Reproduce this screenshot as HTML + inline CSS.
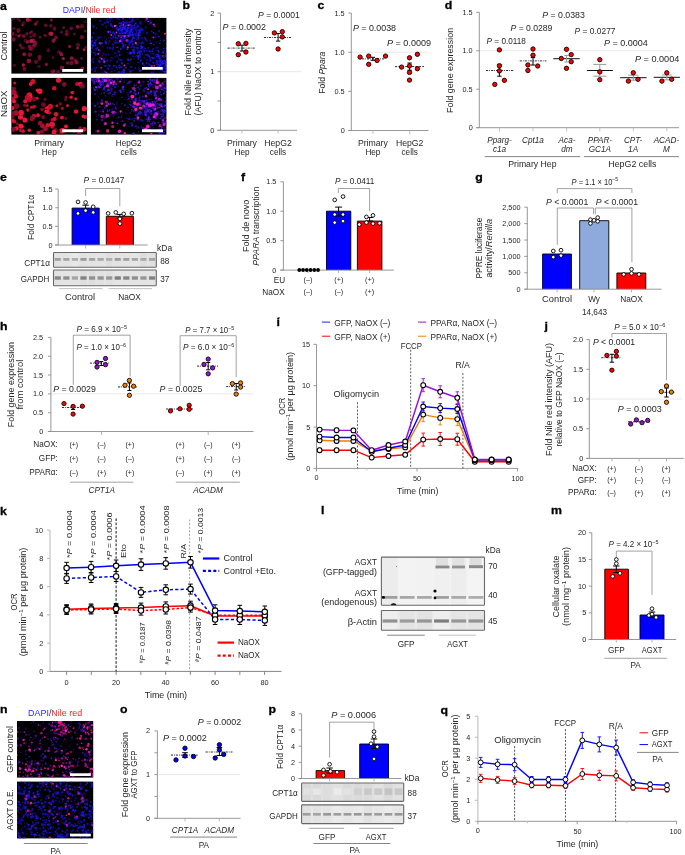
<!DOCTYPE html><html><head><meta charset="utf-8"><title>Figure</title><style>html,body{margin:0;padding:0;background:#fff;width:685px;height:855px;overflow:hidden}svg{display:block;font-family:"Liberation Sans",sans-serif;will-change:transform}</style></head><body><svg width="685" height="855" viewBox="0 0 685 855" font-family="Liberation Sans, sans-serif" fill="#262626"><defs><filter id="blur1" x="-5%" y="-5%" width="110%" height="110%"><feGaussianBlur stdDeviation="0.7"/></filter><filter id="blur2" x="-5%" y="-50%" width="110%" height="200%"><feGaussianBlur stdDeviation="0.6"/></filter><filter id="blur3" x="-50%" y="-50%" width="200%" height="200%"><feGaussianBlur stdDeviation="0.35"/></filter></defs><rect width="685" height="855" fill="#fff"/><text transform="translate(0.00 9.60) scale(1.07 1)" font-size="11.5" font-weight="bold" fill="#000" stroke="#000" stroke-width="0.3">a</text>
<text x="62.80" y="12.80" font-size="8.4" textLength="52.60" lengthAdjust="spacingAndGlyphs"><tspan fill="#2a2aff">DAPI</tspan>/<tspan fill="#ff2020">Nile red</tspan></text>
<clipPath id="clip1"><rect x="11.4" y="17.9" width="75.70" height="55.70"/></clipPath>
<rect x="11.4" y="17.9" width="75.70" height="55.70" fill="#000"/>
<g clip-path="url(#clip1)"><g filter="url(#blur1)">
<circle cx="96.3" cy="6.7" r="1.75" fill="#c81840" opacity="0.75"/>
<circle cx="53.8" cy="4.7" r="2.13" fill="#901030" opacity="0.79"/>
<circle cx="53.8" cy="4.7" r="0.85" fill="#3a20b0" opacity="0.60"/>
<circle cx="63.3" cy="58.5" r="1.60" fill="#c81840" opacity="0.86"/>
<circle cx="14.0" cy="28.4" r="1.77" fill="#601028" opacity="0.75"/>
<circle cx="14.0" cy="28.4" r="0.71" fill="#3a20b0" opacity="0.60"/>
<circle cx="50.9" cy="25.8" r="1.84" fill="#901030" opacity="0.62"/>
<circle cx="50.9" cy="25.8" r="0.73" fill="#3a20b0" opacity="0.60"/>
<circle cx="-7.5" cy="61.8" r="1.46" fill="#901030" opacity="0.93"/>
<circle cx="31.8" cy="48.4" r="2.25" fill="#601028" opacity="0.86"/>
<circle cx="67.5" cy="63.0" r="1.77" fill="#901030" opacity="0.72"/>
<circle cx="67.5" cy="63.0" r="0.71" fill="#3a20b0" opacity="0.60"/>
<circle cx="54.5" cy="29.0" r="1.76" fill="#901030" opacity="0.69"/>
<circle cx="54.5" cy="29.0" r="0.70" fill="#3a20b0" opacity="0.60"/>
<circle cx="58.6" cy="52.0" r="1.70" fill="#601028" opacity="0.64"/>
<circle cx="58.6" cy="52.0" r="0.68" fill="#3a20b0" opacity="0.60"/>
<circle cx="76.6" cy="62.4" r="2.08" fill="#c81840" opacity="0.65"/>
<circle cx="17.7" cy="18.8" r="1.22" fill="#901030" opacity="0.65"/>
<circle cx="17.7" cy="18.8" r="0.49" fill="#3a20b0" opacity="0.60"/>
<circle cx="37.5" cy="21.8" r="1.38" fill="#901030" opacity="0.62"/>
<circle cx="37.5" cy="21.8" r="0.55" fill="#3a20b0" opacity="0.60"/>
<circle cx="45.8" cy="35.8" r="1.72" fill="#601028" opacity="0.70"/>
<circle cx="45.8" cy="35.8" r="0.69" fill="#3a20b0" opacity="0.60"/>
<circle cx="28.9" cy="61.0" r="2.27" fill="#c81840" opacity="0.72"/>
<circle cx="88.0" cy="24.7" r="1.38" fill="#901030" opacity="0.82"/>
<circle cx="30.2" cy="20.2" r="1.45" fill="#901030" opacity="0.71"/>
<circle cx="16.1" cy="34.8" r="1.34" fill="#601028" opacity="0.57"/>
<circle cx="16.1" cy="34.8" r="0.54" fill="#3a20b0" opacity="0.60"/>
<circle cx="70.3" cy="5.1" r="1.48" fill="#601028" opacity="0.90"/>
<circle cx="70.3" cy="5.1" r="0.59" fill="#3a20b0" opacity="0.60"/>
<circle cx="84.2" cy="49.7" r="1.39" fill="#c81840" opacity="0.94"/>
<circle cx="40.0" cy="37.2" r="1.43" fill="#901030" opacity="0.72"/>
<circle cx="40.0" cy="37.2" r="0.57" fill="#3a20b0" opacity="0.60"/>
<circle cx="20.4" cy="35.0" r="1.22" fill="#901030" opacity="0.71"/>
<circle cx="20.4" cy="35.0" r="0.49" fill="#3a20b0" opacity="0.60"/>
<circle cx="5.8" cy="109.7" r="2.06" fill="#601028" opacity="0.64"/>
<circle cx="82.0" cy="37.1" r="2.17" fill="#901030" opacity="0.74"/>
<circle cx="49.1" cy="33.6" r="1.38" fill="#901030" opacity="0.66"/>
<circle cx="49.1" cy="33.6" r="0.55" fill="#3a20b0" opacity="0.60"/>
<circle cx="30.7" cy="36.8" r="1.33" fill="#601028" opacity="0.93"/>
<circle cx="48.4" cy="50.2" r="2.05" fill="#601028" opacity="0.71"/>
<circle cx="48.4" cy="50.2" r="0.82" fill="#3a20b0" opacity="0.60"/>
<circle cx="22.6" cy="24.9" r="1.33" fill="#901030" opacity="0.92"/>
<circle cx="22.6" cy="24.9" r="0.53" fill="#3a20b0" opacity="0.60"/>
<circle cx="54.2" cy="70.9" r="1.60" fill="#601028" opacity="0.76"/>
<circle cx="54.2" cy="70.9" r="0.64" fill="#3a20b0" opacity="0.60"/>
<circle cx="19.6" cy="20.4" r="1.53" fill="#901030" opacity="0.56"/>
<circle cx="19.6" cy="20.4" r="0.61" fill="#3a20b0" opacity="0.60"/>
<circle cx="71.2" cy="28.4" r="2.06" fill="#901030" opacity="0.61"/>
<circle cx="71.2" cy="28.4" r="0.83" fill="#3a20b0" opacity="0.60"/>
<circle cx="23.4" cy="65.0" r="1.68" fill="#c81840" opacity="0.87"/>
<circle cx="53.1" cy="57.5" r="1.55" fill="#601028" opacity="0.68"/>
<circle cx="53.1" cy="57.5" r="0.62" fill="#3a20b0" opacity="0.60"/>
<circle cx="81.5" cy="58.4" r="1.55" fill="#601028" opacity="0.71"/>
<circle cx="81.5" cy="58.4" r="0.62" fill="#3a20b0" opacity="0.60"/>
<circle cx="31.3" cy="41.0" r="1.44" fill="#901030" opacity="0.94"/>
<circle cx="61.5" cy="32.3" r="1.80" fill="#601028" opacity="0.65"/>
<circle cx="61.5" cy="32.3" r="0.72" fill="#3a20b0" opacity="0.60"/>
<circle cx="61.5" cy="54.4" r="1.91" fill="#c81840" opacity="0.71"/>
<circle cx="61.5" cy="54.4" r="0.76" fill="#3a20b0" opacity="0.60"/>
<circle cx="72.1" cy="11.8" r="2.21" fill="#601028" opacity="0.59"/>
<circle cx="18.4" cy="30.2" r="2.09" fill="#901030" opacity="0.66"/>
<circle cx="13.0" cy="18.5" r="2.03" fill="#601028" opacity="0.74"/>
<circle cx="78.1" cy="44.9" r="2.24" fill="#601028" opacity="0.86"/>
<circle cx="35.6" cy="23.9" r="1.77" fill="#c81840" opacity="0.67"/>
<circle cx="51.2" cy="33.8" r="2.19" fill="#c81840" opacity="0.91"/>
<circle cx="63.6" cy="27.8" r="1.68" fill="#601028" opacity="0.84"/>
<circle cx="24.9" cy="36.0" r="1.67" fill="#601028" opacity="0.73"/>
<circle cx="18.3" cy="84.6" r="1.23" fill="#901030" opacity="0.72"/>
<circle cx="51.4" cy="20.2" r="1.35" fill="#c81840" opacity="0.66"/>
<circle cx="29.4" cy="46.6" r="1.78" fill="#901030" opacity="0.81"/>
<circle cx="29.4" cy="46.6" r="0.71" fill="#3a20b0" opacity="0.60"/>
<circle cx="66.8" cy="31.2" r="1.74" fill="#901030" opacity="0.64"/>
<circle cx="66.8" cy="31.2" r="0.70" fill="#3a20b0" opacity="0.60"/>
<circle cx="80.1" cy="69.0" r="1.50" fill="#901030" opacity="0.57"/>
<circle cx="80.1" cy="69.0" r="0.60" fill="#3a20b0" opacity="0.60"/>
<circle cx="77.8" cy="26.8" r="2.04" fill="#c81840" opacity="0.67"/>
<circle cx="39.5" cy="57.0" r="2.01" fill="#901030" opacity="0.89"/>
<circle cx="54.6" cy="27.7" r="1.48" fill="#601028" opacity="0.78"/>
<circle cx="18.8" cy="36.0" r="1.62" fill="#c81840" opacity="0.77"/>
<circle cx="18.2" cy="32.1" r="1.31" fill="#901030" opacity="0.58"/>
<circle cx="58.1" cy="71.8" r="1.96" fill="#601028" opacity="0.89"/>
<circle cx="58.1" cy="71.8" r="0.78" fill="#3a20b0" opacity="0.60"/>
<circle cx="82.6" cy="68.2" r="1.64" fill="#c81840" opacity="0.73"/>
<circle cx="27.4" cy="41.9" r="1.79" fill="#c81840" opacity="0.81"/>
<circle cx="27.4" cy="41.9" r="0.71" fill="#3a20b0" opacity="0.60"/>
<circle cx="30.1" cy="41.0" r="1.68" fill="#601028" opacity="0.80"/>
<circle cx="27.0" cy="33.8" r="1.80" fill="#601028" opacity="0.78"/>
<circle cx="27.0" cy="33.8" r="0.72" fill="#3a20b0" opacity="0.60"/>
<circle cx="71.3" cy="62.9" r="2.27" fill="#901030" opacity="0.75"/>
<circle cx="54.6" cy="39.2" r="1.51" fill="#601028" opacity="0.87"/>
<circle cx="54.6" cy="39.2" r="0.60" fill="#3a20b0" opacity="0.60"/>
<circle cx="52.7" cy="71.6" r="2.04" fill="#c81840" opacity="0.60"/>
<circle cx="35.0" cy="45.9" r="1.59" fill="#901030" opacity="0.55"/>
<circle cx="35.0" cy="45.9" r="0.64" fill="#3a20b0" opacity="0.60"/>
<circle cx="62.2" cy="12.9" r="2.00" fill="#901030" opacity="0.60"/>
<circle cx="31.1" cy="41.1" r="1.86" fill="#c81840" opacity="0.88"/>
<circle cx="46.3" cy="64.4" r="1.65" fill="#901030" opacity="0.95"/>
<circle cx="46.3" cy="64.4" r="0.66" fill="#3a20b0" opacity="0.60"/>
<circle cx="23.3" cy="36.1" r="1.78" fill="#901030" opacity="0.78"/>
<circle cx="12.5" cy="33.7" r="2.19" fill="#901030" opacity="0.75"/>
<circle cx="60.5" cy="53.0" r="1.65" fill="#901030" opacity="0.80"/>
<circle cx="75.5" cy="60.6" r="2.10" fill="#901030" opacity="0.69"/>
<circle cx="75.5" cy="60.6" r="0.84" fill="#3a20b0" opacity="0.60"/>
<circle cx="77.6" cy="48.2" r="1.37" fill="#c81840" opacity="0.74"/>
<circle cx="77.6" cy="48.2" r="0.55" fill="#3a20b0" opacity="0.60"/>
<circle cx="32.9" cy="45.8" r="1.28" fill="#601028" opacity="0.73"/>
<circle cx="32.9" cy="45.8" r="0.51" fill="#3a20b0" opacity="0.60"/>
<circle cx="23.6" cy="23.1" r="1.90" fill="#601028" opacity="0.67"/>
<circle cx="66.7" cy="34.3" r="2.11" fill="#901030" opacity="0.70"/>
<circle cx="24.2" cy="54.3" r="1.98" fill="#c81840" opacity="0.66"/>
<circle cx="20.3" cy="45.2" r="1.49" fill="#901030" opacity="0.84"/>
<circle cx="20.3" cy="45.2" r="0.59" fill="#3a20b0" opacity="0.60"/>
<circle cx="29.9" cy="54.7" r="2.14" fill="#c81840" opacity="0.71"/>
<circle cx="30.2" cy="32.9" r="1.28" fill="#901030" opacity="0.90"/>
<circle cx="82.0" cy="26.2" r="2.24" fill="#901030" opacity="0.62"/>
<circle cx="44.8" cy="35.2" r="1.64" fill="#601028" opacity="0.63"/>
<circle cx="1.9" cy="73.1" r="1.31" fill="#601028" opacity="0.57"/>
<circle cx="27.8" cy="19.8" r="1.97" fill="#c81840" opacity="0.94"/>
<circle cx="20.9" cy="93.7" r="1.39" fill="#601028" opacity="0.64"/>
<circle cx="20.9" cy="93.7" r="0.56" fill="#3a20b0" opacity="0.60"/>
<circle cx="85.1" cy="31.0" r="1.51" fill="#901030" opacity="0.71"/>
<circle cx="85.1" cy="31.0" r="0.60" fill="#3a20b0" opacity="0.60"/>
<circle cx="36.1" cy="61.8" r="2.29" fill="#601028" opacity="0.87"/>
<circle cx="85.0" cy="12.6" r="1.42" fill="#601028" opacity="0.88"/>
<circle cx="13.7" cy="39.5" r="2.16" fill="#901030" opacity="0.78"/>
<circle cx="13.7" cy="39.5" r="0.87" fill="#3a20b0" opacity="0.60"/>
<circle cx="36.5" cy="14.9" r="1.24" fill="#601028" opacity="0.89"/>
<circle cx="36.5" cy="14.9" r="0.50" fill="#3a20b0" opacity="0.60"/>
<circle cx="23.6" cy="48.0" r="1.75" fill="#601028" opacity="0.66"/>
<circle cx="42.8" cy="81.0" r="2.27" fill="#901030" opacity="0.65"/>
<circle cx="42.8" cy="81.0" r="0.91" fill="#3a20b0" opacity="0.60"/>
<circle cx="56.1" cy="37.4" r="1.87" fill="#901030" opacity="0.76"/>
<circle cx="56.1" cy="37.4" r="0.75" fill="#3a20b0" opacity="0.60"/>
<circle cx="72.5" cy="14.5" r="1.79" fill="#c81840" opacity="0.58"/>
<circle cx="72.5" cy="14.5" r="0.72" fill="#3a20b0" opacity="0.60"/>
<circle cx="85.0" cy="21.9" r="1.40" fill="#601028" opacity="0.57"/>
<circle cx="85.0" cy="21.9" r="0.56" fill="#3a20b0" opacity="0.60"/>
<circle cx="24.4" cy="68.9" r="2.09" fill="#901030" opacity="0.70"/>
<circle cx="35.1" cy="42.9" r="2.18" fill="#901030" opacity="0.91"/>
<circle cx="35.1" cy="42.9" r="0.87" fill="#3a20b0" opacity="0.60"/>
<circle cx="31.8" cy="31.8" r="1.56" fill="#601028" opacity="0.89"/>
<circle cx="31.8" cy="31.8" r="0.62" fill="#3a20b0" opacity="0.60"/>
<circle cx="53.5" cy="40.8" r="2.09" fill="#c81840" opacity="0.67"/>
<circle cx="53.5" cy="40.8" r="0.84" fill="#3a20b0" opacity="0.60"/>
<circle cx="30.0" cy="54.5" r="1.76" fill="#601028" opacity="0.91"/>
<circle cx="30.0" cy="54.5" r="0.70" fill="#3a20b0" opacity="0.60"/>
<circle cx="-12.7" cy="88.3" r="1.99" fill="#c81840" opacity="0.83"/>
<circle cx="74.4" cy="34.1" r="1.37" fill="#601028" opacity="0.76"/>
<circle cx="74.4" cy="34.1" r="0.55" fill="#3a20b0" opacity="0.60"/>
<circle cx="34.2" cy="45.3" r="2.08" fill="#901030" opacity="0.72"/>
<circle cx="34.2" cy="45.3" r="0.83" fill="#3a20b0" opacity="0.60"/>
<circle cx="45.9" cy="25.5" r="1.78" fill="#601028" opacity="0.92"/>
<circle cx="45.9" cy="25.5" r="0.71" fill="#3a20b0" opacity="0.60"/>
<circle cx="21.8" cy="47.8" r="1.70" fill="#601028" opacity="0.85"/>
<circle cx="21.8" cy="47.8" r="0.68" fill="#3a20b0" opacity="0.60"/>
<circle cx="17.3" cy="50.1" r="1.26" fill="#601028" opacity="0.75"/>
<circle cx="6.1" cy="51.5" r="1.60" fill="#c81840" opacity="0.81"/>
<circle cx="6.1" cy="51.5" r="0.64" fill="#3a20b0" opacity="0.60"/>
<circle cx="85.6" cy="47.5" r="1.38" fill="#601028" opacity="0.82"/>
<circle cx="25.4" cy="40.8" r="2.00" fill="#601028" opacity="0.59"/>
<circle cx="30.2" cy="48.9" r="1.83" fill="#901030" opacity="0.89"/>
<circle cx="35.5" cy="98.9" r="1.22" fill="#601028" opacity="0.89"/>
<circle cx="-4.8" cy="55.5" r="2.18" fill="#901030" opacity="0.82"/>
<circle cx="71.8" cy="58.3" r="2.10" fill="#c81840" opacity="0.65"/>
<circle cx="71.8" cy="58.3" r="0.84" fill="#3a20b0" opacity="0.60"/>
<circle cx="69.7" cy="46.5" r="1.74" fill="#901030" opacity="0.90"/>
<circle cx="14.4" cy="65.3" r="1.70" fill="#601028" opacity="0.67"/>
<circle cx="34.3" cy="35.1" r="2.29" fill="#601028" opacity="0.86"/>
<circle cx="32.8" cy="40.8" r="2.23" fill="#c81840" opacity="0.76"/>
<circle cx="45.7" cy="25.2" r="1.69" fill="#601028" opacity="0.86"/>
<circle cx="39.1" cy="66.5" r="1.82" fill="#601028" opacity="0.71"/>
<circle cx="62.1" cy="68.0" r="2.22" fill="#c81840" opacity="0.70"/>
<circle cx="62.1" cy="68.0" r="0.89" fill="#3a20b0" opacity="0.60"/>
<circle cx="39.6" cy="59.6" r="1.73" fill="#601028" opacity="0.73"/>
<circle cx="39.6" cy="59.6" r="0.69" fill="#3a20b0" opacity="0.60"/>
</g></g>
<clipPath id="clip2"><rect x="90.9" y="17.9" width="75.50" height="55.70"/></clipPath>
<rect x="90.9" y="17.9" width="75.50" height="55.70" fill="#000"/>
<g clip-path="url(#clip2)"><g filter="url(#blur1)">
<circle cx="151.4" cy="31.3" r="1.03" fill="#2a20ff" opacity="0.52"/>
<circle cx="133.5" cy="33.8" r="1.03" fill="#1410c8" opacity="0.63"/>
<circle cx="102.1" cy="79.1" r="0.92" fill="#2a20ff" opacity="0.51"/>
<circle cx="175.6" cy="58.1" r="1.10" fill="#1410c8" opacity="0.64"/>
<circle cx="138.1" cy="35.0" r="0.80" fill="#2a20ff" opacity="0.50"/>
<circle cx="110.1" cy="79.7" r="1.11" fill="#1a14ff" opacity="0.57"/>
<circle cx="168.8" cy="71.4" r="0.64" fill="#1a14ff" opacity="0.73"/>
<circle cx="110.3" cy="30.9" r="1.09" fill="#1a14ff" opacity="0.47"/>
<circle cx="123.2" cy="46.1" r="0.87" fill="#1a14ff" opacity="0.76"/>
<circle cx="170.7" cy="75.2" r="1.04" fill="#2018e8" opacity="0.44"/>
<circle cx="110.9" cy="69.0" r="0.84" fill="#1a14ff" opacity="0.46"/>
<circle cx="120.8" cy="81.6" r="0.85" fill="#1a14ff" opacity="0.42"/>
<circle cx="138.3" cy="52.1" r="1.21" fill="#1410c8" opacity="0.71"/>
<circle cx="173.6" cy="60.3" r="0.80" fill="#1a14ff" opacity="0.68"/>
<circle cx="132.9" cy="18.1" r="1.16" fill="#2a20ff" opacity="0.75"/>
<circle cx="93.2" cy="42.8" r="1.14" fill="#1410c8" opacity="0.41"/>
<circle cx="164.4" cy="60.3" r="0.92" fill="#2a20ff" opacity="0.56"/>
<circle cx="169.6" cy="59.9" r="1.02" fill="#2a20ff" opacity="0.75"/>
<circle cx="139.1" cy="27.7" r="0.70" fill="#2018e8" opacity="0.45"/>
<circle cx="116.6" cy="42.3" r="1.25" fill="#1a14ff" opacity="0.52"/>
<circle cx="92.8" cy="44.9" r="1.01" fill="#2018e8" opacity="0.80"/>
<circle cx="163.2" cy="63.9" r="0.94" fill="#1410c8" opacity="0.40"/>
<circle cx="163.4" cy="75.5" r="0.76" fill="#1a14ff" opacity="0.45"/>
<circle cx="142.5" cy="29.6" r="0.94" fill="#1a14ff" opacity="0.63"/>
<circle cx="113.4" cy="37.0" r="1.07" fill="#2018e8" opacity="0.62"/>
<circle cx="130.4" cy="71.5" r="1.20" fill="#2a20ff" opacity="0.69"/>
<circle cx="134.2" cy="87.1" r="0.61" fill="#1410c8" opacity="0.88"/>
<circle cx="88.4" cy="61.1" r="0.80" fill="#1410c8" opacity="0.84"/>
<circle cx="127.8" cy="34.2" r="1.13" fill="#1a14ff" opacity="0.43"/>
<circle cx="108.6" cy="23.9" r="0.60" fill="#1a14ff" opacity="0.41"/>
<circle cx="126.7" cy="37.6" r="0.73" fill="#2a20ff" opacity="0.69"/>
<circle cx="123.5" cy="28.6" r="0.86" fill="#1410c8" opacity="0.46"/>
<circle cx="104.8" cy="76.2" r="1.02" fill="#1410c8" opacity="0.88"/>
<circle cx="176.2" cy="61.9" r="1.11" fill="#2a20ff" opacity="0.76"/>
<circle cx="85.5" cy="61.4" r="1.12" fill="#2018e8" opacity="0.53"/>
<circle cx="128.1" cy="59.6" r="1.21" fill="#2a20ff" opacity="0.82"/>
<circle cx="118.4" cy="42.8" r="0.96" fill="#1410c8" opacity="0.75"/>
<circle cx="176.6" cy="52.4" r="0.65" fill="#1a14ff" opacity="0.49"/>
<circle cx="124.3" cy="77.1" r="1.12" fill="#1a14ff" opacity="0.86"/>
<circle cx="126.8" cy="22.5" r="1.23" fill="#2018e8" opacity="0.60"/>
<circle cx="164.7" cy="48.1" r="0.71" fill="#2a20ff" opacity="0.54"/>
<circle cx="120.7" cy="28.2" r="0.66" fill="#2a20ff" opacity="0.66"/>
<circle cx="165.4" cy="56.2" r="0.90" fill="#2018e8" opacity="0.75"/>
<circle cx="127.7" cy="27.9" r="0.90" fill="#2018e8" opacity="0.76"/>
<circle cx="143.5" cy="52.3" r="0.86" fill="#2018e8" opacity="0.43"/>
<circle cx="110.0" cy="48.1" r="1.06" fill="#2a20ff" opacity="0.64"/>
<circle cx="111.9" cy="82.5" r="1.10" fill="#1a14ff" opacity="0.83"/>
<circle cx="133.5" cy="49.9" r="1.24" fill="#2a20ff" opacity="0.72"/>
<circle cx="163.2" cy="79.5" r="1.02" fill="#2a20ff" opacity="0.81"/>
<circle cx="162.7" cy="75.6" r="1.19" fill="#2a20ff" opacity="0.84"/>
<circle cx="84.9" cy="74.7" r="0.78" fill="#2018e8" opacity="0.86"/>
<circle cx="137.0" cy="38.3" r="0.61" fill="#2018e8" opacity="0.74"/>
<circle cx="89.9" cy="53.0" r="1.06" fill="#2a20ff" opacity="0.89"/>
<circle cx="161.4" cy="64.4" r="0.95" fill="#2a20ff" opacity="0.73"/>
<circle cx="95.2" cy="54.8" r="0.90" fill="#1410c8" opacity="0.84"/>
<circle cx="93.1" cy="44.1" r="0.71" fill="#1410c8" opacity="0.78"/>
<circle cx="168.5" cy="63.9" r="0.64" fill="#2018e8" opacity="0.65"/>
<circle cx="88.2" cy="39.8" r="0.96" fill="#1410c8" opacity="0.88"/>
<circle cx="185.7" cy="77.1" r="0.73" fill="#2a20ff" opacity="0.74"/>
<circle cx="85.2" cy="36.9" r="0.65" fill="#1410c8" opacity="0.81"/>
<circle cx="110.8" cy="60.3" r="1.02" fill="#1410c8" opacity="0.60"/>
<circle cx="172.7" cy="56.0" r="0.85" fill="#2018e8" opacity="0.67"/>
<circle cx="169.1" cy="72.0" r="0.80" fill="#1a14ff" opacity="0.52"/>
<circle cx="81.9" cy="40.3" r="1.22" fill="#1a14ff" opacity="0.46"/>
<circle cx="166.6" cy="41.9" r="0.81" fill="#2018e8" opacity="0.44"/>
<circle cx="84.6" cy="50.1" r="0.90" fill="#1410c8" opacity="0.47"/>
<circle cx="160.8" cy="59.7" r="0.81" fill="#1410c8" opacity="0.45"/>
<circle cx="127.2" cy="52.8" r="0.72" fill="#1410c8" opacity="0.47"/>
<circle cx="144.3" cy="50.6" r="0.86" fill="#2a20ff" opacity="0.81"/>
<circle cx="166.3" cy="87.3" r="1.08" fill="#1410c8" opacity="0.78"/>
<circle cx="157.6" cy="47.8" r="0.95" fill="#1410c8" opacity="0.72"/>
<circle cx="88.0" cy="73.9" r="0.77" fill="#2018e8" opacity="0.85"/>
<circle cx="74.9" cy="45.8" r="0.80" fill="#2018e8" opacity="0.59"/>
<circle cx="168.4" cy="75.4" r="1.20" fill="#1a14ff" opacity="0.84"/>
<circle cx="160.0" cy="63.0" r="0.75" fill="#1410c8" opacity="0.82"/>
<circle cx="118.3" cy="29.9" r="0.83" fill="#2018e8" opacity="0.50"/>
<circle cx="93.5" cy="45.8" r="0.82" fill="#2018e8" opacity="0.47"/>
<circle cx="169.0" cy="81.5" r="1.06" fill="#2018e8" opacity="0.76"/>
<circle cx="163.1" cy="77.9" r="1.16" fill="#1a14ff" opacity="0.49"/>
<circle cx="78.9" cy="73.9" r="0.81" fill="#2018e8" opacity="0.69"/>
<circle cx="85.7" cy="81.2" r="0.75" fill="#2a20ff" opacity="0.43"/>
<circle cx="146.9" cy="66.4" r="0.95" fill="#1410c8" opacity="0.71"/>
<circle cx="84.1" cy="59.9" r="1.24" fill="#2a20ff" opacity="0.82"/>
<circle cx="93.6" cy="49.9" r="0.63" fill="#2a20ff" opacity="0.45"/>
<circle cx="142.2" cy="38.4" r="0.65" fill="#2018e8" opacity="0.55"/>
<circle cx="158.7" cy="56.6" r="0.74" fill="#1410c8" opacity="0.41"/>
<circle cx="123.0" cy="29.4" r="0.63" fill="#2a20ff" opacity="0.85"/>
<circle cx="140.5" cy="52.1" r="0.69" fill="#1a14ff" opacity="0.65"/>
<circle cx="172.4" cy="75.4" r="1.13" fill="#1a14ff" opacity="0.66"/>
<circle cx="108.2" cy="22.2" r="0.92" fill="#1410c8" opacity="0.47"/>
<circle cx="95.1" cy="77.8" r="1.00" fill="#1a14ff" opacity="0.71"/>
<circle cx="156.5" cy="61.3" r="0.93" fill="#2018e8" opacity="0.82"/>
<circle cx="138.1" cy="29.4" r="0.73" fill="#2a20ff" opacity="0.57"/>
<circle cx="134.1" cy="38.0" r="1.13" fill="#1410c8" opacity="0.68"/>
<circle cx="88.9" cy="52.4" r="1.24" fill="#2a20ff" opacity="0.51"/>
<circle cx="174.5" cy="62.6" r="0.62" fill="#1a14ff" opacity="0.68"/>
<circle cx="138.8" cy="56.7" r="1.02" fill="#1a14ff" opacity="0.71"/>
<circle cx="168.5" cy="66.6" r="1.08" fill="#1a14ff" opacity="0.83"/>
<circle cx="141.6" cy="43.6" r="1.05" fill="#1a14ff" opacity="0.90"/>
<circle cx="134.9" cy="25.2" r="1.10" fill="#2018e8" opacity="0.45"/>
<circle cx="122.1" cy="17.7" r="1.23" fill="#1410c8" opacity="0.48"/>
<circle cx="166.8" cy="66.7" r="0.87" fill="#1a14ff" opacity="0.61"/>
<circle cx="174.5" cy="57.6" r="1.01" fill="#1a14ff" opacity="0.77"/>
<circle cx="128.8" cy="76.6" r="0.95" fill="#1410c8" opacity="0.60"/>
<circle cx="118.6" cy="51.6" r="1.10" fill="#2a20ff" opacity="0.75"/>
<circle cx="175.1" cy="49.6" r="0.85" fill="#1410c8" opacity="0.71"/>
<circle cx="135.8" cy="35.0" r="1.09" fill="#2018e8" opacity="0.83"/>
<circle cx="167.0" cy="78.5" r="0.74" fill="#2a20ff" opacity="0.71"/>
<circle cx="110.4" cy="21.2" r="1.16" fill="#1410c8" opacity="0.67"/>
<circle cx="161.3" cy="63.6" r="0.73" fill="#1a14ff" opacity="0.56"/>
<circle cx="153.7" cy="70.2" r="1.13" fill="#1410c8" opacity="0.44"/>
<circle cx="90.8" cy="42.4" r="0.74" fill="#2018e8" opacity="0.48"/>
<circle cx="158.1" cy="66.7" r="1.19" fill="#2a20ff" opacity="0.72"/>
<circle cx="77.4" cy="45.3" r="0.70" fill="#2018e8" opacity="0.55"/>
<circle cx="168.1" cy="58.8" r="0.98" fill="#1410c8" opacity="0.75"/>
<circle cx="108.5" cy="76.8" r="0.77" fill="#1a14ff" opacity="0.52"/>
<circle cx="132.5" cy="19.7" r="1.23" fill="#1a14ff" opacity="0.60"/>
<circle cx="95.9" cy="42.1" r="0.75" fill="#2018e8" opacity="0.67"/>
<circle cx="172.5" cy="52.6" r="0.63" fill="#1a14ff" opacity="0.75"/>
<circle cx="124.7" cy="35.7" r="0.93" fill="#1410c8" opacity="0.66"/>
<circle cx="156.9" cy="64.2" r="1.08" fill="#2a20ff" opacity="0.51"/>
<circle cx="167.4" cy="73.7" r="0.73" fill="#2018e8" opacity="0.52"/>
<circle cx="159.9" cy="68.1" r="1.02" fill="#1a14ff" opacity="0.67"/>
<circle cx="110.0" cy="15.3" r="0.62" fill="#2018e8" opacity="0.66"/>
<circle cx="99.3" cy="43.2" r="1.10" fill="#1410c8" opacity="0.74"/>
<circle cx="91.0" cy="63.5" r="0.84" fill="#1410c8" opacity="0.87"/>
<circle cx="112.8" cy="33.0" r="0.93" fill="#1410c8" opacity="0.88"/>
<circle cx="171.4" cy="75.0" r="0.83" fill="#1a14ff" opacity="0.89"/>
<circle cx="115.1" cy="53.1" r="1.05" fill="#1a14ff" opacity="0.65"/>
<circle cx="151.1" cy="68.2" r="0.71" fill="#2018e8" opacity="0.42"/>
<circle cx="134.1" cy="21.1" r="1.04" fill="#1410c8" opacity="0.55"/>
<circle cx="137.6" cy="53.1" r="0.86" fill="#2018e8" opacity="0.85"/>
<circle cx="115.0" cy="56.9" r="0.75" fill="#2018e8" opacity="0.49"/>
<circle cx="165.0" cy="71.3" r="0.98" fill="#1410c8" opacity="0.51"/>
<circle cx="108.3" cy="68.8" r="0.88" fill="#2a20ff" opacity="0.79"/>
<circle cx="133.3" cy="38.4" r="0.63" fill="#1410c8" opacity="0.88"/>
<circle cx="132.6" cy="32.9" r="0.99" fill="#2a20ff" opacity="0.81"/>
<circle cx="158.0" cy="57.0" r="1.15" fill="#2018e8" opacity="0.47"/>
<circle cx="115.3" cy="12.7" r="0.97" fill="#2a20ff" opacity="0.53"/>
<circle cx="85.5" cy="44.5" r="0.78" fill="#2a20ff" opacity="0.51"/>
<circle cx="159.0" cy="62.2" r="1.00" fill="#2a20ff" opacity="0.41"/>
<circle cx="125.0" cy="38.3" r="0.97" fill="#2a20ff" opacity="0.74"/>
<circle cx="130.7" cy="52.2" r="1.19" fill="#2a20ff" opacity="0.52"/>
<circle cx="150.4" cy="59.5" r="0.87" fill="#1410c8" opacity="0.65"/>
<circle cx="117.6" cy="106.3" r="0.68" fill="#2a20ff" opacity="0.70"/>
<circle cx="131.3" cy="29.2" r="0.89" fill="#2a20ff" opacity="0.87"/>
<circle cx="167.3" cy="50.8" r="0.71" fill="#1410c8" opacity="0.52"/>
<circle cx="109.7" cy="65.8" r="1.06" fill="#2a20ff" opacity="0.76"/>
<circle cx="125.5" cy="45.1" r="0.79" fill="#2a20ff" opacity="0.76"/>
<circle cx="115.8" cy="85.5" r="0.86" fill="#1a14ff" opacity="0.42"/>
<circle cx="91.0" cy="44.2" r="0.81" fill="#1410c8" opacity="0.56"/>
<circle cx="128.5" cy="40.6" r="1.11" fill="#1410c8" opacity="0.66"/>
<circle cx="76.8" cy="53.0" r="1.18" fill="#2a20ff" opacity="0.70"/>
<circle cx="179.1" cy="75.4" r="0.61" fill="#1a14ff" opacity="0.60"/>
<circle cx="132.6" cy="9.7" r="1.02" fill="#2a20ff" opacity="0.69"/>
<circle cx="137.0" cy="45.3" r="0.80" fill="#1410c8" opacity="0.82"/>
<circle cx="128.6" cy="26.0" r="0.66" fill="#1410c8" opacity="0.51"/>
<circle cx="169.9" cy="90.5" r="1.18" fill="#2018e8" opacity="0.67"/>
<circle cx="113.3" cy="17.3" r="0.75" fill="#2a20ff" opacity="0.83"/>
<circle cx="136.6" cy="39.5" r="0.86" fill="#1a14ff" opacity="0.64"/>
<circle cx="161.2" cy="62.8" r="1.15" fill="#2018e8" opacity="0.71"/>
<circle cx="158.5" cy="41.6" r="0.60" fill="#2018e8" opacity="0.44"/>
<circle cx="150.0" cy="51.4" r="0.86" fill="#1410c8" opacity="0.82"/>
<circle cx="164.1" cy="75.5" r="0.97" fill="#1a14ff" opacity="0.64"/>
<circle cx="104.8" cy="71.6" r="1.12" fill="#2018e8" opacity="0.84"/>
<circle cx="98.9" cy="38.0" r="0.70" fill="#1410c8" opacity="0.64"/>
<circle cx="113.1" cy="55.1" r="0.79" fill="#1410c8" opacity="0.41"/>
<circle cx="112.4" cy="73.7" r="0.72" fill="#2018e8" opacity="0.55"/>
<circle cx="117.8" cy="78.5" r="0.90" fill="#1410c8" opacity="0.43"/>
<circle cx="140.8" cy="46.2" r="1.12" fill="#1410c8" opacity="0.72"/>
<circle cx="168.8" cy="79.8" r="0.62" fill="#2018e8" opacity="0.46"/>
<circle cx="92.1" cy="69.2" r="0.83" fill="#2018e8" opacity="0.88"/>
<circle cx="169.1" cy="51.1" r="1.09" fill="#1a14ff" opacity="0.57"/>
<circle cx="139.0" cy="15.9" r="0.69" fill="#1a14ff" opacity="0.77"/>
<circle cx="121.4" cy="26.0" r="0.79" fill="#1410c8" opacity="0.85"/>
<circle cx="146.9" cy="32.8" r="1.18" fill="#1a14ff" opacity="0.58"/>
<circle cx="155.8" cy="37.2" r="0.66" fill="#2018e8" opacity="0.86"/>
<circle cx="132.3" cy="20.9" r="1.24" fill="#1410c8" opacity="0.84"/>
<circle cx="106.3" cy="26.7" r="1.14" fill="#1a14ff" opacity="0.57"/>
<circle cx="101.8" cy="75.7" r="0.94" fill="#2018e8" opacity="0.46"/>
<circle cx="177.1" cy="66.2" r="0.69" fill="#2a20ff" opacity="0.78"/>
<circle cx="170.1" cy="61.5" r="0.66" fill="#1a14ff" opacity="0.82"/>
<circle cx="166.2" cy="53.6" r="0.95" fill="#1a14ff" opacity="0.56"/>
<circle cx="119.9" cy="82.9" r="0.90" fill="#2a20ff" opacity="0.56"/>
<circle cx="162.8" cy="77.9" r="1.09" fill="#1a14ff" opacity="0.53"/>
<circle cx="119.4" cy="79.0" r="0.69" fill="#1a14ff" opacity="0.88"/>
<circle cx="113.0" cy="48.1" r="0.70" fill="#2a20ff" opacity="0.45"/>
<circle cx="124.0" cy="28.0" r="0.87" fill="#1a14ff" opacity="0.74"/>
<circle cx="172.7" cy="64.3" r="1.12" fill="#2018e8" opacity="0.59"/>
<circle cx="172.1" cy="69.0" r="1.13" fill="#1410c8" opacity="0.68"/>
<circle cx="125.9" cy="67.5" r="0.92" fill="#2a20ff" opacity="0.83"/>
<circle cx="125.8" cy="16.0" r="1.02" fill="#2018e8" opacity="0.61"/>
<circle cx="149.8" cy="58.3" r="0.95" fill="#1410c8" opacity="0.68"/>
<circle cx="141.8" cy="30.0" r="1.07" fill="#2a20ff" opacity="0.85"/>
<circle cx="150.0" cy="61.8" r="0.70" fill="#1410c8" opacity="0.51"/>
<circle cx="167.6" cy="66.6" r="0.88" fill="#2018e8" opacity="0.89"/>
<circle cx="120.9" cy="86.2" r="1.16" fill="#2018e8" opacity="0.55"/>
<circle cx="95.7" cy="50.4" r="1.04" fill="#1410c8" opacity="0.51"/>
<circle cx="150.5" cy="60.5" r="1.18" fill="#1a14ff" opacity="0.67"/>
<circle cx="123.6" cy="45.1" r="1.11" fill="#2a20ff" opacity="0.85"/>
<circle cx="126.9" cy="107.1" r="0.93" fill="#2018e8" opacity="0.53"/>
<circle cx="118.4" cy="35.6" r="0.93" fill="#2a20ff" opacity="0.76"/>
<circle cx="166.6" cy="69.8" r="1.21" fill="#1410c8" opacity="0.77"/>
<circle cx="108.8" cy="65.1" r="0.89" fill="#2018e8" opacity="0.50"/>
<circle cx="133.7" cy="37.4" r="0.63" fill="#1410c8" opacity="0.56"/>
<circle cx="122.2" cy="28.7" r="0.69" fill="#2a20ff" opacity="0.75"/>
<circle cx="147.1" cy="51.3" r="0.87" fill="#1a14ff" opacity="0.82"/>
<circle cx="117.3" cy="69.0" r="0.74" fill="#1410c8" opacity="0.74"/>
<circle cx="133.9" cy="23.5" r="0.67" fill="#1410c8" opacity="0.40"/>
<circle cx="144.9" cy="51.9" r="0.70" fill="#1a14ff" opacity="0.55"/>
<circle cx="108.1" cy="68.0" r="1.18" fill="#1410c8" opacity="0.45"/>
<circle cx="124.4" cy="16.4" r="0.87" fill="#2018e8" opacity="0.52"/>
<circle cx="125.1" cy="89.2" r="0.95" fill="#2a20ff" opacity="0.42"/>
<circle cx="133.6" cy="47.1" r="0.74" fill="#1a14ff" opacity="0.73"/>
<circle cx="119.8" cy="12.6" r="0.71" fill="#1a14ff" opacity="0.46"/>
<circle cx="134.3" cy="46.8" r="1.17" fill="#1a14ff" opacity="0.50"/>
<circle cx="121.4" cy="24.0" r="0.83" fill="#1a14ff" opacity="0.75"/>
<circle cx="138.5" cy="55.7" r="0.75" fill="#1a14ff" opacity="0.90"/>
<circle cx="118.2" cy="32.3" r="1.25" fill="#1410c8" opacity="0.42"/>
<circle cx="155.6" cy="34.1" r="1.00" fill="#2018e8" opacity="0.58"/>
<circle cx="88.7" cy="47.9" r="1.18" fill="#2a20ff" opacity="0.81"/>
<circle cx="123.5" cy="80.8" r="0.64" fill="#2018e8" opacity="0.44"/>
<circle cx="137.2" cy="34.6" r="0.91" fill="#2018e8" opacity="0.66"/>
<circle cx="136.8" cy="36.4" r="0.82" fill="#1410c8" opacity="0.62"/>
<circle cx="131.4" cy="47.1" r="1.20" fill="#1410c8" opacity="0.77"/>
<circle cx="166.8" cy="63.4" r="0.64" fill="#1410c8" opacity="0.62"/>
<circle cx="119.2" cy="64.0" r="0.62" fill="#1a14ff" opacity="0.46"/>
<circle cx="74.3" cy="78.5" r="1.01" fill="#2a20ff" opacity="0.87"/>
<circle cx="162.4" cy="62.4" r="1.19" fill="#1a14ff" opacity="0.86"/>
<circle cx="165.1" cy="84.1" r="0.94" fill="#1410c8" opacity="0.67"/>
<circle cx="144.4" cy="57.6" r="1.10" fill="#2018e8" opacity="0.55"/>
<circle cx="166.2" cy="54.0" r="1.19" fill="#1a14ff" opacity="0.73"/>
<circle cx="97.6" cy="48.1" r="0.61" fill="#2a20ff" opacity="0.85"/>
<circle cx="173.7" cy="61.2" r="1.04" fill="#1410c8" opacity="0.52"/>
<circle cx="167.4" cy="67.0" r="0.71" fill="#1a14ff" opacity="0.50"/>
<circle cx="128.5" cy="31.2" r="1.25" fill="#2a20ff" opacity="0.54"/>
<circle cx="136.4" cy="33.2" r="0.98" fill="#2018e8" opacity="0.51"/>
<circle cx="156.7" cy="62.3" r="1.03" fill="#2a20ff" opacity="0.56"/>
<circle cx="164.6" cy="63.1" r="1.07" fill="#2a20ff" opacity="0.73"/>
<circle cx="167.6" cy="52.1" r="0.96" fill="#2a20ff" opacity="0.78"/>
<circle cx="132.8" cy="81.3" r="0.77" fill="#2a20ff" opacity="0.63"/>
<circle cx="123.0" cy="18.4" r="1.09" fill="#2018e8" opacity="0.84"/>
<circle cx="163.9" cy="40.5" r="1.16" fill="#2018e8" opacity="0.78"/>
<circle cx="117.9" cy="38.0" r="0.98" fill="#2a20ff" opacity="0.42"/>
<circle cx="122.5" cy="32.6" r="1.20" fill="#1a14ff" opacity="0.42"/>
<circle cx="124.3" cy="70.8" r="0.70" fill="#2018e8" opacity="0.90"/>
<circle cx="122.3" cy="27.9" r="0.67" fill="#2018e8" opacity="0.54"/>
<circle cx="159.4" cy="66.5" r="1.13" fill="#1a14ff" opacity="0.87"/>
<circle cx="132.3" cy="39.1" r="0.89" fill="#2a20ff" opacity="0.78"/>
<circle cx="171.3" cy="74.7" r="1.13" fill="#2018e8" opacity="0.45"/>
<circle cx="79.6" cy="41.8" r="0.79" fill="#2018e8" opacity="0.87"/>
<circle cx="166.2" cy="55.6" r="0.62" fill="#2018e8" opacity="0.76"/>
<circle cx="160.1" cy="68.6" r="0.81" fill="#2a20ff" opacity="0.70"/>
<circle cx="132.2" cy="28.0" r="0.69" fill="#2018e8" opacity="0.86"/>
<circle cx="168.1" cy="70.7" r="1.17" fill="#2018e8" opacity="0.42"/>
<circle cx="183.0" cy="79.2" r="0.86" fill="#2a20ff" opacity="0.47"/>
<circle cx="161.1" cy="70.2" r="0.71" fill="#1410c8" opacity="0.66"/>
<circle cx="93.4" cy="84.8" r="0.92" fill="#1410c8" opacity="0.86"/>
<circle cx="105.8" cy="43.0" r="0.96" fill="#1410c8" opacity="0.71"/>
<circle cx="165.8" cy="64.4" r="0.87" fill="#1a14ff" opacity="0.61"/>
<circle cx="127.0" cy="31.2" r="1.09" fill="#2a20ff" opacity="0.88"/>
<circle cx="154.0" cy="44.7" r="0.74" fill="#1410c8" opacity="0.87"/>
<circle cx="104.5" cy="58.1" r="1.20" fill="#1410c8" opacity="0.57"/>
<circle cx="85.9" cy="80.0" r="1.21" fill="#2018e8" opacity="0.81"/>
<circle cx="122.0" cy="51.1" r="0.79" fill="#1410c8" opacity="0.56"/>
<circle cx="149.8" cy="57.3" r="1.13" fill="#2a20ff" opacity="0.44"/>
<circle cx="107.1" cy="66.0" r="0.81" fill="#1a14ff" opacity="0.64"/>
<circle cx="160.0" cy="58.1" r="0.86" fill="#2a20ff" opacity="0.71"/>
<circle cx="149.1" cy="24.5" r="0.61" fill="#2a20ff" opacity="0.65"/>
<circle cx="113.1" cy="76.9" r="0.99" fill="#2018e8" opacity="0.44"/>
<circle cx="146.1" cy="27.7" r="0.79" fill="#1a14ff" opacity="0.88"/>
<circle cx="160.6" cy="65.4" r="1.06" fill="#2a20ff" opacity="0.81"/>
<circle cx="125.7" cy="27.5" r="0.86" fill="#2a20ff" opacity="0.40"/>
<circle cx="143.2" cy="33.1" r="0.73" fill="#1a14ff" opacity="0.56"/>
<circle cx="107.8" cy="32.0" r="1.18" fill="#1410c8" opacity="0.69"/>
<circle cx="169.8" cy="74.6" r="0.85" fill="#1a14ff" opacity="0.47"/>
<circle cx="153.2" cy="49.1" r="1.14" fill="#2a20ff" opacity="0.57"/>
<circle cx="134.1" cy="51.8" r="0.86" fill="#2a20ff" opacity="0.75"/>
<circle cx="156.3" cy="56.8" r="0.75" fill="#2a20ff" opacity="0.84"/>
<circle cx="86.9" cy="39.8" r="1.16" fill="#2a20ff" opacity="0.89"/>
<circle cx="130.6" cy="32.6" r="0.80" fill="#1410c8" opacity="0.69"/>
<circle cx="111.3" cy="25.1" r="1.20" fill="#2018e8" opacity="0.49"/>
<circle cx="125.5" cy="32.5" r="1.09" fill="#2018e8" opacity="0.71"/>
<circle cx="82.4" cy="66.4" r="0.93" fill="#1410c8" opacity="0.47"/>
<circle cx="138.0" cy="56.0" r="1.09" fill="#2a20ff" opacity="0.63"/>
<circle cx="170.2" cy="50.8" r="0.90" fill="#2018e8" opacity="0.41"/>
<circle cx="125.3" cy="26.2" r="0.99" fill="#2018e8" opacity="0.66"/>
<circle cx="102.9" cy="46.5" r="1.02" fill="#1410c8" opacity="0.74"/>
<circle cx="111.8" cy="19.0" r="1.05" fill="#1410c8" opacity="0.74"/>
<circle cx="127.9" cy="63.4" r="0.98" fill="#2018e8" opacity="0.62"/>
<circle cx="120.2" cy="76.7" r="1.10" fill="#2018e8" opacity="0.55"/>
<circle cx="141.0" cy="28.4" r="0.61" fill="#1a14ff" opacity="0.67"/>
<circle cx="173.9" cy="46.7" r="1.17" fill="#1a14ff" opacity="0.50"/>
<circle cx="173.0" cy="76.7" r="0.86" fill="#2018e8" opacity="0.70"/>
<circle cx="157.5" cy="74.0" r="0.98" fill="#2018e8" opacity="0.71"/>
<circle cx="99.9" cy="21.2" r="0.85" fill="#1a14ff" opacity="0.77"/>
<circle cx="123.9" cy="91.2" r="0.74" fill="#2a20ff" opacity="0.51"/>
<circle cx="130.5" cy="41.7" r="1.23" fill="#1a14ff" opacity="0.45"/>
<circle cx="164.4" cy="61.0" r="1.13" fill="#2018e8" opacity="0.72"/>
<circle cx="148.0" cy="56.0" r="0.84" fill="#1a14ff" opacity="0.76"/>
<circle cx="133.0" cy="56.3" r="1.19" fill="#1410c8" opacity="0.62"/>
<circle cx="103.7" cy="23.1" r="0.62" fill="#1a14ff" opacity="0.67"/>
<circle cx="162.9" cy="71.2" r="0.76" fill="#2018e8" opacity="0.60"/>
<circle cx="122.2" cy="39.4" r="0.88" fill="#1a14ff" opacity="0.73"/>
<circle cx="108.5" cy="43.5" r="0.94" fill="#1410c8" opacity="0.69"/>
<circle cx="125.2" cy="86.9" r="0.99" fill="#2a20ff" opacity="0.42"/>
<circle cx="136.5" cy="29.3" r="0.66" fill="#1a14ff" opacity="0.63"/>
<circle cx="178.7" cy="59.4" r="1.24" fill="#2018e8" opacity="0.77"/>
<circle cx="120.6" cy="38.7" r="0.99" fill="#1410c8" opacity="0.70"/>
<circle cx="158.7" cy="51.4" r="0.87" fill="#2a20ff" opacity="0.77"/>
<circle cx="121.4" cy="59.9" r="1.19" fill="#2018e8" opacity="0.51"/>
<circle cx="138.9" cy="51.9" r="0.86" fill="#1a14ff" opacity="0.81"/>
<circle cx="140.6" cy="38.4" r="0.62" fill="#1a14ff" opacity="0.61"/>
<circle cx="147.1" cy="44.8" r="0.67" fill="#2018e8" opacity="0.49"/>
<circle cx="136.5" cy="47.8" r="1.11" fill="#1a14ff" opacity="0.57"/>
<circle cx="117.1" cy="55.4" r="0.82" fill="#2018e8" opacity="0.42"/>
<circle cx="168.6" cy="59.8" r="1.24" fill="#2018e8" opacity="0.52"/>
<circle cx="171.3" cy="56.4" r="0.80" fill="#2a20ff" opacity="0.64"/>
<circle cx="168.8" cy="79.9" r="0.83" fill="#1a14ff" opacity="0.64"/>
<circle cx="139.1" cy="30.1" r="0.85" fill="#2018e8" opacity="0.71"/>
<circle cx="96.6" cy="48.5" r="1.23" fill="#1a14ff" opacity="0.72"/>
<circle cx="119.2" cy="71.9" r="1.11" fill="#2a20ff" opacity="0.56"/>
<circle cx="77.8" cy="45.3" r="1.00" fill="#2018e8" opacity="0.55"/>
<circle cx="129.1" cy="69.9" r="0.66" fill="#1a14ff" opacity="0.83"/>
<circle cx="111.5" cy="78.2" r="0.80" fill="#1a14ff" opacity="0.41"/>
<circle cx="137.9" cy="27.1" r="1.23" fill="#1410c8" opacity="0.80"/>
<circle cx="94.3" cy="71.6" r="0.70" fill="#1a14ff" opacity="0.80"/>
<circle cx="150.0" cy="51.3" r="0.98" fill="#1410c8" opacity="0.76"/>
<circle cx="122.8" cy="33.3" r="1.02" fill="#2a20ff" opacity="0.80"/>
<circle cx="170.7" cy="55.1" r="0.86" fill="#2018e8" opacity="0.53"/>
<circle cx="161.7" cy="57.7" r="0.82" fill="#2a20ff" opacity="0.54"/>
<circle cx="140.8" cy="29.3" r="0.65" fill="#1a14ff" opacity="0.66"/>
<circle cx="123.4" cy="70.3" r="0.84" fill="#1410c8" opacity="0.78"/>
<circle cx="131.8" cy="70.6" r="1.06" fill="#1410c8" opacity="0.70"/>
<circle cx="122.9" cy="47.0" r="1.14" fill="#1a14ff" opacity="0.46"/>
<circle cx="126.1" cy="29.5" r="0.87" fill="#1410c8" opacity="0.88"/>
<circle cx="121.9" cy="41.7" r="0.78" fill="#2a20ff" opacity="0.44"/>
<circle cx="176.2" cy="53.5" r="0.69" fill="#2a20ff" opacity="0.81"/>
<circle cx="106.6" cy="61.3" r="1.21" fill="#1410c8" opacity="0.82"/>
<circle cx="127.3" cy="24.6" r="1.18" fill="#1a14ff" opacity="0.50"/>
<circle cx="132.3" cy="37.2" r="0.76" fill="#1a14ff" opacity="0.76"/>
<circle cx="167.4" cy="40.1" r="1.01" fill="#2018e8" opacity="0.66"/>
<circle cx="175.3" cy="70.1" r="0.73" fill="#2018e8" opacity="0.83"/>
<circle cx="93.2" cy="58.6" r="1.22" fill="#2a20ff" opacity="0.44"/>
<circle cx="95.4" cy="45.3" r="1.18" fill="#1a14ff" opacity="0.68"/>
<circle cx="118.2" cy="79.2" r="0.83" fill="#1a14ff" opacity="0.74"/>
<circle cx="169.3" cy="74.9" r="0.86" fill="#1410c8" opacity="0.70"/>
<circle cx="119.2" cy="74.3" r="0.61" fill="#2a20ff" opacity="0.84"/>
<circle cx="170.7" cy="59.0" r="0.81" fill="#2a20ff" opacity="0.71"/>
<circle cx="170.8" cy="51.1" r="1.07" fill="#2018e8" opacity="0.82"/>
<circle cx="122.7" cy="35.5" r="0.93" fill="#1410c8" opacity="0.76"/>
<circle cx="131.9" cy="25.7" r="0.65" fill="#2018e8" opacity="0.86"/>
<circle cx="139.3" cy="42.8" r="0.64" fill="#2a20ff" opacity="0.71"/>
<circle cx="118.5" cy="28.9" r="1.04" fill="#1a14ff" opacity="0.80"/>
<circle cx="154.0" cy="44.3" r="0.79" fill="#1410c8" opacity="0.84"/>
<circle cx="122.8" cy="27.1" r="1.19" fill="#1a14ff" opacity="0.70"/>
<circle cx="178.2" cy="55.7" r="1.09" fill="#1a14ff" opacity="0.89"/>
<circle cx="120.9" cy="28.1" r="1.14" fill="#2a20ff" opacity="0.54"/>
<circle cx="135.4" cy="67.9" r="0.82" fill="#2a20ff" opacity="0.68"/>
<circle cx="110.9" cy="18.0" r="1.02" fill="#2018e8" opacity="0.68"/>
<circle cx="125.7" cy="19.9" r="0.67" fill="#2018e8" opacity="0.60"/>
<circle cx="125.6" cy="79.2" r="0.98" fill="#2018e8" opacity="0.74"/>
<circle cx="131.9" cy="26.6" r="0.87" fill="#2a20ff" opacity="0.55"/>
<circle cx="133.0" cy="47.1" r="0.79" fill="#1410c8" opacity="0.41"/>
<circle cx="166.9" cy="72.7" r="1.05" fill="#1410c8" opacity="0.84"/>
<circle cx="142.8" cy="79.0" r="0.74" fill="#2a20ff" opacity="0.78"/>
<circle cx="139.9" cy="30.9" r="1.16" fill="#2a20ff" opacity="0.78"/>
<circle cx="148.9" cy="51.0" r="1.20" fill="#1a14ff" opacity="0.45"/>
<circle cx="85.0" cy="70.8" r="0.95" fill="#1410c8" opacity="0.71"/>
<circle cx="160.8" cy="60.1" r="0.61" fill="#2018e8" opacity="0.75"/>
<circle cx="89.4" cy="70.0" r="1.11" fill="#1a14ff" opacity="0.81"/>
<circle cx="160.3" cy="78.5" r="0.78" fill="#2a20ff" opacity="0.90"/>
<circle cx="143.0" cy="46.6" r="0.69" fill="#1a14ff" opacity="0.66"/>
<circle cx="85.7" cy="38.3" r="1.12" fill="#2018e8" opacity="0.60"/>
<circle cx="160.9" cy="76.2" r="0.93" fill="#2a20ff" opacity="0.68"/>
<circle cx="131.3" cy="34.9" r="1.06" fill="#2018e8" opacity="0.88"/>
<circle cx="139.7" cy="32.9" r="1.24" fill="#1a14ff" opacity="0.89"/>
<circle cx="104.1" cy="76.1" r="0.77" fill="#2a20ff" opacity="0.79"/>
<circle cx="181.8" cy="79.4" r="0.92" fill="#1a14ff" opacity="0.55"/>
<circle cx="116.5" cy="38.2" r="1.21" fill="#1410c8" opacity="0.49"/>
<circle cx="165.7" cy="71.6" r="1.11" fill="#1410c8" opacity="0.75"/>
<circle cx="129.9" cy="17.8" r="1.16" fill="#1a14ff" opacity="0.41"/>
<circle cx="97.8" cy="54.1" r="1.14" fill="#2a20ff" opacity="0.73"/>
<circle cx="158.2" cy="56.5" r="0.71" fill="#2a20ff" opacity="0.62"/>
<circle cx="183.1" cy="86.5" r="0.69" fill="#2a20ff" opacity="0.59"/>
<circle cx="121.5" cy="16.2" r="1.13" fill="#2018e8" opacity="0.54"/>
<circle cx="166.0" cy="73.2" r="0.99" fill="#1a14ff" opacity="0.45"/>
<circle cx="166.8" cy="76.8" r="0.83" fill="#1a14ff" opacity="0.58"/>
<circle cx="79.2" cy="69.1" r="1.15" fill="#2018e8" opacity="0.86"/>
<circle cx="114.1" cy="91.4" r="0.70" fill="#1a14ff" opacity="0.57"/>
<circle cx="93.7" cy="52.4" r="0.72" fill="#2018e8" opacity="0.80"/>
<circle cx="124.4" cy="17.2" r="0.86" fill="#2018e8" opacity="0.76"/>
<circle cx="140.4" cy="61.5" r="0.95" fill="#1a14ff" opacity="0.64"/>
<circle cx="149.3" cy="82.6" r="0.72" fill="#2a20ff" opacity="0.52"/>
<circle cx="114.0" cy="78.5" r="0.95" fill="#1a14ff" opacity="0.55"/>
<circle cx="139.0" cy="55.6" r="1.18" fill="#2018e8" opacity="0.53"/>
<circle cx="122.8" cy="27.7" r="1.04" fill="#2a20ff" opacity="0.72"/>
<circle cx="170.2" cy="57.9" r="0.89" fill="#2a20ff" opacity="0.79"/>
<circle cx="185.6" cy="70.7" r="0.99" fill="#1a14ff" opacity="0.55"/>
<circle cx="159.0" cy="76.5" r="1.14" fill="#1a14ff" opacity="0.67"/>
<circle cx="182.8" cy="54.6" r="0.70" fill="#1410c8" opacity="0.57"/>
<circle cx="136.3" cy="30.9" r="0.89" fill="#1410c8" opacity="0.69"/>
<circle cx="134.3" cy="53.2" r="1.02" fill="#2a20ff" opacity="0.66"/>
<circle cx="112.9" cy="26.4" r="1.01" fill="#2a20ff" opacity="0.53"/>
<circle cx="161.8" cy="75.3" r="1.04" fill="#1410c8" opacity="0.73"/>
<circle cx="168.8" cy="67.5" r="0.63" fill="#2a20ff" opacity="0.88"/>
<circle cx="107.1" cy="7.6" r="1.06" fill="#2018e8" opacity="0.87"/>
<circle cx="125.1" cy="28.9" r="0.94" fill="#1410c8" opacity="0.46"/>
<circle cx="123.1" cy="43.6" r="0.88" fill="#1a14ff" opacity="0.48"/>
<circle cx="166.1" cy="61.8" r="0.97" fill="#2a20ff" opacity="0.85"/>
<circle cx="82.6" cy="47.0" r="1.20" fill="#1410c8" opacity="0.43"/>
<circle cx="76.0" cy="71.5" r="1.06" fill="#2018e8" opacity="0.57"/>
<circle cx="129.5" cy="22.3" r="1.02" fill="#2a20ff" opacity="0.79"/>
<circle cx="142.2" cy="47.8" r="1.09" fill="#2a20ff" opacity="0.89"/>
<circle cx="168.9" cy="67.5" r="0.63" fill="#2018e8" opacity="0.75"/>
<circle cx="113.7" cy="37.1" r="0.79" fill="#2a20ff" opacity="0.58"/>
<circle cx="127.8" cy="20.8" r="0.70" fill="#2018e8" opacity="0.66"/>
<circle cx="117.1" cy="61.6" r="0.89" fill="#2018e8" opacity="0.74"/>
<circle cx="173.2" cy="49.7" r="1.11" fill="#2018e8" opacity="0.82"/>
<circle cx="141.2" cy="22.2" r="1.24" fill="#1410c8" opacity="0.60"/>
<circle cx="126.6" cy="29.8" r="0.80" fill="#2018e8" opacity="0.61"/>
<circle cx="176.3" cy="91.4" r="1.19" fill="#1410c8" opacity="0.70"/>
<circle cx="173.8" cy="48.6" r="1.04" fill="#2a20ff" opacity="0.78"/>
<circle cx="105.7" cy="15.6" r="1.19" fill="#1410c8" opacity="0.67"/>
<circle cx="162.3" cy="61.3" r="0.81" fill="#2a20ff" opacity="0.79"/>
<circle cx="159.0" cy="82.7" r="0.94" fill="#1a14ff" opacity="0.42"/>
<circle cx="157.7" cy="54.8" r="1.19" fill="#2a20ff" opacity="0.78"/>
<circle cx="165.3" cy="54.8" r="0.67" fill="#1410c8" opacity="0.89"/>
<circle cx="141.2" cy="48.5" r="1.11" fill="#2018e8" opacity="0.76"/>
<circle cx="130.6" cy="82.8" r="0.70" fill="#1a14ff" opacity="0.78"/>
<circle cx="177.6" cy="56.2" r="0.83" fill="#2018e8" opacity="0.81"/>
<circle cx="132.0" cy="28.6" r="1.00" fill="#1410c8" opacity="0.80"/>
<circle cx="136.8" cy="24.3" r="0.72" fill="#2018e8" opacity="0.60"/>
<circle cx="163.2" cy="79.1" r="1.04" fill="#2018e8" opacity="0.72"/>
<circle cx="132.7" cy="51.9" r="0.75" fill="#1410c8" opacity="0.59"/>
<circle cx="125.1" cy="29.5" r="0.71" fill="#1a14ff" opacity="0.58"/>
<circle cx="121.4" cy="33.2" r="0.90" fill="#1a14ff" opacity="0.65"/>
<circle cx="133.1" cy="36.7" r="1.22" fill="#2018e8" opacity="0.55"/>
<circle cx="166.2" cy="46.1" r="0.97" fill="#2018e8" opacity="0.54"/>
<circle cx="173.2" cy="59.8" r="0.81" fill="#1410c8" opacity="0.62"/>
<circle cx="123.8" cy="73.0" r="1.24" fill="#1a14ff" opacity="0.41"/>
<circle cx="113.4" cy="45.9" r="0.69" fill="#2a20ff" opacity="0.80"/>
<circle cx="131.4" cy="52.8" r="0.76" fill="#2018e8" opacity="0.49"/>
<circle cx="140.9" cy="60.2" r="0.91" fill="#2a20ff" opacity="0.75"/>
<circle cx="84.5" cy="32.1" r="1.15" fill="#1a14ff" opacity="0.51"/>
<circle cx="132.5" cy="41.7" r="0.84" fill="#2a20ff" opacity="0.56"/>
<circle cx="167.4" cy="58.1" r="1.25" fill="#1410c8" opacity="0.49"/>
<circle cx="173.9" cy="43.7" r="0.74" fill="#2a20ff" opacity="0.87"/>
<circle cx="128.6" cy="36.0" r="1.24" fill="#1a14ff" opacity="0.71"/>
<circle cx="176.4" cy="83.1" r="0.82" fill="#2a20ff" opacity="0.48"/>
<circle cx="125.4" cy="81.4" r="0.79" fill="#2018e8" opacity="0.77"/>
<circle cx="113.4" cy="37.3" r="0.90" fill="#1410c8" opacity="0.51"/>
<circle cx="75.8" cy="63.2" r="1.15" fill="#1410c8" opacity="0.46"/>
<circle cx="99.4" cy="87.7" r="1.08" fill="#1410c8" opacity="0.72"/>
<circle cx="119.4" cy="51.9" r="0.72" fill="#1a14ff" opacity="0.41"/>
<circle cx="103.7" cy="60.2" r="1.08" fill="#2a20ff" opacity="0.74"/>
<circle cx="176.0" cy="64.0" r="0.64" fill="#1410c8" opacity="0.54"/>
<circle cx="137.9" cy="25.6" r="0.90" fill="#2018e8" opacity="0.68"/>
<circle cx="128.6" cy="34.6" r="1.04" fill="#1a14ff" opacity="0.64"/>
<circle cx="156.1" cy="54.9" r="1.17" fill="#1410c8" opacity="0.67"/>
<circle cx="167.5" cy="54.4" r="0.83" fill="#2a20ff" opacity="0.89"/>
<circle cx="138.2" cy="40.1" r="0.82" fill="#1410c8" opacity="0.61"/>
<circle cx="141.4" cy="70.2" r="0.61" fill="#2a20ff" opacity="0.83"/>
<circle cx="108.3" cy="59.9" r="0.79" fill="#1a14ff" opacity="0.64"/>
<circle cx="88.0" cy="40.7" r="1.15" fill="#1410c8" opacity="0.57"/>
<circle cx="159.8" cy="56.0" r="1.13" fill="#1a14ff" opacity="0.72"/>
<circle cx="129.9" cy="34.1" r="0.65" fill="#1410c8" opacity="0.54"/>
<circle cx="167.9" cy="59.2" r="0.63" fill="#2018e8" opacity="0.73"/>
<circle cx="96.0" cy="66.4" r="0.63" fill="#1410c8" opacity="0.44"/>
<circle cx="107.6" cy="47.9" r="0.74" fill="#1410c8" opacity="0.87"/>
<circle cx="163.4" cy="68.2" r="1.15" fill="#2a20ff" opacity="0.63"/>
<circle cx="132.0" cy="35.4" r="0.75" fill="#1a14ff" opacity="0.57"/>
<circle cx="168.0" cy="51.5" r="1.06" fill="#2a20ff" opacity="0.42"/>
<circle cx="99.1" cy="61.8" r="1.13" fill="#2a20ff" opacity="0.62"/>
<circle cx="135.2" cy="77.1" r="1.01" fill="#1a14ff" opacity="0.65"/>
<circle cx="159.3" cy="62.4" r="1.00" fill="#1410c8" opacity="0.54"/>
<circle cx="133.1" cy="52.7" r="1.08" fill="#2018e8" opacity="0.89"/>
<circle cx="126.2" cy="24.0" r="0.73" fill="#1a14ff" opacity="0.42"/>
<circle cx="148.0" cy="54.5" r="1.15" fill="#1410c8" opacity="0.46"/>
<circle cx="120.6" cy="25.8" r="1.19" fill="#1a14ff" opacity="0.41"/>
<circle cx="113.4" cy="32.1" r="1.03" fill="#2a20ff" opacity="0.53"/>
<circle cx="132.8" cy="34.5" r="1.04" fill="#1a14ff" opacity="0.61"/>
<circle cx="95.8" cy="87.0" r="1.24" fill="#1410c8" opacity="0.55"/>
<circle cx="145.0" cy="37.9" r="0.99" fill="#2a20ff" opacity="0.65"/>
<circle cx="133.5" cy="28.8" r="1.24" fill="#2018e8" opacity="0.61"/>
<circle cx="140.4" cy="55.2" r="1.12" fill="#1410c8" opacity="0.55"/>
<circle cx="175.6" cy="34.9" r="1.05" fill="#1a14ff" opacity="0.47"/>
<circle cx="104.9" cy="65.9" r="1.21" fill="#2a20ff" opacity="0.55"/>
<circle cx="166.6" cy="76.4" r="1.10" fill="#2a20ff" opacity="0.58"/>
<circle cx="138.6" cy="58.7" r="1.00" fill="#2a20ff" opacity="0.80"/>
<circle cx="130.1" cy="35.3" r="1.17" fill="#2a20ff" opacity="0.74"/>
<circle cx="116.4" cy="83.0" r="1.13" fill="#2a20ff" opacity="0.69"/>
<circle cx="137.6" cy="44.6" r="0.98" fill="#1410c8" opacity="0.85"/>
<circle cx="177.6" cy="90.8" r="0.82" fill="#1a14ff" opacity="0.50"/>
<circle cx="179.6" cy="56.5" r="1.00" fill="#2a20ff" opacity="0.85"/>
<circle cx="169.1" cy="44.9" r="0.97" fill="#1410c8" opacity="0.61"/>
<circle cx="121.1" cy="30.1" r="0.80" fill="#1410c8" opacity="0.64"/>
<circle cx="122.1" cy="32.0" r="0.65" fill="#1410c8" opacity="0.65"/>
<circle cx="106.8" cy="54.2" r="0.68" fill="#2018e8" opacity="0.50"/>
<circle cx="164.8" cy="66.3" r="0.92" fill="#2018e8" opacity="0.81"/>
<circle cx="165.8" cy="65.2" r="1.11" fill="#2a20ff" opacity="0.62"/>
<circle cx="85.1" cy="74.4" r="0.97" fill="#2a20ff" opacity="0.74"/>
<circle cx="98.4" cy="47.4" r="0.89" fill="#2018e8" opacity="0.44"/>
<circle cx="120.4" cy="81.3" r="0.96" fill="#1410c8" opacity="0.74"/>
<circle cx="174.4" cy="54.9" r="0.69" fill="#1a14ff" opacity="0.49"/>
<circle cx="158.5" cy="65.1" r="1.02" fill="#2a20ff" opacity="0.79"/>
<circle cx="163.8" cy="66.9" r="0.68" fill="#2018e8" opacity="0.46"/>
<circle cx="163.4" cy="74.4" r="0.78" fill="#1a14ff" opacity="0.86"/>
<circle cx="120.8" cy="74.6" r="0.61" fill="#1410c8" opacity="0.51"/>
<circle cx="168.8" cy="57.9" r="0.67" fill="#2a20ff" opacity="0.44"/>
<circle cx="171.5" cy="73.0" r="0.76" fill="#1410c8" opacity="0.46"/>
<circle cx="107.5" cy="21.9" r="1.16" fill="#2a20ff" opacity="0.62"/>
<circle cx="139.7" cy="52.1" r="1.23" fill="#2018e8" opacity="0.58"/>
<circle cx="172.4" cy="72.4" r="1.12" fill="#2a20ff" opacity="0.64"/>
<circle cx="145.6" cy="55.3" r="0.81" fill="#2018e8" opacity="0.58"/>
<circle cx="134.7" cy="41.2" r="1.09" fill="#1410c8" opacity="0.69"/>
<circle cx="110.2" cy="32.1" r="1.06" fill="#1a14ff" opacity="0.89"/>
<circle cx="101.4" cy="23.0" r="0.73" fill="#1410c8" opacity="0.71"/>
<circle cx="166.9" cy="68.9" r="1.07" fill="#2a20ff" opacity="0.84"/>
<circle cx="136.2" cy="26.8" r="0.63" fill="#1410c8" opacity="0.59"/>
<circle cx="143.2" cy="29.7" r="1.04" fill="#1410c8" opacity="0.76"/>
<circle cx="177.7" cy="65.7" r="0.90" fill="#2018e8" opacity="0.41"/>
<circle cx="96.5" cy="28.2" r="0.70" fill="#2a20ff" opacity="0.67"/>
<circle cx="162.3" cy="76.5" r="0.91" fill="#2018e8" opacity="0.59"/>
<circle cx="115.5" cy="37.6" r="1.05" fill="#2018e8" opacity="0.83"/>
<circle cx="174.8" cy="46.4" r="1.01" fill="#1410c8" opacity="0.59"/>
<circle cx="178.3" cy="43.0" r="1.22" fill="#1410c8" opacity="0.54"/>
<circle cx="137.8" cy="35.5" r="0.61" fill="#2018e8" opacity="0.49"/>
<circle cx="104.0" cy="53.8" r="1.12" fill="#1a14ff" opacity="0.45"/>
<circle cx="142.8" cy="41.9" r="1.00" fill="#1a14ff" opacity="0.66"/>
<circle cx="157.7" cy="50.5" r="0.82" fill="#2a20ff" opacity="0.67"/>
<circle cx="122.8" cy="82.1" r="0.85" fill="#2a20ff" opacity="0.63"/>
<circle cx="125.7" cy="25.7" r="1.06" fill="#2a20ff" opacity="0.82"/>
<circle cx="124.4" cy="69.6" r="1.02" fill="#2018e8" opacity="0.71"/>
<circle cx="117.7" cy="37.1" r="0.63" fill="#1410c8" opacity="0.73"/>
<circle cx="176.4" cy="71.0" r="0.80" fill="#2a20ff" opacity="0.87"/>
<circle cx="125.9" cy="35.8" r="1.20" fill="#2018e8" opacity="0.62"/>
<circle cx="93.6" cy="33.1" r="1.07" fill="#2018e8" opacity="0.69"/>
<circle cx="171.1" cy="65.1" r="0.80" fill="#1410c8" opacity="0.54"/>
<circle cx="113.8" cy="65.9" r="1.07" fill="#2018e8" opacity="0.78"/>
<circle cx="141.7" cy="28.1" r="1.03" fill="#1410c8" opacity="0.57"/>
<circle cx="151.5" cy="72.4" r="0.90" fill="#1a14ff" opacity="0.60"/>
<circle cx="124.6" cy="35.7" r="0.76" fill="#2018e8" opacity="0.44"/>
<circle cx="145.3" cy="39.7" r="0.82" fill="#1a14ff" opacity="0.51"/>
<circle cx="84.4" cy="39.0" r="0.85" fill="#1a14ff" opacity="0.67"/>
<circle cx="163.1" cy="64.2" r="0.60" fill="#2a20ff" opacity="0.42"/>
<circle cx="104.6" cy="37.1" r="0.68" fill="#1a14ff" opacity="0.72"/>
<circle cx="171.0" cy="81.3" r="0.87" fill="#1410c8" opacity="0.49"/>
<circle cx="139.1" cy="53.9" r="0.89" fill="#1410c8" opacity="0.59"/>
<circle cx="119.8" cy="61.9" r="0.69" fill="#1410c8" opacity="0.58"/>
<circle cx="158.1" cy="69.5" r="0.65" fill="#2018e8" opacity="0.52"/>
<circle cx="116.6" cy="33.0" r="0.64" fill="#2a20ff" opacity="0.70"/>
<circle cx="157.8" cy="75.2" r="0.78" fill="#2a20ff" opacity="0.62"/>
<circle cx="119.4" cy="23.2" r="1.02" fill="#2018e8" opacity="0.80"/>
<circle cx="88.6" cy="60.1" r="0.89" fill="#2018e8" opacity="0.53"/>
<circle cx="101.7" cy="43.0" r="1.23" fill="#2a20ff" opacity="0.76"/>
<circle cx="138.4" cy="37.4" r="1.17" fill="#2a20ff" opacity="0.81"/>
<circle cx="170.0" cy="50.2" r="0.66" fill="#2a20ff" opacity="0.85"/>
<circle cx="131.7" cy="31.4" r="1.18" fill="#1a14ff" opacity="0.53"/>
<circle cx="129.0" cy="42.6" r="0.62" fill="#1a14ff" opacity="0.42"/>
<circle cx="138.7" cy="68.2" r="1.21" fill="#2a20ff" opacity="0.44"/>
<circle cx="121.4" cy="36.0" r="0.89" fill="#1410c8" opacity="0.89"/>
<circle cx="139.5" cy="52.6" r="1.06" fill="#2a20ff" opacity="0.51"/>
<circle cx="154.9" cy="57.9" r="0.90" fill="#1410c8" opacity="0.77"/>
<circle cx="112.7" cy="48.6" r="1.24" fill="#1a14ff" opacity="0.59"/>
<circle cx="127.7" cy="40.9" r="0.61" fill="#1410c8" opacity="0.51"/>
<circle cx="157.9" cy="61.1" r="1.19" fill="#1410c8" opacity="0.46"/>
<circle cx="169.7" cy="58.0" r="0.61" fill="#2a20ff" opacity="0.49"/>
<circle cx="125.3" cy="29.1" r="1.00" fill="#1410c8" opacity="0.67"/>
<circle cx="129.4" cy="53.1" r="1.09" fill="#2018e8" opacity="0.61"/>
<circle cx="167.4" cy="69.9" r="1.03" fill="#2018e8" opacity="0.64"/>
<circle cx="172.2" cy="52.4" r="0.61" fill="#2a20ff" opacity="0.62"/>
<circle cx="127.5" cy="25.4" r="0.99" fill="#1410c8" opacity="0.85"/>
<circle cx="108.8" cy="22.9" r="0.62" fill="#1a14ff" opacity="0.83"/>
<circle cx="119.6" cy="85.1" r="0.71" fill="#1410c8" opacity="0.55"/>
<circle cx="147.9" cy="55.0" r="0.98" fill="#1a14ff" opacity="0.63"/>
<circle cx="87.0" cy="33.5" r="0.84" fill="#2a20ff" opacity="0.53"/>
<circle cx="91.4" cy="65.0" r="0.75" fill="#1410c8" opacity="0.46"/>
<circle cx="133.0" cy="49.9" r="0.79" fill="#2a20ff" opacity="0.79"/>
<circle cx="134.2" cy="69.9" r="0.81" fill="#1410c8" opacity="0.49"/>
<circle cx="151.1" cy="22.0" r="1.22" fill="#1410c8" opacity="0.44"/>
<circle cx="170.6" cy="83.5" r="0.79" fill="#1410c8" opacity="0.75"/>
<circle cx="157.2" cy="80.4" r="0.62" fill="#1a14ff" opacity="0.77"/>
<circle cx="133.8" cy="49.3" r="1.12" fill="#2018e8" opacity="0.62"/>
<circle cx="121.6" cy="72.3" r="1.15" fill="#1a14ff" opacity="0.69"/>
<circle cx="83.9" cy="42.6" r="1.05" fill="#1a14ff" opacity="0.70"/>
<circle cx="121.4" cy="60.4" r="0.70" fill="#2a20ff" opacity="0.54"/>
<circle cx="167.2" cy="58.6" r="0.72" fill="#1a14ff" opacity="0.90"/>
<circle cx="77.9" cy="59.1" r="0.95" fill="#2a20ff" opacity="0.89"/>
<circle cx="99.5" cy="63.4" r="0.63" fill="#1410c8" opacity="0.48"/>
<circle cx="153.4" cy="81.8" r="1.03" fill="#2018e8" opacity="0.61"/>
<circle cx="123.7" cy="23.3" r="1.20" fill="#2018e8" opacity="0.84"/>
<circle cx="129.9" cy="34.9" r="0.61" fill="#2018e8" opacity="0.58"/>
<circle cx="151.7" cy="66.2" r="1.04" fill="#2a20ff" opacity="0.73"/>
<circle cx="158.3" cy="55.7" r="1.06" fill="#1410c8" opacity="0.52"/>
<circle cx="163.8" cy="55.8" r="0.92" fill="#2a20ff" opacity="0.82"/>
<circle cx="121.6" cy="62.9" r="1.06" fill="#2a20ff" opacity="0.60"/>
<circle cx="124.3" cy="40.4" r="0.62" fill="#1a14ff" opacity="0.44"/>
<circle cx="161.4" cy="81.9" r="0.62" fill="#2a20ff" opacity="0.44"/>
<circle cx="99.9" cy="50.8" r="1.16" fill="#2a20ff" opacity="0.41"/>
<circle cx="170.6" cy="75.6" r="1.03" fill="#2018e8" opacity="0.58"/>
<circle cx="145.1" cy="26.2" r="0.64" fill="#1410c8" opacity="0.86"/>
<circle cx="117.2" cy="27.1" r="1.05" fill="#1410c8" opacity="0.68"/>
<circle cx="162.8" cy="63.6" r="1.13" fill="#2a20ff" opacity="0.77"/>
<circle cx="165.8" cy="66.1" r="1.03" fill="#2018e8" opacity="0.47"/>
<circle cx="159.9" cy="60.6" r="1.03" fill="#2a20ff" opacity="0.50"/>
<circle cx="104.6" cy="22.7" r="1.10" fill="#1410c8" opacity="0.74"/>
<circle cx="99.6" cy="37.4" r="1.03" fill="#1410c8" opacity="0.47"/>
<circle cx="172.4" cy="57.6" r="1.18" fill="#2a20ff" opacity="0.58"/>
<circle cx="141.7" cy="47.2" r="1.14" fill="#2a20ff" opacity="0.90"/>
<circle cx="122.0" cy="29.0" r="0.79" fill="#1a14ff" opacity="0.86"/>
<circle cx="106.5" cy="28.3" r="0.71" fill="#1a14ff" opacity="0.44"/>
<circle cx="162.4" cy="73.8" r="0.73" fill="#1410c8" opacity="0.55"/>
<circle cx="119.6" cy="55.0" r="0.89" fill="#1a14ff" opacity="0.88"/>
<circle cx="111.4" cy="87.8" r="0.79" fill="#1a14ff" opacity="0.50"/>
<circle cx="170.0" cy="69.6" r="0.91" fill="#1410c8" opacity="0.43"/>
<circle cx="168.1" cy="72.1" r="1.14" fill="#1a14ff" opacity="0.77"/>
<circle cx="175.2" cy="83.6" r="0.83" fill="#1410c8" opacity="0.49"/>
<circle cx="166.1" cy="75.0" r="1.15" fill="#1a14ff" opacity="0.61"/>
<circle cx="161.3" cy="65.5" r="0.89" fill="#2018e8" opacity="0.46"/>
<circle cx="175.7" cy="69.6" r="1.06" fill="#1410c8" opacity="0.75"/>
<circle cx="158.8" cy="78.3" r="0.68" fill="#2a20ff" opacity="0.56"/>
<circle cx="125.0" cy="22.9" r="0.85" fill="#2018e8" opacity="0.82"/>
<circle cx="119.6" cy="65.6" r="1.05" fill="#2a20ff" opacity="0.49"/>
<circle cx="122.2" cy="29.8" r="0.98" fill="#2a20ff" opacity="0.85"/>
<circle cx="83.8" cy="48.1" r="1.08" fill="#2a20ff" opacity="0.72"/>
<circle cx="100.6" cy="44.6" r="0.70" fill="#2018e8" opacity="0.73"/>
<circle cx="115.8" cy="40.4" r="0.80" fill="#1a14ff" opacity="0.86"/>
<circle cx="105.6" cy="41.2" r="1.07" fill="#2a20ff" opacity="0.54"/>
<circle cx="170.7" cy="50.2" r="0.78" fill="#2018e8" opacity="0.71"/>
<circle cx="121.5" cy="41.2" r="1.08" fill="#1a14ff" opacity="0.79"/>
<circle cx="161.6" cy="49.3" r="0.83" fill="#1a14ff" opacity="0.46"/>
<circle cx="158.6" cy="56.4" r="1.16" fill="#1a14ff" opacity="0.76"/>
<circle cx="123.3" cy="35.4" r="1.19" fill="#2a20ff" opacity="0.57"/>
<circle cx="158.8" cy="73.8" r="1.00" fill="#1a14ff" opacity="0.44"/>
<circle cx="90.6" cy="51.3" r="1.23" fill="#2a20ff" opacity="0.78"/>
<circle cx="128.3" cy="28.8" r="1.00" fill="#1410c8" opacity="0.65"/>
<circle cx="129.4" cy="22.3" r="0.64" fill="#1410c8" opacity="0.68"/>
<circle cx="93.6" cy="26.5" r="1.24" fill="#1410c8" opacity="0.76"/>
<circle cx="161.6" cy="66.8" r="0.90" fill="#2018e8" opacity="0.52"/>
<circle cx="113.3" cy="77.6" r="1.24" fill="#1410c8" opacity="0.57"/>
<circle cx="159.3" cy="82.0" r="0.94" fill="#2a20ff" opacity="0.49"/>
<circle cx="170.0" cy="56.2" r="0.74" fill="#1410c8" opacity="0.88"/>
<circle cx="121.9" cy="79.6" r="1.21" fill="#1a14ff" opacity="0.52"/>
<circle cx="153.6" cy="77.9" r="1.06" fill="#2018e8" opacity="0.65"/>
<circle cx="117.0" cy="47.3" r="0.98" fill="#2a20ff" opacity="0.78"/>
<circle cx="175.8" cy="77.2" r="0.75" fill="#2018e8" opacity="0.88"/>
<circle cx="118.2" cy="86.5" r="1.00" fill="#1a14ff" opacity="0.66"/>
<circle cx="170.7" cy="80.6" r="1.21" fill="#1410c8" opacity="0.46"/>
<circle cx="171.7" cy="66.6" r="1.24" fill="#2018e8" opacity="0.53"/>
<circle cx="140.0" cy="42.8" r="0.69" fill="#1a14ff" opacity="0.57"/>
<circle cx="92.0" cy="41.4" r="1.11" fill="#1410c8" opacity="0.86"/>
<circle cx="131.9" cy="41.1" r="1.24" fill="#2018e8" opacity="0.75"/>
<circle cx="124.6" cy="33.4" r="0.69" fill="#1410c8" opacity="0.62"/>
<circle cx="130.8" cy="42.6" r="0.78" fill="#1a14ff" opacity="0.76"/>
<circle cx="164.9" cy="71.9" r="0.92" fill="#2a20ff" opacity="0.72"/>
<circle cx="119.9" cy="55.2" r="0.85" fill="#2a20ff" opacity="0.63"/>
<circle cx="135.1" cy="34.1" r="1.23" fill="#1a14ff" opacity="0.47"/>
<circle cx="73.6" cy="51.2" r="0.93" fill="#1410c8" opacity="0.51"/>
<circle cx="168.0" cy="58.7" r="0.75" fill="#1a14ff" opacity="0.48"/>
<circle cx="171.1" cy="84.4" r="1.13" fill="#1410c8" opacity="0.86"/>
<circle cx="117.5" cy="18.6" r="0.91" fill="#1a14ff" opacity="0.60"/>
<circle cx="99.3" cy="52.9" r="0.66" fill="#1a14ff" opacity="0.72"/>
<circle cx="102.4" cy="72.8" r="0.63" fill="#2a20ff" opacity="0.89"/>
<circle cx="163.9" cy="57.6" r="0.76" fill="#2018e8" opacity="0.89"/>
<circle cx="99.1" cy="60.1" r="0.82" fill="#2a20ff" opacity="0.72"/>
<circle cx="95.9" cy="88.6" r="0.93" fill="#2018e8" opacity="0.87"/>
<circle cx="119.1" cy="92.3" r="0.63" fill="#1a14ff" opacity="0.73"/>
<circle cx="121.9" cy="40.0" r="0.86" fill="#1410c8" opacity="0.85"/>
<circle cx="128.6" cy="45.2" r="0.84" fill="#2018e8" opacity="0.50"/>
<circle cx="151.8" cy="86.2" r="0.99" fill="#1a14ff" opacity="0.52"/>
<circle cx="171.0" cy="67.4" r="0.81" fill="#2018e8" opacity="0.42"/>
<circle cx="129.6" cy="44.0" r="0.91" fill="#2a20ff" opacity="0.55"/>
<circle cx="160.4" cy="75.6" r="1.12" fill="#1410c8" opacity="0.69"/>
<circle cx="86.9" cy="71.0" r="1.17" fill="#2018e8" opacity="0.77"/>
<circle cx="140.0" cy="35.7" r="0.65" fill="#2a20ff" opacity="0.45"/>
<circle cx="106.0" cy="54.9" r="0.95" fill="#2a20ff" opacity="0.40"/>
<circle cx="121.3" cy="33.3" r="1.20" fill="#1410c8" opacity="0.54"/>
<circle cx="122.9" cy="39.0" r="0.86" fill="#1410c8" opacity="0.86"/>
<circle cx="129.8" cy="32.6" r="0.97" fill="#1a14ff" opacity="0.80"/>
<circle cx="170.3" cy="60.0" r="0.73" fill="#1410c8" opacity="0.46"/>
<circle cx="129.0" cy="28.4" r="0.61" fill="#2018e8" opacity="0.74"/>
<circle cx="174.3" cy="73.0" r="0.83" fill="#2a20ff" opacity="0.46"/>
<circle cx="140.3" cy="28.9" r="0.65" fill="#2018e8" opacity="0.80"/>
<circle cx="100.3" cy="82.4" r="0.92" fill="#1a14ff" opacity="0.68"/>
<circle cx="94.8" cy="42.9" r="1.08" fill="#2a20ff" opacity="0.87"/>
<circle cx="112.8" cy="21.6" r="0.62" fill="#2a20ff" opacity="0.57"/>
<circle cx="147.7" cy="93.2" r="0.90" fill="#2018e8" opacity="0.43"/>
<circle cx="163.1" cy="61.2" r="0.93" fill="#1a14ff" opacity="0.76"/>
<circle cx="93.7" cy="80.3" r="0.69" fill="#2a20ff" opacity="0.44"/>
<circle cx="131.9" cy="42.0" r="0.67" fill="#2018e8" opacity="0.75"/>
<circle cx="119.7" cy="33.4" r="1.00" fill="#1a14ff" opacity="0.72"/>
<circle cx="161.0" cy="64.3" r="0.69" fill="#1a14ff" opacity="0.76"/>
<circle cx="132.6" cy="76.0" r="1.12" fill="#1410c8" opacity="0.83"/>
<circle cx="133.5" cy="50.3" r="0.75" fill="#2a20ff" opacity="0.44"/>
<circle cx="82.8" cy="52.0" r="0.87" fill="#2a20ff" opacity="0.42"/>
<circle cx="166.6" cy="75.3" r="1.02" fill="#2018e8" opacity="0.90"/>
<circle cx="171.9" cy="72.3" r="0.78" fill="#2a20ff" opacity="0.68"/>
<circle cx="147.0" cy="41.0" r="0.64" fill="#2018e8" opacity="0.68"/>
<circle cx="159.9" cy="69.8" r="0.91" fill="#2a20ff" opacity="0.51"/>
<circle cx="124.6" cy="37.7" r="0.64" fill="#2a20ff" opacity="0.53"/>
<circle cx="153.9" cy="26.6" r="0.67" fill="#1410c8" opacity="0.49"/>
<circle cx="123.7" cy="72.5" r="1.17" fill="#2a20ff" opacity="0.58"/>
<circle cx="170.1" cy="65.0" r="0.74" fill="#1a14ff" opacity="0.55"/>
<circle cx="93.4" cy="62.3" r="0.99" fill="#1410c8" opacity="0.85"/>
<circle cx="121.0" cy="67.4" r="0.91" fill="#1a14ff" opacity="0.68"/>
<circle cx="143.6" cy="65.0" r="0.90" fill="#1410c8" opacity="0.60"/>
<circle cx="165.1" cy="68.8" r="0.97" fill="#2a20ff" opacity="0.49"/>
<circle cx="159.4" cy="59.1" r="0.77" fill="#2a20ff" opacity="0.63"/>
<circle cx="129.0" cy="74.7" r="0.61" fill="#2a20ff" opacity="0.63"/>
<circle cx="170.4" cy="74.0" r="1.08" fill="#1a14ff" opacity="0.70"/>
<circle cx="150.0" cy="23.0" r="0.76" fill="#2018e8" opacity="0.56"/>
<circle cx="132.8" cy="35.2" r="1.13" fill="#1a14ff" opacity="0.66"/>
<circle cx="121.3" cy="67.1" r="1.19" fill="#2018e8" opacity="0.66"/>
<circle cx="134.4" cy="27.2" r="0.89" fill="#2a20ff" opacity="0.66"/>
<circle cx="164.8" cy="59.6" r="0.69" fill="#1410c8" opacity="0.58"/>
<circle cx="111.7" cy="71.4" r="0.73" fill="#2a20ff" opacity="0.69"/>
<circle cx="128.0" cy="27.5" r="0.66" fill="#2a20ff" opacity="0.81"/>
<circle cx="170.4" cy="67.7" r="0.95" fill="#1410c8" opacity="0.59"/>
<circle cx="169.6" cy="75.3" r="0.77" fill="#1410c8" opacity="0.52"/>
<circle cx="124.0" cy="22.4" r="1.01" fill="#1a14ff" opacity="0.49"/>
<circle cx="91.3" cy="43.9" r="1.08" fill="#1410c8" opacity="0.50"/>
<circle cx="160.3" cy="88.8" r="1.20" fill="#2018e8" opacity="0.41"/>
<circle cx="118.2" cy="88.7" r="0.79" fill="#1a14ff" opacity="0.42"/>
<circle cx="161.4" cy="76.6" r="1.18" fill="#2018e8" opacity="0.89"/>
<circle cx="166.4" cy="75.6" r="0.81" fill="#1a14ff" opacity="0.86"/>
<circle cx="134.1" cy="59.0" r="0.85" fill="#2a20ff" opacity="0.44"/>
<circle cx="123.3" cy="25.6" r="0.85" fill="#2018e8" opacity="0.82"/>
<circle cx="160.3" cy="40.2" r="0.71" fill="#2a20ff" opacity="0.82"/>
<circle cx="96.8" cy="75.7" r="1.02" fill="#1a14ff" opacity="0.82"/>
<circle cx="123.4" cy="27.9" r="1.02" fill="#1a14ff" opacity="0.73"/>
<circle cx="144.9" cy="48.2" r="0.86" fill="#2018e8" opacity="0.77"/>
<circle cx="146.4" cy="49.8" r="1.19" fill="#1a14ff" opacity="0.42"/>
<circle cx="129.9" cy="60.7" r="0.80" fill="#1a14ff" opacity="0.77"/>
<circle cx="125.1" cy="78.7" r="1.07" fill="#2018e8" opacity="0.58"/>
<circle cx="167.2" cy="60.4" r="1.03" fill="#2018e8" opacity="0.79"/>
<circle cx="180.7" cy="81.7" r="1.08" fill="#2a20ff" opacity="0.76"/>
<circle cx="122.2" cy="43.2" r="1.04" fill="#2018e8" opacity="0.76"/>
<circle cx="84.1" cy="48.7" r="0.77" fill="#2018e8" opacity="0.56"/>
<circle cx="112.4" cy="38.6" r="0.98" fill="#1410c8" opacity="0.56"/>
<circle cx="146.5" cy="19.8" r="1.21" fill="#2018e8" opacity="0.78"/>
<circle cx="107.3" cy="75.0" r="0.63" fill="#1a14ff" opacity="0.73"/>
<circle cx="140.2" cy="70.7" r="1.22" fill="#2a20ff" opacity="0.76"/>
<circle cx="159.6" cy="60.2" r="0.67" fill="#1410c8" opacity="0.81"/>
<circle cx="123.0" cy="47.0" r="0.65" fill="#2018e8" opacity="0.78"/>
<circle cx="121.8" cy="48.4" r="1.02" fill="#1410c8" opacity="0.81"/>
<circle cx="81.6" cy="48.8" r="1.16" fill="#2a20ff" opacity="0.74"/>
<circle cx="157.7" cy="69.0" r="0.91" fill="#2018e8" opacity="0.82"/>
<circle cx="125.1" cy="30.2" r="0.88" fill="#2a20ff" opacity="0.61"/>
<circle cx="132.7" cy="30.5" r="1.14" fill="#1410c8" opacity="0.59"/>
<circle cx="174.6" cy="69.9" r="1.00" fill="#2a20ff" opacity="0.88"/>
<circle cx="113.9" cy="41.6" r="0.67" fill="#1410c8" opacity="0.54"/>
<circle cx="165.5" cy="79.3" r="0.95" fill="#2018e8" opacity="0.69"/>
<circle cx="114.7" cy="80.2" r="0.78" fill="#1a14ff" opacity="0.84"/>
<circle cx="174.0" cy="54.9" r="1.07" fill="#2a20ff" opacity="0.46"/>
<circle cx="118.6" cy="31.1" r="1.06" fill="#1a14ff" opacity="0.63"/>
<circle cx="101.2" cy="36.8" r="0.79" fill="#2a20ff" opacity="0.51"/>
<circle cx="144.4" cy="65.9" r="1.04" fill="#2018e8" opacity="0.56"/>
<circle cx="190.4" cy="78.6" r="0.79" fill="#2018e8" opacity="0.66"/>
<circle cx="122.2" cy="31.4" r="0.93" fill="#1410c8" opacity="0.84"/>
<circle cx="181.5" cy="79.7" r="0.61" fill="#2a20ff" opacity="0.45"/>
<circle cx="140.2" cy="35.1" r="0.93" fill="#2018e8" opacity="0.56"/>
<circle cx="170.3" cy="80.4" r="0.78" fill="#1a14ff" opacity="0.46"/>
<circle cx="158.2" cy="79.7" r="0.60" fill="#2018e8" opacity="0.86"/>
<circle cx="147.4" cy="15.6" r="0.64" fill="#1410c8" opacity="0.71"/>
<circle cx="152.0" cy="53.4" r="0.70" fill="#2a20ff" opacity="0.86"/>
<circle cx="102.5" cy="55.6" r="0.93" fill="#1410c8" opacity="0.84"/>
<circle cx="136.7" cy="19.3" r="0.62" fill="#1410c8" opacity="0.75"/>
<circle cx="154.4" cy="37.2" r="1.02" fill="#1410c8" opacity="0.47"/>
<circle cx="158.9" cy="31.3" r="1.24" fill="#1410c8" opacity="0.67"/>
<circle cx="97.3" cy="39.4" r="0.85" fill="#2018e8" opacity="0.47"/>
<circle cx="173.1" cy="67.3" r="0.78" fill="#2018e8" opacity="0.72"/>
<circle cx="117.5" cy="29.6" r="1.18" fill="#2a20ff" opacity="0.80"/>
<circle cx="125.3" cy="23.2" r="1.23" fill="#1410c8" opacity="0.47"/>
<circle cx="159.3" cy="67.1" r="1.10" fill="#1a14ff" opacity="0.86"/>
<circle cx="163.9" cy="61.8" r="0.64" fill="#1410c8" opacity="0.44"/>
<circle cx="120.8" cy="76.0" r="1.05" fill="#1a14ff" opacity="0.46"/>
<circle cx="159.5" cy="65.6" r="1.05" fill="#2018e8" opacity="0.54"/>
<circle cx="142.7" cy="63.4" r="1.24" fill="#2a20ff" opacity="0.72"/>
<circle cx="116.3" cy="16.2" r="0.84" fill="#2a20ff" opacity="0.74"/>
<circle cx="108.8" cy="54.7" r="0.81" fill="#1a14ff" opacity="0.50"/>
<circle cx="175.4" cy="66.3" r="0.83" fill="#1a14ff" opacity="0.64"/>
<circle cx="147.4" cy="18.9" r="1.14" fill="#1a14ff" opacity="0.78"/>
<circle cx="94.5" cy="74.6" r="1.03" fill="#2a20ff" opacity="0.88"/>
<circle cx="88.4" cy="65.1" r="0.77" fill="#1a14ff" opacity="0.76"/>
<circle cx="88.9" cy="64.3" r="0.69" fill="#2018e8" opacity="0.78"/>
<circle cx="125.8" cy="74.6" r="0.90" fill="#2018e8" opacity="0.82"/>
<circle cx="115.3" cy="34.6" r="1.17" fill="#1410c8" opacity="0.70"/>
<circle cx="131.0" cy="24.6" r="0.84" fill="#2a20ff" opacity="0.52"/>
<circle cx="120.5" cy="30.3" r="0.85" fill="#2018e8" opacity="0.56"/>
<circle cx="163.6" cy="51.1" r="0.96" fill="#2a20ff" opacity="0.86"/>
<circle cx="172.5" cy="73.2" r="0.92" fill="#1410c8" opacity="0.85"/>
<circle cx="158.0" cy="62.9" r="0.73" fill="#1410c8" opacity="0.76"/>
<circle cx="169.5" cy="57.6" r="0.90" fill="#1410c8" opacity="0.60"/>
<circle cx="140.9" cy="51.3" r="1.17" fill="#2018e8" opacity="0.79"/>
<circle cx="106.1" cy="71.6" r="0.83" fill="#2a20ff" opacity="0.47"/>
<circle cx="176.9" cy="74.0" r="1.10" fill="#2018e8" opacity="0.42"/>
<circle cx="110.9" cy="25.6" r="0.95" fill="#2a20ff" opacity="0.80"/>
<circle cx="112.4" cy="26.6" r="0.88" fill="#1a14ff" opacity="0.85"/>
<circle cx="121.2" cy="23.2" r="1.12" fill="#2018e8" opacity="0.90"/>
<circle cx="140.9" cy="24.1" r="1.13" fill="#1410c8" opacity="0.59"/>
<circle cx="96.5" cy="67.7" r="0.85" fill="#2a20ff" opacity="0.63"/>
<circle cx="112.4" cy="74.7" r="0.91" fill="#2018e8" opacity="0.54"/>
<circle cx="161.3" cy="60.5" r="1.03" fill="#2a20ff" opacity="0.42"/>
<circle cx="158.7" cy="61.4" r="0.63" fill="#1410c8" opacity="0.62"/>
<circle cx="176.1" cy="71.2" r="1.25" fill="#1a14ff" opacity="0.45"/>
<circle cx="108.3" cy="65.7" r="0.75" fill="#1410c8" opacity="0.61"/>
<circle cx="145.4" cy="39.5" r="0.61" fill="#2018e8" opacity="0.71"/>
<circle cx="169.8" cy="74.2" r="0.70" fill="#2018e8" opacity="0.58"/>
<circle cx="115.8" cy="67.9" r="0.66" fill="#2a20ff" opacity="0.43"/>
<circle cx="87.6" cy="46.8" r="0.82" fill="#1410c8" opacity="0.54"/>
<circle cx="131.3" cy="26.8" r="1.10" fill="#1410c8" opacity="0.48"/>
<circle cx="124.7" cy="27.2" r="0.74" fill="#1a14ff" opacity="0.61"/>
<circle cx="137.1" cy="30.6" r="0.63" fill="#1410c8" opacity="0.86"/>
<circle cx="137.2" cy="44.5" r="0.71" fill="#1410c8" opacity="0.50"/>
<circle cx="122.5" cy="35.6" r="0.93" fill="#1a14ff" opacity="0.45"/>
<circle cx="165.7" cy="65.5" r="0.83" fill="#1a14ff" opacity="0.56"/>
<circle cx="162.6" cy="87.6" r="0.77" fill="#1a14ff" opacity="0.58"/>
<circle cx="191.8" cy="72.8" r="0.64" fill="#1410c8" opacity="0.88"/>
<circle cx="131.1" cy="26.2" r="1.01" fill="#1410c8" opacity="0.70"/>
<circle cx="122.3" cy="63.5" r="1.14" fill="#2018e8" opacity="0.68"/>
<circle cx="108.4" cy="75.1" r="0.95" fill="#1410c8" opacity="0.75"/>
<circle cx="112.3" cy="68.9" r="0.62" fill="#2018e8" opacity="0.72"/>
<circle cx="167.2" cy="57.3" r="0.99" fill="#1a14ff" opacity="0.57"/>
<circle cx="116.4" cy="67.2" r="1.01" fill="#2a20ff" opacity="0.65"/>
<circle cx="91.9" cy="52.6" r="1.03" fill="#1a14ff" opacity="0.54"/>
<circle cx="137.1" cy="27.2" r="0.92" fill="#2018e8" opacity="0.47"/>
<circle cx="138.1" cy="56.8" r="1.19" fill="#2018e8" opacity="0.73"/>
<circle cx="100.3" cy="81.2" r="0.80" fill="#2a20ff" opacity="0.47"/>
<circle cx="175.4" cy="67.4" r="1.14" fill="#1a14ff" opacity="0.41"/>
<circle cx="111.0" cy="75.8" r="0.66" fill="#1a14ff" opacity="0.42"/>
<circle cx="120.3" cy="59.9" r="1.21" fill="#1410c8" opacity="0.57"/>
<circle cx="127.8" cy="28.6" r="1.23" fill="#2018e8" opacity="0.73"/>
<circle cx="175.8" cy="53.1" r="1.00" fill="#1a14ff" opacity="0.89"/>
<circle cx="160.8" cy="85.2" r="0.86" fill="#1a14ff" opacity="0.42"/>
<circle cx="115.1" cy="32.1" r="0.72" fill="#1a14ff" opacity="0.51"/>
<circle cx="127.2" cy="49.3" r="1.16" fill="#2a20ff" opacity="0.64"/>
<circle cx="143.4" cy="43.3" r="0.72" fill="#1a14ff" opacity="0.79"/>
<circle cx="134.2" cy="25.5" r="1.09" fill="#2018e8" opacity="0.53"/>
<circle cx="177.6" cy="78.9" r="0.90" fill="#2a20ff" opacity="0.62"/>
<circle cx="131.3" cy="30.9" r="0.89" fill="#1a14ff" opacity="0.79"/>
<circle cx="122.1" cy="36.4" r="1.20" fill="#1410c8" opacity="0.59"/>
<circle cx="143.1" cy="49.4" r="0.90" fill="#1410c8" opacity="0.54"/>
<circle cx="133.6" cy="31.5" r="0.87" fill="#1410c8" opacity="0.58"/>
<circle cx="153.5" cy="72.5" r="1.16" fill="#1a14ff" opacity="0.47"/>
<circle cx="157.5" cy="60.6" r="1.04" fill="#2018e8" opacity="0.59"/>
<circle cx="92.9" cy="46.0" r="1.17" fill="#2018e8" opacity="0.86"/>
<circle cx="165.8" cy="62.7" r="1.20" fill="#1410c8" opacity="0.73"/>
<circle cx="111.2" cy="24.0" r="1.00" fill="#1410c8" opacity="0.82"/>
<circle cx="163.6" cy="55.6" r="0.77" fill="#2018e8" opacity="0.63"/>
<circle cx="100.1" cy="78.3" r="1.07" fill="#2018e8" opacity="0.45"/>
<circle cx="92.8" cy="25.1" r="0.74" fill="#2018e8" opacity="0.53"/>
<circle cx="146.4" cy="39.9" r="1.04" fill="#2018e8" opacity="0.60"/>
<circle cx="123.6" cy="70.3" r="1.19" fill="#2a20ff" opacity="0.58"/>
<circle cx="171.2" cy="65.7" r="0.88" fill="#1a14ff" opacity="0.81"/>
<circle cx="138.6" cy="39.4" r="0.80" fill="#2a20ff" opacity="0.55"/>
<circle cx="98.0" cy="37.6" r="1.11" fill="#1a14ff" opacity="0.59"/>
<circle cx="115.2" cy="82.7" r="1.06" fill="#2018e8" opacity="0.89"/>
<circle cx="112.9" cy="50.8" r="0.83" fill="#2018e8" opacity="0.48"/>
<circle cx="132.2" cy="26.1" r="0.93" fill="#1a14ff" opacity="0.78"/>
<circle cx="128.7" cy="59.7" r="0.85" fill="#1a14ff" opacity="0.82"/>
<circle cx="121.0" cy="35.5" r="0.86" fill="#2a20ff" opacity="0.84"/>
<circle cx="125.4" cy="32.8" r="1.23" fill="#2a20ff" opacity="0.78"/>
<circle cx="116.2" cy="28.5" r="1.10" fill="#1410c8" opacity="0.78"/>
<circle cx="84.1" cy="36.6" r="1.00" fill="#1410c8" opacity="0.51"/>
<circle cx="137.1" cy="48.9" r="0.67" fill="#1a14ff" opacity="0.55"/>
<circle cx="127.3" cy="41.4" r="1.21" fill="#2a20ff" opacity="0.67"/>
<circle cx="137.7" cy="50.6" r="0.80" fill="#1a14ff" opacity="0.61"/>
<circle cx="105.9" cy="42.5" r="1.07" fill="#2a20ff" opacity="0.84"/>
<circle cx="134.4" cy="53.4" r="0.62" fill="#2018e8" opacity="0.46"/>
<circle cx="180.3" cy="86.2" r="0.91" fill="#2a20ff" opacity="0.68"/>
<circle cx="168.6" cy="73.4" r="1.09" fill="#2a20ff" opacity="0.89"/>
<circle cx="127.3" cy="31.1" r="0.63" fill="#2a20ff" opacity="0.69"/>
<circle cx="90.6" cy="44.6" r="1.18" fill="#2a20ff" opacity="0.63"/>
<circle cx="166.2" cy="61.4" r="0.84" fill="#2018e8" opacity="0.52"/>
<circle cx="145.3" cy="8.7" r="0.79" fill="#2018e8" opacity="0.69"/>
<circle cx="130.0" cy="24.8" r="1.12" fill="#2a20ff" opacity="0.82"/>
<circle cx="129.3" cy="41.5" r="0.87" fill="#1a14ff" opacity="0.72"/>
<circle cx="89.5" cy="87.1" r="1.13" fill="#2a20ff" opacity="0.48"/>
<circle cx="156.2" cy="47.7" r="1.12" fill="#1410c8" opacity="0.50"/>
<circle cx="92.2" cy="37.9" r="0.93" fill="#1a14ff" opacity="0.41"/>
<circle cx="129.4" cy="42.1" r="1.12" fill="#1410c8" opacity="0.67"/>
<circle cx="91.3" cy="70.0" r="1.08" fill="#1410c8" opacity="0.70"/>
<circle cx="113.2" cy="88.5" r="1.09" fill="#1410c8" opacity="0.64"/>
<circle cx="173.9" cy="48.4" r="0.89" fill="#1410c8" opacity="0.40"/>
<circle cx="167.8" cy="57.4" r="1.20" fill="#1410c8" opacity="0.60"/>
<circle cx="118.9" cy="19.2" r="0.97" fill="#1a14ff" opacity="0.70"/>
<circle cx="139.0" cy="35.1" r="1.23" fill="#2a20ff" opacity="0.77"/>
<circle cx="127.2" cy="32.9" r="1.03" fill="#1410c8" opacity="0.48"/>
<circle cx="159.1" cy="79.2" r="0.98" fill="#1a14ff" opacity="0.55"/>
<circle cx="104.2" cy="62.7" r="1.02" fill="#2018e8" opacity="0.63"/>
<circle cx="92.3" cy="40.9" r="1.19" fill="#1a14ff" opacity="0.47"/>
<circle cx="131.1" cy="27.7" r="0.77" fill="#1a14ff" opacity="0.50"/>
<circle cx="160.5" cy="61.0" r="1.13" fill="#1a14ff" opacity="0.83"/>
<circle cx="117.4" cy="18.3" r="0.80" fill="#1410c8" opacity="0.47"/>
<circle cx="163.8" cy="48.5" r="0.71" fill="#2a20ff" opacity="0.82"/>
<circle cx="170.1" cy="56.8" r="0.86" fill="#1a14ff" opacity="0.50"/>
<circle cx="92.2" cy="37.0" r="0.91" fill="#1a14ff" opacity="0.72"/>
<circle cx="91.8" cy="48.1" r="1.08" fill="#1a14ff" opacity="0.86"/>
<circle cx="127.8" cy="48.7" r="0.76" fill="#2018e8" opacity="0.75"/>
<circle cx="85.0" cy="53.3" r="0.66" fill="#2a20ff" opacity="0.76"/>
<circle cx="108.6" cy="37.7" r="0.70" fill="#1410c8" opacity="0.75"/>
<circle cx="142.0" cy="37.7" r="0.84" fill="#1a14ff" opacity="0.53"/>
<circle cx="171.0" cy="45.0" r="1.13" fill="#1a14ff" opacity="0.84"/>
<circle cx="169.2" cy="85.9" r="0.88" fill="#1a14ff" opacity="0.41"/>
<circle cx="115.4" cy="42.9" r="1.14" fill="#2018e8" opacity="0.71"/>
<circle cx="106.3" cy="65.0" r="0.78" fill="#1410c8" opacity="0.55"/>
<circle cx="169.3" cy="65.2" r="0.88" fill="#2018e8" opacity="0.77"/>
<circle cx="140.0" cy="53.8" r="0.93" fill="#1a14ff" opacity="0.75"/>
<circle cx="150.3" cy="76.1" r="1.18" fill="#2018e8" opacity="0.86"/>
<circle cx="166.3" cy="84.2" r="1.20" fill="#1a14ff" opacity="0.60"/>
<circle cx="138.7" cy="31.2" r="0.90" fill="#1410c8" opacity="0.55"/>
<circle cx="95.0" cy="68.6" r="1.21" fill="#1a14ff" opacity="0.52"/>
<circle cx="107.9" cy="78.6" r="0.92" fill="#1410c8" opacity="0.57"/>
<circle cx="150.2" cy="40.5" r="0.96" fill="#2018e8" opacity="0.48"/>
<circle cx="172.8" cy="74.2" r="1.05" fill="#1a14ff" opacity="0.90"/>
<circle cx="161.8" cy="76.6" r="1.14" fill="#1a14ff" opacity="0.74"/>
<circle cx="114.6" cy="100.3" r="0.77" fill="#2018e8" opacity="0.85"/>
<circle cx="93.5" cy="27.5" r="0.82" fill="#2018e8" opacity="0.41"/>
<circle cx="138.4" cy="32.5" r="0.94" fill="#2a20ff" opacity="0.57"/>
<circle cx="129.0" cy="36.3" r="1.13" fill="#2018e8" opacity="0.73"/>
<circle cx="131.1" cy="66.8" r="1.12" fill="#1a14ff" opacity="0.80"/>
<circle cx="124.6" cy="72.6" r="0.64" fill="#2a20ff" opacity="0.55"/>
<circle cx="174.6" cy="81.8" r="1.15" fill="#2018e8" opacity="0.77"/>
<circle cx="135.5" cy="23.4" r="1.03" fill="#1410c8" opacity="0.83"/>
<circle cx="89.8" cy="58.7" r="1.22" fill="#2018e8" opacity="0.54"/>
<circle cx="81.6" cy="64.2" r="1.20" fill="#1410c8" opacity="0.77"/>
<circle cx="178.6" cy="54.8" r="1.00" fill="#1a14ff" opacity="0.49"/>
<circle cx="110.0" cy="89.6" r="0.63" fill="#1410c8" opacity="0.57"/>
<circle cx="121.2" cy="30.7" r="0.96" fill="#2a20ff" opacity="0.61"/>
<circle cx="142.4" cy="54.4" r="0.79" fill="#2a20ff" opacity="0.46"/>
<circle cx="134.3" cy="38.0" r="1.05" fill="#1a14ff" opacity="0.74"/>
<circle cx="167.6" cy="68.6" r="1.22" fill="#2018e8" opacity="0.54"/>
<circle cx="92.5" cy="45.1" r="0.73" fill="#1a14ff" opacity="0.44"/>
<circle cx="177.4" cy="59.5" r="1.01" fill="#1410c8" opacity="0.80"/>
<circle cx="106.9" cy="87.5" r="0.68" fill="#1410c8" opacity="0.80"/>
<circle cx="135.6" cy="51.6" r="0.82" fill="#1a14ff" opacity="0.52"/>
<circle cx="124.0" cy="37.8" r="0.97" fill="#2018e8" opacity="0.51"/>
<circle cx="138.0" cy="48.1" r="1.03" fill="#1410c8" opacity="0.86"/>
<circle cx="111.9" cy="57.7" r="1.03" fill="#1410c8" opacity="0.81"/>
<circle cx="87.3" cy="65.0" r="0.96" fill="#2018e8" opacity="0.44"/>
<circle cx="170.5" cy="59.0" r="1.08" fill="#2a20ff" opacity="0.63"/>
<circle cx="100.9" cy="20.3" r="0.68" fill="#1a14ff" opacity="0.81"/>
<circle cx="151.0" cy="22.9" r="0.97" fill="#2a20ff" opacity="0.83"/>
<circle cx="153.8" cy="32.7" r="1.00" fill="#2018e8" opacity="0.86"/>
<circle cx="116.5" cy="28.3" r="0.86" fill="#1410c8" opacity="0.75"/>
<circle cx="174.2" cy="44.7" r="0.66" fill="#1a14ff" opacity="0.52"/>
<circle cx="78.9" cy="49.4" r="0.80" fill="#1a14ff" opacity="0.75"/>
<circle cx="163.3" cy="52.8" r="1.16" fill="#2a20ff" opacity="0.81"/>
<circle cx="164.0" cy="77.5" r="0.63" fill="#2a20ff" opacity="0.72"/>
<circle cx="158.6" cy="58.4" r="0.93" fill="#2018e8" opacity="0.47"/>
<circle cx="107.5" cy="6.6" r="0.88" fill="#2a20ff" opacity="0.45"/>
<circle cx="113.1" cy="36.0" r="1.15" fill="#1410c8" opacity="0.43"/>
<circle cx="166.3" cy="68.2" r="0.83" fill="#2a20ff" opacity="0.83"/>
<circle cx="150.4" cy="43.5" r="1.11" fill="#2a20ff" opacity="0.65"/>
<circle cx="165.0" cy="79.3" r="1.07" fill="#2018e8" opacity="0.45"/>
<circle cx="164.3" cy="71.5" r="0.87" fill="#2a20ff" opacity="0.84"/>
<circle cx="167.7" cy="53.4" r="1.15" fill="#2a20ff" opacity="0.54"/>
<circle cx="94.8" cy="79.0" r="1.14" fill="#2a20ff" opacity="0.82"/>
<circle cx="137.4" cy="32.9" r="1.17" fill="#1a14ff" opacity="0.44"/>
<circle cx="120.7" cy="40.2" r="1.18" fill="#2a20ff" opacity="0.60"/>
<circle cx="83.4" cy="72.3" r="0.63" fill="#1a14ff" opacity="0.61"/>
<circle cx="149.5" cy="64.5" r="1.23" fill="#1a14ff" opacity="0.79"/>
<circle cx="152.3" cy="51.2" r="1.17" fill="#1410c8" opacity="0.82"/>
<circle cx="135.2" cy="34.7" r="1.05" fill="#1410c8" opacity="0.76"/>
<circle cx="84.6" cy="45.0" r="1.03" fill="#2018e8" opacity="0.88"/>
<circle cx="175.2" cy="70.7" r="0.66" fill="#2018e8" opacity="0.48"/>
<circle cx="169.2" cy="78.4" r="1.25" fill="#1410c8" opacity="0.85"/>
<circle cx="125.0" cy="28.4" r="1.16" fill="#2018e8" opacity="0.62"/>
<circle cx="80.0" cy="48.9" r="0.63" fill="#2a20ff" opacity="0.49"/>
<circle cx="130.9" cy="31.2" r="0.94" fill="#2a20ff" opacity="0.64"/>
<circle cx="124.8" cy="89.0" r="0.97" fill="#1410c8" opacity="0.51"/>
<circle cx="100.0" cy="61.5" r="1.09" fill="#2a20ff" opacity="0.65"/>
<circle cx="131.9" cy="21.6" r="0.62" fill="#1410c8" opacity="0.48"/>
<circle cx="153.9" cy="58.6" r="1.05" fill="#1a14ff" opacity="0.57"/>
<circle cx="118.8" cy="65.8" r="0.87" fill="#1a14ff" opacity="0.57"/>
<circle cx="178.4" cy="79.7" r="0.79" fill="#1410c8" opacity="0.77"/>
<circle cx="147.2" cy="59.9" r="1.06" fill="#2018e8" opacity="0.52"/>
<circle cx="138.5" cy="62.4" r="0.83" fill="#2a20ff" opacity="0.70"/>
<circle cx="119.4" cy="67.6" r="0.85" fill="#1a14ff" opacity="0.84"/>
<circle cx="132.0" cy="46.0" r="0.70" fill="#1a14ff" opacity="0.67"/>
<circle cx="80.3" cy="33.1" r="0.70" fill="#2018e8" opacity="0.89"/>
<circle cx="136.1" cy="55.7" r="0.91" fill="#1410c8" opacity="0.64"/>
<circle cx="153.4" cy="62.6" r="1.03" fill="#1a14ff" opacity="0.85"/>
<circle cx="119.7" cy="33.7" r="0.92" fill="#2a20ff" opacity="0.68"/>
<circle cx="127.8" cy="40.1" r="1.03" fill="#2a20ff" opacity="0.71"/>
<circle cx="162.5" cy="69.8" r="0.92" fill="#2a20ff" opacity="0.88"/>
<circle cx="153.7" cy="54.0" r="0.99" fill="#1a14ff" opacity="0.53"/>
<circle cx="166.5" cy="64.5" r="0.94" fill="#2a20ff" opacity="0.44"/>
<circle cx="176.7" cy="72.0" r="1.02" fill="#1a14ff" opacity="0.83"/>
<circle cx="169.4" cy="75.6" r="1.06" fill="#2018e8" opacity="0.80"/>
<circle cx="117.6" cy="72.2" r="0.75" fill="#2018e8" opacity="0.51"/>
<circle cx="132.7" cy="44.3" r="1.07" fill="#2a20ff" opacity="0.84"/>
<circle cx="123.5" cy="69.0" r="0.62" fill="#1410c8" opacity="0.61"/>
<circle cx="185.9" cy="72.4" r="0.66" fill="#2a20ff" opacity="0.81"/>
<circle cx="135.3" cy="56.3" r="0.63" fill="#1a14ff" opacity="0.52"/>
<circle cx="146.5" cy="55.0" r="1.09" fill="#1410c8" opacity="0.77"/>
<circle cx="109.6" cy="18.5" r="0.84" fill="#2018e8" opacity="0.83"/>
<circle cx="159.9" cy="43.3" r="0.85" fill="#2a20ff" opacity="0.84"/>
<circle cx="132.7" cy="37.4" r="0.85" fill="#2018e8" opacity="0.45"/>
<circle cx="78.4" cy="42.8" r="0.81" fill="#2018e8" opacity="0.67"/>
<circle cx="160.1" cy="64.5" r="1.01" fill="#1a14ff" opacity="0.57"/>
<circle cx="168.9" cy="47.1" r="0.80" fill="#2a20ff" opacity="0.64"/>
<circle cx="85.3" cy="84.5" r="0.84" fill="#2a20ff" opacity="0.46"/>
<circle cx="152.4" cy="57.9" r="1.16" fill="#2a20ff" opacity="0.86"/>
<circle cx="148.5" cy="47.9" r="0.92" fill="#2018e8" opacity="0.71"/>
<circle cx="135.7" cy="43.1" r="0.72" fill="#1a14ff" opacity="0.47"/>
<circle cx="172.7" cy="58.2" r="0.73" fill="#2018e8" opacity="0.79"/>
<circle cx="123.8" cy="91.1" r="0.71" fill="#1410c8" opacity="0.89"/>
<circle cx="72.8" cy="39.2" r="1.04" fill="#2018e8" opacity="0.86"/>
<circle cx="140.8" cy="51.0" r="0.68" fill="#1a14ff" opacity="0.55"/>
<circle cx="140.4" cy="50.3" r="0.78" fill="#1410c8" opacity="0.85"/>
<circle cx="139.1" cy="33.5" r="0.66" fill="#1410c8" opacity="0.53"/>
<circle cx="146.8" cy="77.7" r="0.89" fill="#1a14ff" opacity="0.46"/>
<circle cx="158.8" cy="36.6" r="1.17" fill="#1a14ff" opacity="0.69"/>
<circle cx="131.0" cy="79.8" r="0.74" fill="#1410c8" opacity="0.90"/>
<circle cx="139.9" cy="22.7" r="1.10" fill="#1410c8" opacity="0.58"/>
<circle cx="118.7" cy="59.0" r="1.13" fill="#1410c8" opacity="0.47"/>
<circle cx="140.1" cy="57.3" r="1.01" fill="#2018e8" opacity="0.59"/>
<circle cx="118.1" cy="77.2" r="0.97" fill="#1410c8" opacity="0.67"/>
<circle cx="129.4" cy="27.5" r="1.14" fill="#1410c8" opacity="0.48"/>
<circle cx="114.7" cy="70.7" r="1.10" fill="#1410c8" opacity="0.47"/>
<circle cx="123.0" cy="21.3" r="0.81" fill="#1a14ff" opacity="0.55"/>
<circle cx="114.9" cy="65.6" r="0.82" fill="#1410c8" opacity="0.78"/>
<circle cx="135.8" cy="27.6" r="1.24" fill="#1410c8" opacity="0.44"/>
<circle cx="169.2" cy="52.3" r="0.85" fill="#2a20ff" opacity="0.40"/>
<circle cx="129.7" cy="32.9" r="1.19" fill="#2018e8" opacity="0.78"/>
<circle cx="184.4" cy="59.2" r="0.66" fill="#1a14ff" opacity="0.70"/>
<circle cx="157.3" cy="82.0" r="0.69" fill="#1a14ff" opacity="0.68"/>
<circle cx="146.6" cy="11.8" r="0.63" fill="#1a14ff" opacity="0.58"/>
<circle cx="131.4" cy="14.8" r="1.21" fill="#1a14ff" opacity="0.79"/>
<circle cx="172.3" cy="51.8" r="0.72" fill="#2a20ff" opacity="0.78"/>
<circle cx="88.1" cy="55.3" r="1.19" fill="#1410c8" opacity="0.68"/>
<circle cx="168.5" cy="51.7" r="0.62" fill="#2a20ff" opacity="0.88"/>
<circle cx="105.6" cy="93.2" r="0.91" fill="#1a14ff" opacity="0.47"/>
<circle cx="155.4" cy="63.4" r="0.63" fill="#1410c8" opacity="0.56"/>
<circle cx="141.0" cy="46.7" r="1.12" fill="#1410c8" opacity="0.80"/>
<circle cx="119.9" cy="26.5" r="1.03" fill="#2a20ff" opacity="0.81"/>
<circle cx="135.8" cy="23.4" r="0.75" fill="#2a20ff" opacity="0.65"/>
<circle cx="123.9" cy="72.2" r="1.15" fill="#2018e8" opacity="0.71"/>
<circle cx="92.2" cy="60.9" r="0.76" fill="#1410c8" opacity="0.75"/>
<circle cx="158.6" cy="52.0" r="1.00" fill="#2a20ff" opacity="0.48"/>
<circle cx="156.0" cy="42.3" r="0.90" fill="#1410c8" opacity="0.72"/>
<circle cx="159.5" cy="76.2" r="1.14" fill="#1a14ff" opacity="0.67"/>
<circle cx="172.9" cy="43.5" r="0.99" fill="#2a20ff" opacity="0.54"/>
<circle cx="130.9" cy="53.7" r="0.90" fill="#2018e8" opacity="0.74"/>
<circle cx="179.6" cy="60.8" r="0.89" fill="#2a20ff" opacity="0.62"/>
<circle cx="166.8" cy="80.8" r="0.73" fill="#2018e8" opacity="0.84"/>
<circle cx="124.6" cy="27.0" r="0.78" fill="#2a20ff" opacity="0.70"/>
<circle cx="193.9" cy="55.7" r="0.65" fill="#2a20ff" opacity="0.58"/>
<circle cx="173.7" cy="38.3" r="1.16" fill="#1a14ff" opacity="0.71"/>
<circle cx="166.3" cy="68.1" r="1.06" fill="#1a14ff" opacity="0.78"/>
<circle cx="81.2" cy="65.7" r="0.84" fill="#2018e8" opacity="0.86"/>
<circle cx="92.2" cy="38.2" r="1.17" fill="#1a14ff" opacity="0.46"/>
<circle cx="140.6" cy="30.4" r="0.65" fill="#2018e8" opacity="0.61"/>
<circle cx="114.7" cy="33.5" r="0.85" fill="#2a20ff" opacity="0.81"/>
<circle cx="136.7" cy="31.5" r="0.87" fill="#1410c8" opacity="0.60"/>
<circle cx="89.1" cy="66.7" r="1.21" fill="#1a14ff" opacity="0.84"/>
<circle cx="91.8" cy="60.2" r="0.92" fill="#1a14ff" opacity="0.51"/>
<circle cx="135.6" cy="28.7" r="1.04" fill="#2a20ff" opacity="0.46"/>
<circle cx="146.7" cy="62.9" r="0.99" fill="#2018e8" opacity="0.85"/>
<circle cx="124.0" cy="24.8" r="0.63" fill="#1a14ff" opacity="0.42"/>
<circle cx="103.3" cy="15.9" r="0.93" fill="#1410c8" opacity="0.46"/>
<circle cx="95.4" cy="53.6" r="1.11" fill="#2018e8" opacity="0.66"/>
<circle cx="108.4" cy="74.6" r="0.95" fill="#1a14ff" opacity="0.42"/>
<circle cx="122.1" cy="72.3" r="1.23" fill="#1410c8" opacity="0.65"/>
<circle cx="95.7" cy="40.5" r="1.00" fill="#2a20ff" opacity="0.70"/>
<circle cx="130.4" cy="53.3" r="1.21" fill="#2a20ff" opacity="0.84"/>
<circle cx="131.1" cy="29.6" r="1.05" fill="#2a20ff" opacity="0.73"/>
<circle cx="124.4" cy="47.1" r="0.92" fill="#1410c8" opacity="0.75"/>
<circle cx="113.1" cy="44.2" r="1.21" fill="#2018e8" opacity="0.54"/>
<circle cx="119.3" cy="29.3" r="1.10" fill="#2a20ff" opacity="0.80"/>
<circle cx="131.5" cy="22.0" r="1.02" fill="#1a14ff" opacity="0.53"/>
<circle cx="105.8" cy="20.8" r="0.75" fill="#1410c8" opacity="0.72"/>
<circle cx="130.3" cy="30.7" r="0.77" fill="#1a14ff" opacity="0.61"/>
<circle cx="167.9" cy="73.2" r="0.71" fill="#1410c8" opacity="0.82"/>
<circle cx="110.8" cy="38.0" r="0.85" fill="#1a14ff" opacity="0.79"/>
<circle cx="171.8" cy="57.4" r="0.77" fill="#2018e8" opacity="0.48"/>
<circle cx="102.5" cy="24.8" r="0.97" fill="#2018e8" opacity="0.75"/>
<circle cx="97.6" cy="59.5" r="0.88" fill="#1410c8" opacity="0.49"/>
<circle cx="130.0" cy="30.0" r="0.79" fill="#1a14ff" opacity="0.67"/>
<circle cx="172.1" cy="63.7" r="0.79" fill="#1410c8" opacity="0.46"/>
<circle cx="129.4" cy="18.6" r="0.85" fill="#2018e8" opacity="0.49"/>
<circle cx="120.7" cy="25.3" r="1.21" fill="#2018e8" opacity="0.56"/>
<circle cx="134.5" cy="25.4" r="0.92" fill="#2018e8" opacity="0.52"/>
<circle cx="162.2" cy="69.6" r="0.90" fill="#1410c8" opacity="0.53"/>
<circle cx="126.6" cy="30.6" r="0.73" fill="#1a14ff" opacity="0.76"/>
<circle cx="84.2" cy="71.3" r="0.90" fill="#2018e8" opacity="0.42"/>
<circle cx="174.3" cy="70.6" r="0.78" fill="#1a14ff" opacity="0.62"/>
<circle cx="166.9" cy="63.5" r="0.78" fill="#2018e8" opacity="0.89"/>
<circle cx="118.2" cy="81.5" r="0.97" fill="#2a20ff" opacity="0.48"/>
<circle cx="102.6" cy="70.8" r="0.77" fill="#2018e8" opacity="0.63"/>
<circle cx="126.8" cy="30.2" r="0.84" fill="#1a14ff" opacity="0.69"/>
<circle cx="124.7" cy="15.1" r="0.89" fill="#2a20ff" opacity="0.59"/>
<circle cx="110.9" cy="61.3" r="0.76" fill="#1410c8" opacity="0.65"/>
<circle cx="166.5" cy="73.1" r="0.61" fill="#1410c8" opacity="0.55"/>
<circle cx="149.5" cy="56.0" r="0.97" fill="#2a20ff" opacity="0.45"/>
<circle cx="174.2" cy="65.9" r="0.64" fill="#2018e8" opacity="0.51"/>
<circle cx="92.9" cy="58.7" r="0.62" fill="#1a14ff" opacity="0.58"/>
<circle cx="132.4" cy="76.3" r="0.61" fill="#1410c8" opacity="0.57"/>
<circle cx="93.2" cy="18.0" r="0.77" fill="#1a14d0" opacity="0.57"/>
<circle cx="164.8" cy="72.6" r="0.57" fill="#1a14d0" opacity="0.69"/>
<circle cx="166.0" cy="63.6" r="0.99" fill="#1a14d0" opacity="0.58"/>
<circle cx="159.8" cy="37.3" r="0.83" fill="#1a14d0" opacity="0.32"/>
<circle cx="91.2" cy="60.4" r="0.72" fill="#1a14d0" opacity="0.35"/>
<circle cx="137.8" cy="19.1" r="0.96" fill="#1a14d0" opacity="0.70"/>
<circle cx="151.6" cy="38.8" r="0.57" fill="#1a14d0" opacity="0.36"/>
<circle cx="137.8" cy="62.7" r="0.56" fill="#1a14d0" opacity="0.69"/>
<circle cx="113.2" cy="58.0" r="0.55" fill="#1a14d0" opacity="0.64"/>
<circle cx="107.9" cy="69.5" r="0.99" fill="#1a14d0" opacity="0.35"/>
<circle cx="106.9" cy="44.2" r="0.91" fill="#1a14d0" opacity="0.47"/>
<circle cx="107.2" cy="19.3" r="0.94" fill="#1a14d0" opacity="0.66"/>
<circle cx="150.9" cy="42.3" r="0.72" fill="#1a14d0" opacity="0.43"/>
<circle cx="107.9" cy="47.6" r="0.80" fill="#1a14d0" opacity="0.48"/>
<circle cx="146.0" cy="40.5" r="0.57" fill="#1a14d0" opacity="0.53"/>
<circle cx="137.3" cy="49.0" r="0.72" fill="#1a14d0" opacity="0.51"/>
<circle cx="138.5" cy="51.3" r="0.57" fill="#1a14d0" opacity="0.68"/>
<circle cx="149.6" cy="23.3" r="0.67" fill="#1a14d0" opacity="0.60"/>
<circle cx="100.8" cy="69.1" r="0.82" fill="#1a14d0" opacity="0.63"/>
<circle cx="105.8" cy="23.4" r="0.80" fill="#1a14d0" opacity="0.61"/>
<circle cx="94.2" cy="66.6" r="0.91" fill="#1a14d0" opacity="0.39"/>
<circle cx="108.1" cy="68.1" r="0.64" fill="#1a14d0" opacity="0.42"/>
<circle cx="163.6" cy="18.2" r="0.90" fill="#1a14d0" opacity="0.40"/>
<circle cx="106.3" cy="39.1" r="0.98" fill="#1a14d0" opacity="0.63"/>
<circle cx="152.1" cy="53.3" r="0.84" fill="#1a14d0" opacity="0.31"/>
<circle cx="102.7" cy="58.4" r="0.67" fill="#1a14d0" opacity="0.59"/>
<circle cx="103.6" cy="52.6" r="0.56" fill="#1a14d0" opacity="0.49"/>
<circle cx="130.2" cy="63.2" r="0.75" fill="#1a14d0" opacity="0.60"/>
<circle cx="117.5" cy="62.7" r="0.68" fill="#1a14d0" opacity="0.45"/>
<circle cx="121.4" cy="73.2" r="0.51" fill="#1a14d0" opacity="0.54"/>
<circle cx="165.4" cy="64.5" r="0.52" fill="#1a14d0" opacity="0.46"/>
<circle cx="106.9" cy="47.3" r="0.64" fill="#1a14d0" opacity="0.62"/>
<circle cx="121.5" cy="66.4" r="0.59" fill="#1a14d0" opacity="0.45"/>
<circle cx="148.2" cy="62.7" r="0.89" fill="#1a14d0" opacity="0.44"/>
<circle cx="108.9" cy="42.0" r="0.59" fill="#1a14d0" opacity="0.68"/>
<circle cx="102.6" cy="49.0" r="0.65" fill="#1a14d0" opacity="0.30"/>
<circle cx="117.3" cy="56.4" r="0.84" fill="#1a14d0" opacity="0.65"/>
<circle cx="139.3" cy="20.9" r="0.69" fill="#1a14d0" opacity="0.51"/>
<circle cx="132.8" cy="49.5" r="0.65" fill="#1a14d0" opacity="0.42"/>
<circle cx="114.1" cy="29.1" r="0.60" fill="#1a14d0" opacity="0.32"/>
<circle cx="164.9" cy="63.7" r="0.50" fill="#1a14d0" opacity="0.40"/>
<circle cx="110.0" cy="55.1" r="0.65" fill="#1a14d0" opacity="0.48"/>
<circle cx="158.0" cy="47.1" r="0.56" fill="#1a14d0" opacity="0.59"/>
<circle cx="137.5" cy="48.2" r="1.00" fill="#1a14d0" opacity="0.36"/>
<circle cx="102.7" cy="39.0" r="0.73" fill="#1a14d0" opacity="0.43"/>
<circle cx="136.4" cy="47.3" r="0.87" fill="#1a14d0" opacity="0.36"/>
<circle cx="130.0" cy="70.7" r="0.66" fill="#1a14d0" opacity="0.31"/>
<circle cx="100.3" cy="37.4" r="0.96" fill="#1a14d0" opacity="0.58"/>
<circle cx="150.4" cy="21.2" r="0.86" fill="#1a14d0" opacity="0.52"/>
<circle cx="160.4" cy="27.2" r="0.56" fill="#1a14d0" opacity="0.32"/>
<circle cx="113.4" cy="47.5" r="0.68" fill="#1a14d0" opacity="0.69"/>
<circle cx="103.1" cy="25.5" r="0.50" fill="#1a14d0" opacity="0.60"/>
<circle cx="125.6" cy="37.3" r="0.76" fill="#1a14d0" opacity="0.33"/>
<circle cx="139.4" cy="55.6" r="0.99" fill="#1a14d0" opacity="0.67"/>
<circle cx="99.1" cy="67.8" r="0.68" fill="#1a14d0" opacity="0.45"/>
<circle cx="97.4" cy="49.5" r="0.96" fill="#1a14d0" opacity="0.35"/>
<circle cx="134.4" cy="54.9" r="0.84" fill="#1a14d0" opacity="0.32"/>
<circle cx="110.0" cy="53.8" r="0.71" fill="#1a14d0" opacity="0.44"/>
<circle cx="123.0" cy="39.6" r="0.87" fill="#1a14d0" opacity="0.45"/>
<circle cx="135.8" cy="30.1" r="0.76" fill="#1a14d0" opacity="0.39"/>
<circle cx="175.1" cy="70.2" r="0.61" fill="#ff28a0" opacity="0.73"/>
<circle cx="106.4" cy="72.8" r="0.86" fill="#ff14d0" opacity="0.89"/>
<circle cx="170.7" cy="81.1" r="0.96" fill="#ff28a0" opacity="0.88"/>
<circle cx="123.1" cy="17.9" r="0.80" fill="#ff28a0" opacity="0.60"/>
<circle cx="101.3" cy="67.7" r="0.90" fill="#ff28a0" opacity="0.69"/>
<circle cx="127.8" cy="47.3" r="1.14" fill="#ff28a0" opacity="0.88"/>
<circle cx="98.7" cy="49.9" r="0.90" fill="#ff28a0" opacity="0.72"/>
<circle cx="146.7" cy="18.6" r="1.11" fill="#ff28a0" opacity="0.68"/>
<circle cx="154.3" cy="65.8" r="1.12" fill="#ff14d0" opacity="0.66"/>
<circle cx="100.1" cy="57.4" r="0.61" fill="#ff14d0" opacity="0.71"/>
<circle cx="101.7" cy="58.8" r="1.11" fill="#e818d8" opacity="0.92"/>
<circle cx="108.4" cy="31.9" r="0.78" fill="#e818d8" opacity="0.99"/>
<circle cx="153.5" cy="81.3" r="0.99" fill="#e818d8" opacity="0.65"/>
<circle cx="111.3" cy="35.0" r="0.90" fill="#ff14d0" opacity="0.99"/>
<circle cx="86.1" cy="48.6" r="0.69" fill="#e818d8" opacity="0.77"/>
<circle cx="154.8" cy="26.6" r="0.75" fill="#e818d8" opacity="0.64"/>
<circle cx="153.9" cy="24.6" r="1.20" fill="#e818d8" opacity="0.84"/>
<circle cx="120.5" cy="49.1" r="0.67" fill="#e818d8" opacity="0.82"/>
<circle cx="151.8" cy="66.2" r="0.97" fill="#e818d8" opacity="0.89"/>
<circle cx="95.6" cy="70.8" r="0.64" fill="#ff14d0" opacity="0.63"/>
<circle cx="128.5" cy="25.2" r="0.99" fill="#ff28a0" opacity="0.96"/>
<circle cx="126.6" cy="40.3" r="1.19" fill="#e818d8" opacity="0.69"/>
<circle cx="173.4" cy="69.6" r="0.67" fill="#ff14d0" opacity="0.68"/>
<circle cx="120.9" cy="37.3" r="0.86" fill="#e818d8" opacity="0.65"/>
<circle cx="148.2" cy="21.5" r="0.76" fill="#ff14d0" opacity="0.96"/>
<circle cx="116.4" cy="32.4" r="0.79" fill="#ff28a0" opacity="0.95"/>
<circle cx="131.0" cy="59.3" r="0.80" fill="#e818d8" opacity="0.72"/>
<circle cx="118.9" cy="36.0" r="0.84" fill="#ff14d0" opacity="0.70"/>
<circle cx="124.5" cy="65.6" r="0.98" fill="#ff14d0" opacity="0.93"/>
<circle cx="114.9" cy="26.0" r="1.17" fill="#ff28a0" opacity="0.99"/>
<circle cx="85.8" cy="33.6" r="1.02" fill="#ff14d0" opacity="0.82"/>
<circle cx="128.1" cy="35.8" r="0.84" fill="#e818d8" opacity="0.84"/>
<circle cx="109.6" cy="41.0" r="0.62" fill="#ff28a0" opacity="0.79"/>
<circle cx="162.3" cy="56.1" r="0.79" fill="#e818d8" opacity="0.77"/>
<circle cx="135.8" cy="43.1" r="1.17" fill="#ff28a0" opacity="0.94"/>
<circle cx="151.5" cy="68.4" r="0.73" fill="#ff14d0" opacity="0.86"/>
<circle cx="153.4" cy="37.5" r="1.08" fill="#e818d8" opacity="0.75"/>
<circle cx="120.0" cy="41.2" r="1.15" fill="#ff14d0" opacity="0.94"/>
<circle cx="174.3" cy="57.9" r="1.13" fill="#ff28a0" opacity="0.76"/>
<circle cx="82.5" cy="72.7" r="0.65" fill="#e818d8" opacity="0.74"/>
<circle cx="99.9" cy="43.3" r="0.95" fill="#ff28a0" opacity="0.79"/>
<circle cx="140.3" cy="77.0" r="0.87" fill="#ff14d0" opacity="0.76"/>
<circle cx="123.2" cy="24.8" r="0.89" fill="#e818d8" opacity="0.95"/>
<circle cx="165.0" cy="33.7" r="0.92" fill="#ff28a0" opacity="1.00"/>
<circle cx="104.3" cy="61.7" r="1.07" fill="#ff28a0" opacity="0.83"/>
<circle cx="116.2" cy="25.6" r="0.73" fill="#ff28a0" opacity="0.68"/>
<circle cx="89.8" cy="49.2" r="0.95" fill="#e818d8" opacity="0.80"/>
<circle cx="151.5" cy="43.3" r="0.61" fill="#ff14d0" opacity="0.72"/>
<circle cx="98.4" cy="53.7" r="1.05" fill="#e818d8" opacity="0.79"/>
<circle cx="124.5" cy="36.1" r="1.18" fill="#e818d8" opacity="0.96"/>
</g></g>
<clipPath id="clip3"><rect x="11.4" y="77.9" width="75.70" height="56.70"/></clipPath>
<rect x="11.4" y="77.9" width="75.70" height="56.70" fill="#000"/>
<g clip-path="url(#clip3)"><g filter="url(#blur1)">
<circle cx="34.2" cy="106.7" r="1.94" fill="#d01030" opacity="0.90"/>
<circle cx="63.0" cy="130.6" r="2.60" fill="#ff1830" opacity="0.92"/>
<circle cx="63.0" cy="130.6" r="0.91" fill="#7020b0" opacity="0.45"/>
<circle cx="84.4" cy="129.2" r="2.20" fill="#ff1830" opacity="0.80"/>
<circle cx="33.0" cy="81.5" r="2.60" fill="#ff1830" opacity="0.77"/>
<circle cx="17.9" cy="128.5" r="1.98" fill="#801028" opacity="0.90"/>
<circle cx="33.9" cy="143.4" r="2.77" fill="#ff1830" opacity="1.00"/>
<circle cx="33.9" cy="143.4" r="0.97" fill="#7020b0" opacity="0.45"/>
<circle cx="16.0" cy="112.9" r="2.76" fill="#d01030" opacity="0.82"/>
<circle cx="37.1" cy="98.3" r="1.59" fill="#ff1830" opacity="0.84"/>
<circle cx="16.1" cy="128.6" r="2.27" fill="#ff1830" opacity="0.88"/>
<circle cx="16.1" cy="128.6" r="0.79" fill="#7020b0" opacity="0.45"/>
<circle cx="29.4" cy="95.0" r="2.77" fill="#ff1830" opacity="0.89"/>
<circle cx="29.4" cy="95.0" r="0.97" fill="#7020b0" opacity="0.45"/>
<circle cx="42.0" cy="131.6" r="2.22" fill="#801028" opacity="0.91"/>
<circle cx="42.0" cy="131.6" r="0.78" fill="#7020b0" opacity="0.45"/>
<circle cx="12.6" cy="108.1" r="2.09" fill="#ff1830" opacity="0.99"/>
<circle cx="12.6" cy="108.1" r="0.73" fill="#7020b0" opacity="0.45"/>
<circle cx="54.9" cy="136.0" r="1.85" fill="#d01030" opacity="0.83"/>
<circle cx="54.9" cy="136.0" r="0.65" fill="#7020b0" opacity="0.45"/>
<circle cx="34.1" cy="99.3" r="2.48" fill="#801028" opacity="0.89"/>
<circle cx="23.1" cy="131.0" r="1.86" fill="#ff1830" opacity="0.91"/>
<circle cx="23.1" cy="131.0" r="0.65" fill="#7020b0" opacity="0.45"/>
<circle cx="83.3" cy="116.2" r="1.71" fill="#ff1830" opacity="0.99"/>
<circle cx="83.3" cy="116.2" r="0.60" fill="#7020b0" opacity="0.45"/>
<circle cx="27.9" cy="110.1" r="1.78" fill="#ff1830" opacity="0.76"/>
<circle cx="29.3" cy="130.3" r="1.79" fill="#ff1830" opacity="0.91"/>
<circle cx="0.9" cy="132.0" r="2.59" fill="#d01030" opacity="0.91"/>
<circle cx="0.9" cy="132.0" r="0.91" fill="#7020b0" opacity="0.45"/>
<circle cx="14.1" cy="101.3" r="1.68" fill="#d01030" opacity="0.96"/>
<circle cx="53.7" cy="133.8" r="2.40" fill="#801028" opacity="0.86"/>
<circle cx="84.3" cy="108.7" r="2.65" fill="#ff1830" opacity="0.96"/>
<circle cx="47.8" cy="143.2" r="2.37" fill="#ff1830" opacity="0.97"/>
<circle cx="12.4" cy="120.2" r="1.64" fill="#d01030" opacity="0.92"/>
<circle cx="52.1" cy="124.4" r="2.76" fill="#ff1830" opacity="0.95"/>
<circle cx="52.1" cy="124.4" r="0.97" fill="#7020b0" opacity="0.45"/>
<circle cx="46.0" cy="111.5" r="1.64" fill="#ff1830" opacity="0.98"/>
<circle cx="12.0" cy="113.5" r="2.61" fill="#801028" opacity="0.82"/>
<circle cx="12.0" cy="113.5" r="0.91" fill="#7020b0" opacity="0.45"/>
<circle cx="43.4" cy="104.7" r="2.49" fill="#801028" opacity="0.76"/>
<circle cx="43.4" cy="104.7" r="0.87" fill="#7020b0" opacity="0.45"/>
<circle cx="56.1" cy="114.3" r="2.40" fill="#ff1830" opacity="0.87"/>
<circle cx="56.1" cy="114.3" r="0.84" fill="#7020b0" opacity="0.45"/>
<circle cx="42.0" cy="109.3" r="1.91" fill="#801028" opacity="0.83"/>
<circle cx="42.0" cy="109.3" r="0.67" fill="#7020b0" opacity="0.45"/>
<circle cx="65.6" cy="99.5" r="1.51" fill="#801028" opacity="0.84"/>
<circle cx="40.2" cy="123.3" r="2.27" fill="#d01030" opacity="0.84"/>
<circle cx="40.2" cy="123.3" r="0.80" fill="#7020b0" opacity="0.45"/>
<circle cx="43.2" cy="117.3" r="2.05" fill="#801028" opacity="0.88"/>
<circle cx="52.1" cy="127.3" r="1.44" fill="#d01030" opacity="0.99"/>
<circle cx="20.6" cy="117.1" r="2.71" fill="#ff1830" opacity="0.96"/>
<circle cx="56.9" cy="105.8" r="1.54" fill="#ff1830" opacity="0.75"/>
<circle cx="56.9" cy="105.8" r="0.54" fill="#7020b0" opacity="0.45"/>
<circle cx="14.8" cy="83.1" r="1.54" fill="#ff1830" opacity="0.79"/>
<circle cx="14.8" cy="83.1" r="0.54" fill="#7020b0" opacity="0.45"/>
<circle cx="20.6" cy="125.8" r="2.34" fill="#ff1830" opacity="0.99"/>
<circle cx="14.1" cy="121.4" r="2.12" fill="#ff1830" opacity="0.78"/>
<circle cx="16.0" cy="96.3" r="2.19" fill="#ff1830" opacity="0.81"/>
<circle cx="16.0" cy="96.3" r="0.77" fill="#7020b0" opacity="0.45"/>
<circle cx="37.4" cy="90.3" r="1.75" fill="#ff1830" opacity="0.98"/>
<circle cx="39.8" cy="91.2" r="2.70" fill="#ff1830" opacity="0.99"/>
<circle cx="39.8" cy="91.2" r="0.95" fill="#7020b0" opacity="0.45"/>
<circle cx="55.3" cy="130.3" r="2.36" fill="#801028" opacity="0.85"/>
<circle cx="13.4" cy="98.5" r="2.12" fill="#d01030" opacity="0.93"/>
<circle cx="13.4" cy="98.5" r="0.74" fill="#7020b0" opacity="0.45"/>
<circle cx="34.7" cy="146.7" r="2.71" fill="#ff1830" opacity="0.88"/>
<circle cx="76.1" cy="111.6" r="2.22" fill="#ff1830" opacity="0.97"/>
<circle cx="76.1" cy="111.6" r="0.78" fill="#7020b0" opacity="0.45"/>
<circle cx="77.0" cy="83.9" r="1.90" fill="#d01030" opacity="0.94"/>
<circle cx="77.0" cy="83.9" r="0.67" fill="#7020b0" opacity="0.45"/>
<circle cx="47.7" cy="111.9" r="2.06" fill="#ff1830" opacity="0.96"/>
<circle cx="66.0" cy="126.5" r="1.96" fill="#ff1830" opacity="0.99"/>
<circle cx="66.0" cy="126.5" r="0.69" fill="#7020b0" opacity="0.45"/>
<circle cx="17.4" cy="123.7" r="1.50" fill="#801028" opacity="0.81"/>
<circle cx="21.8" cy="113.2" r="2.35" fill="#801028" opacity="0.98"/>
<circle cx="21.8" cy="113.2" r="0.82" fill="#7020b0" opacity="0.45"/>
<circle cx="-2.1" cy="133.5" r="1.52" fill="#801028" opacity="0.96"/>
<circle cx="-2.1" cy="133.5" r="0.53" fill="#7020b0" opacity="0.45"/>
<circle cx="45.8" cy="108.2" r="1.44" fill="#d01030" opacity="0.84"/>
<circle cx="45.8" cy="108.2" r="0.50" fill="#7020b0" opacity="0.45"/>
<circle cx="67.6" cy="105.7" r="1.58" fill="#d01030" opacity="0.97"/>
<circle cx="67.6" cy="105.7" r="0.55" fill="#7020b0" opacity="0.45"/>
<circle cx="31.5" cy="107.2" r="1.54" fill="#ff1830" opacity="0.84"/>
<circle cx="33.8" cy="116.2" r="2.32" fill="#ff1830" opacity="0.82"/>
<circle cx="62.3" cy="108.3" r="1.56" fill="#d01030" opacity="0.84"/>
<circle cx="54.3" cy="88.2" r="2.30" fill="#ff1830" opacity="0.79"/>
<circle cx="20.7" cy="130.7" r="1.60" fill="#d01030" opacity="0.93"/>
<circle cx="60.4" cy="103.9" r="1.84" fill="#801028" opacity="0.77"/>
<circle cx="52.5" cy="119.8" r="1.90" fill="#d01030" opacity="0.85"/>
<circle cx="30.4" cy="96.6" r="2.12" fill="#ff1830" opacity="0.99"/>
<circle cx="30.4" cy="96.6" r="0.74" fill="#7020b0" opacity="0.45"/>
<circle cx="16.6" cy="106.1" r="2.79" fill="#801028" opacity="0.90"/>
<circle cx="80.3" cy="84.3" r="2.38" fill="#ff1830" opacity="0.92"/>
<circle cx="80.3" cy="84.3" r="0.83" fill="#7020b0" opacity="0.45"/>
<circle cx="21.1" cy="112.4" r="2.60" fill="#ff1830" opacity="0.89"/>
<circle cx="21.1" cy="112.4" r="0.91" fill="#7020b0" opacity="0.45"/>
<circle cx="26.1" cy="152.0" r="1.44" fill="#ff1830" opacity="0.97"/>
<circle cx="42.3" cy="70.7" r="2.10" fill="#ff1830" opacity="0.93"/>
<circle cx="13.7" cy="88.7" r="2.29" fill="#801028" opacity="0.94"/>
<circle cx="13.7" cy="88.7" r="0.80" fill="#7020b0" opacity="0.45"/>
<circle cx="60.9" cy="134.1" r="2.14" fill="#801028" opacity="0.88"/>
<circle cx="43.1" cy="138.6" r="1.61" fill="#d01030" opacity="0.77"/>
<circle cx="47.6" cy="125.2" r="2.15" fill="#ff1830" opacity="0.83"/>
<circle cx="21.6" cy="126.6" r="2.24" fill="#ff1830" opacity="0.93"/>
<circle cx="80.9" cy="83.5" r="1.68" fill="#ff1830" opacity="0.81"/>
<circle cx="80.9" cy="83.5" r="0.59" fill="#7020b0" opacity="0.45"/>
<circle cx="42.3" cy="125.8" r="2.39" fill="#d01030" opacity="0.87"/>
<circle cx="42.3" cy="125.8" r="0.84" fill="#7020b0" opacity="0.45"/>
<circle cx="27.2" cy="105.6" r="1.43" fill="#d01030" opacity="0.92"/>
<circle cx="27.2" cy="105.6" r="0.50" fill="#7020b0" opacity="0.45"/>
<circle cx="14.2" cy="92.5" r="2.59" fill="#d01030" opacity="0.84"/>
<circle cx="14.2" cy="92.5" r="0.91" fill="#7020b0" opacity="0.45"/>
<circle cx="72.3" cy="92.6" r="1.92" fill="#ff1830" opacity="0.88"/>
<circle cx="72.3" cy="92.6" r="0.67" fill="#7020b0" opacity="0.45"/>
<circle cx="40.5" cy="124.5" r="1.44" fill="#801028" opacity="0.79"/>
<circle cx="40.5" cy="124.5" r="0.50" fill="#7020b0" opacity="0.45"/>
<circle cx="21.4" cy="113.5" r="1.45" fill="#ff1830" opacity="0.81"/>
<circle cx="21.4" cy="113.5" r="0.51" fill="#7020b0" opacity="0.45"/>
<circle cx="80.2" cy="128.0" r="1.74" fill="#d01030" opacity="0.80"/>
<circle cx="80.2" cy="128.0" r="0.61" fill="#7020b0" opacity="0.45"/>
<circle cx="47.9" cy="107.5" r="1.81" fill="#ff1830" opacity="0.99"/>
<circle cx="48.4" cy="109.7" r="1.44" fill="#d01030" opacity="1.00"/>
<circle cx="48.4" cy="109.7" r="0.50" fill="#7020b0" opacity="0.45"/>
<circle cx="66.1" cy="118.5" r="1.41" fill="#801028" opacity="0.77"/>
<circle cx="66.1" cy="118.5" r="0.49" fill="#7020b0" opacity="0.45"/>
<circle cx="31.8" cy="118.9" r="1.86" fill="#ff1830" opacity="0.94"/>
<circle cx="31.8" cy="118.9" r="0.65" fill="#7020b0" opacity="0.45"/>
<circle cx="38.0" cy="115.2" r="1.94" fill="#ff1830" opacity="0.91"/>
<circle cx="38.0" cy="115.2" r="0.68" fill="#7020b0" opacity="0.45"/>
<circle cx="25.3" cy="101.3" r="2.11" fill="#ff1830" opacity="0.88"/>
<circle cx="25.1" cy="120.0" r="2.57" fill="#ff1830" opacity="0.98"/>
<circle cx="25.1" cy="120.0" r="0.90" fill="#7020b0" opacity="0.45"/>
<circle cx="13.3" cy="142.5" r="1.88" fill="#ff1830" opacity="0.88"/>
<circle cx="64.2" cy="131.7" r="1.46" fill="#801028" opacity="0.94"/>
<circle cx="71.1" cy="97.3" r="1.73" fill="#ff1830" opacity="0.91"/>
<circle cx="45.5" cy="128.8" r="2.43" fill="#d01030" opacity="0.84"/>
<circle cx="45.5" cy="128.8" r="0.85" fill="#7020b0" opacity="0.45"/>
<circle cx="54.8" cy="118.9" r="2.03" fill="#ff1830" opacity="0.80"/>
<circle cx="82.2" cy="86.0" r="2.78" fill="#801028" opacity="0.82"/>
<circle cx="82.2" cy="86.0" r="0.97" fill="#7020b0" opacity="0.45"/>
<circle cx="50.4" cy="106.5" r="2.67" fill="#d01030" opacity="0.97"/>
<circle cx="58.5" cy="80.2" r="2.53" fill="#ff1830" opacity="0.96"/>
<circle cx="58.5" cy="80.2" r="0.89" fill="#7020b0" opacity="0.45"/>
<circle cx="30.7" cy="84.1" r="1.96" fill="#ff1830" opacity="0.92"/>
<circle cx="30.7" cy="84.1" r="0.69" fill="#7020b0" opacity="0.45"/>
<circle cx="62.0" cy="117.6" r="1.96" fill="#ff1830" opacity="0.94"/>
<circle cx="62.0" cy="117.6" r="0.69" fill="#7020b0" opacity="0.45"/>
<circle cx="45.0" cy="99.4" r="1.56" fill="#801028" opacity="0.82"/>
<circle cx="23.8" cy="137.7" r="2.17" fill="#ff1830" opacity="0.86"/>
<circle cx="27.6" cy="97.8" r="2.79" fill="#d01030" opacity="0.86"/>
<circle cx="27.6" cy="97.8" r="0.98" fill="#7020b0" opacity="0.45"/>
<circle cx="9.5" cy="121.9" r="1.71" fill="#ff1830" opacity="0.93"/>
<circle cx="9.5" cy="121.9" r="0.60" fill="#7020b0" opacity="0.45"/>
<circle cx="75.9" cy="98.8" r="1.67" fill="#ff1830" opacity="0.85"/>
<circle cx="46.9" cy="111.2" r="1.45" fill="#ff1830" opacity="0.75"/>
<circle cx="6.8" cy="136.8" r="2.29" fill="#801028" opacity="0.94"/>
<circle cx="6.8" cy="136.8" r="0.80" fill="#7020b0" opacity="0.45"/>
<circle cx="12.3" cy="116.4" r="2.49" fill="#801028" opacity="0.86"/>
<circle cx="37.0" cy="150.9" r="2.38" fill="#ff1830" opacity="0.99"/>
<circle cx="-7.9" cy="135.4" r="2.06" fill="#ff1830" opacity="0.81"/>
<circle cx="9.6" cy="113.3" r="2.53" fill="#d01030" opacity="0.81"/>
<circle cx="6.3" cy="124.1" r="1.43" fill="#ff1830" opacity="0.75"/>
<circle cx="38.3" cy="132.7" r="1.91" fill="#ff1830" opacity="0.87"/>
<circle cx="38.3" cy="132.7" r="0.67" fill="#7020b0" opacity="0.45"/>
<circle cx="29.7" cy="99.6" r="2.54" fill="#d01030" opacity="0.82"/>
<circle cx="66.1" cy="97.2" r="1.44" fill="#801028" opacity="1.00"/>
<circle cx="66.1" cy="97.2" r="0.50" fill="#7020b0" opacity="0.45"/>
<circle cx="54.1" cy="132.0" r="2.44" fill="#ff1830" opacity="0.85"/>
<circle cx="8.6" cy="132.2" r="1.42" fill="#ff1830" opacity="0.97"/>
<circle cx="61.8" cy="130.6" r="2.54" fill="#ff1830" opacity="0.85"/>
<circle cx="13.4" cy="129.4" r="2.57" fill="#801028" opacity="0.94"/>
<circle cx="13.4" cy="129.4" r="0.90" fill="#7020b0" opacity="0.45"/>
<circle cx="49.9" cy="113.0" r="1.62" fill="#d01030" opacity="0.88"/>
<circle cx="49.9" cy="113.0" r="0.57" fill="#7020b0" opacity="0.45"/>
<circle cx="74.0" cy="130.7" r="2.26" fill="#801028" opacity="0.89"/>
<circle cx="32.6" cy="118.1" r="2.68" fill="#801028" opacity="0.92"/>
<circle cx="32.6" cy="118.1" r="0.94" fill="#7020b0" opacity="0.45"/>
<circle cx="79.2" cy="132.4" r="2.30" fill="#801028" opacity="0.98"/>
<circle cx="79.2" cy="132.4" r="0.81" fill="#7020b0" opacity="0.45"/>
<circle cx="23.7" cy="137.3" r="1.70" fill="#801028" opacity="0.83"/>
<circle cx="14.1" cy="101.6" r="1.98" fill="#ff1830" opacity="0.87"/>
<circle cx="64.3" cy="84.4" r="2.29" fill="#801028" opacity="0.96"/>
<circle cx="85.2" cy="117.1" r="2.00" fill="#ff1830" opacity="0.87"/>
<circle cx="85.2" cy="117.1" r="0.70" fill="#7020b0" opacity="0.45"/>
<circle cx="24.6" cy="105.5" r="1.64" fill="#801028" opacity="0.93"/>
</g></g>
<clipPath id="clip4"><rect x="90.9" y="77.9" width="75.50" height="56.70"/></clipPath>
<rect x="90.9" y="77.9" width="75.50" height="56.70" fill="#000"/>
<g clip-path="url(#clip4)"><g filter="url(#blur1)">
<circle cx="101.3" cy="93.3" r="0.63" fill="#3a18ff" opacity="0.71"/>
<circle cx="92.6" cy="80.4" r="0.69" fill="#2a14c8" opacity="0.74"/>
<circle cx="96.0" cy="81.8" r="0.78" fill="#5a20ff" opacity="0.58"/>
<circle cx="149.8" cy="103.9" r="1.19" fill="#4a18e8" opacity="0.45"/>
<circle cx="105.5" cy="75.3" r="0.68" fill="#4a18e8" opacity="0.87"/>
<circle cx="100.1" cy="82.1" r="1.18" fill="#3a18ff" opacity="0.88"/>
<circle cx="155.6" cy="103.6" r="0.79" fill="#2a14c8" opacity="0.88"/>
<circle cx="149.2" cy="92.8" r="0.79" fill="#3a18ff" opacity="0.50"/>
<circle cx="136.8" cy="128.8" r="0.82" fill="#4a18e8" opacity="0.40"/>
<circle cx="100.0" cy="83.5" r="1.25" fill="#2a14c8" opacity="0.69"/>
<circle cx="150.4" cy="119.5" r="0.67" fill="#4a18e8" opacity="0.43"/>
<circle cx="163.7" cy="118.6" r="0.99" fill="#4a18e8" opacity="0.67"/>
<circle cx="142.8" cy="128.6" r="1.14" fill="#3a18ff" opacity="0.55"/>
<circle cx="150.3" cy="83.1" r="0.76" fill="#4a18e8" opacity="0.61"/>
<circle cx="108.8" cy="89.6" r="1.14" fill="#5a20ff" opacity="0.65"/>
<circle cx="112.9" cy="82.7" r="1.10" fill="#4a18e8" opacity="0.61"/>
<circle cx="103.3" cy="83.2" r="0.97" fill="#2a14c8" opacity="0.90"/>
<circle cx="163.3" cy="84.6" r="0.92" fill="#3a18ff" opacity="0.45"/>
<circle cx="114.2" cy="104.7" r="0.82" fill="#4a18e8" opacity="0.73"/>
<circle cx="169.8" cy="105.1" r="0.94" fill="#5a20ff" opacity="0.73"/>
<circle cx="129.8" cy="70.6" r="1.22" fill="#5a20ff" opacity="0.44"/>
<circle cx="111.4" cy="79.2" r="0.86" fill="#3a18ff" opacity="0.71"/>
<circle cx="178.1" cy="107.6" r="1.17" fill="#3a18ff" opacity="0.74"/>
<circle cx="122.6" cy="113.2" r="0.74" fill="#5a20ff" opacity="0.40"/>
<circle cx="141.4" cy="109.0" r="0.68" fill="#2a14c8" opacity="0.80"/>
<circle cx="156.2" cy="116.1" r="1.17" fill="#3a18ff" opacity="0.50"/>
<circle cx="110.0" cy="67.2" r="1.19" fill="#5a20ff" opacity="0.62"/>
<circle cx="110.8" cy="81.3" r="0.96" fill="#5a20ff" opacity="0.53"/>
<circle cx="168.8" cy="118.9" r="0.79" fill="#3a18ff" opacity="0.57"/>
<circle cx="109.0" cy="84.1" r="0.73" fill="#5a20ff" opacity="0.89"/>
<circle cx="154.0" cy="95.3" r="0.66" fill="#5a20ff" opacity="0.46"/>
<circle cx="144.4" cy="100.9" r="0.87" fill="#5a20ff" opacity="0.76"/>
<circle cx="159.6" cy="130.0" r="1.01" fill="#4a18e8" opacity="0.86"/>
<circle cx="121.7" cy="129.9" r="0.84" fill="#4a18e8" opacity="0.48"/>
<circle cx="163.4" cy="116.0" r="0.77" fill="#2a14c8" opacity="0.89"/>
<circle cx="106.9" cy="80.6" r="0.68" fill="#2a14c8" opacity="0.46"/>
<circle cx="159.2" cy="98.3" r="0.94" fill="#3a18ff" opacity="0.61"/>
<circle cx="95.0" cy="90.3" r="1.04" fill="#3a18ff" opacity="0.70"/>
<circle cx="141.2" cy="120.5" r="1.21" fill="#2a14c8" opacity="0.65"/>
<circle cx="130.1" cy="113.1" r="0.76" fill="#4a18e8" opacity="0.70"/>
<circle cx="120.0" cy="90.8" r="1.04" fill="#4a18e8" opacity="0.71"/>
<circle cx="107.1" cy="77.9" r="1.04" fill="#2a14c8" opacity="0.84"/>
<circle cx="85.5" cy="89.6" r="0.81" fill="#4a18e8" opacity="0.59"/>
<circle cx="162.0" cy="127.2" r="0.94" fill="#3a18ff" opacity="0.78"/>
<circle cx="105.0" cy="65.6" r="0.70" fill="#3a18ff" opacity="0.69"/>
<circle cx="120.9" cy="91.8" r="1.09" fill="#3a18ff" opacity="0.88"/>
<circle cx="104.7" cy="87.0" r="1.00" fill="#4a18e8" opacity="0.82"/>
<circle cx="108.0" cy="73.6" r="1.18" fill="#4a18e8" opacity="0.75"/>
<circle cx="94.7" cy="89.6" r="1.18" fill="#5a20ff" opacity="0.60"/>
<circle cx="159.3" cy="85.8" r="0.87" fill="#5a20ff" opacity="0.41"/>
<circle cx="171.8" cy="118.2" r="0.86" fill="#2a14c8" opacity="0.59"/>
<circle cx="108.8" cy="83.8" r="0.99" fill="#2a14c8" opacity="0.56"/>
<circle cx="100.8" cy="70.1" r="1.18" fill="#5a20ff" opacity="0.79"/>
<circle cx="166.2" cy="123.3" r="1.22" fill="#4a18e8" opacity="0.48"/>
<circle cx="148.5" cy="103.2" r="0.61" fill="#2a14c8" opacity="0.52"/>
<circle cx="164.3" cy="112.4" r="0.65" fill="#2a14c8" opacity="0.54"/>
<circle cx="141.8" cy="101.7" r="1.08" fill="#4a18e8" opacity="0.73"/>
<circle cx="174.6" cy="113.7" r="1.05" fill="#2a14c8" opacity="0.76"/>
<circle cx="164.9" cy="88.2" r="1.15" fill="#4a18e8" opacity="0.64"/>
<circle cx="97.2" cy="82.4" r="0.93" fill="#2a14c8" opacity="0.67"/>
<circle cx="105.7" cy="77.1" r="0.64" fill="#5a20ff" opacity="0.89"/>
<circle cx="102.9" cy="80.7" r="0.66" fill="#4a18e8" opacity="0.46"/>
<circle cx="144.7" cy="102.5" r="0.91" fill="#3a18ff" opacity="0.76"/>
<circle cx="171.2" cy="117.6" r="0.82" fill="#5a20ff" opacity="0.49"/>
<circle cx="155.9" cy="78.0" r="0.80" fill="#2a14c8" opacity="0.72"/>
<circle cx="128.0" cy="107.2" r="0.77" fill="#4a18e8" opacity="0.83"/>
<circle cx="109.6" cy="69.6" r="1.01" fill="#5a20ff" opacity="0.57"/>
<circle cx="162.0" cy="109.7" r="1.17" fill="#2a14c8" opacity="0.73"/>
<circle cx="164.6" cy="110.7" r="1.24" fill="#5a20ff" opacity="0.58"/>
<circle cx="101.6" cy="81.2" r="0.63" fill="#4a18e8" opacity="0.74"/>
<circle cx="168.1" cy="104.2" r="0.68" fill="#2a14c8" opacity="0.89"/>
<circle cx="163.9" cy="93.3" r="1.15" fill="#3a18ff" opacity="0.71"/>
<circle cx="155.4" cy="102.9" r="0.61" fill="#3a18ff" opacity="0.75"/>
<circle cx="96.6" cy="119.9" r="1.13" fill="#2a14c8" opacity="0.55"/>
<circle cx="148.2" cy="81.6" r="0.87" fill="#4a18e8" opacity="0.89"/>
<circle cx="148.8" cy="109.9" r="1.11" fill="#2a14c8" opacity="0.75"/>
<circle cx="151.0" cy="91.5" r="1.18" fill="#5a20ff" opacity="0.87"/>
<circle cx="95.0" cy="94.1" r="0.81" fill="#5a20ff" opacity="0.71"/>
<circle cx="101.5" cy="84.3" r="0.77" fill="#5a20ff" opacity="0.54"/>
<circle cx="131.3" cy="95.3" r="0.66" fill="#2a14c8" opacity="0.89"/>
<circle cx="151.1" cy="114.1" r="1.03" fill="#2a14c8" opacity="0.85"/>
<circle cx="140.4" cy="105.1" r="0.90" fill="#3a18ff" opacity="0.90"/>
<circle cx="173.1" cy="132.0" r="0.67" fill="#3a18ff" opacity="0.89"/>
<circle cx="107.9" cy="75.2" r="1.19" fill="#4a18e8" opacity="0.44"/>
<circle cx="174.0" cy="106.1" r="1.09" fill="#3a18ff" opacity="0.80"/>
<circle cx="127.3" cy="83.4" r="1.01" fill="#2a14c8" opacity="0.77"/>
<circle cx="153.7" cy="104.2" r="0.71" fill="#4a18e8" opacity="0.51"/>
<circle cx="118.4" cy="77.8" r="1.04" fill="#3a18ff" opacity="0.53"/>
<circle cx="130.8" cy="91.5" r="1.15" fill="#3a18ff" opacity="0.80"/>
<circle cx="144.2" cy="88.2" r="0.84" fill="#2a14c8" opacity="0.77"/>
<circle cx="174.3" cy="110.8" r="0.70" fill="#4a18e8" opacity="0.51"/>
<circle cx="96.8" cy="119.1" r="0.85" fill="#2a14c8" opacity="0.67"/>
<circle cx="105.3" cy="77.3" r="0.72" fill="#2a14c8" opacity="0.67"/>
<circle cx="112.1" cy="82.2" r="1.21" fill="#2a14c8" opacity="0.65"/>
<circle cx="120.5" cy="77.1" r="0.71" fill="#5a20ff" opacity="0.90"/>
<circle cx="136.9" cy="108.0" r="1.05" fill="#5a20ff" opacity="0.62"/>
<circle cx="160.9" cy="97.9" r="0.74" fill="#5a20ff" opacity="0.57"/>
<circle cx="130.1" cy="101.8" r="0.70" fill="#5a20ff" opacity="0.74"/>
<circle cx="111.7" cy="91.1" r="0.99" fill="#2a14c8" opacity="0.76"/>
<circle cx="102.9" cy="85.2" r="1.00" fill="#4a18e8" opacity="0.47"/>
<circle cx="141.1" cy="113.2" r="0.95" fill="#2a14c8" opacity="0.59"/>
<circle cx="152.4" cy="118.1" r="0.77" fill="#2a14c8" opacity="0.57"/>
<circle cx="164.8" cy="81.4" r="0.92" fill="#4a18e8" opacity="0.81"/>
<circle cx="108.4" cy="72.0" r="0.69" fill="#4a18e8" opacity="0.76"/>
<circle cx="146.8" cy="99.9" r="1.17" fill="#2a14c8" opacity="0.44"/>
<circle cx="109.5" cy="71.0" r="0.77" fill="#4a18e8" opacity="0.43"/>
<circle cx="145.5" cy="114.8" r="1.09" fill="#5a20ff" opacity="0.66"/>
<circle cx="184.5" cy="105.0" r="1.20" fill="#2a14c8" opacity="0.42"/>
<circle cx="143.1" cy="123.1" r="0.65" fill="#2a14c8" opacity="0.62"/>
<circle cx="104.9" cy="66.0" r="0.78" fill="#3a18ff" opacity="0.82"/>
<circle cx="107.9" cy="104.3" r="1.25" fill="#3a18ff" opacity="0.41"/>
<circle cx="116.2" cy="78.8" r="0.64" fill="#5a20ff" opacity="0.66"/>
<circle cx="156.1" cy="113.9" r="1.05" fill="#3a18ff" opacity="0.43"/>
<circle cx="167.9" cy="83.6" r="0.93" fill="#2a14c8" opacity="0.73"/>
<circle cx="158.3" cy="122.4" r="0.99" fill="#3a18ff" opacity="0.40"/>
<circle cx="108.2" cy="71.6" r="1.10" fill="#5a20ff" opacity="0.70"/>
<circle cx="168.0" cy="119.4" r="0.76" fill="#5a20ff" opacity="0.71"/>
<circle cx="199.2" cy="120.6" r="0.98" fill="#3a18ff" opacity="0.69"/>
<circle cx="105.3" cy="117.8" r="1.21" fill="#5a20ff" opacity="0.48"/>
<circle cx="159.2" cy="133.0" r="1.06" fill="#2a14c8" opacity="0.67"/>
<circle cx="141.1" cy="112.5" r="0.80" fill="#4a18e8" opacity="0.83"/>
<circle cx="174.6" cy="101.3" r="0.71" fill="#4a18e8" opacity="0.45"/>
<circle cx="102.7" cy="81.7" r="1.17" fill="#3a18ff" opacity="0.74"/>
<circle cx="164.0" cy="132.7" r="0.85" fill="#5a20ff" opacity="0.72"/>
<circle cx="150.7" cy="112.7" r="1.11" fill="#2a14c8" opacity="0.45"/>
<circle cx="100.7" cy="85.7" r="0.88" fill="#4a18e8" opacity="0.77"/>
<circle cx="161.2" cy="89.1" r="1.17" fill="#2a14c8" opacity="0.47"/>
<circle cx="151.8" cy="140.4" r="0.92" fill="#4a18e8" opacity="0.87"/>
<circle cx="150.2" cy="86.0" r="0.66" fill="#4a18e8" opacity="0.59"/>
<circle cx="106.0" cy="105.5" r="0.68" fill="#3a18ff" opacity="0.63"/>
<circle cx="149.4" cy="121.7" r="0.81" fill="#5a20ff" opacity="0.73"/>
<circle cx="139.6" cy="89.0" r="1.12" fill="#3a18ff" opacity="0.57"/>
<circle cx="166.6" cy="85.3" r="0.88" fill="#5a20ff" opacity="0.76"/>
<circle cx="138.4" cy="114.0" r="1.20" fill="#4a18e8" opacity="0.54"/>
<circle cx="151.0" cy="124.1" r="1.00" fill="#4a18e8" opacity="0.79"/>
<circle cx="110.7" cy="104.0" r="0.89" fill="#5a20ff" opacity="0.67"/>
<circle cx="142.8" cy="96.6" r="1.15" fill="#3a18ff" opacity="0.62"/>
<circle cx="146.4" cy="130.2" r="0.73" fill="#2a14c8" opacity="0.57"/>
<circle cx="161.2" cy="141.4" r="1.10" fill="#5a20ff" opacity="0.80"/>
<circle cx="155.2" cy="113.0" r="1.00" fill="#2a14c8" opacity="0.81"/>
<circle cx="164.8" cy="110.3" r="0.77" fill="#5a20ff" opacity="0.71"/>
<circle cx="172.2" cy="116.5" r="0.90" fill="#3a18ff" opacity="0.74"/>
<circle cx="142.0" cy="108.4" r="1.10" fill="#4a18e8" opacity="0.48"/>
<circle cx="152.9" cy="114.4" r="0.78" fill="#4a18e8" opacity="0.43"/>
<circle cx="104.2" cy="79.9" r="0.75" fill="#4a18e8" opacity="0.80"/>
<circle cx="96.0" cy="77.8" r="0.60" fill="#4a18e8" opacity="0.50"/>
<circle cx="172.1" cy="136.5" r="0.81" fill="#5a20ff" opacity="0.53"/>
<circle cx="143.1" cy="81.8" r="1.03" fill="#2a14c8" opacity="0.75"/>
<circle cx="142.6" cy="109.5" r="1.19" fill="#2a14c8" opacity="0.43"/>
<circle cx="156.3" cy="115.8" r="0.63" fill="#4a18e8" opacity="0.77"/>
<circle cx="182.2" cy="135.7" r="1.15" fill="#3a18ff" opacity="0.76"/>
<circle cx="144.9" cy="111.1" r="1.20" fill="#5a20ff" opacity="0.45"/>
<circle cx="176.9" cy="128.2" r="1.16" fill="#5a20ff" opacity="0.58"/>
<circle cx="131.3" cy="111.7" r="0.78" fill="#2a14c8" opacity="0.40"/>
<circle cx="150.7" cy="81.0" r="1.11" fill="#2a14c8" opacity="0.75"/>
<circle cx="108.0" cy="90.4" r="1.05" fill="#4a18e8" opacity="0.60"/>
<circle cx="163.7" cy="84.6" r="0.97" fill="#4a18e8" opacity="0.44"/>
<circle cx="163.9" cy="111.9" r="0.93" fill="#3a18ff" opacity="0.74"/>
<circle cx="117.4" cy="78.8" r="1.10" fill="#4a18e8" opacity="0.49"/>
<circle cx="161.6" cy="122.0" r="0.60" fill="#2a14c8" opacity="0.60"/>
<circle cx="146.4" cy="97.0" r="1.22" fill="#2a14c8" opacity="0.77"/>
<circle cx="177.2" cy="103.6" r="1.22" fill="#4a18e8" opacity="0.48"/>
<circle cx="163.3" cy="110.2" r="1.21" fill="#5a20ff" opacity="0.56"/>
<circle cx="145.5" cy="111.9" r="1.13" fill="#5a20ff" opacity="0.62"/>
<circle cx="195.0" cy="124.8" r="1.12" fill="#3a18ff" opacity="0.64"/>
<circle cx="107.8" cy="90.0" r="1.09" fill="#2a14c8" opacity="0.85"/>
<circle cx="129.2" cy="96.9" r="0.66" fill="#5a20ff" opacity="0.59"/>
<circle cx="166.0" cy="84.9" r="0.70" fill="#3a18ff" opacity="0.65"/>
<circle cx="157.4" cy="114.5" r="0.81" fill="#3a18ff" opacity="0.71"/>
<circle cx="148.5" cy="86.1" r="0.80" fill="#5a20ff" opacity="0.54"/>
<circle cx="155.9" cy="97.0" r="1.11" fill="#3a18ff" opacity="0.68"/>
<circle cx="159.3" cy="107.6" r="0.82" fill="#5a20ff" opacity="0.78"/>
<circle cx="172.0" cy="114.6" r="0.87" fill="#5a20ff" opacity="0.59"/>
<circle cx="153.6" cy="130.9" r="0.85" fill="#3a18ff" opacity="0.46"/>
<circle cx="132.1" cy="125.4" r="1.07" fill="#4a18e8" opacity="0.86"/>
<circle cx="128.7" cy="118.9" r="1.12" fill="#3a18ff" opacity="0.49"/>
<circle cx="96.3" cy="76.0" r="0.64" fill="#4a18e8" opacity="0.74"/>
<circle cx="141.1" cy="100.5" r="1.01" fill="#2a14c8" opacity="0.50"/>
<circle cx="173.3" cy="111.0" r="0.71" fill="#5a20ff" opacity="0.82"/>
<circle cx="120.8" cy="92.5" r="0.96" fill="#2a14c8" opacity="0.86"/>
<circle cx="157.5" cy="103.7" r="0.77" fill="#2a14c8" opacity="0.77"/>
<circle cx="164.8" cy="104.9" r="1.17" fill="#3a18ff" opacity="0.53"/>
<circle cx="100.2" cy="83.1" r="0.88" fill="#4a18e8" opacity="0.53"/>
<circle cx="100.8" cy="82.7" r="1.16" fill="#5a20ff" opacity="0.54"/>
<circle cx="134.5" cy="85.5" r="1.11" fill="#5a20ff" opacity="0.66"/>
<circle cx="116.0" cy="108.8" r="0.93" fill="#5a20ff" opacity="0.54"/>
<circle cx="174.8" cy="115.6" r="0.89" fill="#3a18ff" opacity="0.66"/>
<circle cx="124.7" cy="66.7" r="0.79" fill="#4a18e8" opacity="0.73"/>
<circle cx="146.1" cy="106.6" r="0.95" fill="#2a14c8" opacity="0.78"/>
<circle cx="180.7" cy="133.9" r="0.84" fill="#5a20ff" opacity="0.82"/>
<circle cx="168.3" cy="132.9" r="0.99" fill="#2a14c8" opacity="0.90"/>
<circle cx="130.8" cy="105.1" r="0.93" fill="#5a20ff" opacity="0.69"/>
<circle cx="154.4" cy="94.1" r="1.11" fill="#2a14c8" opacity="0.77"/>
<circle cx="140.1" cy="96.2" r="0.73" fill="#4a18e8" opacity="0.45"/>
<circle cx="135.7" cy="118.6" r="0.70" fill="#3a18ff" opacity="0.60"/>
<circle cx="163.5" cy="121.1" r="0.90" fill="#3a18ff" opacity="0.48"/>
<circle cx="163.4" cy="122.4" r="0.96" fill="#3a18ff" opacity="0.63"/>
<circle cx="122.2" cy="120.8" r="0.68" fill="#4a18e8" opacity="0.73"/>
<circle cx="161.7" cy="77.6" r="0.90" fill="#2a14c8" opacity="0.80"/>
<circle cx="152.9" cy="101.7" r="0.75" fill="#4a18e8" opacity="0.90"/>
<circle cx="143.1" cy="131.2" r="0.80" fill="#3a18ff" opacity="0.86"/>
<circle cx="163.2" cy="130.5" r="0.93" fill="#4a18e8" opacity="0.51"/>
<circle cx="155.1" cy="104.4" r="0.63" fill="#3a18ff" opacity="0.66"/>
<circle cx="103.4" cy="84.2" r="1.08" fill="#2a14c8" opacity="0.50"/>
<circle cx="152.9" cy="117.0" r="0.66" fill="#2a14c8" opacity="0.47"/>
<circle cx="147.6" cy="111.5" r="0.97" fill="#4a18e8" opacity="0.84"/>
<circle cx="182.7" cy="131.3" r="1.02" fill="#2a14c8" opacity="0.63"/>
<circle cx="162.4" cy="120.1" r="1.24" fill="#2a14c8" opacity="0.70"/>
<circle cx="124.3" cy="77.2" r="0.95" fill="#3a18ff" opacity="0.62"/>
<circle cx="105.2" cy="69.5" r="0.64" fill="#2a14c8" opacity="0.53"/>
<circle cx="149.9" cy="109.5" r="1.11" fill="#5a20ff" opacity="0.43"/>
<circle cx="145.1" cy="88.7" r="0.81" fill="#5a20ff" opacity="0.42"/>
<circle cx="101.8" cy="100.4" r="0.98" fill="#5a20ff" opacity="0.90"/>
<circle cx="136.6" cy="114.5" r="0.70" fill="#2a14c8" opacity="0.61"/>
<circle cx="151.9" cy="84.6" r="1.08" fill="#4a18e8" opacity="0.53"/>
<circle cx="97.8" cy="104.2" r="0.72" fill="#3a18ff" opacity="0.46"/>
<circle cx="156.0" cy="98.8" r="1.07" fill="#3a18ff" opacity="0.84"/>
<circle cx="148.4" cy="84.8" r="0.97" fill="#4a18e8" opacity="0.90"/>
<circle cx="159.6" cy="105.1" r="0.68" fill="#2a14c8" opacity="0.75"/>
<circle cx="102.3" cy="120.2" r="0.88" fill="#3a18ff" opacity="0.89"/>
<circle cx="153.4" cy="122.3" r="1.23" fill="#5a20ff" opacity="0.51"/>
<circle cx="143.6" cy="90.5" r="1.06" fill="#5a20ff" opacity="0.54"/>
<circle cx="155.6" cy="112.9" r="1.13" fill="#4a18e8" opacity="0.51"/>
<circle cx="163.4" cy="90.3" r="0.69" fill="#5a20ff" opacity="0.58"/>
<circle cx="107.8" cy="103.8" r="0.62" fill="#5a20ff" opacity="0.48"/>
<circle cx="129.6" cy="119.5" r="1.00" fill="#3a18ff" opacity="0.57"/>
<circle cx="128.7" cy="66.8" r="1.06" fill="#3a18ff" opacity="0.55"/>
<circle cx="165.5" cy="105.4" r="0.72" fill="#3a18ff" opacity="0.50"/>
<circle cx="140.2" cy="108.0" r="0.68" fill="#2a14c8" opacity="0.80"/>
<circle cx="166.8" cy="119.5" r="0.82" fill="#4a18e8" opacity="0.73"/>
<circle cx="151.3" cy="99.6" r="0.85" fill="#2a14c8" opacity="0.51"/>
<circle cx="153.6" cy="109.4" r="0.80" fill="#4a18e8" opacity="0.83"/>
<circle cx="101.0" cy="85.1" r="1.09" fill="#5a20ff" opacity="0.54"/>
<circle cx="161.2" cy="128.6" r="0.97" fill="#2a14c8" opacity="0.84"/>
<circle cx="143.7" cy="68.8" r="1.14" fill="#3a18ff" opacity="0.63"/>
<circle cx="120.0" cy="143.9" r="1.07" fill="#4a18e8" opacity="0.60"/>
<circle cx="122.1" cy="97.4" r="0.82" fill="#5a20ff" opacity="0.62"/>
<circle cx="146.4" cy="100.9" r="1.11" fill="#3a18ff" opacity="0.46"/>
<circle cx="149.6" cy="107.1" r="1.00" fill="#4a18e8" opacity="0.61"/>
<circle cx="96.7" cy="87.9" r="1.12" fill="#4a18e8" opacity="0.59"/>
<circle cx="151.5" cy="140.8" r="1.07" fill="#4a18e8" opacity="0.45"/>
<circle cx="93.5" cy="74.9" r="0.67" fill="#4a18e8" opacity="0.73"/>
<circle cx="103.1" cy="81.4" r="0.65" fill="#5a20ff" opacity="0.77"/>
<circle cx="110.5" cy="102.6" r="0.84" fill="#4a18e8" opacity="0.86"/>
<circle cx="155.0" cy="95.3" r="0.97" fill="#3a18ff" opacity="0.69"/>
<circle cx="154.0" cy="91.5" r="1.01" fill="#5a20ff" opacity="0.63"/>
<circle cx="105.3" cy="62.8" r="0.78" fill="#2a14c8" opacity="0.70"/>
<circle cx="134.1" cy="118.7" r="1.16" fill="#3a18ff" opacity="0.57"/>
<circle cx="147.4" cy="109.8" r="1.22" fill="#4a18e8" opacity="0.88"/>
<circle cx="154.3" cy="71.3" r="1.17" fill="#5a20ff" opacity="0.66"/>
<circle cx="96.5" cy="87.2" r="0.69" fill="#5a20ff" opacity="0.49"/>
<circle cx="94.5" cy="83.8" r="1.23" fill="#2a14c8" opacity="0.54"/>
<circle cx="108.4" cy="82.0" r="0.64" fill="#3a18ff" opacity="0.57"/>
<circle cx="123.0" cy="121.3" r="0.71" fill="#5a20ff" opacity="0.68"/>
<circle cx="177.7" cy="113.8" r="1.04" fill="#4a18e8" opacity="0.79"/>
<circle cx="152.2" cy="80.2" r="1.22" fill="#2a14c8" opacity="0.85"/>
<circle cx="116.3" cy="71.4" r="1.01" fill="#5a20ff" opacity="0.77"/>
<circle cx="156.4" cy="76.8" r="0.73" fill="#3a18ff" opacity="0.48"/>
<circle cx="152.1" cy="104.7" r="0.63" fill="#2a14c8" opacity="0.63"/>
<circle cx="95.1" cy="79.2" r="0.94" fill="#2a14c8" opacity="0.77"/>
<circle cx="160.8" cy="118.1" r="0.94" fill="#5a20ff" opacity="0.71"/>
<circle cx="172.9" cy="111.0" r="0.69" fill="#4a18e8" opacity="0.81"/>
<circle cx="94.5" cy="75.4" r="1.13" fill="#3a18ff" opacity="0.72"/>
<circle cx="156.6" cy="91.2" r="1.25" fill="#5a20ff" opacity="0.68"/>
<circle cx="107.1" cy="109.6" r="0.75" fill="#4a18e8" opacity="0.69"/>
<circle cx="111.9" cy="114.7" r="0.80" fill="#3a18ff" opacity="0.55"/>
<circle cx="97.8" cy="103.0" r="0.97" fill="#4a18e8" opacity="0.51"/>
<circle cx="105.2" cy="75.9" r="0.97" fill="#4a18e8" opacity="0.42"/>
<circle cx="163.2" cy="115.6" r="0.85" fill="#4a18e8" opacity="0.74"/>
<circle cx="98.6" cy="82.0" r="0.92" fill="#4a18e8" opacity="0.58"/>
<circle cx="108.6" cy="86.9" r="1.15" fill="#4a18e8" opacity="0.57"/>
<circle cx="128.2" cy="94.3" r="1.11" fill="#3a18ff" opacity="0.42"/>
<circle cx="125.4" cy="74.0" r="0.79" fill="#5a20ff" opacity="0.58"/>
<circle cx="154.2" cy="115.3" r="0.92" fill="#4a18e8" opacity="0.62"/>
<circle cx="116.6" cy="104.0" r="0.77" fill="#2a14c8" opacity="0.87"/>
<circle cx="101.1" cy="69.6" r="1.16" fill="#5a20ff" opacity="0.81"/>
<circle cx="171.3" cy="100.8" r="1.15" fill="#2a14c8" opacity="0.50"/>
<circle cx="104.1" cy="88.7" r="1.15" fill="#5a20ff" opacity="0.71"/>
<circle cx="171.3" cy="123.3" r="1.02" fill="#5a20ff" opacity="0.62"/>
<circle cx="141.2" cy="108.6" r="1.09" fill="#4a18e8" opacity="0.46"/>
<circle cx="138.3" cy="74.1" r="1.17" fill="#5a20ff" opacity="0.63"/>
<circle cx="147.4" cy="131.1" r="0.78" fill="#4a18e8" opacity="0.58"/>
<circle cx="103.3" cy="74.9" r="0.67" fill="#4a18e8" opacity="0.88"/>
<circle cx="172.4" cy="124.4" r="1.03" fill="#4a18e8" opacity="0.77"/>
<circle cx="112.1" cy="58.7" r="0.98" fill="#2a14c8" opacity="0.41"/>
<circle cx="138.2" cy="87.4" r="0.88" fill="#4a18e8" opacity="0.77"/>
<circle cx="132.1" cy="87.5" r="0.87" fill="#4a18e8" opacity="0.43"/>
<circle cx="172.7" cy="144.7" r="1.18" fill="#3a18ff" opacity="0.60"/>
<circle cx="152.4" cy="103.9" r="1.05" fill="#3a18ff" opacity="0.41"/>
<circle cx="178.3" cy="148.5" r="0.97" fill="#2a14c8" opacity="0.86"/>
<circle cx="102.8" cy="79.7" r="0.65" fill="#2a14c8" opacity="0.81"/>
<circle cx="152.7" cy="125.1" r="1.06" fill="#2a14c8" opacity="0.76"/>
<circle cx="138.6" cy="127.6" r="1.18" fill="#4a18e8" opacity="0.58"/>
<circle cx="157.8" cy="114.5" r="0.87" fill="#4a18e8" opacity="0.60"/>
<circle cx="113.0" cy="94.5" r="0.82" fill="#5a20ff" opacity="0.89"/>
<circle cx="163.9" cy="76.6" r="0.77" fill="#4a18e8" opacity="0.82"/>
<circle cx="178.6" cy="97.3" r="0.93" fill="#4a18e8" opacity="0.56"/>
<circle cx="134.0" cy="133.3" r="0.97" fill="#2a14c8" opacity="0.87"/>
<circle cx="152.4" cy="102.3" r="0.93" fill="#5a20ff" opacity="0.68"/>
<circle cx="123.4" cy="86.6" r="0.97" fill="#4a18e8" opacity="0.86"/>
<circle cx="104.8" cy="107.7" r="0.99" fill="#3a18ff" opacity="0.76"/>
<circle cx="175.6" cy="107.5" r="0.95" fill="#3a18ff" opacity="0.81"/>
<circle cx="157.9" cy="136.3" r="1.20" fill="#5a20ff" opacity="0.68"/>
<circle cx="163.4" cy="120.0" r="1.01" fill="#4a18e8" opacity="0.57"/>
<circle cx="131.7" cy="123.2" r="1.22" fill="#2a14c8" opacity="0.68"/>
<circle cx="105.8" cy="87.1" r="1.03" fill="#4a18e8" opacity="0.51"/>
<circle cx="99.5" cy="78.2" r="0.78" fill="#3a18ff" opacity="0.49"/>
<circle cx="158.7" cy="111.4" r="0.64" fill="#3a18ff" opacity="0.81"/>
<circle cx="170.2" cy="116.2" r="1.04" fill="#2a14c8" opacity="0.68"/>
<circle cx="145.2" cy="91.6" r="0.63" fill="#2a14c8" opacity="0.66"/>
<circle cx="136.3" cy="112.1" r="0.79" fill="#2a14c8" opacity="0.45"/>
<circle cx="125.1" cy="124.2" r="1.14" fill="#3a18ff" opacity="0.78"/>
<circle cx="108.9" cy="90.0" r="1.03" fill="#4a18e8" opacity="0.74"/>
<circle cx="100.1" cy="111.0" r="0.67" fill="#4a18e8" opacity="0.71"/>
<circle cx="98.9" cy="115.4" r="0.74" fill="#3a18ff" opacity="0.71"/>
<circle cx="117.4" cy="123.2" r="0.97" fill="#5a20ff" opacity="0.85"/>
<circle cx="143.5" cy="101.2" r="0.84" fill="#2a14c8" opacity="0.41"/>
<circle cx="98.9" cy="82.8" r="0.74" fill="#2a14c8" opacity="0.68"/>
<circle cx="152.0" cy="113.8" r="0.94" fill="#2a14c8" opacity="0.43"/>
<circle cx="154.7" cy="108.1" r="1.04" fill="#2a14c8" opacity="0.54"/>
<circle cx="102.9" cy="76.0" r="0.95" fill="#2a14c8" opacity="0.46"/>
<circle cx="114.5" cy="80.9" r="0.74" fill="#4a18e8" opacity="0.69"/>
<circle cx="170.9" cy="107.7" r="0.72" fill="#4a18e8" opacity="0.42"/>
<circle cx="143.0" cy="120.7" r="0.84" fill="#4a18e8" opacity="0.69"/>
<circle cx="92.2" cy="71.3" r="1.00" fill="#4a18e8" opacity="0.62"/>
<circle cx="103.3" cy="73.8" r="1.08" fill="#3a18ff" opacity="0.46"/>
<circle cx="162.6" cy="77.6" r="0.81" fill="#5a20ff" opacity="0.65"/>
<circle cx="155.2" cy="106.3" r="1.02" fill="#5a20ff" opacity="0.61"/>
<circle cx="134.2" cy="121.0" r="1.05" fill="#5a20ff" opacity="0.55"/>
<circle cx="156.8" cy="112.6" r="1.06" fill="#3a18ff" opacity="0.86"/>
<circle cx="100.0" cy="87.4" r="0.61" fill="#3a18ff" opacity="0.76"/>
<circle cx="113.1" cy="77.2" r="1.22" fill="#4a18e8" opacity="0.81"/>
<circle cx="165.7" cy="123.2" r="1.06" fill="#3a18ff" opacity="0.61"/>
<circle cx="120.4" cy="66.3" r="0.88" fill="#5a20ff" opacity="0.42"/>
<circle cx="146.1" cy="75.5" r="0.64" fill="#3a18ff" opacity="0.50"/>
<circle cx="131.8" cy="110.0" r="1.04" fill="#5a20ff" opacity="0.48"/>
<circle cx="133.1" cy="71.7" r="1.06" fill="#4a18e8" opacity="0.45"/>
<circle cx="168.6" cy="110.2" r="0.65" fill="#3a18ff" opacity="0.76"/>
<circle cx="166.5" cy="76.9" r="0.74" fill="#4a18e8" opacity="0.81"/>
<circle cx="147.7" cy="121.3" r="0.85" fill="#3a18ff" opacity="0.78"/>
<circle cx="162.8" cy="111.7" r="1.07" fill="#3a18ff" opacity="0.47"/>
<circle cx="110.3" cy="75.5" r="0.71" fill="#2a14c8" opacity="0.75"/>
<circle cx="148.8" cy="117.6" r="1.25" fill="#2a14c8" opacity="0.48"/>
<circle cx="152.2" cy="104.3" r="0.80" fill="#2a14c8" opacity="0.44"/>
<circle cx="158.0" cy="130.6" r="1.01" fill="#3a18ff" opacity="0.81"/>
<circle cx="168.8" cy="112.7" r="1.11" fill="#3a18ff" opacity="0.84"/>
<circle cx="151.4" cy="84.8" r="1.06" fill="#5a20ff" opacity="0.41"/>
<circle cx="104.1" cy="92.9" r="0.84" fill="#3a18ff" opacity="0.62"/>
<circle cx="106.4" cy="85.8" r="0.97" fill="#5a20ff" opacity="0.59"/>
<circle cx="172.4" cy="102.4" r="0.96" fill="#5a20ff" opacity="0.84"/>
<circle cx="154.6" cy="79.9" r="1.06" fill="#4a18e8" opacity="0.69"/>
<circle cx="100.0" cy="76.5" r="0.89" fill="#4a18e8" opacity="0.55"/>
<circle cx="106.4" cy="114.0" r="0.84" fill="#5a20ff" opacity="0.63"/>
<circle cx="147.4" cy="110.4" r="0.60" fill="#3a18ff" opacity="0.53"/>
<circle cx="135.5" cy="109.6" r="1.00" fill="#5a20ff" opacity="0.68"/>
<circle cx="116.2" cy="83.9" r="1.16" fill="#5a20ff" opacity="0.88"/>
<circle cx="104.9" cy="85.7" r="0.72" fill="#5a20ff" opacity="0.43"/>
<circle cx="157.4" cy="107.5" r="0.62" fill="#3a18ff" opacity="0.86"/>
<circle cx="133.2" cy="106.8" r="1.20" fill="#2a14c8" opacity="0.82"/>
<circle cx="149.7" cy="66.0" r="1.06" fill="#3a18ff" opacity="0.72"/>
<circle cx="169.1" cy="132.0" r="1.02" fill="#3a18ff" opacity="0.65"/>
<circle cx="168.8" cy="77.1" r="0.84" fill="#3a18ff" opacity="0.62"/>
<circle cx="123.5" cy="91.4" r="0.61" fill="#2a14c8" opacity="0.57"/>
<circle cx="138.9" cy="100.3" r="0.67" fill="#4a18e8" opacity="0.45"/>
<circle cx="121.5" cy="78.9" r="0.70" fill="#5a20ff" opacity="0.81"/>
<circle cx="148.0" cy="119.3" r="1.20" fill="#4a18e8" opacity="0.80"/>
<circle cx="105.3" cy="95.8" r="0.66" fill="#3a18ff" opacity="0.87"/>
<circle cx="147.9" cy="92.3" r="1.07" fill="#2a14c8" opacity="0.87"/>
<circle cx="136.3" cy="100.5" r="1.10" fill="#4a18e8" opacity="0.66"/>
<circle cx="99.9" cy="69.1" r="0.70" fill="#2a14c8" opacity="0.57"/>
<circle cx="105.7" cy="79.7" r="1.06" fill="#3a18ff" opacity="0.87"/>
<circle cx="132.5" cy="97.8" r="0.84" fill="#2a14c8" opacity="0.62"/>
<circle cx="149.4" cy="119.5" r="1.18" fill="#5a20ff" opacity="0.74"/>
<circle cx="153.2" cy="127.4" r="0.94" fill="#2a14c8" opacity="0.44"/>
<circle cx="164.7" cy="91.4" r="0.81" fill="#2a14c8" opacity="0.79"/>
<circle cx="100.3" cy="82.6" r="0.69" fill="#3a18ff" opacity="0.77"/>
<circle cx="164.3" cy="111.3" r="1.25" fill="#4a18e8" opacity="0.57"/>
<circle cx="143.9" cy="63.5" r="0.95" fill="#5a20ff" opacity="0.75"/>
<circle cx="103.1" cy="109.9" r="0.98" fill="#2a14c8" opacity="0.71"/>
<circle cx="107.9" cy="72.5" r="0.95" fill="#4a18e8" opacity="0.79"/>
<circle cx="110.4" cy="67.6" r="0.66" fill="#4a18e8" opacity="0.60"/>
<circle cx="165.9" cy="101.8" r="1.06" fill="#5a20ff" opacity="0.50"/>
<circle cx="108.8" cy="81.4" r="1.15" fill="#3a18ff" opacity="0.64"/>
<circle cx="105.9" cy="72.1" r="0.69" fill="#5a20ff" opacity="0.68"/>
<circle cx="126.3" cy="109.5" r="0.68" fill="#4a18e8" opacity="0.60"/>
<circle cx="171.5" cy="126.2" r="0.79" fill="#5a20ff" opacity="0.41"/>
<circle cx="174.8" cy="92.0" r="1.24" fill="#4a18e8" opacity="0.47"/>
<circle cx="113.0" cy="103.7" r="1.02" fill="#4a18e8" opacity="0.60"/>
<circle cx="170.4" cy="89.2" r="1.20" fill="#4a18e8" opacity="0.70"/>
<circle cx="105.6" cy="78.8" r="1.17" fill="#3a18ff" opacity="0.47"/>
<circle cx="127.1" cy="118.5" r="0.77" fill="#5a20ff" opacity="0.55"/>
<circle cx="150.5" cy="83.3" r="0.98" fill="#5a20ff" opacity="0.84"/>
<circle cx="130.4" cy="81.7" r="1.08" fill="#5a20ff" opacity="0.56"/>
<circle cx="129.7" cy="122.5" r="0.61" fill="#4a18e8" opacity="0.47"/>
<circle cx="154.2" cy="90.8" r="0.91" fill="#2a14c8" opacity="0.58"/>
<circle cx="153.9" cy="102.6" r="0.82" fill="#3a18ff" opacity="0.59"/>
<circle cx="101.5" cy="77.1" r="0.95" fill="#4a18e8" opacity="0.83"/>
<circle cx="167.3" cy="92.9" r="0.70" fill="#3a18ff" opacity="0.83"/>
<circle cx="142.5" cy="101.5" r="1.18" fill="#2a14c8" opacity="0.43"/>
<circle cx="171.5" cy="103.3" r="0.78" fill="#4a18e8" opacity="0.40"/>
<circle cx="160.4" cy="77.3" r="0.86" fill="#2a14c8" opacity="0.73"/>
<circle cx="135.6" cy="115.1" r="0.85" fill="#3a18ff" opacity="0.77"/>
<circle cx="145.6" cy="115.0" r="1.13" fill="#5a20ff" opacity="0.78"/>
<circle cx="85.2" cy="72.0" r="1.00" fill="#3a18ff" opacity="0.72"/>
<circle cx="130.0" cy="92.2" r="1.09" fill="#3a18ff" opacity="0.56"/>
<circle cx="99.5" cy="87.2" r="1.15" fill="#5a20ff" opacity="0.73"/>
<circle cx="151.3" cy="111.1" r="1.17" fill="#5a20ff" opacity="0.85"/>
<circle cx="160.7" cy="113.8" r="1.02" fill="#2a14c8" opacity="0.51"/>
<circle cx="112.2" cy="109.6" r="1.11" fill="#2a14c8" opacity="0.50"/>
<circle cx="103.3" cy="79.8" r="1.08" fill="#4a18e8" opacity="0.80"/>
<circle cx="148.7" cy="112.1" r="1.08" fill="#3a18ff" opacity="0.43"/>
<circle cx="143.0" cy="138.5" r="0.62" fill="#5a20ff" opacity="0.85"/>
<circle cx="139.6" cy="97.7" r="1.06" fill="#4a18e8" opacity="0.55"/>
<circle cx="140.2" cy="113.9" r="0.87" fill="#3a18ff" opacity="0.65"/>
<circle cx="158.9" cy="118.4" r="0.60" fill="#5a20ff" opacity="0.50"/>
<circle cx="170.5" cy="106.8" r="0.88" fill="#4a18e8" opacity="0.75"/>
<circle cx="154.9" cy="108.5" r="0.83" fill="#4a18e8" opacity="0.66"/>
<circle cx="121.5" cy="135.9" r="0.87" fill="#2a14c8" opacity="0.66"/>
<circle cx="116.9" cy="52.7" r="0.70" fill="#4a18e8" opacity="0.77"/>
<circle cx="159.6" cy="126.6" r="1.08" fill="#4a18e8" opacity="0.64"/>
<circle cx="103.9" cy="79.9" r="0.95" fill="#2a14c8" opacity="0.61"/>
<circle cx="153.0" cy="87.4" r="0.92" fill="#2a14c8" opacity="0.66"/>
<circle cx="154.5" cy="105.5" r="1.00" fill="#3a18ff" opacity="0.53"/>
<circle cx="154.2" cy="82.1" r="1.05" fill="#2a14c8" opacity="0.73"/>
<circle cx="154.5" cy="115.6" r="1.18" fill="#2a14c8" opacity="0.51"/>
<circle cx="103.1" cy="70.4" r="0.90" fill="#5a20ff" opacity="0.52"/>
<circle cx="94.3" cy="82.4" r="1.17" fill="#4a18e8" opacity="0.68"/>
<circle cx="124.4" cy="81.0" r="0.70" fill="#3a18ff" opacity="0.61"/>
<circle cx="99.4" cy="70.0" r="1.20" fill="#3a18ff" opacity="0.81"/>
<circle cx="145.4" cy="106.6" r="1.21" fill="#4a18e8" opacity="0.75"/>
<circle cx="114.2" cy="114.4" r="0.96" fill="#2a14c8" opacity="0.87"/>
<circle cx="133.8" cy="107.6" r="1.02" fill="#5a20ff" opacity="0.79"/>
<circle cx="122.2" cy="88.4" r="0.87" fill="#5a20ff" opacity="0.65"/>
<circle cx="142.5" cy="108.5" r="0.69" fill="#2a14c8" opacity="0.71"/>
<circle cx="161.6" cy="104.0" r="1.05" fill="#5a20ff" opacity="0.61"/>
<circle cx="132.0" cy="105.0" r="0.95" fill="#3a18ff" opacity="0.40"/>
<circle cx="122.1" cy="103.4" r="0.77" fill="#2a14c8" opacity="0.83"/>
<circle cx="162.2" cy="76.0" r="0.74" fill="#2a14c8" opacity="0.80"/>
<circle cx="106.8" cy="91.3" r="0.62" fill="#4a18e8" opacity="0.54"/>
<circle cx="135.0" cy="95.0" r="1.05" fill="#2a14c8" opacity="0.70"/>
<circle cx="157.7" cy="108.0" r="1.14" fill="#4a18e8" opacity="0.85"/>
<circle cx="118.1" cy="81.4" r="0.98" fill="#3a18ff" opacity="0.52"/>
<circle cx="137.9" cy="113.7" r="1.05" fill="#3a18ff" opacity="0.67"/>
<circle cx="148.5" cy="83.6" r="1.18" fill="#2a14c8" opacity="0.76"/>
<circle cx="96.6" cy="78.9" r="1.19" fill="#5a20ff" opacity="0.43"/>
<circle cx="149.8" cy="103.1" r="0.86" fill="#4a18e8" opacity="0.84"/>
<circle cx="108.0" cy="83.5" r="1.12" fill="#3a18ff" opacity="0.54"/>
<circle cx="135.9" cy="98.8" r="1.21" fill="#3a18ff" opacity="0.77"/>
<circle cx="168.0" cy="128.1" r="0.62" fill="#2a14c8" opacity="0.46"/>
<circle cx="138.3" cy="104.4" r="0.95" fill="#5a20ff" opacity="0.72"/>
<circle cx="114.4" cy="111.4" r="0.97" fill="#4a18e8" opacity="0.82"/>
<circle cx="155.0" cy="123.5" r="1.09" fill="#3a18ff" opacity="0.88"/>
<circle cx="149.2" cy="99.3" r="0.92" fill="#2a14c8" opacity="0.64"/>
<circle cx="171.6" cy="126.4" r="0.75" fill="#4a18e8" opacity="0.52"/>
<circle cx="99.8" cy="80.5" r="0.84" fill="#4a18e8" opacity="0.43"/>
<circle cx="158.5" cy="104.5" r="1.18" fill="#4a18e8" opacity="0.69"/>
<circle cx="158.1" cy="113.3" r="0.76" fill="#4a18e8" opacity="0.90"/>
<circle cx="157.5" cy="103.8" r="0.82" fill="#2a14c8" opacity="0.49"/>
<circle cx="162.7" cy="132.0" r="0.71" fill="#4a18e8" opacity="0.64"/>
<circle cx="98.0" cy="85.7" r="0.77" fill="#4a18e8" opacity="0.54"/>
<circle cx="94.4" cy="79.4" r="1.11" fill="#2a14c8" opacity="0.55"/>
<circle cx="165.1" cy="121.7" r="0.76" fill="#4a18e8" opacity="0.82"/>
<circle cx="137.8" cy="114.4" r="0.73" fill="#2a14c8" opacity="0.53"/>
<circle cx="97.6" cy="89.8" r="0.83" fill="#4a18e8" opacity="0.45"/>
<circle cx="166.2" cy="113.3" r="0.89" fill="#4a18e8" opacity="0.73"/>
<circle cx="161.2" cy="100.0" r="1.15" fill="#5a20ff" opacity="0.79"/>
<circle cx="148.8" cy="110.8" r="0.86" fill="#4a18e8" opacity="0.89"/>
<circle cx="99.3" cy="87.3" r="1.11" fill="#5a20ff" opacity="0.86"/>
<circle cx="138.1" cy="74.2" r="1.23" fill="#3a18ff" opacity="0.57"/>
<circle cx="112.4" cy="86.6" r="0.80" fill="#3a18ff" opacity="0.47"/>
<circle cx="117.7" cy="77.4" r="0.84" fill="#2a14c8" opacity="0.54"/>
<circle cx="141.8" cy="126.9" r="0.76" fill="#3a18ff" opacity="0.86"/>
<circle cx="162.6" cy="86.3" r="0.71" fill="#4a18e8" opacity="0.70"/>
<circle cx="152.8" cy="107.9" r="1.20" fill="#4a18e8" opacity="0.75"/>
<circle cx="155.5" cy="92.6" r="0.90" fill="#3a18ff" opacity="0.79"/>
<circle cx="140.6" cy="85.6" r="1.20" fill="#5a20ff" opacity="0.53"/>
<circle cx="104.2" cy="93.5" r="0.90" fill="#2a14c8" opacity="0.41"/>
<circle cx="108.7" cy="74.2" r="0.76" fill="#3a18ff" opacity="0.81"/>
<circle cx="108.1" cy="85.7" r="1.22" fill="#4a18e8" opacity="0.60"/>
<circle cx="161.0" cy="111.0" r="0.89" fill="#3a18ff" opacity="0.70"/>
<circle cx="101.0" cy="74.1" r="0.98" fill="#3a18ff" opacity="0.43"/>
<circle cx="97.5" cy="73.8" r="0.81" fill="#4a18e8" opacity="0.80"/>
<circle cx="165.7" cy="65.6" r="1.10" fill="#3a18ff" opacity="0.48"/>
<circle cx="148.7" cy="117.5" r="1.15" fill="#5a20ff" opacity="0.88"/>
<circle cx="158.5" cy="67.8" r="0.74" fill="#4a18e8" opacity="0.82"/>
<circle cx="110.3" cy="92.6" r="0.89" fill="#4a18e8" opacity="0.79"/>
<circle cx="177.5" cy="112.8" r="0.61" fill="#4a18e8" opacity="0.46"/>
<circle cx="163.4" cy="88.1" r="1.06" fill="#4a18e8" opacity="0.75"/>
<circle cx="163.0" cy="114.0" r="1.08" fill="#2a14c8" opacity="0.69"/>
<circle cx="101.3" cy="81.7" r="0.83" fill="#4a18e8" opacity="0.73"/>
<circle cx="146.6" cy="103.5" r="1.23" fill="#5a20ff" opacity="0.85"/>
<circle cx="152.7" cy="108.2" r="0.86" fill="#2a14c8" opacity="0.45"/>
<circle cx="109.8" cy="84.7" r="0.93" fill="#2a14c8" opacity="0.74"/>
<circle cx="102.8" cy="79.0" r="0.90" fill="#5a20ff" opacity="0.86"/>
<circle cx="133.6" cy="101.4" r="0.91" fill="#5a20ff" opacity="0.76"/>
<circle cx="133.3" cy="110.9" r="0.95" fill="#4a18e8" opacity="0.55"/>
<circle cx="167.0" cy="111.1" r="0.85" fill="#3a18ff" opacity="0.50"/>
<circle cx="106.8" cy="85.1" r="0.88" fill="#5a20ff" opacity="0.40"/>
<circle cx="107.5" cy="68.7" r="1.03" fill="#3a18ff" opacity="0.79"/>
<circle cx="167.3" cy="113.0" r="0.92" fill="#3a18ff" opacity="0.45"/>
<circle cx="176.6" cy="115.0" r="0.61" fill="#2a14c8" opacity="0.56"/>
<circle cx="154.9" cy="109.6" r="1.25" fill="#5a20ff" opacity="0.81"/>
<circle cx="93.1" cy="72.7" r="1.07" fill="#3a18ff" opacity="0.64"/>
<circle cx="140.3" cy="107.7" r="0.84" fill="#2a14c8" opacity="0.61"/>
<circle cx="115.4" cy="107.0" r="0.73" fill="#4a18e8" opacity="0.44"/>
<circle cx="136.0" cy="104.5" r="0.64" fill="#5a20ff" opacity="0.78"/>
<circle cx="161.3" cy="114.4" r="0.90" fill="#4a18e8" opacity="0.83"/>
<circle cx="155.3" cy="101.7" r="1.15" fill="#4a18e8" opacity="0.77"/>
<circle cx="144.3" cy="101.4" r="1.18" fill="#4a18e8" opacity="0.84"/>
<circle cx="98.6" cy="62.6" r="0.81" fill="#2a14c8" opacity="0.73"/>
<circle cx="165.6" cy="98.3" r="0.79" fill="#3a18ff" opacity="0.60"/>
<circle cx="132.6" cy="106.5" r="0.74" fill="#5a20ff" opacity="0.83"/>
<circle cx="161.4" cy="99.5" r="0.80" fill="#5a20ff" opacity="0.42"/>
<circle cx="155.2" cy="106.7" r="0.78" fill="#4a18e8" opacity="0.79"/>
<circle cx="108.8" cy="74.9" r="1.13" fill="#2a14c8" opacity="0.66"/>
<circle cx="153.1" cy="80.6" r="1.24" fill="#4a18e8" opacity="0.56"/>
<circle cx="146.9" cy="109.9" r="0.72" fill="#4a18e8" opacity="0.41"/>
<circle cx="127.6" cy="92.4" r="0.94" fill="#2a14c8" opacity="0.47"/>
<circle cx="90.9" cy="71.7" r="1.13" fill="#3a18ff" opacity="0.74"/>
<circle cx="93.4" cy="78.7" r="0.75" fill="#3a18ff" opacity="0.76"/>
<circle cx="111.4" cy="74.7" r="0.64" fill="#3a18ff" opacity="0.78"/>
<circle cx="145.5" cy="149.8" r="1.13" fill="#5a20ff" opacity="0.70"/>
<circle cx="100.3" cy="102.9" r="0.68" fill="#5a20ff" opacity="0.70"/>
<circle cx="86.2" cy="74.1" r="1.11" fill="#3a18ff" opacity="0.67"/>
<circle cx="143.4" cy="102.3" r="0.76" fill="#4a18e8" opacity="0.62"/>
<circle cx="161.4" cy="127.1" r="0.86" fill="#3a18ff" opacity="0.45"/>
<circle cx="129.7" cy="118.2" r="0.62" fill="#3a18ff" opacity="0.52"/>
<circle cx="97.9" cy="77.5" r="1.17" fill="#3a18ff" opacity="0.58"/>
<circle cx="150.1" cy="79.4" r="1.11" fill="#4a18e8" opacity="0.82"/>
<circle cx="91.8" cy="79.6" r="0.87" fill="#3a18ff" opacity="0.54"/>
<circle cx="159.4" cy="72.4" r="0.96" fill="#5a20ff" opacity="0.41"/>
<circle cx="111.6" cy="88.8" r="1.24" fill="#3a18ff" opacity="0.64"/>
<circle cx="134.1" cy="93.0" r="1.08" fill="#5a20ff" opacity="0.49"/>
<circle cx="161.4" cy="116.5" r="0.82" fill="#5a20ff" opacity="0.55"/>
<circle cx="173.8" cy="128.5" r="0.83" fill="#3a18ff" opacity="0.61"/>
<circle cx="145.9" cy="104.8" r="0.98" fill="#2a14c8" opacity="0.64"/>
<circle cx="137.1" cy="106.3" r="0.96" fill="#3a18ff" opacity="0.61"/>
<circle cx="154.2" cy="106.3" r="0.99" fill="#3a18ff" opacity="0.53"/>
<circle cx="124.8" cy="105.2" r="0.99" fill="#4a18e8" opacity="0.68"/>
<circle cx="163.3" cy="106.0" r="0.65" fill="#3a18ff" opacity="0.46"/>
<circle cx="107.3" cy="77.7" r="0.70" fill="#5a20ff" opacity="0.85"/>
<circle cx="112.2" cy="68.9" r="1.08" fill="#3a18ff" opacity="0.54"/>
<circle cx="169.7" cy="133.8" r="0.74" fill="#5a20ff" opacity="0.67"/>
<circle cx="148.8" cy="100.1" r="0.72" fill="#2a14c8" opacity="0.51"/>
<circle cx="153.9" cy="117.2" r="0.91" fill="#5a20ff" opacity="0.68"/>
<circle cx="134.6" cy="106.8" r="1.23" fill="#5a20ff" opacity="0.72"/>
<circle cx="162.0" cy="116.6" r="0.69" fill="#5a20ff" opacity="0.75"/>
<circle cx="173.6" cy="118.3" r="1.23" fill="#2a14c8" opacity="0.64"/>
<circle cx="132.8" cy="134.2" r="1.17" fill="#3a18ff" opacity="0.89"/>
<circle cx="143.9" cy="105.7" r="0.86" fill="#2a14c8" opacity="0.41"/>
<circle cx="189.6" cy="133.8" r="0.95" fill="#4a18e8" opacity="0.40"/>
<circle cx="162.8" cy="123.1" r="1.20" fill="#4a18e8" opacity="0.53"/>
<circle cx="138.3" cy="93.4" r="0.91" fill="#3a18ff" opacity="0.84"/>
<circle cx="99.6" cy="81.1" r="0.89" fill="#4a18e8" opacity="0.57"/>
<circle cx="173.1" cy="134.0" r="1.02" fill="#3a18ff" opacity="0.78"/>
<circle cx="155.5" cy="118.8" r="0.72" fill="#3a18ff" opacity="0.67"/>
<circle cx="104.5" cy="79.6" r="1.13" fill="#4a18e8" opacity="0.70"/>
<circle cx="93.5" cy="71.2" r="0.92" fill="#5a20ff" opacity="0.57"/>
<circle cx="164.7" cy="129.7" r="1.19" fill="#5a20ff" opacity="0.64"/>
<circle cx="96.1" cy="67.9" r="0.64" fill="#4a18e8" opacity="0.63"/>
<circle cx="154.6" cy="113.7" r="1.08" fill="#3a18ff" opacity="0.85"/>
<circle cx="143.3" cy="127.7" r="1.01" fill="#5a20ff" opacity="0.46"/>
<circle cx="183.6" cy="142.5" r="1.08" fill="#2a14c8" opacity="0.43"/>
<circle cx="94.8" cy="106.1" r="1.24" fill="#4a18e8" opacity="0.69"/>
<circle cx="98.3" cy="77.3" r="0.99" fill="#2a14c8" opacity="0.58"/>
<circle cx="150.9" cy="111.7" r="0.69" fill="#3a18ff" opacity="0.85"/>
<circle cx="107.4" cy="111.6" r="0.70" fill="#4a18e8" opacity="0.73"/>
<circle cx="146.9" cy="72.2" r="1.15" fill="#2a14c8" opacity="0.79"/>
<circle cx="114.6" cy="73.6" r="1.04" fill="#3a18ff" opacity="0.74"/>
<circle cx="156.4" cy="81.3" r="0.89" fill="#4a18e8" opacity="0.68"/>
<circle cx="157.9" cy="88.1" r="0.69" fill="#2a14c8" opacity="0.49"/>
<circle cx="148.6" cy="111.5" r="0.63" fill="#2a14c8" opacity="0.77"/>
<circle cx="120.6" cy="90.4" r="0.86" fill="#4a18e8" opacity="0.76"/>
<circle cx="162.2" cy="137.2" r="0.61" fill="#2a14c8" opacity="0.85"/>
<circle cx="129.1" cy="82.4" r="1.19" fill="#5a20ff" opacity="0.68"/>
<circle cx="107.1" cy="83.0" r="1.11" fill="#5a20ff" opacity="0.47"/>
<circle cx="93.3" cy="87.9" r="0.77" fill="#4a18e8" opacity="0.56"/>
<circle cx="150.0" cy="84.0" r="0.83" fill="#5a20ff" opacity="0.44"/>
<circle cx="131.4" cy="99.6" r="1.04" fill="#5a20ff" opacity="0.41"/>
<circle cx="123.0" cy="73.2" r="1.06" fill="#5a20ff" opacity="0.51"/>
<circle cx="146.2" cy="112.4" r="0.91" fill="#3a18ff" opacity="0.60"/>
<circle cx="93.5" cy="81.3" r="1.12" fill="#4a18e8" opacity="0.76"/>
<circle cx="137.7" cy="103.6" r="0.96" fill="#5a20ff" opacity="0.76"/>
<circle cx="131.1" cy="67.1" r="0.94" fill="#2a14c8" opacity="0.67"/>
<circle cx="135.2" cy="99.2" r="0.84" fill="#4a18e8" opacity="0.82"/>
<circle cx="141.7" cy="119.3" r="0.69" fill="#4a18e8" opacity="0.63"/>
<circle cx="148.0" cy="115.0" r="0.66" fill="#2a14c8" opacity="0.88"/>
<circle cx="165.3" cy="75.9" r="1.23" fill="#2a14c8" opacity="0.55"/>
<circle cx="151.0" cy="94.1" r="0.75" fill="#4a18e8" opacity="0.89"/>
<circle cx="112.2" cy="96.3" r="0.73" fill="#5a20ff" opacity="0.54"/>
<circle cx="105.6" cy="80.3" r="1.23" fill="#4a18e8" opacity="0.52"/>
<circle cx="188.1" cy="120.9" r="0.63" fill="#3a18ff" opacity="0.44"/>
<circle cx="148.6" cy="106.7" r="1.17" fill="#4a18e8" opacity="0.82"/>
<circle cx="118.6" cy="117.4" r="1.04" fill="#2a14c8" opacity="0.86"/>
<circle cx="157.1" cy="79.5" r="1.13" fill="#5a20ff" opacity="0.71"/>
<circle cx="146.2" cy="106.1" r="0.99" fill="#4a18e8" opacity="0.55"/>
<circle cx="172.3" cy="133.2" r="0.85" fill="#5a20ff" opacity="0.73"/>
<circle cx="168.8" cy="107.8" r="1.00" fill="#2a14c8" opacity="0.60"/>
<circle cx="148.4" cy="105.3" r="1.20" fill="#4a18e8" opacity="0.62"/>
<circle cx="141.4" cy="107.9" r="0.76" fill="#4a18e8" opacity="0.67"/>
<circle cx="150.8" cy="102.2" r="0.89" fill="#2a14c8" opacity="0.46"/>
<circle cx="162.9" cy="76.0" r="0.67" fill="#5a20ff" opacity="0.78"/>
<circle cx="123.5" cy="89.5" r="1.08" fill="#3a18ff" opacity="0.80"/>
<circle cx="135.8" cy="93.0" r="0.75" fill="#2a14c8" opacity="0.80"/>
<circle cx="138.4" cy="112.2" r="0.75" fill="#3a18ff" opacity="0.70"/>
<circle cx="105.5" cy="91.4" r="0.68" fill="#2a14c8" opacity="0.41"/>
<circle cx="138.6" cy="113.5" r="0.62" fill="#2a14c8" opacity="0.86"/>
<circle cx="146.5" cy="119.2" r="0.66" fill="#3a18ff" opacity="0.87"/>
<circle cx="161.2" cy="94.6" r="0.85" fill="#3a18ff" opacity="0.87"/>
<circle cx="175.9" cy="96.0" r="0.75" fill="#2a14c8" opacity="0.56"/>
<circle cx="155.4" cy="117.4" r="1.17" fill="#3a18ff" opacity="0.56"/>
<circle cx="145.8" cy="114.0" r="0.83" fill="#4a18e8" opacity="0.81"/>
<circle cx="145.3" cy="118.8" r="0.79" fill="#3a18ff" opacity="0.65"/>
<circle cx="169.2" cy="109.3" r="0.84" fill="#4a18e8" opacity="0.84"/>
<circle cx="98.1" cy="75.5" r="0.80" fill="#3a18ff" opacity="0.62"/>
<circle cx="169.5" cy="115.9" r="0.79" fill="#4a18e8" opacity="0.79"/>
<circle cx="131.2" cy="98.1" r="0.60" fill="#2a14c8" opacity="0.85"/>
<circle cx="99.7" cy="81.7" r="0.85" fill="#4a18e8" opacity="0.85"/>
<circle cx="164.1" cy="112.1" r="1.14" fill="#2a14c8" opacity="0.40"/>
<circle cx="148.6" cy="111.4" r="0.62" fill="#5a20ff" opacity="0.75"/>
<circle cx="142.6" cy="114.2" r="0.62" fill="#5a20ff" opacity="0.58"/>
<circle cx="175.4" cy="99.4" r="0.67" fill="#2a14c8" opacity="0.87"/>
<circle cx="93.4" cy="81.1" r="0.97" fill="#2a14c8" opacity="0.88"/>
<circle cx="113.2" cy="116.3" r="0.76" fill="#5a20ff" opacity="0.56"/>
<circle cx="96.1" cy="111.5" r="0.65" fill="#5a20ff" opacity="0.80"/>
<circle cx="142.9" cy="100.8" r="1.05" fill="#3a18ff" opacity="0.62"/>
<circle cx="101.1" cy="111.1" r="0.62" fill="#5a20ff" opacity="0.43"/>
<circle cx="162.0" cy="83.3" r="0.69" fill="#3a18ff" opacity="0.68"/>
<circle cx="134.8" cy="88.8" r="1.21" fill="#5a20ff" opacity="0.51"/>
<circle cx="137.8" cy="119.4" r="1.19" fill="#4a18e8" opacity="0.84"/>
<circle cx="158.1" cy="122.6" r="0.75" fill="#3a18ff" opacity="0.68"/>
<circle cx="161.3" cy="132.3" r="1.18" fill="#5a20ff" opacity="0.65"/>
<circle cx="160.3" cy="92.1" r="1.06" fill="#4a18e8" opacity="0.56"/>
<circle cx="91.7" cy="79.9" r="1.13" fill="#4a18e8" opacity="0.60"/>
<circle cx="102.2" cy="78.1" r="1.23" fill="#4a18e8" opacity="0.70"/>
<circle cx="114.8" cy="92.4" r="1.13" fill="#4a18e8" opacity="0.72"/>
<circle cx="158.9" cy="82.2" r="0.95" fill="#4a18e8" opacity="0.52"/>
<circle cx="156.2" cy="118.3" r="0.90" fill="#5a20ff" opacity="0.47"/>
<circle cx="106.5" cy="77.2" r="0.95" fill="#5a20ff" opacity="0.55"/>
<circle cx="108.3" cy="77.9" r="0.83" fill="#5a20ff" opacity="0.79"/>
<circle cx="148.2" cy="102.3" r="0.82" fill="#2a14c8" opacity="0.82"/>
<circle cx="139.4" cy="100.5" r="1.04" fill="#3a18ff" opacity="0.83"/>
<circle cx="135.3" cy="111.6" r="1.05" fill="#5a20ff" opacity="0.51"/>
<circle cx="101.9" cy="119.7" r="1.06" fill="#4a18e8" opacity="0.54"/>
<circle cx="144.3" cy="102.2" r="1.01" fill="#2a14c8" opacity="0.60"/>
<circle cx="106.1" cy="64.8" r="1.12" fill="#4a18e8" opacity="0.76"/>
<circle cx="106.9" cy="73.2" r="1.23" fill="#4a18e8" opacity="0.42"/>
<circle cx="90.6" cy="79.8" r="0.81" fill="#5a20ff" opacity="0.44"/>
<circle cx="96.9" cy="77.5" r="1.24" fill="#4a18e8" opacity="0.73"/>
<circle cx="156.9" cy="101.2" r="0.90" fill="#5a20ff" opacity="0.53"/>
<circle cx="164.1" cy="106.2" r="0.95" fill="#5a20ff" opacity="0.57"/>
<circle cx="109.3" cy="74.3" r="0.81" fill="#4a18e8" opacity="0.50"/>
<circle cx="108.2" cy="84.2" r="0.77" fill="#3a18ff" opacity="0.49"/>
<circle cx="165.3" cy="105.4" r="0.68" fill="#5a20ff" opacity="0.85"/>
<circle cx="164.0" cy="110.1" r="1.09" fill="#2a14c8" opacity="0.52"/>
<circle cx="135.1" cy="90.6" r="0.75" fill="#3a18ff" opacity="0.64"/>
<circle cx="114.9" cy="94.6" r="1.01" fill="#3a18ff" opacity="0.57"/>
<circle cx="161.9" cy="89.5" r="1.05" fill="#5a20ff" opacity="0.77"/>
<circle cx="156.5" cy="95.2" r="0.85" fill="#3a18ff" opacity="0.70"/>
<circle cx="144.9" cy="112.7" r="0.86" fill="#5a20ff" opacity="0.55"/>
<circle cx="99.6" cy="84.6" r="0.65" fill="#5a20ff" opacity="0.58"/>
<circle cx="159.6" cy="112.8" r="0.83" fill="#2a14c8" opacity="0.54"/>
<circle cx="145.3" cy="108.0" r="1.04" fill="#4a18e8" opacity="0.70"/>
<circle cx="146.4" cy="109.1" r="1.21" fill="#2a14c8" opacity="0.57"/>
<circle cx="155.0" cy="95.2" r="1.01" fill="#5a20ff" opacity="0.50"/>
<circle cx="99.6" cy="77.7" r="1.06" fill="#5a20ff" opacity="0.73"/>
<circle cx="167.4" cy="92.6" r="0.67" fill="#3a18ff" opacity="0.62"/>
<circle cx="164.0" cy="112.4" r="1.16" fill="#2a14c8" opacity="0.61"/>
<circle cx="103.0" cy="76.1" r="0.99" fill="#4a18e8" opacity="0.75"/>
<circle cx="165.9" cy="108.5" r="0.69" fill="#3a18ff" opacity="0.40"/>
<circle cx="138.4" cy="92.8" r="0.73" fill="#5a20ff" opacity="0.73"/>
<circle cx="108.2" cy="75.8" r="1.00" fill="#2a14c8" opacity="0.54"/>
<circle cx="157.4" cy="99.7" r="0.98" fill="#4a18e8" opacity="0.54"/>
<circle cx="104.9" cy="70.5" r="0.96" fill="#2a14c8" opacity="0.87"/>
<circle cx="128.9" cy="98.7" r="1.01" fill="#5a20ff" opacity="0.65"/>
<circle cx="144.0" cy="103.9" r="0.93" fill="#5a20ff" opacity="0.48"/>
<circle cx="90.9" cy="91.2" r="0.98" fill="#4a18e8" opacity="0.60"/>
<circle cx="99.5" cy="81.1" r="0.87" fill="#2a14c8" opacity="0.42"/>
<circle cx="115.7" cy="112.6" r="0.98" fill="#5a20ff" opacity="0.88"/>
<circle cx="175.5" cy="143.5" r="0.80" fill="#3a18ff" opacity="0.66"/>
<circle cx="162.6" cy="106.9" r="0.89" fill="#3a18ff" opacity="0.70"/>
<circle cx="166.9" cy="90.0" r="1.01" fill="#5a20ff" opacity="0.82"/>
<circle cx="172.6" cy="101.7" r="0.63" fill="#4a18e8" opacity="0.61"/>
<circle cx="176.2" cy="126.9" r="0.69" fill="#3a18ff" opacity="0.84"/>
<circle cx="147.4" cy="128.9" r="0.70" fill="#5a20ff" opacity="0.82"/>
<circle cx="135.1" cy="100.9" r="1.14" fill="#5a20ff" opacity="0.46"/>
<circle cx="180.7" cy="123.5" r="1.23" fill="#5a20ff" opacity="0.42"/>
<circle cx="127.4" cy="99.6" r="0.90" fill="#3a18ff" opacity="0.60"/>
<circle cx="164.1" cy="65.5" r="1.19" fill="#5a20ff" opacity="0.88"/>
<circle cx="147.2" cy="77.3" r="1.17" fill="#3a18ff" opacity="0.85"/>
<circle cx="152.5" cy="123.2" r="0.70" fill="#3a18ff" opacity="0.86"/>
<circle cx="158.7" cy="87.7" r="1.13" fill="#2a14c8" opacity="0.48"/>
<circle cx="89.0" cy="87.8" r="0.85" fill="#3a18ff" opacity="0.45"/>
<circle cx="120.9" cy="121.5" r="0.65" fill="#2a14c8" opacity="0.84"/>
<circle cx="162.4" cy="137.9" r="1.20" fill="#5a20ff" opacity="0.75"/>
<circle cx="168.5" cy="129.2" r="0.92" fill="#2a14c8" opacity="0.80"/>
<circle cx="103.0" cy="89.6" r="0.79" fill="#5a20ff" opacity="0.55"/>
<circle cx="137.1" cy="115.4" r="0.76" fill="#2a14c8" opacity="0.90"/>
<circle cx="155.2" cy="85.5" r="1.18" fill="#4a18e8" opacity="0.48"/>
<circle cx="103.5" cy="79.8" r="0.78" fill="#5a20ff" opacity="0.90"/>
<circle cx="174.4" cy="135.5" r="1.18" fill="#5a20ff" opacity="0.71"/>
<circle cx="150.4" cy="103.7" r="1.21" fill="#5a20ff" opacity="0.41"/>
<circle cx="146.3" cy="88.0" r="1.00" fill="#4a18e8" opacity="0.81"/>
<circle cx="139.7" cy="98.7" r="0.64" fill="#4a18e8" opacity="0.73"/>
<circle cx="160.4" cy="107.5" r="0.91" fill="#3a18ff" opacity="0.41"/>
<circle cx="111.2" cy="76.0" r="1.09" fill="#2a14c8" opacity="0.65"/>
<circle cx="155.2" cy="93.0" r="0.89" fill="#4a18e8" opacity="0.90"/>
<circle cx="165.0" cy="135.1" r="1.08" fill="#4a18e8" opacity="0.85"/>
<circle cx="98.8" cy="114.3" r="0.66" fill="#3a18ff" opacity="0.76"/>
<circle cx="160.3" cy="104.4" r="1.19" fill="#4a18e8" opacity="0.79"/>
<circle cx="98.4" cy="86.6" r="0.71" fill="#3a18ff" opacity="0.82"/>
<circle cx="149.3" cy="112.4" r="0.73" fill="#4a18e8" opacity="0.53"/>
<circle cx="96.5" cy="81.0" r="0.87" fill="#5a20ff" opacity="0.81"/>
<circle cx="113.3" cy="84.6" r="1.05" fill="#3a18ff" opacity="0.67"/>
<circle cx="168.1" cy="93.2" r="1.11" fill="#2a14c8" opacity="0.69"/>
<circle cx="146.2" cy="111.7" r="1.12" fill="#2a14c8" opacity="0.61"/>
<circle cx="109.8" cy="110.0" r="0.84" fill="#5a20ff" opacity="0.71"/>
<circle cx="132.1" cy="97.0" r="1.06" fill="#5a20ff" opacity="0.52"/>
<circle cx="132.6" cy="100.0" r="0.71" fill="#5a20ff" opacity="0.41"/>
<circle cx="140.2" cy="111.9" r="1.17" fill="#3a18ff" opacity="0.85"/>
<circle cx="136.2" cy="85.2" r="0.96" fill="#2a14c8" opacity="0.55"/>
<circle cx="178.4" cy="121.3" r="1.05" fill="#4a18e8" opacity="0.44"/>
<circle cx="154.5" cy="109.9" r="0.87" fill="#5a20ff" opacity="0.87"/>
<circle cx="118.6" cy="73.8" r="0.83" fill="#4a18e8" opacity="0.59"/>
<circle cx="88.5" cy="90.0" r="1.10" fill="#3a18ff" opacity="0.74"/>
<circle cx="112.7" cy="80.3" r="0.83" fill="#4a18e8" opacity="0.82"/>
<circle cx="138.6" cy="131.7" r="0.73" fill="#5a20ff" opacity="0.60"/>
<circle cx="122.9" cy="87.0" r="1.19" fill="#5a20ff" opacity="0.82"/>
<circle cx="115.1" cy="87.1" r="0.98" fill="#3a18ff" opacity="0.89"/>
<circle cx="103.5" cy="78.3" r="1.19" fill="#2a14c8" opacity="0.57"/>
<circle cx="109.9" cy="85.1" r="0.87" fill="#2a14c8" opacity="0.49"/>
<circle cx="133.6" cy="106.1" r="0.85" fill="#3a18ff" opacity="0.84"/>
<circle cx="165.1" cy="117.8" r="1.18" fill="#5a20ff" opacity="0.44"/>
<circle cx="165.5" cy="88.9" r="0.63" fill="#2a14c8" opacity="0.64"/>
<circle cx="113.6" cy="108.4" r="0.65" fill="#3a18ff" opacity="0.55"/>
<circle cx="97.9" cy="87.5" r="0.81" fill="#5a20ff" opacity="0.54"/>
<circle cx="149.0" cy="66.9" r="1.03" fill="#3a18ff" opacity="0.41"/>
<circle cx="162.3" cy="70.4" r="0.68" fill="#4a18e8" opacity="0.77"/>
<circle cx="144.5" cy="91.5" r="1.14" fill="#2a14c8" opacity="0.52"/>
<circle cx="124.3" cy="77.4" r="1.10" fill="#4a18e8" opacity="0.74"/>
<circle cx="175.1" cy="78.1" r="0.71" fill="#4a18e8" opacity="0.47"/>
<circle cx="165.5" cy="101.6" r="1.05" fill="#3a18ff" opacity="0.51"/>
<circle cx="104.3" cy="68.3" r="0.94" fill="#2a14c8" opacity="0.68"/>
<circle cx="171.3" cy="135.3" r="0.91" fill="#2a14c8" opacity="0.87"/>
<circle cx="146.7" cy="114.8" r="0.65" fill="#3a18ff" opacity="0.88"/>
<circle cx="171.7" cy="123.5" r="0.89" fill="#2a14c8" opacity="0.73"/>
<circle cx="160.7" cy="87.2" r="1.05" fill="#3a18ff" opacity="0.70"/>
<circle cx="146.5" cy="116.4" r="0.85" fill="#2a14c8" opacity="0.68"/>
<circle cx="166.5" cy="126.2" r="1.02" fill="#2a14c8" opacity="0.51"/>
<circle cx="166.3" cy="123.8" r="1.14" fill="#5a20ff" opacity="0.64"/>
<circle cx="124.0" cy="82.3" r="0.61" fill="#4a18e8" opacity="0.82"/>
<circle cx="95.5" cy="111.8" r="1.04" fill="#5a20ff" opacity="0.65"/>
<circle cx="99.7" cy="106.6" r="0.86" fill="#4a18e8" opacity="0.69"/>
<circle cx="103.6" cy="75.2" r="1.16" fill="#3a18ff" opacity="0.84"/>
<circle cx="110.0" cy="87.5" r="0.89" fill="#4a18e8" opacity="0.44"/>
<circle cx="150.2" cy="142.7" r="0.81" fill="#4a18e8" opacity="0.44"/>
<circle cx="149.2" cy="86.5" r="1.20" fill="#2a14c8" opacity="0.63"/>
<circle cx="108.8" cy="93.6" r="1.09" fill="#5a20ff" opacity="0.59"/>
<circle cx="156.2" cy="105.7" r="0.78" fill="#5a20ff" opacity="0.74"/>
<circle cx="106.6" cy="116.8" r="1.07" fill="#4a18e8" opacity="0.71"/>
<circle cx="115.9" cy="107.5" r="0.63" fill="#5a20ff" opacity="0.71"/>
<circle cx="99.2" cy="107.5" r="0.72" fill="#4a18e8" opacity="0.53"/>
<circle cx="181.8" cy="120.2" r="1.01" fill="#2a14c8" opacity="0.45"/>
<circle cx="153.5" cy="71.4" r="0.64" fill="#4a18e8" opacity="0.66"/>
<circle cx="91.0" cy="87.7" r="0.74" fill="#5a20ff" opacity="0.82"/>
<circle cx="150.8" cy="103.1" r="0.80" fill="#3a18ff" opacity="0.45"/>
<circle cx="158.0" cy="88.7" r="0.73" fill="#4a18e8" opacity="0.54"/>
<circle cx="169.9" cy="120.8" r="1.15" fill="#5a20ff" opacity="0.56"/>
<circle cx="172.5" cy="102.0" r="1.01" fill="#2a14c8" opacity="0.73"/>
<circle cx="164.3" cy="134.9" r="1.13" fill="#4a18e8" opacity="0.76"/>
<circle cx="129.6" cy="104.3" r="0.90" fill="#3a18ff" opacity="0.59"/>
<circle cx="94.2" cy="76.3" r="0.71" fill="#2a14c8" opacity="0.79"/>
<circle cx="164.3" cy="79.0" r="0.76" fill="#5a20ff" opacity="0.42"/>
<circle cx="164.7" cy="106.7" r="0.62" fill="#2a14c8" opacity="0.84"/>
<circle cx="136.1" cy="94.2" r="1.11" fill="#5a20ff" opacity="0.56"/>
<circle cx="107.7" cy="111.3" r="1.07" fill="#3a18ff" opacity="0.55"/>
<circle cx="142.3" cy="107.9" r="0.87" fill="#5a20ff" opacity="0.73"/>
<circle cx="118.3" cy="86.4" r="0.69" fill="#2a14c8" opacity="0.57"/>
<circle cx="135.6" cy="101.4" r="0.85" fill="#5a20ff" opacity="0.78"/>
<circle cx="104.7" cy="81.0" r="1.09" fill="#5a20ff" opacity="0.65"/>
<circle cx="140.3" cy="102.6" r="1.04" fill="#4a18e8" opacity="0.50"/>
<circle cx="136.1" cy="126.2" r="1.25" fill="#4a18e8" opacity="0.63"/>
<circle cx="133.6" cy="111.0" r="0.62" fill="#3a18ff" opacity="0.57"/>
<circle cx="161.1" cy="85.3" r="1.22" fill="#3a18ff" opacity="0.77"/>
<circle cx="159.2" cy="133.5" r="1.06" fill="#2a14c8" opacity="0.54"/>
<circle cx="145.7" cy="130.3" r="1.11" fill="#4a18e8" opacity="0.51"/>
<circle cx="91.8" cy="79.0" r="1.12" fill="#2a14c8" opacity="0.84"/>
<circle cx="139.6" cy="112.8" r="0.98" fill="#2a14c8" opacity="0.45"/>
<circle cx="121.5" cy="117.0" r="0.71" fill="#5a20ff" opacity="0.74"/>
<circle cx="145.8" cy="108.5" r="1.02" fill="#2a14c8" opacity="0.45"/>
<circle cx="144.1" cy="113.0" r="0.76" fill="#3a18ff" opacity="0.54"/>
<circle cx="110.5" cy="65.8" r="0.69" fill="#4a18e8" opacity="0.87"/>
<circle cx="95.1" cy="69.5" r="1.16" fill="#2a14c8" opacity="0.61"/>
<circle cx="106.6" cy="103.2" r="0.66" fill="#4a18e8" opacity="0.68"/>
<circle cx="139.3" cy="80.7" r="0.98" fill="#4a18e8" opacity="0.64"/>
<circle cx="148.6" cy="93.4" r="1.19" fill="#3a18ff" opacity="0.65"/>
<circle cx="106.5" cy="82.9" r="0.68" fill="#2a14c8" opacity="0.69"/>
<circle cx="103.7" cy="115.2" r="0.68" fill="#3a18ff" opacity="0.75"/>
<circle cx="135.0" cy="90.7" r="1.02" fill="#5a20ff" opacity="0.83"/>
<circle cx="150.1" cy="71.7" r="0.75" fill="#4a18e8" opacity="0.75"/>
<circle cx="126.1" cy="113.2" r="0.95" fill="#1a14d0" opacity="0.56"/>
<circle cx="128.7" cy="126.6" r="0.75" fill="#1a14d0" opacity="0.64"/>
<circle cx="91.5" cy="98.5" r="0.70" fill="#1a14d0" opacity="0.43"/>
<circle cx="99.8" cy="97.8" r="0.72" fill="#1a14d0" opacity="0.38"/>
<circle cx="104.7" cy="90.3" r="0.92" fill="#1a14d0" opacity="0.64"/>
<circle cx="145.7" cy="93.7" r="0.75" fill="#1a14d0" opacity="0.35"/>
<circle cx="164.0" cy="101.2" r="0.76" fill="#1a14d0" opacity="0.47"/>
<circle cx="92.5" cy="103.8" r="0.81" fill="#1a14d0" opacity="0.68"/>
<circle cx="136.9" cy="115.4" r="0.66" fill="#1a14d0" opacity="0.59"/>
<circle cx="164.2" cy="104.0" r="0.53" fill="#1a14d0" opacity="0.43"/>
<circle cx="92.1" cy="109.0" r="0.56" fill="#1a14d0" opacity="0.30"/>
<circle cx="151.3" cy="101.9" r="0.61" fill="#1a14d0" opacity="0.34"/>
<circle cx="120.1" cy="133.2" r="0.61" fill="#1a14d0" opacity="0.52"/>
<circle cx="158.3" cy="129.0" r="0.65" fill="#1a14d0" opacity="0.69"/>
<circle cx="111.4" cy="111.7" r="0.57" fill="#1a14d0" opacity="0.59"/>
<circle cx="119.0" cy="106.6" r="0.70" fill="#1a14d0" opacity="0.56"/>
<circle cx="157.2" cy="111.5" r="0.51" fill="#1a14d0" opacity="0.59"/>
<circle cx="98.3" cy="96.5" r="0.56" fill="#1a14d0" opacity="0.64"/>
<circle cx="119.9" cy="97.6" r="0.73" fill="#1a14d0" opacity="0.39"/>
<circle cx="151.8" cy="110.3" r="0.77" fill="#1a14d0" opacity="0.38"/>
<circle cx="149.1" cy="84.5" r="0.84" fill="#1a14d0" opacity="0.65"/>
<circle cx="110.0" cy="90.1" r="0.89" fill="#1a14d0" opacity="0.59"/>
<circle cx="153.9" cy="92.2" r="0.69" fill="#1a14d0" opacity="0.69"/>
<circle cx="116.6" cy="93.1" r="0.96" fill="#1a14d0" opacity="0.38"/>
<circle cx="131.7" cy="119.1" r="0.96" fill="#1a14d0" opacity="0.64"/>
<circle cx="158.7" cy="96.1" r="0.91" fill="#1a14d0" opacity="0.68"/>
<circle cx="116.3" cy="118.4" r="0.61" fill="#1a14d0" opacity="0.41"/>
<circle cx="136.4" cy="108.5" r="0.84" fill="#1a14d0" opacity="0.35"/>
<circle cx="114.2" cy="130.7" r="0.64" fill="#1a14d0" opacity="0.41"/>
<circle cx="104.5" cy="125.0" r="0.83" fill="#1a14d0" opacity="0.66"/>
<circle cx="144.3" cy="129.1" r="0.66" fill="#1a14d0" opacity="0.58"/>
<circle cx="96.5" cy="86.7" r="0.88" fill="#1a14d0" opacity="0.52"/>
<circle cx="133.0" cy="124.1" r="0.92" fill="#1a14d0" opacity="0.51"/>
<circle cx="126.5" cy="105.8" r="0.91" fill="#1a14d0" opacity="0.33"/>
<circle cx="109.1" cy="83.1" r="0.82" fill="#1a14d0" opacity="0.64"/>
<circle cx="117.2" cy="102.2" r="0.71" fill="#1a14d0" opacity="0.61"/>
<circle cx="108.4" cy="122.9" r="0.65" fill="#1a14d0" opacity="0.50"/>
<circle cx="151.1" cy="80.5" r="0.70" fill="#1a14d0" opacity="0.67"/>
<circle cx="137.4" cy="134.1" r="0.66" fill="#1a14d0" opacity="0.52"/>
<circle cx="157.9" cy="131.3" r="0.64" fill="#1a14d0" opacity="0.36"/>
<circle cx="102.6" cy="78.4" r="0.54" fill="#1a14d0" opacity="0.45"/>
<circle cx="130.2" cy="116.3" r="0.60" fill="#1a14d0" opacity="0.64"/>
<circle cx="155.1" cy="112.0" r="0.86" fill="#1a14d0" opacity="0.40"/>
<circle cx="138.6" cy="113.8" r="0.66" fill="#1a14d0" opacity="0.63"/>
<circle cx="95.3" cy="131.4" r="0.77" fill="#1a14d0" opacity="0.36"/>
<circle cx="118.4" cy="107.2" r="0.59" fill="#1a14d0" opacity="0.33"/>
<circle cx="153.5" cy="86.0" r="0.90" fill="#1a14d0" opacity="0.49"/>
<circle cx="159.0" cy="132.8" r="0.99" fill="#1a14d0" opacity="0.60"/>
<circle cx="117.9" cy="128.2" r="0.65" fill="#1a14d0" opacity="0.33"/>
<circle cx="165.0" cy="88.5" r="0.92" fill="#1a14d0" opacity="0.66"/>
<circle cx="152.8" cy="128.2" r="0.66" fill="#1a14d0" opacity="0.50"/>
<circle cx="126.3" cy="113.9" r="0.56" fill="#1a14d0" opacity="0.54"/>
<circle cx="150.1" cy="79.2" r="0.75" fill="#1a14d0" opacity="0.42"/>
<circle cx="142.5" cy="84.3" r="0.87" fill="#1a14d0" opacity="0.50"/>
<circle cx="165.5" cy="102.4" r="0.58" fill="#1a14d0" opacity="0.56"/>
<circle cx="162.5" cy="125.3" r="0.64" fill="#1a14d0" opacity="0.49"/>
<circle cx="121.6" cy="80.0" r="0.67" fill="#1a14d0" opacity="0.64"/>
<circle cx="138.9" cy="126.6" r="0.50" fill="#1a14d0" opacity="0.49"/>
<circle cx="149.6" cy="84.1" r="0.92" fill="#1a14d0" opacity="0.68"/>
<circle cx="128.0" cy="96.6" r="0.64" fill="#1a14d0" opacity="0.56"/>
<circle cx="157.4" cy="82.4" r="1.62" fill="#e818d8" opacity="0.81"/>
<circle cx="161.4" cy="106.1" r="1.12" fill="#e818d8" opacity="0.87"/>
<circle cx="149.7" cy="105.2" r="1.80" fill="#e818d8" opacity="0.98"/>
<circle cx="156.4" cy="98.0" r="1.17" fill="#e818d8" opacity="0.73"/>
<circle cx="137.9" cy="117.7" r="1.45" fill="#ff28a0" opacity="0.91"/>
<circle cx="169.1" cy="78.2" r="1.40" fill="#e818d8" opacity="0.75"/>
<circle cx="98.7" cy="80.7" r="1.39" fill="#ff14d0" opacity="0.87"/>
<circle cx="96.0" cy="87.1" r="0.97" fill="#ff14d0" opacity="0.88"/>
<circle cx="163.2" cy="120.4" r="1.06" fill="#ff28a0" opacity="0.76"/>
<circle cx="143.7" cy="106.1" r="1.69" fill="#ff28a0" opacity="0.65"/>
<circle cx="103.2" cy="111.7" r="0.90" fill="#ff14d0" opacity="0.72"/>
<circle cx="155.3" cy="108.7" r="1.03" fill="#ff14d0" opacity="0.89"/>
<circle cx="133.7" cy="88.5" r="1.66" fill="#e818d8" opacity="0.66"/>
<circle cx="167.9" cy="115.0" r="1.44" fill="#ff14d0" opacity="0.91"/>
<circle cx="134.8" cy="103.2" r="1.73" fill="#ff28a0" opacity="0.98"/>
<circle cx="113.1" cy="112.3" r="1.64" fill="#ff14d0" opacity="0.74"/>
<circle cx="120.7" cy="111.5" r="1.15" fill="#ff28a0" opacity="0.95"/>
<circle cx="171.1" cy="81.2" r="1.14" fill="#ff28a0" opacity="0.84"/>
<circle cx="170.9" cy="103.2" r="1.50" fill="#e818d8" opacity="0.88"/>
<circle cx="106.4" cy="102.1" r="1.64" fill="#e818d8" opacity="0.61"/>
<circle cx="156.4" cy="114.2" r="1.89" fill="#ff14d0" opacity="0.78"/>
<circle cx="105.5" cy="80.6" r="1.66" fill="#e818d8" opacity="0.95"/>
<circle cx="161.7" cy="136.1" r="1.98" fill="#ff14d0" opacity="0.71"/>
<circle cx="163.9" cy="124.8" r="1.31" fill="#ff28a0" opacity="0.89"/>
<circle cx="107.6" cy="85.8" r="1.55" fill="#ff28a0" opacity="0.86"/>
<circle cx="157.1" cy="82.7" r="1.67" fill="#ff14d0" opacity="0.91"/>
<circle cx="138.9" cy="82.4" r="1.42" fill="#e818d8" opacity="0.80"/>
<circle cx="112.7" cy="126.6" r="1.57" fill="#ff28a0" opacity="0.64"/>
<circle cx="146.0" cy="95.9" r="1.28" fill="#ff28a0" opacity="0.72"/>
<circle cx="159.2" cy="99.4" r="1.48" fill="#e818d8" opacity="0.77"/>
<circle cx="104.1" cy="74.6" r="1.39" fill="#ff28a0" opacity="0.66"/>
<circle cx="154.3" cy="116.7" r="1.56" fill="#ff14d0" opacity="0.95"/>
<circle cx="112.4" cy="122.8" r="1.21" fill="#e818d8" opacity="0.92"/>
<circle cx="150.6" cy="105.3" r="1.95" fill="#e818d8" opacity="0.88"/>
<circle cx="173.0" cy="92.4" r="0.91" fill="#ff28a0" opacity="0.76"/>
<circle cx="102.0" cy="103.6" r="1.40" fill="#ff28a0" opacity="0.85"/>
<circle cx="173.1" cy="134.8" r="1.32" fill="#ff14d0" opacity="0.81"/>
<circle cx="172.7" cy="121.7" r="1.85" fill="#e818d8" opacity="0.89"/>
<circle cx="148.9" cy="130.1" r="1.20" fill="#e818d8" opacity="0.92"/>
<circle cx="156.9" cy="87.5" r="1.90" fill="#e818d8" opacity="0.86"/>
<circle cx="178.9" cy="135.8" r="1.70" fill="#ff14d0" opacity="0.79"/>
<circle cx="124.2" cy="125.5" r="1.39" fill="#ff28a0" opacity="0.74"/>
<circle cx="108.8" cy="103.9" r="1.01" fill="#e818d8" opacity="0.83"/>
<circle cx="153.1" cy="104.8" r="1.66" fill="#ff14d0" opacity="0.98"/>
<circle cx="151.3" cy="134.4" r="1.47" fill="#ff28a0" opacity="0.97"/>
<circle cx="137.3" cy="104.6" r="1.42" fill="#ff14d0" opacity="0.94"/>
<circle cx="113.6" cy="84.3" r="1.07" fill="#ff14d0" opacity="0.73"/>
<circle cx="106.6" cy="105.7" r="1.21" fill="#ff14d0" opacity="0.91"/>
<circle cx="147.8" cy="126.4" r="1.96" fill="#ff14d0" opacity="0.91"/>
<circle cx="160.1" cy="125.5" r="1.57" fill="#ff28a0" opacity="0.60"/>
<circle cx="105.4" cy="123.6" r="1.65" fill="#ff28a0" opacity="0.76"/>
<circle cx="124.8" cy="133.2" r="1.20" fill="#ff28a0" opacity="0.90"/>
<circle cx="109.4" cy="79.7" r="1.23" fill="#e818d8" opacity="0.61"/>
<circle cx="120.1" cy="81.6" r="1.03" fill="#e818d8" opacity="0.90"/>
<circle cx="145.7" cy="129.4" r="1.80" fill="#ff14d0" opacity="0.92"/>
<circle cx="156.7" cy="80.9" r="0.97" fill="#ff14d0" opacity="0.85"/>
<circle cx="140.4" cy="108.0" r="1.62" fill="#ff28a0" opacity="0.90"/>
<circle cx="132.4" cy="96.6" r="1.92" fill="#ff28a0" opacity="0.98"/>
<circle cx="162.7" cy="83.3" r="1.16" fill="#e818d8" opacity="0.64"/>
<circle cx="114.0" cy="82.1" r="1.55" fill="#e818d8" opacity="0.79"/>
<circle cx="160.2" cy="85.6" r="1.43" fill="#ff28a0" opacity="0.93"/>
<circle cx="171.2" cy="137.5" r="1.05" fill="#e818d8" opacity="1.00"/>
<circle cx="138.7" cy="103.9" r="1.72" fill="#ff14d0" opacity="0.78"/>
<circle cx="110.9" cy="82.9" r="1.37" fill="#e818d8" opacity="0.99"/>
<circle cx="148.1" cy="89.3" r="1.00" fill="#ff28a0" opacity="0.90"/>
<circle cx="119.6" cy="131.2" r="1.78" fill="#ff14d0" opacity="0.97"/>
<circle cx="107.3" cy="115.7" r="1.93" fill="#ff14d0" opacity="0.73"/>
<circle cx="149.7" cy="130.9" r="1.03" fill="#ff28a0" opacity="0.62"/>
<circle cx="98.2" cy="77.6" r="1.19" fill="#ff28a0" opacity="0.96"/>
<circle cx="102.1" cy="116.4" r="1.63" fill="#ff14d0" opacity="0.64"/>
<circle cx="147.2" cy="103.7" r="1.53" fill="#e818d8" opacity="0.83"/>
<circle cx="98.0" cy="131.2" r="1.42" fill="#ff14d0" opacity="0.76"/>
<circle cx="135.9" cy="109.4" r="1.70" fill="#ff28a0" opacity="0.94"/>
<circle cx="164.4" cy="123.5" r="1.20" fill="#ff14d0" opacity="0.64"/>
<circle cx="107.7" cy="130.9" r="1.81" fill="#ff28a0" opacity="0.72"/>
</g></g>
<rect x="62.20" y="69.00" width="21.00" height="2.90" fill="#fff"/>
<rect x="142.00" y="67.00" width="20.70" height="2.70" fill="#fff"/>
<rect x="62.20" y="129.30" width="21.00" height="2.90" fill="#fff"/>
<rect x="142.00" y="129.30" width="21.00" height="2.90" fill="#fff"/>
<text x="7.30" y="46.00" font-size="8.2" text-anchor="middle" textLength="29.20" lengthAdjust="spacingAndGlyphs" transform="rotate(-90 7.30 46.00)">Control</text>
<text x="7.30" y="103.80" font-size="8.2" text-anchor="middle" textLength="26.30" lengthAdjust="spacingAndGlyphs" transform="rotate(-90 7.30 103.80)">NaOX</text>
<text x="49.20" y="145.60" font-size="8.2" text-anchor="middle" textLength="29.90" lengthAdjust="spacingAndGlyphs">Primary</text>
<text x="49.20" y="154.70" font-size="8.2" text-anchor="middle">Hep</text>
<text x="128.70" y="145.60" font-size="8.2" text-anchor="middle">HepG2</text>
<text x="128.70" y="154.70" font-size="8.2" text-anchor="middle">cells</text>
<text transform="translate(182.50 9.40) scale(1.07 1)" font-size="11.5" font-weight="bold" fill="#000" stroke="#000" stroke-width="0.3">b</text>
<line x1="220.50" y1="71.70" x2="301.50" y2="71.70" stroke="#e2e2e2" stroke-width="0.8"/>
<line x1="220.50" y1="13.10" x2="220.50" y2="130.30" stroke="#8c8c8c" stroke-width="0.9"/>
<line x1="217.50" y1="130.30" x2="220.50" y2="130.30" stroke="#8c8c8c" stroke-width="0.9"/>
<line x1="217.50" y1="101.00" x2="220.50" y2="101.00" stroke="#8c8c8c" stroke-width="0.9"/>
<line x1="217.50" y1="71.70" x2="220.50" y2="71.70" stroke="#8c8c8c" stroke-width="0.9"/>
<line x1="217.50" y1="42.40" x2="220.50" y2="42.40" stroke="#8c8c8c" stroke-width="0.9"/>
<line x1="217.50" y1="13.10" x2="220.50" y2="13.10" stroke="#8c8c8c" stroke-width="0.9"/>
<text x="214.30" y="15.66" font-size="7.3" text-anchor="end">2</text>
<text x="214.30" y="74.26" font-size="7.3" text-anchor="end">1</text>
<text x="214.30" y="132.86" font-size="7.3" text-anchor="end">0</text>
<line x1="217.50" y1="130.30" x2="297.00" y2="130.30" stroke="#8c8c8c" stroke-width="0.9"/>
<line x1="242.00" y1="130.30" x2="242.00" y2="133.30" stroke="#bbb" stroke-width="0.9"/>
<line x1="278.00" y1="130.30" x2="278.00" y2="133.30" stroke="#bbb" stroke-width="0.9"/>
<line x1="227.50" y1="48.10" x2="255.50" y2="48.10" stroke="#1a1a1a" stroke-width="0.9" stroke-dasharray="2.2,1.0,0.8,1.0"/>
<line x1="242.00" y1="45.20" x2="242.00" y2="51.00" stroke="#000" stroke-width="1.0"/>
<line x1="239.80" y1="45.20" x2="244.20" y2="45.20" stroke="#000" stroke-width="1.0"/>
<line x1="239.80" y1="51.00" x2="244.20" y2="51.00" stroke="#000" stroke-width="1.0"/>
<circle cx="238.30" cy="43.80" r="2.2" fill="#f00" stroke="#000" stroke-width="0.85"/>
<circle cx="245.90" cy="43.40" r="2.2" fill="#f00" stroke="#000" stroke-width="0.85"/>
<circle cx="238.30" cy="54.70" r="2.2" fill="#f00" stroke="#000" stroke-width="0.85"/>
<circle cx="245.90" cy="52.00" r="2.2" fill="#f00" stroke="#000" stroke-width="0.85"/>
<line x1="263.90" y1="37.50" x2="291.50" y2="37.50" stroke="#1a1a1a" stroke-width="0.9" stroke-dasharray="2.2,1.0,0.8,1.0"/>
<line x1="278.10" y1="33.60" x2="278.10" y2="41.10" stroke="#000" stroke-width="1.0"/>
<line x1="275.90" y1="33.60" x2="280.30" y2="33.60" stroke="#000" stroke-width="1.0"/>
<line x1="275.90" y1="41.10" x2="280.30" y2="41.10" stroke="#000" stroke-width="1.0"/>
<circle cx="274.40" cy="32.90" r="2.2" fill="#f00" stroke="#000" stroke-width="0.85"/>
<circle cx="282.30" cy="31.70" r="2.2" fill="#f00" stroke="#000" stroke-width="0.85"/>
<circle cx="282.30" cy="36.90" r="2.2" fill="#f00" stroke="#000" stroke-width="0.85"/>
<circle cx="278.10" cy="49.00" r="2.2" fill="#f00" stroke="#000" stroke-width="0.85"/>
<text x="222.60" y="30.00" font-size="8.2" textLength="43.40" lengthAdjust="spacingAndGlyphs"><tspan font-style="italic">P</tspan> = 0.0002</text>
<text x="258.10" y="17.70" font-size="8.2" textLength="41.70" lengthAdjust="spacingAndGlyphs"><tspan font-style="italic">P</tspan> = 0.0001</text>
<text x="190.60" y="72.00" font-size="8.2" text-anchor="middle" textLength="86.90" lengthAdjust="spacingAndGlyphs" transform="rotate(-90 190.60 72.00)">Fold Nile red intensity</text>
<text x="201.20" y="72.00" font-size="8.2" text-anchor="middle" textLength="86.90" lengthAdjust="spacingAndGlyphs" transform="rotate(-90 201.20 72.00)">(AFU) NaOX to control</text>
<text x="242.00" y="145.60" font-size="8.2" text-anchor="middle" textLength="29.90" lengthAdjust="spacingAndGlyphs">Primary</text>
<text x="242.00" y="154.70" font-size="8.2" text-anchor="middle">Hep</text>
<text x="278.00" y="145.60" font-size="8.2" text-anchor="middle" textLength="27.50" lengthAdjust="spacingAndGlyphs">HepG2</text>
<text x="278.00" y="154.70" font-size="8.2" text-anchor="middle">cells</text>
<text transform="translate(317.50 8.80) scale(1.07 1)" font-size="11.5" font-weight="bold" fill="#000" stroke="#000" stroke-width="0.3">c</text>
<line x1="351.30" y1="52.23" x2="428.50" y2="52.23" stroke="#e2e2e2" stroke-width="0.8"/>
<line x1="351.30" y1="13.09" x2="351.30" y2="130.50" stroke="#8c8c8c" stroke-width="0.9"/>
<line x1="348.30" y1="130.50" x2="351.30" y2="130.50" stroke="#8c8c8c" stroke-width="0.9"/>
<line x1="348.30" y1="91.37" x2="351.30" y2="91.37" stroke="#8c8c8c" stroke-width="0.9"/>
<line x1="348.30" y1="52.23" x2="351.30" y2="52.23" stroke="#8c8c8c" stroke-width="0.9"/>
<line x1="348.30" y1="13.09" x2="351.30" y2="13.09" stroke="#8c8c8c" stroke-width="0.9"/>
<text x="344.70" y="15.65" font-size="7.3" text-anchor="end">1.5</text>
<text x="344.70" y="54.79" font-size="7.3" text-anchor="end">1.0</text>
<text x="344.70" y="93.92" font-size="7.3" text-anchor="end">0.5</text>
<text x="344.70" y="133.06" font-size="7.3" text-anchor="end">0</text>
<line x1="348.30" y1="130.50" x2="428.50" y2="130.50" stroke="#8c8c8c" stroke-width="0.9"/>
<line x1="372.90" y1="130.50" x2="372.90" y2="134.00" stroke="#bbb" stroke-width="0.9"/>
<line x1="409.70" y1="130.50" x2="409.70" y2="134.00" stroke="#bbb" stroke-width="0.9"/>
<line x1="362.00" y1="58.90" x2="384.00" y2="58.90" stroke="#1a1a1a" stroke-width="0.9" stroke-dasharray="2.2,1.0,0.8,1.0"/>
<line x1="372.80" y1="57.30" x2="372.80" y2="60.30" stroke="#000" stroke-width="1.0"/>
<line x1="370.60" y1="57.30" x2="375.00" y2="57.30" stroke="#000" stroke-width="1.0"/>
<line x1="370.60" y1="60.30" x2="375.00" y2="60.30" stroke="#000" stroke-width="1.0"/>
<circle cx="360.10" cy="57.10" r="2.2" fill="#f00" stroke="#000" stroke-width="0.85"/>
<circle cx="368.70" cy="56.10" r="2.2" fill="#f00" stroke="#000" stroke-width="0.85"/>
<circle cx="368.70" cy="64.30" r="2.2" fill="#f00" stroke="#000" stroke-width="0.85"/>
<circle cx="377.10" cy="60.40" r="2.2" fill="#f00" stroke="#000" stroke-width="0.85"/>
<circle cx="385.50" cy="56.10" r="2.2" fill="#f00" stroke="#000" stroke-width="0.85"/>
<line x1="395.00" y1="66.60" x2="424.00" y2="66.60" stroke="#1a1a1a" stroke-width="0.9" stroke-dasharray="2.2,1.2"/>
<line x1="409.60" y1="63.00" x2="409.60" y2="70.20" stroke="#000" stroke-width="1.0"/>
<line x1="407.40" y1="63.00" x2="411.80" y2="63.00" stroke="#000" stroke-width="1.0"/>
<line x1="407.40" y1="70.20" x2="411.80" y2="70.20" stroke="#000" stroke-width="1.0"/>
<circle cx="401.60" cy="67.10" r="2.2" fill="#f00" stroke="#000" stroke-width="0.85"/>
<circle cx="409.50" cy="57.80" r="2.2" fill="#f00" stroke="#000" stroke-width="0.85"/>
<circle cx="409.50" cy="65.90" r="2.2" fill="#f00" stroke="#000" stroke-width="0.85"/>
<circle cx="409.50" cy="72.40" r="2.2" fill="#f00" stroke="#000" stroke-width="0.85"/>
<circle cx="409.50" cy="80.10" r="2.2" fill="#f00" stroke="#000" stroke-width="0.85"/>
<circle cx="417.40" cy="54.30" r="2.2" fill="#f00" stroke="#000" stroke-width="0.85"/>
<circle cx="417.40" cy="68.70" r="2.2" fill="#f00" stroke="#000" stroke-width="0.85"/>
<text x="352.90" y="30.70" font-size="8.2" textLength="43.10" lengthAdjust="spacingAndGlyphs"><tspan font-style="italic">P</tspan> = 0.0038</text>
<text x="387.00" y="46.30" font-size="8.2" textLength="44.10" lengthAdjust="spacingAndGlyphs"><tspan font-style="italic">P</tspan> = 0.0009</text>
<text x="325.20" y="72.70" font-size="8.2" text-anchor="middle" textLength="42.00" lengthAdjust="spacingAndGlyphs" transform="rotate(-90 325.20 72.70)"><tspan>Fold </tspan><tspan font-style="italic">Ppara</tspan></text>
<text x="372.90" y="145.60" font-size="8.2" text-anchor="middle" textLength="29.90" lengthAdjust="spacingAndGlyphs">Primary</text>
<text x="372.90" y="154.70" font-size="8.2" text-anchor="middle">Hep</text>
<text x="409.70" y="145.60" font-size="8.2" text-anchor="middle" textLength="27.50" lengthAdjust="spacingAndGlyphs">HepG2</text>
<text x="409.70" y="154.70" font-size="8.2" text-anchor="middle">cells</text>
<text transform="translate(444.80 9.20) scale(1.07 1)" font-size="11.5" font-weight="bold" fill="#000" stroke="#000" stroke-width="0.3">d</text>
<line x1="479.30" y1="50.77" x2="671.70" y2="50.77" stroke="#e2e2e2" stroke-width="0.8"/>
<line x1="479.30" y1="12.30" x2="479.30" y2="127.70" stroke="#8c8c8c" stroke-width="0.9"/>
<line x1="476.30" y1="127.70" x2="479.30" y2="127.70" stroke="#8c8c8c" stroke-width="0.9"/>
<line x1="476.30" y1="89.23" x2="479.30" y2="89.23" stroke="#8c8c8c" stroke-width="0.9"/>
<line x1="476.30" y1="50.77" x2="479.30" y2="50.77" stroke="#8c8c8c" stroke-width="0.9"/>
<line x1="476.30" y1="12.30" x2="479.30" y2="12.30" stroke="#8c8c8c" stroke-width="0.9"/>
<text x="472.70" y="14.86" font-size="7.3" text-anchor="end">1.5</text>
<text x="472.70" y="53.32" font-size="7.3" text-anchor="end">1.0</text>
<text x="472.70" y="91.79" font-size="7.3" text-anchor="end">0.5</text>
<text x="472.70" y="130.25" font-size="7.3" text-anchor="end">0</text>
<line x1="476.30" y1="127.70" x2="679.00" y2="127.70" stroke="#8c8c8c" stroke-width="0.9"/>
<line x1="499.50" y1="127.70" x2="499.50" y2="131.20" stroke="#bbb" stroke-width="0.9"/>
<line x1="533.00" y1="127.70" x2="533.00" y2="131.20" stroke="#bbb" stroke-width="0.9"/>
<line x1="566.60" y1="127.70" x2="566.60" y2="131.20" stroke="#bbb" stroke-width="0.9"/>
<line x1="599.80" y1="127.70" x2="599.80" y2="131.20" stroke="#bbb" stroke-width="0.9"/>
<line x1="633.30" y1="127.70" x2="633.30" y2="131.20" stroke="#bbb" stroke-width="0.9"/>
<line x1="666.80" y1="127.70" x2="666.80" y2="131.20" stroke="#bbb" stroke-width="0.9"/>
<line x1="486.00" y1="70.50" x2="513.20" y2="70.50" stroke="#1a1a1a" stroke-width="0.9" stroke-dasharray="2.2,1.0,0.8,1.0"/>
<line x1="499.40" y1="64.40" x2="499.40" y2="76.20" stroke="#000" stroke-width="1.0"/>
<line x1="497.20" y1="64.40" x2="501.60" y2="64.40" stroke="#000" stroke-width="1.0"/>
<line x1="497.20" y1="76.20" x2="501.60" y2="76.20" stroke="#000" stroke-width="1.0"/>
<circle cx="499.40" cy="49.90" r="2.2" fill="#f00" stroke="#000" stroke-width="0.85"/>
<circle cx="499.40" cy="65.80" r="2.2" fill="#f00" stroke="#000" stroke-width="0.85"/>
<circle cx="499.40" cy="70.90" r="2.2" fill="#f00" stroke="#000" stroke-width="0.85"/>
<circle cx="504.40" cy="80.30" r="2.2" fill="#f00" stroke="#000" stroke-width="0.85"/>
<circle cx="494.80" cy="84.40" r="2.2" fill="#f00" stroke="#000" stroke-width="0.85"/>
<line x1="519.70" y1="60.90" x2="546.30" y2="60.90" stroke="#1a1a1a" stroke-width="0.9" stroke-dasharray="2.2,1.0,0.8,1.0"/>
<line x1="533.00" y1="57.60" x2="533.00" y2="65.00" stroke="#000" stroke-width="1.0"/>
<line x1="530.80" y1="57.60" x2="535.20" y2="57.60" stroke="#000" stroke-width="1.0"/>
<line x1="530.80" y1="65.00" x2="535.20" y2="65.00" stroke="#000" stroke-width="1.0"/>
<circle cx="533.00" cy="49.00" r="2.2" fill="#f00" stroke="#000" stroke-width="0.85"/>
<circle cx="533.00" cy="55.20" r="2.2" fill="#f00" stroke="#000" stroke-width="0.85"/>
<circle cx="527.90" cy="65.00" r="2.2" fill="#f00" stroke="#000" stroke-width="0.85"/>
<circle cx="537.70" cy="66.00" r="2.2" fill="#f00" stroke="#000" stroke-width="0.85"/>
<circle cx="527.90" cy="70.50" r="2.2" fill="#f00" stroke="#000" stroke-width="0.85"/>
<line x1="553.30" y1="58.70" x2="579.70" y2="58.70" stroke="#111" stroke-width="1.0"/>
<line x1="566.50" y1="55.50" x2="566.50" y2="62.00" stroke="#999" stroke-width="1.0"/>
<line x1="564.30" y1="55.50" x2="568.70" y2="55.50" stroke="#999" stroke-width="1.0"/>
<line x1="564.30" y1="62.00" x2="568.70" y2="62.00" stroke="#999" stroke-width="1.0"/>
<circle cx="566.50" cy="49.30" r="2.2" fill="#f00" stroke="#000" stroke-width="0.85"/>
<circle cx="571.20" cy="54.60" r="2.2" fill="#f00" stroke="#000" stroke-width="0.85"/>
<circle cx="561.30" cy="58.50" r="2.2" fill="#f00" stroke="#000" stroke-width="0.85"/>
<circle cx="571.20" cy="61.70" r="2.2" fill="#f00" stroke="#000" stroke-width="0.85"/>
<circle cx="566.50" cy="68.30" r="2.2" fill="#f00" stroke="#000" stroke-width="0.85"/>
<line x1="586.90" y1="70.50" x2="612.90" y2="70.50" stroke="#111" stroke-width="1.0"/>
<line x1="599.80" y1="64.40" x2="599.80" y2="76.20" stroke="#999" stroke-width="1.0"/>
<line x1="593.30" y1="64.40" x2="606.30" y2="64.40" stroke="#999" stroke-width="1.0"/>
<line x1="593.30" y1="76.20" x2="606.30" y2="76.20" stroke="#999" stroke-width="1.0"/>
<circle cx="599.80" cy="59.70" r="2.2" fill="#f00" stroke="#000" stroke-width="0.85"/>
<circle cx="599.80" cy="71.90" r="2.2" fill="#f00" stroke="#000" stroke-width="0.85"/>
<circle cx="599.80" cy="79.70" r="2.2" fill="#f00" stroke="#000" stroke-width="0.85"/>
<line x1="620.20" y1="77.70" x2="646.60" y2="77.70" stroke="#111" stroke-width="1.0"/>
<line x1="633.30" y1="75.20" x2="633.30" y2="80.20" stroke="#999" stroke-width="1.0"/>
<line x1="628.30" y1="75.20" x2="638.30" y2="75.20" stroke="#999" stroke-width="1.0"/>
<line x1="628.30" y1="80.20" x2="638.30" y2="80.20" stroke="#999" stroke-width="1.0"/>
<circle cx="633.30" cy="72.80" r="2.2" fill="#f00" stroke="#000" stroke-width="0.85"/>
<circle cx="628.40" cy="81.10" r="2.2" fill="#f00" stroke="#000" stroke-width="0.85"/>
<circle cx="638.00" cy="79.30" r="2.2" fill="#f00" stroke="#000" stroke-width="0.85"/>
<line x1="653.70" y1="77.30" x2="679.90" y2="77.30" stroke="#111" stroke-width="1.0"/>
<line x1="666.80" y1="75.00" x2="666.80" y2="79.80" stroke="#999" stroke-width="1.0"/>
<line x1="661.80" y1="75.00" x2="671.80" y2="75.00" stroke="#999" stroke-width="1.0"/>
<line x1="661.80" y1="79.80" x2="671.80" y2="79.80" stroke="#999" stroke-width="1.0"/>
<circle cx="666.80" cy="72.80" r="2.2" fill="#f00" stroke="#000" stroke-width="0.85"/>
<circle cx="661.90" cy="81.10" r="2.2" fill="#f00" stroke="#000" stroke-width="0.85"/>
<circle cx="671.70" cy="79.30" r="2.2" fill="#f00" stroke="#000" stroke-width="0.85"/>
<text x="486.60" y="43.90" font-size="8.2" textLength="39.20" lengthAdjust="spacingAndGlyphs"><tspan font-style="italic">P</tspan> = 0.0118</text>
<text x="510.50" y="31.10" font-size="8.2" textLength="41.90" lengthAdjust="spacingAndGlyphs"><tspan font-style="italic">P</tspan> = 0.0289</text>
<text x="542.20" y="18.00" font-size="8.2" textLength="42.70" lengthAdjust="spacingAndGlyphs"><tspan font-style="italic">P</tspan> = 0.0383</text>
<text x="574.60" y="33.70" font-size="8.2" textLength="40.90" lengthAdjust="spacingAndGlyphs"><tspan font-style="italic">P</tspan> = 0.0277</text>
<text x="603.90" y="46.00" font-size="8.2" textLength="43.90" lengthAdjust="spacingAndGlyphs"><tspan font-style="italic">P</tspan> = 0.0004</text>
<text x="634.90" y="62.30" font-size="8.2" textLength="44.40" lengthAdjust="spacingAndGlyphs"><tspan font-style="italic">P</tspan> = 0.0004</text>
<text x="453.20" y="70.40" font-size="8.2" text-anchor="middle" textLength="85.00" lengthAdjust="spacingAndGlyphs" transform="rotate(-90 453.20 70.40)">Fold gene expression</text>
<text x="499.50" y="142.70" font-size="8.2" text-anchor="middle" font-style="italic">Pparg-</text>
<text x="499.50" y="151.80" font-size="8.2" text-anchor="middle" font-style="italic">c1a</text>
<text x="533.00" y="142.70" font-size="8.2" text-anchor="middle" font-style="italic">Cpt1a</text>
<text x="567.00" y="142.70" font-size="8.2" text-anchor="middle" font-style="italic">Aca-</text>
<text x="567.00" y="151.80" font-size="8.2" text-anchor="middle" font-style="italic">dm</text>
<text x="599.90" y="142.70" font-size="8.2" text-anchor="middle" font-style="italic">PPAR-</text>
<text x="599.90" y="151.80" font-size="8.2" text-anchor="middle" font-style="italic">GC1A</text>
<text x="633.10" y="142.70" font-size="8.2" text-anchor="middle" font-style="italic">CPT-</text>
<text x="633.10" y="151.80" font-size="8.2" text-anchor="middle" font-style="italic">1A</text>
<text x="666.40" y="142.70" font-size="8.2" text-anchor="middle" font-style="italic">ACAD-</text>
<text x="666.40" y="151.80" font-size="8.2" text-anchor="middle" font-style="italic">M</text>
<line x1="484.70" y1="156.60" x2="580.20" y2="156.60" stroke="#666" stroke-width="0.8"/>
<line x1="584.10" y1="156.60" x2="678.90" y2="156.60" stroke="#666" stroke-width="0.8"/>
<text x="532.40" y="166.60" font-size="8.2" text-anchor="middle" textLength="48.20" lengthAdjust="spacingAndGlyphs">Primary Hep</text>
<text x="632.40" y="166.60" font-size="8.2" text-anchor="middle" textLength="48.20" lengthAdjust="spacingAndGlyphs">HepG2 cells</text>
<text transform="translate(0.00 181.20) scale(1.07 1)" font-size="11.5" font-weight="bold" fill="#000" stroke="#000" stroke-width="0.3">e</text>
<line x1="58.20" y1="189.09" x2="58.20" y2="245.00" stroke="#8c8c8c" stroke-width="0.9"/>
<line x1="55.20" y1="245.00" x2="58.20" y2="245.00" stroke="#8c8c8c" stroke-width="0.9"/>
<line x1="55.20" y1="226.37" x2="58.20" y2="226.37" stroke="#8c8c8c" stroke-width="0.9"/>
<line x1="55.20" y1="207.73" x2="58.20" y2="207.73" stroke="#8c8c8c" stroke-width="0.9"/>
<line x1="55.20" y1="189.09" x2="58.20" y2="189.09" stroke="#8c8c8c" stroke-width="0.9"/>
<text x="52.60" y="191.65" font-size="7.3" text-anchor="end">1.5</text>
<text x="52.60" y="210.28" font-size="7.3" text-anchor="end">1.0</text>
<text x="52.60" y="228.92" font-size="7.3" text-anchor="end">0.5</text>
<text x="52.60" y="247.56" font-size="7.3" text-anchor="end">0</text>
<rect x="72.10" y="208.10" width="27.10" height="36.90" fill="#0000ff"/>
<polyline points="72.10,245.00 72.10,208.10 99.20,208.10 99.20,245.00" fill="none" stroke="#000" stroke-width="0.9"/>
<rect x="106.30" y="216.30" width="27.10" height="28.70" fill="#ff0000"/>
<polyline points="106.30,245.00 106.30,216.30 133.40,216.30 133.40,245.00" fill="none" stroke="#000" stroke-width="0.9"/>
<line x1="55.20" y1="245.00" x2="147.70" y2="245.00" stroke="#8c8c8c" stroke-width="0.9"/>
<line x1="85.60" y1="245.00" x2="85.60" y2="248.50" stroke="#aaa" stroke-width="0.9"/>
<line x1="119.80" y1="245.00" x2="119.80" y2="248.50" stroke="#aaa" stroke-width="0.9"/>
<polyline points="85.60,196.10 85.60,188.50 119.80,188.50 119.80,206.40" fill="none" stroke="#8c8c8c" stroke-width="0.8"/>
<line x1="85.60" y1="205.20" x2="85.60" y2="211.00" stroke="#000" stroke-width="1.0"/>
<line x1="82.40" y1="205.20" x2="88.80" y2="205.20" stroke="#000" stroke-width="1.0"/>
<line x1="82.40" y1="211.00" x2="88.80" y2="211.00" stroke="#000" stroke-width="1.0"/>
<line x1="119.80" y1="214.40" x2="119.80" y2="218.00" stroke="#000" stroke-width="1.0"/>
<line x1="116.60" y1="214.40" x2="123.00" y2="214.40" stroke="#000" stroke-width="1.0"/>
<line x1="116.60" y1="218.00" x2="123.00" y2="218.00" stroke="#000" stroke-width="1.0"/>
<circle cx="78.00" cy="201.90" r="1.85" fill="#fff" stroke="#000" stroke-width="0.9"/>
<circle cx="85.60" cy="202.50" r="1.85" fill="#fff" stroke="#000" stroke-width="0.9"/>
<circle cx="93.20" cy="206.80" r="1.85" fill="#fff" stroke="#000" stroke-width="0.9"/>
<circle cx="78.00" cy="213.40" r="1.85" fill="#fff" stroke="#000" stroke-width="0.9"/>
<circle cx="85.60" cy="210.60" r="1.85" fill="#fff" stroke="#000" stroke-width="0.9"/>
<circle cx="93.20" cy="212.40" r="1.85" fill="#fff" stroke="#000" stroke-width="0.9"/>
<circle cx="108.10" cy="213.40" r="1.85" fill="#fff" stroke="#000" stroke-width="0.9"/>
<circle cx="115.80" cy="212.40" r="1.85" fill="#fff" stroke="#000" stroke-width="0.9"/>
<circle cx="123.70" cy="213.90" r="1.85" fill="#fff" stroke="#000" stroke-width="0.9"/>
<circle cx="131.90" cy="213.20" r="1.85" fill="#fff" stroke="#000" stroke-width="0.9"/>
<circle cx="119.90" cy="218.80" r="1.85" fill="#fff" stroke="#000" stroke-width="0.9"/>
<circle cx="119.90" cy="223.60" r="1.85" fill="#fff" stroke="#000" stroke-width="0.9"/>
<text x="83.60" y="183.00" font-size="8.2" textLength="40.80" lengthAdjust="spacingAndGlyphs"><tspan font-style="italic">P</tspan> = 0.0147</text>
<text x="33.50" y="217.50" font-size="8.2" text-anchor="middle" textLength="45.00" lengthAdjust="spacingAndGlyphs" transform="rotate(-90 33.50 217.50)">Fold CPT1α</text>
<rect x="53.50" y="252.50" width="102.80" height="14.80" fill="rgb(228,228,228)"/>
<rect x="54.50" y="252.50" width="6.57" height="14.80" fill="rgb(226,226,226)" filter="url(#blur2)"/>
<rect x="63.07" y="252.50" width="6.57" height="14.80" fill="rgb(227,227,227)" filter="url(#blur2)"/>
<rect x="71.63" y="252.50" width="6.57" height="14.80" fill="rgb(232,232,232)" filter="url(#blur2)"/>
<rect x="80.20" y="252.50" width="6.57" height="14.80" fill="rgb(226,226,226)" filter="url(#blur2)"/>
<rect x="88.77" y="252.50" width="6.57" height="14.80" fill="rgb(227,227,227)" filter="url(#blur2)"/>
<rect x="97.33" y="252.50" width="6.57" height="14.80" fill="rgb(228,228,228)" filter="url(#blur2)"/>
<rect x="105.90" y="252.50" width="6.57" height="14.80" fill="rgb(223,223,223)" filter="url(#blur2)"/>
<rect x="114.47" y="252.50" width="6.57" height="14.80" fill="rgb(227,227,227)" filter="url(#blur2)"/>
<rect x="123.03" y="252.50" width="6.57" height="14.80" fill="rgb(228,228,228)" filter="url(#blur2)"/>
<rect x="131.60" y="252.50" width="6.57" height="14.80" fill="rgb(230,230,230)" filter="url(#blur2)"/>
<rect x="140.17" y="252.50" width="6.57" height="14.80" fill="rgb(222,222,222)" filter="url(#blur2)"/>
<rect x="148.73" y="252.50" width="6.57" height="14.80" fill="rgb(224,224,224)" filter="url(#blur2)"/>
<g filter="url(#blur2)">
<rect x="54.70" y="258.00" width="6.17" height="2.80" fill="rgb(160,160,160)"/>
<rect x="63.27" y="258.00" width="6.17" height="2.80" fill="rgb(165,165,165)"/>
<rect x="71.83" y="258.00" width="6.17" height="2.80" fill="rgb(175,175,175)"/>
<rect x="80.40" y="258.00" width="6.17" height="2.80" fill="rgb(155,155,155)"/>
<rect x="88.97" y="258.00" width="6.17" height="2.80" fill="rgb(163,163,163)"/>
<rect x="97.53" y="258.00" width="6.17" height="2.80" fill="rgb(167,167,167)"/>
<rect x="106.10" y="258.00" width="6.17" height="2.80" fill="rgb(175,175,175)"/>
<rect x="114.67" y="258.00" width="6.17" height="2.80" fill="rgb(157,157,157)"/>
<rect x="123.23" y="258.00" width="6.17" height="2.80" fill="rgb(160,160,160)"/>
<rect x="131.80" y="258.00" width="6.17" height="2.80" fill="rgb(165,165,165)"/>
<rect x="140.37" y="258.00" width="6.17" height="2.80" fill="rgb(170,170,170)"/>
<rect x="148.93" y="258.00" width="6.17" height="2.80" fill="rgb(165,165,165)"/>
</g>
<rect x="53.50" y="252.50" width="102.80" height="14.80" fill="none" stroke="#686868" stroke-width="1.1" rx="0.8"/>
<rect x="53.50" y="270.00" width="102.80" height="15.70" fill="rgb(228,228,228)"/>
<rect x="54.50" y="270.00" width="6.57" height="15.70" fill="rgb(226,226,226)" filter="url(#blur2)"/>
<rect x="63.07" y="270.00" width="6.57" height="15.70" fill="rgb(228,228,228)" filter="url(#blur2)"/>
<rect x="71.63" y="270.00" width="6.57" height="15.70" fill="rgb(228,228,228)" filter="url(#blur2)"/>
<rect x="80.20" y="270.00" width="6.57" height="15.70" fill="rgb(222,222,222)" filter="url(#blur2)"/>
<rect x="88.77" y="270.00" width="6.57" height="15.70" fill="rgb(221,221,221)" filter="url(#blur2)"/>
<rect x="97.33" y="270.00" width="6.57" height="15.70" fill="rgb(225,225,225)" filter="url(#blur2)"/>
<rect x="105.90" y="270.00" width="6.57" height="15.70" fill="rgb(224,224,224)" filter="url(#blur2)"/>
<rect x="114.47" y="270.00" width="6.57" height="15.70" fill="rgb(230,230,230)" filter="url(#blur2)"/>
<rect x="123.03" y="270.00" width="6.57" height="15.70" fill="rgb(229,229,229)" filter="url(#blur2)"/>
<rect x="131.60" y="270.00" width="6.57" height="15.70" fill="rgb(228,228,228)" filter="url(#blur2)"/>
<rect x="140.17" y="270.00" width="6.57" height="15.70" fill="rgb(227,227,227)" filter="url(#blur2)"/>
<rect x="148.73" y="270.00" width="6.57" height="15.70" fill="rgb(228,228,228)" filter="url(#blur2)"/>
<g filter="url(#blur2)">
<rect x="54.70" y="276.30" width="6.17" height="3.40" fill="rgb(135,135,135)"/>
<rect x="63.27" y="276.30" width="6.17" height="3.40" fill="rgb(140,140,140)"/>
<rect x="71.83" y="276.30" width="6.17" height="3.40" fill="rgb(165,165,165)"/>
<rect x="80.40" y="276.30" width="6.17" height="3.40" fill="rgb(130,130,130)"/>
<rect x="88.97" y="276.30" width="6.17" height="3.40" fill="rgb(145,145,145)"/>
<rect x="97.53" y="276.30" width="6.17" height="3.40" fill="rgb(147,147,147)"/>
<rect x="106.10" y="276.30" width="6.17" height="3.40" fill="rgb(151,151,151)"/>
<rect x="114.67" y="276.30" width="6.17" height="3.40" fill="rgb(125,125,125)"/>
<rect x="123.23" y="276.30" width="6.17" height="3.40" fill="rgb(133,133,133)"/>
<rect x="131.80" y="276.30" width="6.17" height="3.40" fill="rgb(143,143,143)"/>
<rect x="140.37" y="276.30" width="6.17" height="3.40" fill="rgb(149,149,149)"/>
<rect x="148.93" y="276.30" width="6.17" height="3.40" fill="rgb(130,130,130)"/>
</g>
<rect x="53.50" y="270.00" width="102.80" height="15.70" fill="none" stroke="#686868" stroke-width="1.1" rx="0.8"/>
<text x="49.90" y="265.50" font-size="8.2" text-anchor="end">CPT1α</text>
<text x="49.30" y="281.50" font-size="8.2" text-anchor="end" textLength="28.50" lengthAdjust="spacingAndGlyphs">GAPDH</text>
<text x="157.10" y="251.20" font-size="8.2" textLength="15.00" lengthAdjust="spacingAndGlyphs">kDa</text>
<text x="160.30" y="263.90" font-size="8.2">88</text>
<text x="160.30" y="281.70" font-size="8.2">37</text>
<line x1="59.20" y1="288.60" x2="102.70" y2="288.60" stroke="#bbb" stroke-width="0.9"/>
<line x1="108.60" y1="288.60" x2="152.00" y2="288.60" stroke="#bbb" stroke-width="0.9"/>
<text x="80.00" y="299.70" font-size="8.2" text-anchor="middle" textLength="30.00" lengthAdjust="spacingAndGlyphs">Control</text>
<text x="129.50" y="299.60" font-size="8.2" text-anchor="middle" textLength="22.60" lengthAdjust="spacingAndGlyphs">NaOX</text>
<text transform="translate(241.00 180.60) scale(1.07 1)" font-size="11.5" font-weight="bold" fill="#000" stroke="#000" stroke-width="0.3">f</text>
<line x1="283.40" y1="181.80" x2="283.40" y2="270.10" stroke="#8c8c8c" stroke-width="0.9"/>
<line x1="280.40" y1="270.10" x2="283.40" y2="270.10" stroke="#8c8c8c" stroke-width="0.9"/>
<line x1="280.40" y1="240.67" x2="283.40" y2="240.67" stroke="#8c8c8c" stroke-width="0.9"/>
<line x1="280.40" y1="211.23" x2="283.40" y2="211.23" stroke="#8c8c8c" stroke-width="0.9"/>
<line x1="280.40" y1="181.80" x2="283.40" y2="181.80" stroke="#8c8c8c" stroke-width="0.9"/>
<text x="276.30" y="184.35" font-size="7.3" text-anchor="end">1.5</text>
<text x="276.30" y="213.79" font-size="7.3" text-anchor="end">1.0</text>
<text x="276.30" y="243.22" font-size="7.3" text-anchor="end">0.5</text>
<text x="276.30" y="272.66" font-size="7.3" text-anchor="end">0</text>
<rect x="326.50" y="211.20" width="24.30" height="58.90" fill="#0000ff"/>
<polyline points="326.50,270.10 326.50,211.20 350.80,211.20 350.80,270.10" fill="none" stroke="#000" stroke-width="0.9"/>
<rect x="357.40" y="221.10" width="24.50" height="49.00" fill="#ff0000"/>
<polyline points="357.40,270.10 357.40,221.10 381.90,221.10 381.90,270.10" fill="none" stroke="#000" stroke-width="0.9"/>
<line x1="280.40" y1="270.10" x2="393.90" y2="270.10" stroke="#8c8c8c" stroke-width="0.9"/>
<line x1="307.90" y1="270.10" x2="307.90" y2="273.10" stroke="#aaa" stroke-width="0.9"/>
<line x1="338.60" y1="270.10" x2="338.60" y2="273.10" stroke="#aaa" stroke-width="0.9"/>
<line x1="369.60" y1="270.10" x2="369.60" y2="273.10" stroke="#aaa" stroke-width="0.9"/>
<circle cx="299.30" cy="270.00" r="1.9" fill="#000"/>
<circle cx="303.05" cy="270.00" r="1.9" fill="#000"/>
<circle cx="306.80" cy="270.00" r="1.9" fill="#000"/>
<circle cx="310.55" cy="270.00" r="1.9" fill="#000"/>
<circle cx="314.30" cy="270.00" r="1.9" fill="#000"/>
<circle cx="318.05" cy="270.00" r="1.9" fill="#000"/>
<polyline points="338.30,193.20 338.30,188.50 369.60,188.50 369.60,211.20" fill="none" stroke="#8c8c8c" stroke-width="0.8"/>
<line x1="338.60" y1="207.10" x2="338.60" y2="216.00" stroke="#000" stroke-width="1.0"/>
<line x1="335.10" y1="207.10" x2="342.10" y2="207.10" stroke="#000" stroke-width="1.0"/>
<line x1="335.10" y1="216.00" x2="342.10" y2="216.00" stroke="#000" stroke-width="1.0"/>
<line x1="369.60" y1="217.50" x2="369.60" y2="221.00" stroke="#000" stroke-width="1.0"/>
<line x1="366.10" y1="217.50" x2="373.10" y2="217.50" stroke="#000" stroke-width="1.0"/>
<line x1="366.10" y1="221.00" x2="373.10" y2="221.00" stroke="#000" stroke-width="1.0"/>
<circle cx="334.70" cy="199.90" r="1.85" fill="#fff" stroke="#000" stroke-width="0.9"/>
<circle cx="343.00" cy="196.60" r="1.85" fill="#fff" stroke="#000" stroke-width="0.9"/>
<circle cx="334.70" cy="214.50" r="1.85" fill="#fff" stroke="#000" stroke-width="0.9"/>
<circle cx="343.00" cy="214.50" r="1.85" fill="#fff" stroke="#000" stroke-width="0.9"/>
<circle cx="334.70" cy="222.60" r="1.85" fill="#fff" stroke="#000" stroke-width="0.9"/>
<circle cx="343.00" cy="221.10" r="1.85" fill="#fff" stroke="#000" stroke-width="0.9"/>
<circle cx="359.30" cy="224.50" r="1.85" fill="#fff" stroke="#000" stroke-width="0.9"/>
<circle cx="366.40" cy="216.90" r="1.85" fill="#fff" stroke="#000" stroke-width="0.9"/>
<circle cx="366.40" cy="222.60" r="1.85" fill="#fff" stroke="#000" stroke-width="0.9"/>
<circle cx="373.00" cy="215.40" r="1.85" fill="#fff" stroke="#000" stroke-width="0.9"/>
<circle cx="373.00" cy="223.60" r="1.85" fill="#fff" stroke="#000" stroke-width="0.9"/>
<circle cx="379.60" cy="223.20" r="1.85" fill="#fff" stroke="#000" stroke-width="0.9"/>
<text x="335.00" y="184.10" font-size="8.2" textLength="39.30" lengthAdjust="spacingAndGlyphs"><tspan font-style="italic">P</tspan> = 0.0411</text>
<text x="285.10" y="283.10" font-size="8.2" text-anchor="end">EU</text>
<text x="284.80" y="294.50" font-size="8.2" text-anchor="end" textLength="22.50" lengthAdjust="spacingAndGlyphs">NaOX</text>
<text x="307.90" y="282.40" font-size="7.2" text-anchor="middle">(–)</text>
<text x="307.90" y="293.80" font-size="7.2" text-anchor="middle">(–)</text>
<text x="338.80" y="282.40" font-size="7.2" text-anchor="middle">(+)</text>
<text x="338.80" y="293.80" font-size="7.2" text-anchor="middle">(–)</text>
<text x="369.60" y="282.40" font-size="7.2" text-anchor="middle">(+)</text>
<text x="369.60" y="293.80" font-size="7.2" text-anchor="middle">(+)</text>
<text x="249.20" y="225.80" font-size="8.2" text-anchor="middle" textLength="52.40" lengthAdjust="spacingAndGlyphs" transform="rotate(-90 249.20 225.80)">Fold de novo</text>
<text x="259.10" y="226.20" font-size="8.2" text-anchor="middle" textLength="79.00" lengthAdjust="spacingAndGlyphs" transform="rotate(-90 259.10 226.20)"><tspan font-style="italic">PPARA</tspan> transcription</text>
<circle cx="279.00" cy="317.70" r="0.7" fill="#222"/>
<text transform="translate(475.20 181.00) scale(1.07 1)" font-size="11.5" font-weight="bold" fill="#000" stroke="#000" stroke-width="0.3">g</text>
<line x1="527.30" y1="207.20" x2="527.30" y2="289.20" stroke="#8c8c8c" stroke-width="0.9"/>
<line x1="524.30" y1="289.20" x2="527.30" y2="289.20" stroke="#8c8c8c" stroke-width="0.9"/>
<line x1="524.30" y1="272.80" x2="527.30" y2="272.80" stroke="#8c8c8c" stroke-width="0.9"/>
<line x1="524.30" y1="256.40" x2="527.30" y2="256.40" stroke="#8c8c8c" stroke-width="0.9"/>
<line x1="524.30" y1="240.00" x2="527.30" y2="240.00" stroke="#8c8c8c" stroke-width="0.9"/>
<line x1="524.30" y1="223.60" x2="527.30" y2="223.60" stroke="#8c8c8c" stroke-width="0.9"/>
<line x1="524.30" y1="207.20" x2="527.30" y2="207.20" stroke="#8c8c8c" stroke-width="0.9"/>
<text x="520.50" y="209.75" font-size="7.3" text-anchor="end">2,500</text>
<text x="520.50" y="226.15" font-size="7.3" text-anchor="end">2,000</text>
<text x="520.50" y="242.56" font-size="7.3" text-anchor="end">1,500</text>
<text x="520.50" y="258.95" font-size="7.3" text-anchor="end">1,000</text>
<text x="520.50" y="275.36" font-size="7.3" text-anchor="end">500</text>
<text x="520.50" y="291.75" font-size="7.3" text-anchor="end">0</text>
<rect x="542.60" y="254.00" width="28.80" height="35.20" fill="#0000ff"/>
<polyline points="542.60,289.20 542.60,254.00 571.40,254.00 571.40,289.20" fill="none" stroke="#000" stroke-width="0.9"/>
<rect x="579.70" y="220.70" width="29.10" height="68.50" fill="#8eaadc"/>
<polyline points="579.70,289.20 579.70,220.70 608.80,220.70 608.80,289.20" fill="none" stroke="#000" stroke-width="0.9"/>
<rect x="616.90" y="273.00" width="28.90" height="16.20" fill="#ff0000"/>
<polyline points="616.90,289.20 616.90,273.00 645.80,273.00 645.80,289.20" fill="none" stroke="#000" stroke-width="0.9"/>
<line x1="524.30" y1="289.20" x2="661.50" y2="289.20" stroke="#8c8c8c" stroke-width="0.9"/>
<line x1="557.10" y1="289.20" x2="557.10" y2="292.20" stroke="#aaa" stroke-width="0.9"/>
<line x1="594.00" y1="289.20" x2="594.00" y2="292.20" stroke="#aaa" stroke-width="0.9"/>
<line x1="631.50" y1="289.20" x2="631.50" y2="292.20" stroke="#aaa" stroke-width="0.9"/>
<polyline points="557.30,193.10 557.30,188.60 631.90,188.60 631.90,193.10" fill="none" stroke="#8c8c8c" stroke-width="0.8"/>
<polyline points="557.30,244.80 557.30,208.00 593.60,208.00 593.60,214.20" fill="none" stroke="#8c8c8c" stroke-width="0.8"/>
<polyline points="595.30,214.20 595.30,208.00 631.90,208.00 631.90,262.20" fill="none" stroke="#8c8c8c" stroke-width="0.8"/>
<circle cx="553.30" cy="251.00" r="1.85" fill="#fff" stroke="#000" stroke-width="0.9"/>
<circle cx="561.00" cy="250.20" r="1.85" fill="#fff" stroke="#000" stroke-width="0.9"/>
<circle cx="553.30" cy="257.10" r="1.85" fill="#fff" stroke="#000" stroke-width="0.9"/>
<circle cx="561.00" cy="255.60" r="1.85" fill="#fff" stroke="#000" stroke-width="0.9"/>
<circle cx="590.40" cy="219.70" r="1.85" fill="#fff" stroke="#000" stroke-width="0.9"/>
<circle cx="597.70" cy="217.60" r="1.85" fill="#fff" stroke="#000" stroke-width="0.9"/>
<circle cx="590.40" cy="223.40" r="1.85" fill="#fff" stroke="#000" stroke-width="0.9"/>
<circle cx="597.70" cy="221.30" r="1.85" fill="#fff" stroke="#000" stroke-width="0.9"/>
<circle cx="594.00" cy="220.30" r="1.85" fill="#fff" stroke="#000" stroke-width="0.9"/>
<circle cx="623.70" cy="274.40" r="1.85" fill="#fff" stroke="#000" stroke-width="0.9"/>
<circle cx="631.50" cy="269.30" r="1.85" fill="#fff" stroke="#000" stroke-width="0.9"/>
<circle cx="631.50" cy="273.40" r="1.85" fill="#fff" stroke="#000" stroke-width="0.9"/>
<circle cx="639.00" cy="274.40" r="1.85" fill="#fff" stroke="#000" stroke-width="0.9"/>
<text x="571.60" y="184.50" font-size="8.2" textLength="46.60" lengthAdjust="spacingAndGlyphs"><tspan font-style="italic">P</tspan> = 1.1 × 10<tspan dy="-3.2" font-size="5.6">−5</tspan></text>
<text x="546.00" y="205.00" font-size="8.2" textLength="42.30" lengthAdjust="spacingAndGlyphs"><tspan font-style="italic">P</tspan> &lt; 0.0001</text>
<text x="595.70" y="205.00" font-size="8.2" textLength="42.30" lengthAdjust="spacingAndGlyphs"><tspan font-style="italic">P</tspan> &lt; 0.0001</text>
<text x="557.10" y="302.40" font-size="8.2" text-anchor="middle" textLength="30.00" lengthAdjust="spacingAndGlyphs">Control</text>
<text x="594.00" y="302.40" font-size="8.2" text-anchor="middle">Wy</text>
<text x="594.50" y="314.70" font-size="8.2" text-anchor="middle">14,643</text>
<text x="631.50" y="302.40" font-size="8.2" text-anchor="middle" textLength="22.60" lengthAdjust="spacingAndGlyphs">NaOX</text>
<text x="482.40" y="248.10" font-size="8.2" text-anchor="middle" textLength="60.80" lengthAdjust="spacingAndGlyphs" transform="rotate(-90 482.40 248.10)">PPRE luciferase</text>
<text x="492.40" y="248.40" font-size="8.2" text-anchor="middle" textLength="58.90" lengthAdjust="spacingAndGlyphs" transform="rotate(-90 492.40 248.40)">activity/<tspan font-style="italic">Renilla</tspan></text>
<text transform="translate(0.00 330.40) scale(1.07 1)" font-size="11.5" font-weight="bold" fill="#000" stroke="#000" stroke-width="0.3">h</text>
<line x1="50.90" y1="393.86" x2="253.50" y2="393.86" stroke="#e2e2e2" stroke-width="0.8"/>
<line x1="50.90" y1="337.40" x2="50.90" y2="431.50" stroke="#8c8c8c" stroke-width="0.9"/>
<line x1="47.90" y1="431.50" x2="50.90" y2="431.50" stroke="#8c8c8c" stroke-width="0.9"/>
<line x1="47.90" y1="412.68" x2="50.90" y2="412.68" stroke="#8c8c8c" stroke-width="0.9"/>
<line x1="47.90" y1="393.86" x2="50.90" y2="393.86" stroke="#8c8c8c" stroke-width="0.9"/>
<line x1="47.90" y1="375.04" x2="50.90" y2="375.04" stroke="#8c8c8c" stroke-width="0.9"/>
<line x1="47.90" y1="356.22" x2="50.90" y2="356.22" stroke="#8c8c8c" stroke-width="0.9"/>
<line x1="47.90" y1="337.40" x2="50.90" y2="337.40" stroke="#8c8c8c" stroke-width="0.9"/>
<text x="43.20" y="339.95" font-size="7.3" text-anchor="end">2.5</text>
<text x="43.20" y="358.78" font-size="7.3" text-anchor="end">2.0</text>
<text x="43.20" y="377.60" font-size="7.3" text-anchor="end">1.5</text>
<text x="43.20" y="396.42" font-size="7.3" text-anchor="end">1.0</text>
<text x="43.20" y="415.24" font-size="7.3" text-anchor="end">0.5</text>
<text x="43.20" y="434.06" font-size="7.3" text-anchor="end">0</text>
<line x1="47.90" y1="431.50" x2="253.50" y2="431.50" stroke="#8c8c8c" stroke-width="0.9"/>
<line x1="101.60" y1="431.50" x2="101.60" y2="435.00" stroke="#aaa" stroke-width="0.9"/>
<line x1="208.20" y1="431.50" x2="208.20" y2="435.00" stroke="#aaa" stroke-width="0.9"/>
<line x1="61.90" y1="407.50" x2="84.10" y2="407.50" stroke="#1a1a1a" stroke-width="0.9" stroke-dasharray="2.2,1.0,0.8,1.0"/>
<line x1="73.10" y1="405.50" x2="73.10" y2="409.50" stroke="#000" stroke-width="1.0"/>
<line x1="71.10" y1="405.50" x2="75.10" y2="405.50" stroke="#000" stroke-width="1.0"/>
<line x1="71.10" y1="409.50" x2="75.10" y2="409.50" stroke="#000" stroke-width="1.0"/>
<circle cx="64.00" cy="403.60" r="2.15" fill="#f00" stroke="#000" stroke-width="0.85"/>
<circle cx="73.10" cy="406.40" r="2.15" fill="#f00" stroke="#000" stroke-width="0.85"/>
<circle cx="73.10" cy="414.10" r="2.15" fill="#f00" stroke="#000" stroke-width="0.85"/>
<circle cx="82.40" cy="406.20" r="2.15" fill="#f00" stroke="#000" stroke-width="0.85"/>
<line x1="89.90" y1="363.10" x2="109.80" y2="363.10" stroke="#1a1a1a" stroke-width="0.9" stroke-dasharray="2.2,1.0,0.8,1.0"/>
<line x1="101.30" y1="361.50" x2="101.30" y2="365.50" stroke="#000" stroke-width="1.0"/>
<line x1="99.30" y1="361.50" x2="103.30" y2="361.50" stroke="#000" stroke-width="1.0"/>
<line x1="99.30" y1="365.50" x2="103.30" y2="365.50" stroke="#000" stroke-width="1.0"/>
<circle cx="97.00" cy="362.40" r="2.15" fill="#9a10d8" stroke="#000" stroke-width="0.85"/>
<circle cx="105.50" cy="358.50" r="2.15" fill="#9a10d8" stroke="#000" stroke-width="0.85"/>
<circle cx="97.00" cy="367.00" r="2.15" fill="#9a10d8" stroke="#000" stroke-width="0.85"/>
<circle cx="105.50" cy="364.70" r="2.15" fill="#9a10d8" stroke="#000" stroke-width="0.85"/>
<line x1="118.00" y1="386.90" x2="137.80" y2="386.90" stroke="#1a1a1a" stroke-width="0.9" stroke-dasharray="2.2,1.0,0.8,1.0"/>
<line x1="129.40" y1="383.00" x2="129.40" y2="390.50" stroke="#000" stroke-width="1.0"/>
<line x1="127.40" y1="383.00" x2="131.40" y2="383.00" stroke="#000" stroke-width="1.0"/>
<line x1="127.40" y1="390.50" x2="131.40" y2="390.50" stroke="#000" stroke-width="1.0"/>
<circle cx="129.40" cy="380.40" r="2.15" fill="#f08000" stroke="#000" stroke-width="0.85"/>
<circle cx="125.00" cy="385.30" r="2.15" fill="#f08000" stroke="#000" stroke-width="0.85"/>
<circle cx="133.60" cy="386.20" r="2.15" fill="#f08000" stroke="#000" stroke-width="0.85"/>
<circle cx="129.40" cy="395.30" r="2.15" fill="#f08000" stroke="#000" stroke-width="0.85"/>
<polyline points="73.30,384.80 73.30,335.20 130.10,335.20 130.10,376.40" fill="none" stroke="#8c8c8c" stroke-width="0.8"/>
<text x="76.60" y="332.30" font-size="8.2" textLength="50.50" lengthAdjust="spacingAndGlyphs"><tspan font-style="italic">P</tspan> = 6.9 × 10<tspan dy="-3.2" font-size="5.6">−5</tspan></text>
<text x="76.60" y="349.80" font-size="8.2" textLength="49.50" lengthAdjust="spacingAndGlyphs"><tspan font-style="italic">P</tspan> = 1.0 × 10<tspan dy="-3.2" font-size="5.6">−6</tspan></text>
<text x="53.20" y="391.80" font-size="8.2" textLength="42.70" lengthAdjust="spacingAndGlyphs"><tspan font-style="italic">P</tspan> = 0.0029</text>
<line x1="166.00" y1="409.00" x2="193.00" y2="409.00" stroke="#1a1a1a" stroke-width="0.9" stroke-dasharray="2.2,1.0,0.8,1.0"/>
<circle cx="170.50" cy="410.90" r="2.15" fill="#f00" stroke="#000" stroke-width="0.85"/>
<circle cx="179.90" cy="408.80" r="2.15" fill="#f00" stroke="#000" stroke-width="0.85"/>
<circle cx="189.20" cy="405.30" r="2.15" fill="#f00" stroke="#000" stroke-width="0.85"/>
<circle cx="189.20" cy="409.30" r="2.15" fill="#f00" stroke="#000" stroke-width="0.85"/>
<line x1="197.00" y1="366.10" x2="218.00" y2="366.10" stroke="#1a1a1a" stroke-width="0.9" stroke-dasharray="2.2,1.0,0.8,1.0"/>
<line x1="208.20" y1="362.50" x2="208.20" y2="369.80" stroke="#000" stroke-width="1.0"/>
<line x1="206.20" y1="362.50" x2="210.20" y2="362.50" stroke="#000" stroke-width="1.0"/>
<line x1="206.20" y1="369.80" x2="210.20" y2="369.80" stroke="#000" stroke-width="1.0"/>
<circle cx="208.20" cy="359.10" r="2.15" fill="#9a10d8" stroke="#000" stroke-width="0.85"/>
<circle cx="204.00" cy="364.40" r="2.15" fill="#9a10d8" stroke="#000" stroke-width="0.85"/>
<circle cx="212.60" cy="367.90" r="2.15" fill="#9a10d8" stroke="#000" stroke-width="0.85"/>
<circle cx="208.20" cy="373.80" r="2.15" fill="#9a10d8" stroke="#000" stroke-width="0.85"/>
<line x1="226.00" y1="386.60" x2="246.00" y2="386.60" stroke="#1a1a1a" stroke-width="0.9" stroke-dasharray="2.2,1.0,0.8,1.0"/>
<line x1="236.20" y1="383.50" x2="236.20" y2="390.00" stroke="#000" stroke-width="1.0"/>
<line x1="234.20" y1="383.50" x2="238.20" y2="383.50" stroke="#000" stroke-width="1.0"/>
<line x1="234.20" y1="390.00" x2="238.20" y2="390.00" stroke="#000" stroke-width="1.0"/>
<circle cx="232.40" cy="383.60" r="2.15" fill="#f08000" stroke="#000" stroke-width="0.85"/>
<circle cx="240.60" cy="382.90" r="2.15" fill="#f08000" stroke="#000" stroke-width="0.85"/>
<circle cx="240.60" cy="387.10" r="2.15" fill="#f08000" stroke="#000" stroke-width="0.85"/>
<circle cx="236.20" cy="394.10" r="2.15" fill="#f08000" stroke="#000" stroke-width="0.85"/>
<polyline points="180.10,385.90 180.10,335.70 236.20,335.70 236.20,377.30" fill="none" stroke="#8c8c8c" stroke-width="0.8"/>
<text x="185.30" y="333.40" font-size="8.2" textLength="49.00" lengthAdjust="spacingAndGlyphs"><tspan font-style="italic">P</tspan> = 7.7 × 10<tspan dy="-3.2" font-size="5.6">−5</tspan></text>
<text x="182.90" y="350.20" font-size="8.2" textLength="51.40" lengthAdjust="spacingAndGlyphs"><tspan font-style="italic">P</tspan> = 6.0 × 10<tspan dy="-3.2" font-size="5.6">−6</tspan></text>
<text x="159.60" y="391.80" font-size="8.2" textLength="42.70" lengthAdjust="spacingAndGlyphs"><tspan font-style="italic">P</tspan> = 0.0025</text>
<text x="14.00" y="384.60" font-size="8.2" text-anchor="middle" textLength="85.30" lengthAdjust="spacingAndGlyphs" transform="rotate(-90 14.00 384.60)">Fold gene expression</text>
<text x="23.40" y="384.60" font-size="8.2" text-anchor="middle" textLength="50.00" lengthAdjust="spacingAndGlyphs" transform="rotate(-90 23.40 384.60)">from control</text>
<text x="57.90" y="447.30" font-size="8.2" text-anchor="end">NaOX:</text>
<text x="57.90" y="461.20" font-size="8.2" text-anchor="end">GFP:</text>
<text x="57.90" y="475.40" font-size="8.2" text-anchor="end">PPARα:</text>
<text x="73.80" y="447.00" font-size="7.0" text-anchor="middle">(+)</text>
<text x="73.80" y="460.80" font-size="7.0" text-anchor="middle">(+)</text>
<text x="73.80" y="475.00" font-size="7.0" text-anchor="middle">(–)</text>
<text x="101.60" y="447.00" font-size="7.0" text-anchor="middle">(–)</text>
<text x="101.60" y="460.80" font-size="7.0" text-anchor="middle">(–)</text>
<text x="101.60" y="475.00" font-size="7.0" text-anchor="middle">(+)</text>
<text x="129.90" y="447.00" font-size="7.0" text-anchor="middle">(+)</text>
<text x="129.90" y="460.80" font-size="7.0" text-anchor="middle">(–)</text>
<text x="129.90" y="475.00" font-size="7.0" text-anchor="middle">(+)</text>
<text x="180.10" y="447.00" font-size="7.0" text-anchor="middle">(+)</text>
<text x="180.10" y="460.80" font-size="7.0" text-anchor="middle">(+)</text>
<text x="180.10" y="475.00" font-size="7.0" text-anchor="middle">(–)</text>
<text x="208.20" y="447.00" font-size="7.0" text-anchor="middle">(–)</text>
<text x="208.20" y="460.80" font-size="7.0" text-anchor="middle">(–)</text>
<text x="208.20" y="475.00" font-size="7.0" text-anchor="middle">(+)</text>
<text x="236.20" y="447.00" font-size="7.0" text-anchor="middle">(+)</text>
<text x="236.20" y="460.80" font-size="7.0" text-anchor="middle">(–)</text>
<text x="236.20" y="475.00" font-size="7.0" text-anchor="middle">(+)</text>
<line x1="70.20" y1="482.20" x2="133.40" y2="482.20" stroke="#999" stroke-width="0.9"/>
<line x1="175.80" y1="482.20" x2="239.80" y2="482.20" stroke="#999" stroke-width="0.9"/>
<text x="101.70" y="492.60" font-size="8.2" text-anchor="middle" font-style="italic">CPT1A</text>
<text x="208.00" y="492.60" font-size="8.2" text-anchor="middle" font-style="italic">ACADM</text>
<text transform="translate(276.50 325.90) scale(1.07 1)" font-size="11.5" font-weight="bold" fill="#000" stroke="#000" stroke-width="0.3">i</text>
<line x1="316.50" y1="344.35" x2="316.50" y2="468.40" stroke="#8c8c8c" stroke-width="0.9"/>
<line x1="313.50" y1="468.40" x2="316.50" y2="468.40" stroke="#8c8c8c" stroke-width="0.9"/>
<line x1="313.50" y1="427.05" x2="316.50" y2="427.05" stroke="#8c8c8c" stroke-width="0.9"/>
<line x1="313.50" y1="385.70" x2="316.50" y2="385.70" stroke="#8c8c8c" stroke-width="0.9"/>
<line x1="313.50" y1="344.35" x2="316.50" y2="344.35" stroke="#8c8c8c" stroke-width="0.9"/>
<text x="310.20" y="346.90" font-size="7.3" text-anchor="end">15</text>
<text x="310.20" y="388.25" font-size="7.3" text-anchor="end">10</text>
<text x="310.20" y="429.60" font-size="7.3" text-anchor="end">5</text>
<text x="310.20" y="470.95" font-size="7.3" text-anchor="end">0</text>
<line x1="316.50" y1="468.40" x2="518.20" y2="468.40" stroke="#8c8c8c" stroke-width="0.9"/>
<line x1="316.50" y1="468.40" x2="316.50" y2="471.40" stroke="#8c8c8c" stroke-width="0.9"/>
<line x1="417.00" y1="468.40" x2="417.00" y2="471.40" stroke="#8c8c8c" stroke-width="0.9"/>
<line x1="517.50" y1="468.40" x2="517.50" y2="471.40" stroke="#8c8c8c" stroke-width="0.9"/>
<line x1="366.75" y1="468.40" x2="366.75" y2="470.40" stroke="#bbb" stroke-width="0.9"/>
<line x1="467.25" y1="468.40" x2="467.25" y2="470.40" stroke="#bbb" stroke-width="0.9"/>
<text x="316.50" y="480.30" font-size="7.3" text-anchor="middle">0</text>
<text x="417.00" y="480.50" font-size="7.3" text-anchor="middle">50</text>
<text x="517.50" y="480.50" font-size="7.3" text-anchor="middle">100</text>
<text x="397.10" y="493.90" font-size="8.2" textLength="41.20" lengthAdjust="spacingAndGlyphs">Time (min)</text>
<line x1="357.50" y1="402.30" x2="357.50" y2="468.40" stroke="#333" stroke-width="0.8" stroke-dasharray="2,1.6"/>
<line x1="410.70" y1="349.70" x2="410.70" y2="468.40" stroke="#333" stroke-width="0.8" stroke-dasharray="2,1.6"/>
<line x1="462.90" y1="373.10" x2="462.90" y2="468.40" stroke="#333" stroke-width="0.8" stroke-dasharray="2,1.6"/>
<text x="333.60" y="396.90" font-size="8.2" textLength="45.50" lengthAdjust="spacingAndGlyphs">Oligomycin</text>
<text x="400.70" y="348.50" font-size="8.2" textLength="21.30" lengthAdjust="spacingAndGlyphs">FCCP</text>
<text x="455.40" y="368.40" font-size="8.2" textLength="14.50" lengthAdjust="spacingAndGlyphs">R/A</text>
<line x1="319.60" y1="448.20" x2="319.60" y2="452.20" stroke="#f00" stroke-width="0.9"/>
<line x1="317.80" y1="448.20" x2="321.40" y2="448.20" stroke="#f00" stroke-width="0.9"/>
<line x1="317.80" y1="452.20" x2="321.40" y2="452.20" stroke="#f00" stroke-width="0.9"/>
<line x1="336.60" y1="448.20" x2="336.60" y2="452.20" stroke="#f00" stroke-width="0.9"/>
<line x1="334.80" y1="448.20" x2="338.40" y2="448.20" stroke="#f00" stroke-width="0.9"/>
<line x1="334.80" y1="452.20" x2="338.40" y2="452.20" stroke="#f00" stroke-width="0.9"/>
<line x1="353.40" y1="448.20" x2="353.40" y2="452.20" stroke="#f00" stroke-width="0.9"/>
<line x1="351.60" y1="448.20" x2="355.20" y2="448.20" stroke="#f00" stroke-width="0.9"/>
<line x1="351.60" y1="452.20" x2="355.20" y2="452.20" stroke="#f00" stroke-width="0.9"/>
<line x1="371.70" y1="456.10" x2="371.70" y2="459.10" stroke="#f00" stroke-width="0.9"/>
<line x1="369.90" y1="456.10" x2="373.50" y2="456.10" stroke="#f00" stroke-width="0.9"/>
<line x1="369.90" y1="459.10" x2="373.50" y2="459.10" stroke="#f00" stroke-width="0.9"/>
<line x1="388.50" y1="454.50" x2="388.50" y2="457.50" stroke="#f00" stroke-width="0.9"/>
<line x1="386.70" y1="454.50" x2="390.30" y2="454.50" stroke="#f00" stroke-width="0.9"/>
<line x1="386.70" y1="457.50" x2="390.30" y2="457.50" stroke="#f00" stroke-width="0.9"/>
<line x1="405.20" y1="453.30" x2="405.20" y2="456.30" stroke="#f00" stroke-width="0.9"/>
<line x1="403.40" y1="453.30" x2="407.00" y2="453.30" stroke="#f00" stroke-width="0.9"/>
<line x1="403.40" y1="456.30" x2="407.00" y2="456.30" stroke="#f00" stroke-width="0.9"/>
<line x1="423.20" y1="433.10" x2="423.20" y2="446.10" stroke="#f00" stroke-width="0.9"/>
<line x1="421.40" y1="433.10" x2="425.00" y2="433.10" stroke="#f00" stroke-width="0.9"/>
<line x1="421.40" y1="446.10" x2="425.00" y2="446.10" stroke="#f00" stroke-width="0.9"/>
<line x1="440.20" y1="432.50" x2="440.20" y2="445.50" stroke="#f00" stroke-width="0.9"/>
<line x1="438.40" y1="432.50" x2="442.00" y2="432.50" stroke="#f00" stroke-width="0.9"/>
<line x1="438.40" y1="445.50" x2="442.00" y2="445.50" stroke="#f00" stroke-width="0.9"/>
<line x1="457.30" y1="433.20" x2="457.30" y2="445.20" stroke="#f00" stroke-width="0.9"/>
<line x1="455.50" y1="433.20" x2="459.10" y2="433.20" stroke="#f00" stroke-width="0.9"/>
<line x1="455.50" y1="445.20" x2="459.10" y2="445.20" stroke="#f00" stroke-width="0.9"/>
<line x1="474.80" y1="460.80" x2="474.80" y2="462.80" stroke="#f00" stroke-width="0.9"/>
<line x1="473.00" y1="460.80" x2="476.60" y2="460.80" stroke="#f00" stroke-width="0.9"/>
<line x1="473.00" y1="462.80" x2="476.60" y2="462.80" stroke="#f00" stroke-width="0.9"/>
<line x1="491.60" y1="460.80" x2="491.60" y2="462.80" stroke="#f00" stroke-width="0.9"/>
<line x1="489.80" y1="460.80" x2="493.40" y2="460.80" stroke="#f00" stroke-width="0.9"/>
<line x1="489.80" y1="462.80" x2="493.40" y2="462.80" stroke="#f00" stroke-width="0.9"/>
<line x1="508.70" y1="460.80" x2="508.70" y2="462.80" stroke="#f00" stroke-width="0.9"/>
<line x1="506.90" y1="460.80" x2="510.50" y2="460.80" stroke="#f00" stroke-width="0.9"/>
<line x1="506.90" y1="462.80" x2="510.50" y2="462.80" stroke="#f00" stroke-width="0.9"/>
<line x1="319.60" y1="438.30" x2="319.60" y2="442.30" stroke="#f08000" stroke-width="0.9"/>
<line x1="317.80" y1="438.30" x2="321.40" y2="438.30" stroke="#f08000" stroke-width="0.9"/>
<line x1="317.80" y1="442.30" x2="321.40" y2="442.30" stroke="#f08000" stroke-width="0.9"/>
<line x1="336.60" y1="439.00" x2="336.60" y2="443.00" stroke="#f08000" stroke-width="0.9"/>
<line x1="334.80" y1="439.00" x2="338.40" y2="439.00" stroke="#f08000" stroke-width="0.9"/>
<line x1="334.80" y1="443.00" x2="338.40" y2="443.00" stroke="#f08000" stroke-width="0.9"/>
<line x1="353.40" y1="439.00" x2="353.40" y2="443.00" stroke="#f08000" stroke-width="0.9"/>
<line x1="351.60" y1="439.00" x2="355.20" y2="439.00" stroke="#f08000" stroke-width="0.9"/>
<line x1="351.60" y1="443.00" x2="355.20" y2="443.00" stroke="#f08000" stroke-width="0.9"/>
<line x1="371.70" y1="449.50" x2="371.70" y2="452.50" stroke="#f08000" stroke-width="0.9"/>
<line x1="369.90" y1="449.50" x2="373.50" y2="449.50" stroke="#f08000" stroke-width="0.9"/>
<line x1="369.90" y1="452.50" x2="373.50" y2="452.50" stroke="#f08000" stroke-width="0.9"/>
<line x1="388.50" y1="447.50" x2="388.50" y2="450.50" stroke="#f08000" stroke-width="0.9"/>
<line x1="386.70" y1="447.50" x2="390.30" y2="447.50" stroke="#f08000" stroke-width="0.9"/>
<line x1="386.70" y1="450.50" x2="390.30" y2="450.50" stroke="#f08000" stroke-width="0.9"/>
<line x1="405.20" y1="445.90" x2="405.20" y2="448.90" stroke="#f08000" stroke-width="0.9"/>
<line x1="403.40" y1="445.90" x2="407.00" y2="445.90" stroke="#f08000" stroke-width="0.9"/>
<line x1="403.40" y1="448.90" x2="407.00" y2="448.90" stroke="#f08000" stroke-width="0.9"/>
<line x1="423.20" y1="407.60" x2="423.20" y2="421.60" stroke="#f08000" stroke-width="0.9"/>
<line x1="421.40" y1="407.60" x2="425.00" y2="407.60" stroke="#f08000" stroke-width="0.9"/>
<line x1="421.40" y1="421.60" x2="425.00" y2="421.60" stroke="#f08000" stroke-width="0.9"/>
<line x1="440.20" y1="410.90" x2="440.20" y2="424.90" stroke="#f08000" stroke-width="0.9"/>
<line x1="438.40" y1="410.90" x2="442.00" y2="410.90" stroke="#f08000" stroke-width="0.9"/>
<line x1="438.40" y1="424.90" x2="442.00" y2="424.90" stroke="#f08000" stroke-width="0.9"/>
<line x1="457.30" y1="412.60" x2="457.30" y2="425.60" stroke="#f08000" stroke-width="0.9"/>
<line x1="455.50" y1="412.60" x2="459.10" y2="412.60" stroke="#f08000" stroke-width="0.9"/>
<line x1="455.50" y1="425.60" x2="459.10" y2="425.60" stroke="#f08000" stroke-width="0.9"/>
<line x1="474.80" y1="459.20" x2="474.80" y2="461.20" stroke="#f08000" stroke-width="0.9"/>
<line x1="473.00" y1="459.20" x2="476.60" y2="459.20" stroke="#f08000" stroke-width="0.9"/>
<line x1="473.00" y1="461.20" x2="476.60" y2="461.20" stroke="#f08000" stroke-width="0.9"/>
<line x1="491.60" y1="459.20" x2="491.60" y2="461.20" stroke="#f08000" stroke-width="0.9"/>
<line x1="489.80" y1="459.20" x2="493.40" y2="459.20" stroke="#f08000" stroke-width="0.9"/>
<line x1="489.80" y1="461.20" x2="493.40" y2="461.20" stroke="#f08000" stroke-width="0.9"/>
<line x1="508.70" y1="459.20" x2="508.70" y2="461.20" stroke="#f08000" stroke-width="0.9"/>
<line x1="506.90" y1="459.20" x2="510.50" y2="459.20" stroke="#f08000" stroke-width="0.9"/>
<line x1="506.90" y1="461.20" x2="510.50" y2="461.20" stroke="#f08000" stroke-width="0.9"/>
<line x1="319.60" y1="434.60" x2="319.60" y2="438.60" stroke="#00f" stroke-width="0.9"/>
<line x1="317.80" y1="434.60" x2="321.40" y2="434.60" stroke="#00f" stroke-width="0.9"/>
<line x1="317.80" y1="438.60" x2="321.40" y2="438.60" stroke="#00f" stroke-width="0.9"/>
<line x1="336.60" y1="435.50" x2="336.60" y2="439.50" stroke="#00f" stroke-width="0.9"/>
<line x1="334.80" y1="435.50" x2="338.40" y2="435.50" stroke="#00f" stroke-width="0.9"/>
<line x1="334.80" y1="439.50" x2="338.40" y2="439.50" stroke="#00f" stroke-width="0.9"/>
<line x1="353.40" y1="435.50" x2="353.40" y2="439.50" stroke="#00f" stroke-width="0.9"/>
<line x1="351.60" y1="435.50" x2="355.20" y2="435.50" stroke="#00f" stroke-width="0.9"/>
<line x1="351.60" y1="439.50" x2="355.20" y2="439.50" stroke="#00f" stroke-width="0.9"/>
<line x1="371.70" y1="450.30" x2="371.70" y2="453.30" stroke="#00f" stroke-width="0.9"/>
<line x1="369.90" y1="450.30" x2="373.50" y2="450.30" stroke="#00f" stroke-width="0.9"/>
<line x1="369.90" y1="453.30" x2="373.50" y2="453.30" stroke="#00f" stroke-width="0.9"/>
<line x1="388.50" y1="446.80" x2="388.50" y2="449.80" stroke="#00f" stroke-width="0.9"/>
<line x1="386.70" y1="446.80" x2="390.30" y2="446.80" stroke="#00f" stroke-width="0.9"/>
<line x1="386.70" y1="449.80" x2="390.30" y2="449.80" stroke="#00f" stroke-width="0.9"/>
<line x1="405.20" y1="443.50" x2="405.20" y2="446.50" stroke="#00f" stroke-width="0.9"/>
<line x1="403.40" y1="443.50" x2="407.00" y2="443.50" stroke="#00f" stroke-width="0.9"/>
<line x1="403.40" y1="446.50" x2="407.00" y2="446.50" stroke="#00f" stroke-width="0.9"/>
<line x1="423.20" y1="402.00" x2="423.20" y2="411.00" stroke="#00f" stroke-width="0.9"/>
<line x1="421.40" y1="402.00" x2="425.00" y2="402.00" stroke="#00f" stroke-width="0.9"/>
<line x1="421.40" y1="411.00" x2="425.00" y2="411.00" stroke="#00f" stroke-width="0.9"/>
<line x1="440.20" y1="403.60" x2="440.20" y2="412.60" stroke="#00f" stroke-width="0.9"/>
<line x1="438.40" y1="403.60" x2="442.00" y2="403.60" stroke="#00f" stroke-width="0.9"/>
<line x1="438.40" y1="412.60" x2="442.00" y2="412.60" stroke="#00f" stroke-width="0.9"/>
<line x1="457.30" y1="404.50" x2="457.30" y2="413.50" stroke="#00f" stroke-width="0.9"/>
<line x1="455.50" y1="404.50" x2="459.10" y2="404.50" stroke="#00f" stroke-width="0.9"/>
<line x1="455.50" y1="413.50" x2="459.10" y2="413.50" stroke="#00f" stroke-width="0.9"/>
<line x1="474.80" y1="458.80" x2="474.80" y2="460.80" stroke="#00f" stroke-width="0.9"/>
<line x1="473.00" y1="458.80" x2="476.60" y2="458.80" stroke="#00f" stroke-width="0.9"/>
<line x1="473.00" y1="460.80" x2="476.60" y2="460.80" stroke="#00f" stroke-width="0.9"/>
<line x1="491.60" y1="458.80" x2="491.60" y2="460.80" stroke="#00f" stroke-width="0.9"/>
<line x1="489.80" y1="458.80" x2="493.40" y2="458.80" stroke="#00f" stroke-width="0.9"/>
<line x1="489.80" y1="460.80" x2="493.40" y2="460.80" stroke="#00f" stroke-width="0.9"/>
<line x1="508.70" y1="458.80" x2="508.70" y2="460.80" stroke="#00f" stroke-width="0.9"/>
<line x1="506.90" y1="458.80" x2="510.50" y2="458.80" stroke="#00f" stroke-width="0.9"/>
<line x1="506.90" y1="460.80" x2="510.50" y2="460.80" stroke="#00f" stroke-width="0.9"/>
<line x1="319.60" y1="427.60" x2="319.60" y2="431.60" stroke="#9a10d8" stroke-width="0.9"/>
<line x1="317.80" y1="427.60" x2="321.40" y2="427.60" stroke="#9a10d8" stroke-width="0.9"/>
<line x1="317.80" y1="431.60" x2="321.40" y2="431.60" stroke="#9a10d8" stroke-width="0.9"/>
<line x1="336.60" y1="428.20" x2="336.60" y2="432.20" stroke="#9a10d8" stroke-width="0.9"/>
<line x1="334.80" y1="428.20" x2="338.40" y2="428.20" stroke="#9a10d8" stroke-width="0.9"/>
<line x1="334.80" y1="432.20" x2="338.40" y2="432.20" stroke="#9a10d8" stroke-width="0.9"/>
<line x1="353.40" y1="428.40" x2="353.40" y2="432.40" stroke="#9a10d8" stroke-width="0.9"/>
<line x1="351.60" y1="428.40" x2="355.20" y2="428.40" stroke="#9a10d8" stroke-width="0.9"/>
<line x1="351.60" y1="432.40" x2="355.20" y2="432.40" stroke="#9a10d8" stroke-width="0.9"/>
<line x1="371.70" y1="448.70" x2="371.70" y2="451.70" stroke="#9a10d8" stroke-width="0.9"/>
<line x1="369.90" y1="448.70" x2="373.50" y2="448.70" stroke="#9a10d8" stroke-width="0.9"/>
<line x1="369.90" y1="451.70" x2="373.50" y2="451.70" stroke="#9a10d8" stroke-width="0.9"/>
<line x1="388.50" y1="443.50" x2="388.50" y2="446.50" stroke="#9a10d8" stroke-width="0.9"/>
<line x1="386.70" y1="443.50" x2="390.30" y2="443.50" stroke="#9a10d8" stroke-width="0.9"/>
<line x1="386.70" y1="446.50" x2="390.30" y2="446.50" stroke="#9a10d8" stroke-width="0.9"/>
<line x1="405.20" y1="440.00" x2="405.20" y2="443.00" stroke="#9a10d8" stroke-width="0.9"/>
<line x1="403.40" y1="440.00" x2="407.00" y2="440.00" stroke="#9a10d8" stroke-width="0.9"/>
<line x1="403.40" y1="443.00" x2="407.00" y2="443.00" stroke="#9a10d8" stroke-width="0.9"/>
<line x1="423.20" y1="378.70" x2="423.20" y2="391.70" stroke="#9a10d8" stroke-width="0.9"/>
<line x1="421.40" y1="378.70" x2="425.00" y2="378.70" stroke="#9a10d8" stroke-width="0.9"/>
<line x1="421.40" y1="391.70" x2="425.00" y2="391.70" stroke="#9a10d8" stroke-width="0.9"/>
<line x1="440.20" y1="385.80" x2="440.20" y2="397.80" stroke="#9a10d8" stroke-width="0.9"/>
<line x1="438.40" y1="385.80" x2="442.00" y2="385.80" stroke="#9a10d8" stroke-width="0.9"/>
<line x1="438.40" y1="397.80" x2="442.00" y2="397.80" stroke="#9a10d8" stroke-width="0.9"/>
<line x1="457.30" y1="391.80" x2="457.30" y2="403.80" stroke="#9a10d8" stroke-width="0.9"/>
<line x1="455.50" y1="391.80" x2="459.10" y2="391.80" stroke="#9a10d8" stroke-width="0.9"/>
<line x1="455.50" y1="403.80" x2="459.10" y2="403.80" stroke="#9a10d8" stroke-width="0.9"/>
<line x1="474.80" y1="458.50" x2="474.80" y2="460.50" stroke="#9a10d8" stroke-width="0.9"/>
<line x1="473.00" y1="458.50" x2="476.60" y2="458.50" stroke="#9a10d8" stroke-width="0.9"/>
<line x1="473.00" y1="460.50" x2="476.60" y2="460.50" stroke="#9a10d8" stroke-width="0.9"/>
<line x1="491.60" y1="458.50" x2="491.60" y2="460.50" stroke="#9a10d8" stroke-width="0.9"/>
<line x1="489.80" y1="458.50" x2="493.40" y2="458.50" stroke="#9a10d8" stroke-width="0.9"/>
<line x1="489.80" y1="460.50" x2="493.40" y2="460.50" stroke="#9a10d8" stroke-width="0.9"/>
<line x1="508.70" y1="458.50" x2="508.70" y2="460.50" stroke="#9a10d8" stroke-width="0.9"/>
<line x1="506.90" y1="458.50" x2="510.50" y2="458.50" stroke="#9a10d8" stroke-width="0.9"/>
<line x1="506.90" y1="460.50" x2="510.50" y2="460.50" stroke="#9a10d8" stroke-width="0.9"/>
<polyline points="319.60,450.20 336.60,450.20 353.40,450.20 371.70,457.60 388.50,456.00 405.20,454.80 423.20,439.60 440.20,439.00 457.30,439.20 474.80,461.80 491.60,461.80 508.70,461.80" fill="none" stroke="#f00" stroke-width="1.45" stroke-linejoin="round"/>
<polyline points="319.60,440.30 336.60,441.00 353.40,441.00 371.70,451.00 388.50,449.00 405.20,447.40 423.20,414.60 440.20,417.90 457.30,419.10 474.80,460.20 491.60,460.20 508.70,460.20" fill="none" stroke="#f08000" stroke-width="1.45" stroke-linejoin="round"/>
<polyline points="319.60,436.60 336.60,437.50 353.40,437.50 371.70,451.80 388.50,448.30 405.20,445.00 423.20,406.50 440.20,408.10 457.30,409.00 474.80,459.80 491.60,459.80 508.70,459.80" fill="none" stroke="#00f" stroke-width="1.45" stroke-linejoin="round"/>
<polyline points="319.60,429.60 336.60,430.20 353.40,430.40 371.70,450.20 388.50,445.00 405.20,441.50 423.20,385.20 440.20,391.80 457.30,397.80 474.80,459.50 491.60,459.50 508.70,459.50" fill="none" stroke="#9a10d8" stroke-width="1.45" stroke-linejoin="round"/>
<circle cx="319.60" cy="450.20" r="2.4" fill="#fff" stroke="#000" stroke-width="1.1"/>
<circle cx="336.60" cy="450.20" r="2.4" fill="#fff" stroke="#000" stroke-width="1.1"/>
<circle cx="353.40" cy="450.20" r="2.4" fill="#fff" stroke="#000" stroke-width="1.1"/>
<circle cx="371.70" cy="457.60" r="2.4" fill="#fff" stroke="#000" stroke-width="1.1"/>
<circle cx="388.50" cy="456.00" r="2.4" fill="#fff" stroke="#000" stroke-width="1.1"/>
<circle cx="405.20" cy="454.80" r="2.4" fill="#fff" stroke="#000" stroke-width="1.1"/>
<circle cx="423.20" cy="439.60" r="2.4" fill="#fff" stroke="#000" stroke-width="1.1"/>
<circle cx="440.20" cy="439.00" r="2.4" fill="#fff" stroke="#000" stroke-width="1.1"/>
<circle cx="457.30" cy="439.20" r="2.4" fill="#fff" stroke="#000" stroke-width="1.1"/>
<circle cx="474.80" cy="461.80" r="2.4" fill="#fff" stroke="#000" stroke-width="1.1"/>
<circle cx="491.60" cy="461.80" r="2.4" fill="#fff" stroke="#000" stroke-width="1.1"/>
<circle cx="508.70" cy="461.80" r="2.4" fill="#fff" stroke="#000" stroke-width="1.1"/>
<circle cx="319.60" cy="440.30" r="2.4" fill="#fff" stroke="#000" stroke-width="1.1"/>
<circle cx="336.60" cy="441.00" r="2.4" fill="#fff" stroke="#000" stroke-width="1.1"/>
<circle cx="353.40" cy="441.00" r="2.4" fill="#fff" stroke="#000" stroke-width="1.1"/>
<circle cx="371.70" cy="451.00" r="2.4" fill="#fff" stroke="#000" stroke-width="1.1"/>
<circle cx="388.50" cy="449.00" r="2.4" fill="#fff" stroke="#000" stroke-width="1.1"/>
<circle cx="405.20" cy="447.40" r="2.4" fill="#fff" stroke="#000" stroke-width="1.1"/>
<circle cx="423.20" cy="414.60" r="2.4" fill="#fff" stroke="#000" stroke-width="1.1"/>
<circle cx="440.20" cy="417.90" r="2.4" fill="#fff" stroke="#000" stroke-width="1.1"/>
<circle cx="457.30" cy="419.10" r="2.4" fill="#fff" stroke="#000" stroke-width="1.1"/>
<circle cx="474.80" cy="460.20" r="2.4" fill="#fff" stroke="#000" stroke-width="1.1"/>
<circle cx="491.60" cy="460.20" r="2.4" fill="#fff" stroke="#000" stroke-width="1.1"/>
<circle cx="508.70" cy="460.20" r="2.4" fill="#fff" stroke="#000" stroke-width="1.1"/>
<circle cx="319.60" cy="436.60" r="2.4" fill="#fff" stroke="#000" stroke-width="1.1"/>
<circle cx="336.60" cy="437.50" r="2.4" fill="#fff" stroke="#000" stroke-width="1.1"/>
<circle cx="353.40" cy="437.50" r="2.4" fill="#fff" stroke="#000" stroke-width="1.1"/>
<circle cx="371.70" cy="451.80" r="2.4" fill="#fff" stroke="#000" stroke-width="1.1"/>
<circle cx="388.50" cy="448.30" r="2.4" fill="#fff" stroke="#000" stroke-width="1.1"/>
<circle cx="405.20" cy="445.00" r="2.4" fill="#fff" stroke="#000" stroke-width="1.1"/>
<circle cx="423.20" cy="406.50" r="2.4" fill="#fff" stroke="#000" stroke-width="1.1"/>
<circle cx="440.20" cy="408.10" r="2.4" fill="#fff" stroke="#000" stroke-width="1.1"/>
<circle cx="457.30" cy="409.00" r="2.4" fill="#fff" stroke="#000" stroke-width="1.1"/>
<circle cx="474.80" cy="459.80" r="2.4" fill="#fff" stroke="#000" stroke-width="1.1"/>
<circle cx="491.60" cy="459.80" r="2.4" fill="#fff" stroke="#000" stroke-width="1.1"/>
<circle cx="508.70" cy="459.80" r="2.4" fill="#fff" stroke="#000" stroke-width="1.1"/>
<circle cx="319.60" cy="429.60" r="2.4" fill="#fff" stroke="#000" stroke-width="1.1"/>
<circle cx="336.60" cy="430.20" r="2.4" fill="#fff" stroke="#000" stroke-width="1.1"/>
<circle cx="353.40" cy="430.40" r="2.4" fill="#fff" stroke="#000" stroke-width="1.1"/>
<circle cx="371.70" cy="450.20" r="2.4" fill="#fff" stroke="#000" stroke-width="1.1"/>
<circle cx="388.50" cy="445.00" r="2.4" fill="#fff" stroke="#000" stroke-width="1.1"/>
<circle cx="405.20" cy="441.50" r="2.4" fill="#fff" stroke="#000" stroke-width="1.1"/>
<circle cx="423.20" cy="385.20" r="2.4" fill="#fff" stroke="#000" stroke-width="1.1"/>
<circle cx="440.20" cy="391.80" r="2.4" fill="#fff" stroke="#000" stroke-width="1.1"/>
<circle cx="457.30" cy="397.80" r="2.4" fill="#fff" stroke="#000" stroke-width="1.1"/>
<circle cx="474.80" cy="459.50" r="2.4" fill="#fff" stroke="#000" stroke-width="1.1"/>
<circle cx="491.60" cy="459.50" r="2.4" fill="#fff" stroke="#000" stroke-width="1.1"/>
<circle cx="508.70" cy="459.50" r="2.4" fill="#fff" stroke="#000" stroke-width="1.1"/>
<line x1="321.90" y1="322.10" x2="330.10" y2="322.10" stroke="#2020ff" stroke-width="1.0"/>
<text x="334.30" y="325.90" font-size="8.2" textLength="56.00" lengthAdjust="spacingAndGlyphs">GFP, NaOX (–)</text>
<line x1="321.90" y1="336.20" x2="330.10" y2="336.20" stroke="#f00" stroke-width="1.0"/>
<text x="334.30" y="340.00" font-size="8.2" textLength="56.00" lengthAdjust="spacingAndGlyphs">GFP, NaOX (+)</text>
<line x1="418.00" y1="322.10" x2="426.20" y2="322.10" stroke="#9a10d8" stroke-width="1.0"/>
<text x="430.40" y="325.90" font-size="8.2" textLength="66.60" lengthAdjust="spacingAndGlyphs">PPARα, NaOX (–)</text>
<line x1="418.00" y1="336.20" x2="426.20" y2="336.20" stroke="#f08000" stroke-width="1.0"/>
<text x="430.40" y="340.00" font-size="8.2" textLength="66.60" lengthAdjust="spacingAndGlyphs">PPARα, NaOX (+)</text>
<text x="285.00" y="406.30" font-size="8.2" text-anchor="middle" textLength="17.00" lengthAdjust="spacingAndGlyphs" transform="rotate(-90 285.00 406.30)">OCR</text>
<text x="293.20" y="406.30" font-size="8.2" text-anchor="middle" textLength="108.70" lengthAdjust="spacingAndGlyphs" transform="rotate(-90 293.20 406.30)">(pmol min<tspan dy="-3" font-size="5.6">−1</tspan><tspan dy="3"> per µg protein)</tspan></text>
<text transform="translate(544.50 329.50) scale(1.07 1)" font-size="11.5" font-weight="bold" fill="#000" stroke="#000" stroke-width="0.3">j</text>
<line x1="589.30" y1="399.00" x2="681.60" y2="399.00" stroke="#e2e2e2" stroke-width="0.8"/>
<line x1="589.30" y1="339.60" x2="589.30" y2="458.40" stroke="#8c8c8c" stroke-width="0.9"/>
<line x1="586.30" y1="458.40" x2="589.30" y2="458.40" stroke="#8c8c8c" stroke-width="0.9"/>
<line x1="586.30" y1="428.70" x2="589.30" y2="428.70" stroke="#8c8c8c" stroke-width="0.9"/>
<line x1="586.30" y1="399.00" x2="589.30" y2="399.00" stroke="#8c8c8c" stroke-width="0.9"/>
<line x1="586.30" y1="369.30" x2="589.30" y2="369.30" stroke="#8c8c8c" stroke-width="0.9"/>
<line x1="586.30" y1="339.60" x2="589.30" y2="339.60" stroke="#8c8c8c" stroke-width="0.9"/>
<text x="583.20" y="342.15" font-size="7.3" text-anchor="end">2.0</text>
<text x="583.20" y="371.85" font-size="7.3" text-anchor="end">1.5</text>
<text x="583.20" y="401.56" font-size="7.3" text-anchor="end">1.0</text>
<text x="583.20" y="431.25" font-size="7.3" text-anchor="end">0.5</text>
<text x="583.20" y="460.95" font-size="7.3" text-anchor="end">0</text>
<line x1="586.30" y1="458.40" x2="683.90" y2="458.40" stroke="#8c8c8c" stroke-width="0.9"/>
<line x1="611.90" y1="458.40" x2="611.90" y2="461.40" stroke="#aaa" stroke-width="0.9"/>
<line x1="639.10" y1="458.40" x2="639.10" y2="461.40" stroke="#aaa" stroke-width="0.9"/>
<line x1="666.50" y1="458.40" x2="666.50" y2="461.40" stroke="#aaa" stroke-width="0.9"/>
<line x1="601.30" y1="357.70" x2="620.50" y2="357.70" stroke="#1a1a1a" stroke-width="0.9" stroke-dasharray="2.2,1.0,0.8,1.0"/>
<line x1="611.90" y1="354.30" x2="611.90" y2="362.20" stroke="#000" stroke-width="1.0"/>
<line x1="609.70" y1="354.30" x2="614.10" y2="354.30" stroke="#000" stroke-width="1.0"/>
<line x1="609.70" y1="362.20" x2="614.10" y2="362.20" stroke="#000" stroke-width="1.0"/>
<circle cx="606.90" cy="355.40" r="2.15" fill="#f00" stroke="#000" stroke-width="0.85"/>
<circle cx="616.40" cy="351.40" r="2.15" fill="#f00" stroke="#000" stroke-width="0.85"/>
<circle cx="616.40" cy="356.10" r="2.15" fill="#f00" stroke="#000" stroke-width="0.85"/>
<circle cx="611.90" cy="370.20" r="2.15" fill="#f00" stroke="#000" stroke-width="0.85"/>
<line x1="628.00" y1="421.80" x2="650.00" y2="421.80" stroke="#1a1a1a" stroke-width="0.9" stroke-dasharray="2.2,1.0,0.8,1.0"/>
<circle cx="630.70" cy="424.00" r="2.15" fill="#9a10d8" stroke="#000" stroke-width="0.85"/>
<circle cx="636.40" cy="419.90" r="2.15" fill="#9a10d8" stroke="#000" stroke-width="0.85"/>
<circle cx="642.00" cy="422.70" r="2.15" fill="#9a10d8" stroke="#000" stroke-width="0.85"/>
<circle cx="647.70" cy="420.40" r="2.15" fill="#9a10d8" stroke="#000" stroke-width="0.85"/>
<line x1="659.40" y1="392.30" x2="674.80" y2="392.30" stroke="#1a1a1a" stroke-width="0.9" stroke-dasharray="2.2,1.0,0.8,1.0"/>
<line x1="666.50" y1="388.00" x2="666.50" y2="397.00" stroke="#000" stroke-width="1.0"/>
<line x1="664.30" y1="388.00" x2="668.70" y2="388.00" stroke="#000" stroke-width="1.0"/>
<line x1="664.30" y1="397.00" x2="668.70" y2="397.00" stroke="#000" stroke-width="1.0"/>
<circle cx="666.50" cy="386.00" r="2.15" fill="#f08000" stroke="#000" stroke-width="0.85"/>
<circle cx="661.30" cy="391.60" r="2.15" fill="#f08000" stroke="#000" stroke-width="0.85"/>
<circle cx="671.40" cy="392.10" r="2.15" fill="#f08000" stroke="#000" stroke-width="0.85"/>
<circle cx="666.50" cy="402.30" r="2.15" fill="#f08000" stroke="#000" stroke-width="0.85"/>
<polyline points="611.90,337.30 611.90,333.50 666.50,333.50 666.50,380.30" fill="none" stroke="#8c8c8c" stroke-width="0.8"/>
<text x="614.20" y="329.90" font-size="8.2" textLength="51.10" lengthAdjust="spacingAndGlyphs"><tspan font-style="italic">P</tspan> = 5.0 × 10<tspan dy="-3.2" font-size="5.6">−6</tspan></text>
<text x="592.90" y="345.30" font-size="8.2" textLength="42.30" lengthAdjust="spacingAndGlyphs"><tspan font-style="italic">P</tspan> &lt; 0.0001</text>
<text x="617.80" y="412.00" font-size="8.2" textLength="43.90" lengthAdjust="spacingAndGlyphs"><tspan font-style="italic">P</tspan> = 0.0003</text>
<text x="552.00" y="399.50" font-size="8.2" text-anchor="middle" textLength="113.10" lengthAdjust="spacingAndGlyphs" transform="rotate(-90 552.00 399.50)">Fold Nile red intensity (AFU)</text>
<text x="562.20" y="399.50" font-size="8.2" text-anchor="middle" textLength="94.00" lengthAdjust="spacingAndGlyphs" transform="rotate(-90 562.20 399.50)">relative to GFP NaOX (–)</text>
<text x="596.80" y="471.10" font-size="8.2" text-anchor="end">NaOX:</text>
<text x="596.80" y="482.70" font-size="8.2" text-anchor="end">GFP:</text>
<text x="596.80" y="494.80" font-size="8.2" text-anchor="end">PPARα:</text>
<text x="611.60" y="470.80" font-size="7.0" text-anchor="middle">(+)</text>
<text x="611.60" y="482.40" font-size="7.0" text-anchor="middle">(+)</text>
<text x="611.60" y="494.50" font-size="7.0" text-anchor="middle">(–)</text>
<text x="638.80" y="470.80" font-size="7.0" text-anchor="middle">(–)</text>
<text x="638.80" y="482.40" font-size="7.0" text-anchor="middle">(–)</text>
<text x="638.80" y="494.50" font-size="7.0" text-anchor="middle">(+)</text>
<text x="666.20" y="470.80" font-size="7.0" text-anchor="middle">(+)</text>
<text x="666.20" y="482.40" font-size="7.0" text-anchor="middle">(–)</text>
<text x="666.20" y="494.50" font-size="7.0" text-anchor="middle">(+)</text>
<text transform="translate(0.00 514.90) scale(1.07 1)" font-size="11.5" font-weight="bold" fill="#000" stroke="#000" stroke-width="0.3">k</text>
<line x1="50.00" y1="530.10" x2="50.00" y2="671.40" stroke="#b0b0b0" stroke-width="0.9"/>
<line x1="47.00" y1="671.40" x2="50.00" y2="671.40" stroke="#b0b0b0" stroke-width="0.9"/>
<line x1="47.00" y1="643.14" x2="50.00" y2="643.14" stroke="#b0b0b0" stroke-width="0.9"/>
<line x1="47.00" y1="614.88" x2="50.00" y2="614.88" stroke="#b0b0b0" stroke-width="0.9"/>
<line x1="47.00" y1="586.62" x2="50.00" y2="586.62" stroke="#b0b0b0" stroke-width="0.9"/>
<line x1="47.00" y1="558.36" x2="50.00" y2="558.36" stroke="#b0b0b0" stroke-width="0.9"/>
<line x1="47.00" y1="530.10" x2="50.00" y2="530.10" stroke="#b0b0b0" stroke-width="0.9"/>
<text x="43.20" y="532.65" font-size="7.3" text-anchor="end">10</text>
<text x="43.20" y="560.91" font-size="7.3" text-anchor="end">8</text>
<text x="43.20" y="589.17" font-size="7.3" text-anchor="end">6</text>
<text x="43.20" y="617.43" font-size="7.3" text-anchor="end">4</text>
<text x="43.20" y="645.69" font-size="7.3" text-anchor="end">2</text>
<text x="43.20" y="673.95" font-size="7.3" text-anchor="end">0</text>
<line x1="50.00" y1="671.40" x2="281.50" y2="671.40" stroke="#777" stroke-width="0.9"/>
<line x1="66.60" y1="671.40" x2="66.60" y2="674.90" stroke="#777" stroke-width="0.9"/>
<line x1="91.35" y1="671.40" x2="91.35" y2="674.90" stroke="#777" stroke-width="0.9"/>
<line x1="116.10" y1="671.40" x2="116.10" y2="674.90" stroke="#777" stroke-width="0.9"/>
<line x1="140.85" y1="671.40" x2="140.85" y2="674.90" stroke="#777" stroke-width="0.9"/>
<line x1="165.60" y1="671.40" x2="165.60" y2="674.90" stroke="#777" stroke-width="0.9"/>
<line x1="190.35" y1="671.40" x2="190.35" y2="674.90" stroke="#777" stroke-width="0.9"/>
<line x1="215.10" y1="671.40" x2="215.10" y2="674.90" stroke="#777" stroke-width="0.9"/>
<line x1="239.85" y1="671.40" x2="239.85" y2="674.90" stroke="#777" stroke-width="0.9"/>
<line x1="264.60" y1="671.40" x2="264.60" y2="674.90" stroke="#777" stroke-width="0.9"/>
<text x="66.60" y="685.40" font-size="7.3" text-anchor="middle">0</text>
<text x="116.10" y="685.40" font-size="7.3" text-anchor="middle">20</text>
<text x="165.60" y="685.40" font-size="7.3" text-anchor="middle">40</text>
<text x="215.10" y="685.40" font-size="7.3" text-anchor="middle">60</text>
<text x="264.60" y="685.40" font-size="7.3" text-anchor="middle">80</text>
<text x="144.80" y="698.20" font-size="8.2" textLength="42.30" lengthAdjust="spacingAndGlyphs">Time (min)</text>
<line x1="116.10" y1="518.40" x2="116.10" y2="671.40" stroke="#111" stroke-width="1.0" stroke-dasharray="2.6,1.6"/>
<line x1="189.60" y1="519.50" x2="189.60" y2="671.40" stroke="#999" stroke-width="0.9" stroke-dasharray="2,1.6"/>
<line x1="66.60" y1="604.70" x2="66.60" y2="613.70" stroke="#000" stroke-width="1.0"/>
<line x1="64.30" y1="604.70" x2="68.90" y2="604.70" stroke="#000" stroke-width="1.0"/>
<line x1="64.30" y1="613.70" x2="68.90" y2="613.70" stroke="#000" stroke-width="1.0"/>
<line x1="91.10" y1="604.00" x2="91.10" y2="613.00" stroke="#000" stroke-width="1.0"/>
<line x1="88.80" y1="604.00" x2="93.40" y2="604.00" stroke="#000" stroke-width="1.0"/>
<line x1="88.80" y1="613.00" x2="93.40" y2="613.00" stroke="#000" stroke-width="1.0"/>
<line x1="116.10" y1="603.60" x2="116.10" y2="612.60" stroke="#000" stroke-width="1.0"/>
<line x1="113.80" y1="603.60" x2="118.40" y2="603.60" stroke="#000" stroke-width="1.0"/>
<line x1="113.80" y1="612.60" x2="118.40" y2="612.60" stroke="#000" stroke-width="1.0"/>
<line x1="141.00" y1="603.10" x2="141.00" y2="612.10" stroke="#000" stroke-width="1.0"/>
<line x1="138.70" y1="603.10" x2="143.30" y2="603.10" stroke="#000" stroke-width="1.0"/>
<line x1="138.70" y1="612.10" x2="143.30" y2="612.10" stroke="#000" stroke-width="1.0"/>
<line x1="165.80" y1="601.90" x2="165.80" y2="610.90" stroke="#000" stroke-width="1.0"/>
<line x1="163.50" y1="601.90" x2="168.10" y2="601.90" stroke="#000" stroke-width="1.0"/>
<line x1="163.50" y1="610.90" x2="168.10" y2="610.90" stroke="#000" stroke-width="1.0"/>
<line x1="190.50" y1="601.20" x2="190.50" y2="610.20" stroke="#000" stroke-width="1.0"/>
<line x1="188.20" y1="601.20" x2="192.80" y2="601.20" stroke="#000" stroke-width="1.0"/>
<line x1="188.20" y1="610.20" x2="192.80" y2="610.20" stroke="#000" stroke-width="1.0"/>
<line x1="215.10" y1="611.50" x2="215.10" y2="620.50" stroke="#000" stroke-width="1.0"/>
<line x1="212.80" y1="611.50" x2="217.40" y2="611.50" stroke="#000" stroke-width="1.0"/>
<line x1="212.80" y1="620.50" x2="217.40" y2="620.50" stroke="#000" stroke-width="1.0"/>
<line x1="239.80" y1="611.50" x2="239.80" y2="620.50" stroke="#000" stroke-width="1.0"/>
<line x1="237.50" y1="611.50" x2="242.10" y2="611.50" stroke="#000" stroke-width="1.0"/>
<line x1="237.50" y1="620.50" x2="242.10" y2="620.50" stroke="#000" stroke-width="1.0"/>
<line x1="264.80" y1="611.50" x2="264.80" y2="620.50" stroke="#000" stroke-width="1.0"/>
<line x1="262.50" y1="611.50" x2="267.10" y2="611.50" stroke="#000" stroke-width="1.0"/>
<line x1="262.50" y1="620.50" x2="267.10" y2="620.50" stroke="#000" stroke-width="1.0"/>
<line x1="66.60" y1="605.50" x2="66.60" y2="614.50" stroke="#000" stroke-width="1.0"/>
<line x1="64.30" y1="605.50" x2="68.90" y2="605.50" stroke="#000" stroke-width="1.0"/>
<line x1="64.30" y1="614.50" x2="68.90" y2="614.50" stroke="#000" stroke-width="1.0"/>
<line x1="91.10" y1="605.00" x2="91.10" y2="614.00" stroke="#000" stroke-width="1.0"/>
<line x1="88.80" y1="605.00" x2="93.40" y2="605.00" stroke="#000" stroke-width="1.0"/>
<line x1="88.80" y1="614.00" x2="93.40" y2="614.00" stroke="#000" stroke-width="1.0"/>
<line x1="116.10" y1="604.50" x2="116.10" y2="613.50" stroke="#000" stroke-width="1.0"/>
<line x1="113.80" y1="604.50" x2="118.40" y2="604.50" stroke="#000" stroke-width="1.0"/>
<line x1="113.80" y1="613.50" x2="118.40" y2="613.50" stroke="#000" stroke-width="1.0"/>
<line x1="141.00" y1="606.10" x2="141.00" y2="615.10" stroke="#000" stroke-width="1.0"/>
<line x1="138.70" y1="606.10" x2="143.30" y2="606.10" stroke="#000" stroke-width="1.0"/>
<line x1="138.70" y1="615.10" x2="143.30" y2="615.10" stroke="#000" stroke-width="1.0"/>
<line x1="165.80" y1="605.00" x2="165.80" y2="614.00" stroke="#000" stroke-width="1.0"/>
<line x1="163.50" y1="605.00" x2="168.10" y2="605.00" stroke="#000" stroke-width="1.0"/>
<line x1="163.50" y1="614.00" x2="168.10" y2="614.00" stroke="#000" stroke-width="1.0"/>
<line x1="190.50" y1="603.10" x2="190.50" y2="612.10" stroke="#000" stroke-width="1.0"/>
<line x1="188.20" y1="603.10" x2="192.80" y2="603.10" stroke="#000" stroke-width="1.0"/>
<line x1="188.20" y1="612.10" x2="192.80" y2="612.10" stroke="#000" stroke-width="1.0"/>
<line x1="215.10" y1="610.80" x2="215.10" y2="619.80" stroke="#000" stroke-width="1.0"/>
<line x1="212.80" y1="610.80" x2="217.40" y2="610.80" stroke="#000" stroke-width="1.0"/>
<line x1="212.80" y1="619.80" x2="217.40" y2="619.80" stroke="#000" stroke-width="1.0"/>
<line x1="239.80" y1="610.80" x2="239.80" y2="619.80" stroke="#000" stroke-width="1.0"/>
<line x1="237.50" y1="610.80" x2="242.10" y2="610.80" stroke="#000" stroke-width="1.0"/>
<line x1="237.50" y1="619.80" x2="242.10" y2="619.80" stroke="#000" stroke-width="1.0"/>
<line x1="264.80" y1="610.80" x2="264.80" y2="619.80" stroke="#000" stroke-width="1.0"/>
<line x1="262.50" y1="610.80" x2="267.10" y2="610.80" stroke="#000" stroke-width="1.0"/>
<line x1="262.50" y1="619.80" x2="267.10" y2="619.80" stroke="#000" stroke-width="1.0"/>
<line x1="66.60" y1="573.40" x2="66.60" y2="583.40" stroke="#000" stroke-width="1.0"/>
<line x1="64.30" y1="573.40" x2="68.90" y2="573.40" stroke="#000" stroke-width="1.0"/>
<line x1="64.30" y1="583.40" x2="68.90" y2="583.40" stroke="#000" stroke-width="1.0"/>
<line x1="91.10" y1="572.50" x2="91.10" y2="582.50" stroke="#000" stroke-width="1.0"/>
<line x1="88.80" y1="572.50" x2="93.40" y2="572.50" stroke="#000" stroke-width="1.0"/>
<line x1="88.80" y1="582.50" x2="93.40" y2="582.50" stroke="#000" stroke-width="1.0"/>
<line x1="116.10" y1="571.50" x2="116.10" y2="581.50" stroke="#000" stroke-width="1.0"/>
<line x1="113.80" y1="571.50" x2="118.40" y2="571.50" stroke="#000" stroke-width="1.0"/>
<line x1="113.80" y1="581.50" x2="118.40" y2="581.50" stroke="#000" stroke-width="1.0"/>
<line x1="141.00" y1="587.40" x2="141.00" y2="597.40" stroke="#000" stroke-width="1.0"/>
<line x1="138.70" y1="587.40" x2="143.30" y2="587.40" stroke="#000" stroke-width="1.0"/>
<line x1="138.70" y1="597.40" x2="143.30" y2="597.40" stroke="#000" stroke-width="1.0"/>
<line x1="165.80" y1="584.80" x2="165.80" y2="594.80" stroke="#000" stroke-width="1.0"/>
<line x1="163.50" y1="584.80" x2="168.10" y2="584.80" stroke="#000" stroke-width="1.0"/>
<line x1="163.50" y1="594.80" x2="168.10" y2="594.80" stroke="#000" stroke-width="1.0"/>
<line x1="190.50" y1="584.10" x2="190.50" y2="594.10" stroke="#000" stroke-width="1.0"/>
<line x1="188.20" y1="584.10" x2="192.80" y2="584.10" stroke="#000" stroke-width="1.0"/>
<line x1="188.20" y1="594.10" x2="192.80" y2="594.10" stroke="#000" stroke-width="1.0"/>
<line x1="215.10" y1="614.50" x2="215.10" y2="624.50" stroke="#000" stroke-width="1.0"/>
<line x1="212.80" y1="614.50" x2="217.40" y2="614.50" stroke="#000" stroke-width="1.0"/>
<line x1="212.80" y1="624.50" x2="217.40" y2="624.50" stroke="#000" stroke-width="1.0"/>
<line x1="239.80" y1="614.50" x2="239.80" y2="624.50" stroke="#000" stroke-width="1.0"/>
<line x1="237.50" y1="614.50" x2="242.10" y2="614.50" stroke="#000" stroke-width="1.0"/>
<line x1="237.50" y1="624.50" x2="242.10" y2="624.50" stroke="#000" stroke-width="1.0"/>
<line x1="264.80" y1="615.40" x2="264.80" y2="625.40" stroke="#000" stroke-width="1.0"/>
<line x1="262.50" y1="615.40" x2="267.10" y2="615.40" stroke="#000" stroke-width="1.0"/>
<line x1="262.50" y1="625.40" x2="267.10" y2="625.40" stroke="#000" stroke-width="1.0"/>
<line x1="66.60" y1="562.30" x2="66.60" y2="573.90" stroke="#000" stroke-width="1.0"/>
<line x1="64.30" y1="562.30" x2="68.90" y2="562.30" stroke="#000" stroke-width="1.0"/>
<line x1="64.30" y1="573.90" x2="68.90" y2="573.90" stroke="#000" stroke-width="1.0"/>
<line x1="91.10" y1="561.40" x2="91.10" y2="573.00" stroke="#000" stroke-width="1.0"/>
<line x1="88.80" y1="561.40" x2="93.40" y2="561.40" stroke="#000" stroke-width="1.0"/>
<line x1="88.80" y1="573.00" x2="93.40" y2="573.00" stroke="#000" stroke-width="1.0"/>
<line x1="116.10" y1="560.00" x2="116.10" y2="571.60" stroke="#000" stroke-width="1.0"/>
<line x1="113.80" y1="560.00" x2="118.40" y2="560.00" stroke="#000" stroke-width="1.0"/>
<line x1="113.80" y1="571.60" x2="118.40" y2="571.60" stroke="#000" stroke-width="1.0"/>
<line x1="141.00" y1="558.80" x2="141.00" y2="570.40" stroke="#000" stroke-width="1.0"/>
<line x1="138.70" y1="558.80" x2="143.30" y2="558.80" stroke="#000" stroke-width="1.0"/>
<line x1="138.70" y1="570.40" x2="143.30" y2="570.40" stroke="#000" stroke-width="1.0"/>
<line x1="165.80" y1="557.60" x2="165.80" y2="569.20" stroke="#000" stroke-width="1.0"/>
<line x1="163.50" y1="557.60" x2="168.10" y2="557.60" stroke="#000" stroke-width="1.0"/>
<line x1="163.50" y1="569.20" x2="168.10" y2="569.20" stroke="#000" stroke-width="1.0"/>
<line x1="190.50" y1="556.50" x2="190.50" y2="568.10" stroke="#000" stroke-width="1.0"/>
<line x1="188.20" y1="556.50" x2="192.80" y2="556.50" stroke="#000" stroke-width="1.0"/>
<line x1="188.20" y1="568.10" x2="192.80" y2="568.10" stroke="#000" stroke-width="1.0"/>
<line x1="215.10" y1="604.80" x2="215.10" y2="616.40" stroke="#000" stroke-width="1.0"/>
<line x1="212.80" y1="604.80" x2="217.40" y2="604.80" stroke="#000" stroke-width="1.0"/>
<line x1="212.80" y1="616.40" x2="217.40" y2="616.40" stroke="#000" stroke-width="1.0"/>
<line x1="239.80" y1="605.30" x2="239.80" y2="616.90" stroke="#000" stroke-width="1.0"/>
<line x1="237.50" y1="605.30" x2="242.10" y2="605.30" stroke="#000" stroke-width="1.0"/>
<line x1="237.50" y1="616.90" x2="242.10" y2="616.90" stroke="#000" stroke-width="1.0"/>
<line x1="264.80" y1="606.00" x2="264.80" y2="617.60" stroke="#000" stroke-width="1.0"/>
<line x1="262.50" y1="606.00" x2="267.10" y2="606.00" stroke="#000" stroke-width="1.0"/>
<line x1="262.50" y1="617.60" x2="267.10" y2="617.60" stroke="#000" stroke-width="1.0"/>
<polyline points="66.60,609.20 91.10,608.50 116.10,608.10 141.00,607.60 165.80,606.40 190.50,605.70 215.10,616.00 239.80,616.00 264.80,616.00" fill="none" stroke="#ff0000" stroke-width="1.5" stroke-linejoin="round"/>
<polyline points="66.60,610.00 91.10,609.50 116.10,609.00 141.00,610.60 165.80,609.50 190.50,607.60 215.10,615.30 239.80,615.30 264.80,615.30" fill="none" stroke="#ff0000" stroke-width="1.5" stroke-linejoin="round" stroke-dasharray="2.6,1.8"/>
<polyline points="66.60,578.40 91.10,577.50 116.10,576.50 141.00,592.40 165.80,589.80 190.50,589.10 215.10,619.50 239.80,619.50 264.80,620.40" fill="none" stroke="#0000ff" stroke-width="1.5" stroke-linejoin="round" stroke-dasharray="3.2,2.2"/>
<polyline points="66.60,568.10 91.10,567.20 116.10,565.80 141.00,564.60 165.80,563.40 190.50,562.30 215.10,610.60 239.80,611.10 264.80,611.80" fill="none" stroke="#0000ff" stroke-width="1.5" stroke-linejoin="round"/>
<circle cx="66.60" cy="609.20" r="2.7" fill="#fff" stroke="#000" stroke-width="1.1"/>
<circle cx="91.10" cy="608.50" r="2.7" fill="#fff" stroke="#000" stroke-width="1.1"/>
<circle cx="116.10" cy="608.10" r="2.7" fill="#fff" stroke="#000" stroke-width="1.1"/>
<circle cx="141.00" cy="607.60" r="2.7" fill="#fff" stroke="#000" stroke-width="1.1"/>
<circle cx="165.80" cy="606.40" r="2.7" fill="#fff" stroke="#000" stroke-width="1.1"/>
<circle cx="190.50" cy="605.70" r="2.7" fill="#fff" stroke="#000" stroke-width="1.1"/>
<circle cx="215.10" cy="616.00" r="2.7" fill="#fff" stroke="#000" stroke-width="1.1"/>
<circle cx="239.80" cy="616.00" r="2.7" fill="#fff" stroke="#000" stroke-width="1.1"/>
<circle cx="264.80" cy="616.00" r="2.7" fill="#fff" stroke="#000" stroke-width="1.1"/>
<circle cx="66.60" cy="610.00" r="2.7" fill="#fff" stroke="#000" stroke-width="1.1"/>
<circle cx="91.10" cy="609.50" r="2.7" fill="#fff" stroke="#000" stroke-width="1.1"/>
<circle cx="116.10" cy="609.00" r="2.7" fill="#fff" stroke="#000" stroke-width="1.1"/>
<circle cx="141.00" cy="610.60" r="2.7" fill="#fff" stroke="#000" stroke-width="1.1"/>
<circle cx="165.80" cy="609.50" r="2.7" fill="#fff" stroke="#000" stroke-width="1.1"/>
<circle cx="190.50" cy="607.60" r="2.7" fill="#fff" stroke="#000" stroke-width="1.1"/>
<circle cx="215.10" cy="615.30" r="2.7" fill="#fff" stroke="#000" stroke-width="1.1"/>
<circle cx="239.80" cy="615.30" r="2.7" fill="#fff" stroke="#000" stroke-width="1.1"/>
<circle cx="264.80" cy="615.30" r="2.7" fill="#fff" stroke="#000" stroke-width="1.1"/>
<circle cx="66.60" cy="578.40" r="2.7" fill="#fff" stroke="#000" stroke-width="1.1"/>
<circle cx="91.10" cy="577.50" r="2.7" fill="#fff" stroke="#000" stroke-width="1.1"/>
<circle cx="116.10" cy="576.50" r="2.7" fill="#fff" stroke="#000" stroke-width="1.1"/>
<circle cx="141.00" cy="592.40" r="2.7" fill="#fff" stroke="#000" stroke-width="1.1"/>
<circle cx="165.80" cy="589.80" r="2.7" fill="#fff" stroke="#000" stroke-width="1.1"/>
<circle cx="190.50" cy="589.10" r="2.7" fill="#fff" stroke="#000" stroke-width="1.1"/>
<circle cx="215.10" cy="619.50" r="2.7" fill="#fff" stroke="#000" stroke-width="1.1"/>
<circle cx="239.80" cy="619.50" r="2.7" fill="#fff" stroke="#000" stroke-width="1.1"/>
<circle cx="264.80" cy="620.40" r="2.7" fill="#fff" stroke="#000" stroke-width="1.1"/>
<circle cx="66.60" cy="568.10" r="2.7" fill="#fff" stroke="#000" stroke-width="1.1"/>
<circle cx="91.10" cy="567.20" r="2.7" fill="#fff" stroke="#000" stroke-width="1.1"/>
<circle cx="116.10" cy="565.80" r="2.7" fill="#fff" stroke="#000" stroke-width="1.1"/>
<circle cx="141.00" cy="564.60" r="2.7" fill="#fff" stroke="#000" stroke-width="1.1"/>
<circle cx="165.80" cy="563.40" r="2.7" fill="#fff" stroke="#000" stroke-width="1.1"/>
<circle cx="190.50" cy="562.30" r="2.7" fill="#fff" stroke="#000" stroke-width="1.1"/>
<circle cx="215.10" cy="610.60" r="2.7" fill="#fff" stroke="#000" stroke-width="1.1"/>
<circle cx="239.80" cy="611.10" r="2.7" fill="#fff" stroke="#000" stroke-width="1.1"/>
<circle cx="264.80" cy="611.80" r="2.7" fill="#fff" stroke="#000" stroke-width="1.1"/>
<text x="71.60" y="534.15" font-size="8.0" text-anchor="middle" textLength="47.90" lengthAdjust="spacingAndGlyphs" transform="rotate(-90 71.60 534.15)">*<tspan font-style="italic">P</tspan> = 0.0004</text>
<text x="96.10" y="534.15" font-size="8.0" text-anchor="middle" textLength="47.90" lengthAdjust="spacingAndGlyphs" transform="rotate(-90 96.10 534.15)">*<tspan font-style="italic">P</tspan> = 0.0004</text>
<text x="112.50" y="536.45" font-size="8.0" text-anchor="middle" textLength="47.90" lengthAdjust="spacingAndGlyphs" transform="rotate(-90 112.50 536.45)">*<tspan font-style="italic">P</tspan> = 0.0006</text>
<text x="145.20" y="529.45" font-size="8.0" text-anchor="middle" textLength="47.90" lengthAdjust="spacingAndGlyphs" transform="rotate(-90 145.20 529.45)">*<tspan font-style="italic">P</tspan> = 0.0004</text>
<text x="169.40" y="529.45" font-size="8.0" text-anchor="middle" textLength="47.90" lengthAdjust="spacingAndGlyphs" transform="rotate(-90 169.40 529.45)">*<tspan font-style="italic">P</tspan> = 0.0008</text>
<text x="202.60" y="530.60" font-size="8.0" text-anchor="middle" textLength="45.60" lengthAdjust="spacingAndGlyphs" transform="rotate(-90 202.60 530.60)">*<tspan font-style="italic">P</tspan> = 0.0013</text>
<text x="126.50" y="551.05" font-size="8.0" text-anchor="middle" textLength="14.10" lengthAdjust="spacingAndGlyphs" transform="rotate(-90 126.50 551.05)">Eto</text>
<text x="186.20" y="551.25" font-size="8.0" text-anchor="middle" textLength="14.50" lengthAdjust="spacingAndGlyphs" transform="rotate(-90 186.20 551.25)">R/A</text>
<text x="145.40" y="642.75" font-size="8.0" text-anchor="middle" textLength="40.90" lengthAdjust="spacingAndGlyphs" transform="rotate(-90 145.40 642.75)"><tspan font-size="5" dy="-2">#</tspan><tspan font-style="italic" dy="2">P</tspan> = 0.0187</text>
<text x="170.60" y="642.20" font-size="8.0" text-anchor="middle" textLength="44.40" lengthAdjust="spacingAndGlyphs" transform="rotate(-90 170.60 642.20)"><tspan font-size="5" dy="-2">#</tspan><tspan font-style="italic" dy="2">P</tspan> = 0.0398</text>
<text x="201.00" y="639.25" font-size="8.0" text-anchor="middle" textLength="45.50" lengthAdjust="spacingAndGlyphs" transform="rotate(-90 201.00 639.25)"><tspan font-size="5" dy="-2">#</tspan><tspan font-style="italic" dy="2">P</tspan> = 0.0487</text>
<line x1="202.90" y1="558.50" x2="219.30" y2="558.50" stroke="#0000ff" stroke-width="2.2"/>
<line x1="202.90" y1="570.90" x2="219.30" y2="570.90" stroke="#0000ff" stroke-width="2.2" stroke-dasharray="3,2.2"/>
<text x="223.50" y="561.30" font-size="8.2" textLength="29.00" lengthAdjust="spacingAndGlyphs">Control</text>
<text x="223.50" y="573.70" font-size="8.2" textLength="52.50" lengthAdjust="spacingAndGlyphs">Control +Eto.</text>
<line x1="217.60" y1="642.60" x2="234.00" y2="642.60" stroke="#ff0000" stroke-width="2.2"/>
<line x1="217.60" y1="655.70" x2="234.00" y2="655.70" stroke="#ff0000" stroke-width="2.2" stroke-dasharray="3,2.2"/>
<text x="238.00" y="645.40" font-size="8.2" textLength="22.00" lengthAdjust="spacingAndGlyphs">NaOX</text>
<text x="238.00" y="658.20" font-size="8.2" textLength="22.00" lengthAdjust="spacingAndGlyphs">NaOX</text>
<text x="16.80" y="601.90" font-size="8.2" text-anchor="middle" textLength="17.00" lengthAdjust="spacingAndGlyphs" transform="rotate(-90 16.80 601.90)">OCR</text>
<text x="26.20" y="601.90" font-size="8.2" text-anchor="middle" textLength="108.60" lengthAdjust="spacingAndGlyphs" transform="rotate(-90 26.20 601.90)">(pmol min<tspan dy="-3" font-size="5.6">−1</tspan><tspan dy="3"> per µg protein)</tspan></text>
<text transform="translate(321.00 514.40) scale(1.07 1)" font-size="11.5" font-weight="bold" fill="#000" stroke="#000" stroke-width="0.3">l</text>
<rect x="381.40" y="557.10" width="103.10" height="48.20" fill="rgb(242,242,242)"/>
<rect x="382.40" y="557.10" width="15.18" height="48.20" fill="rgb(236,236,236)" filter="url(#blur2)"/>
<rect x="399.58" y="557.10" width="15.18" height="48.20" fill="rgb(243,243,243)" filter="url(#blur2)"/>
<rect x="416.77" y="557.10" width="15.18" height="48.20" fill="rgb(242,242,242)" filter="url(#blur2)"/>
<rect x="433.95" y="557.10" width="15.18" height="48.20" fill="rgb(240,240,240)" filter="url(#blur2)"/>
<rect x="451.13" y="557.10" width="15.18" height="48.20" fill="rgb(237,237,237)" filter="url(#blur2)"/>
<rect x="468.32" y="557.10" width="15.18" height="48.20" fill="rgb(244,244,244)" filter="url(#blur2)"/>
<g filter="url(#blur2)">
<rect x="382.60" y="596.00" width="14.78" height="2.80" fill="rgb(160,160,160)"/>
<rect x="399.78" y="596.00" width="14.78" height="2.80" fill="rgb(167,167,167)"/>
<rect x="416.97" y="596.00" width="14.78" height="2.80" fill="rgb(170,170,170)"/>
<rect x="434.15" y="596.00" width="14.78" height="2.80" fill="rgb(160,160,160)"/>
<rect x="451.33" y="596.00" width="14.78" height="2.80" fill="rgb(170,170,170)"/>
<rect x="468.52" y="596.00" width="14.78" height="2.80" fill="rgb(173,173,173)"/>
<rect x="436.00" y="558.00" width="12.00" height="9.00" fill="#e0e0e0"/>
<rect x="452.50" y="558.00" width="12.00" height="9.00" fill="#e2e2e2"/>
<rect x="469.50" y="558.00" width="12.00" height="9.00" fill="#dedede"/>
<rect x="435.50" y="565.60" width="14.00" height="2.80" fill="#8a8a8a"/>
<rect x="452.00" y="565.60" width="13.00" height="2.80" fill="#929292"/>
<rect x="469.00" y="565.20" width="14.00" height="3.00" fill="#8a8a8a"/>
</g>
<clipPath id="bc21"><rect x="381.40" y="557.10" width="103.10" height="48.20"/></clipPath>
<g clip-path="url(#bc21)" filter="url(#blur3)">
<ellipse cx="383.40" cy="597.40" rx="1.6" ry="1.4" fill="#000"/>
<ellipse cx="393.60" cy="605.00" rx="2.8" ry="1.8" fill="#000"/>
<ellipse cx="435.00" cy="591.00" rx="1.6" ry="1.5" fill="#000"/>
<ellipse cx="435.00" cy="598.00" rx="1.4" ry="1.3" fill="#000"/>
<ellipse cx="396.60" cy="566.50" rx="0.4" ry="0.4" fill="#000"/>
</g>
<rect x="381.40" y="557.10" width="103.10" height="48.20" fill="none" stroke="#686868" stroke-width="1.1" rx="0.8"/>
<rect x="381.40" y="610.50" width="103.10" height="19.70" fill="rgb(234,234,234)"/>
<rect x="382.40" y="610.50" width="15.18" height="19.70" fill="rgb(238,238,238)" filter="url(#blur2)"/>
<rect x="399.58" y="610.50" width="15.18" height="19.70" fill="rgb(228,228,228)" filter="url(#blur2)"/>
<rect x="416.77" y="610.50" width="15.18" height="19.70" fill="rgb(227,227,227)" filter="url(#blur2)"/>
<rect x="433.95" y="610.50" width="15.18" height="19.70" fill="rgb(238,238,238)" filter="url(#blur2)"/>
<rect x="451.13" y="610.50" width="15.18" height="19.70" fill="rgb(229,229,229)" filter="url(#blur2)"/>
<rect x="468.32" y="610.50" width="15.18" height="19.70" fill="rgb(228,228,228)" filter="url(#blur2)"/>
<g filter="url(#blur2)">
<rect x="382.60" y="619.40" width="14.78" height="3.20" fill="rgb(145,145,145)"/>
<rect x="399.78" y="619.40" width="14.78" height="3.20" fill="rgb(155,155,155)"/>
<rect x="416.97" y="619.40" width="14.78" height="3.20" fill="rgb(150,150,150)"/>
<rect x="434.15" y="619.40" width="14.78" height="3.20" fill="rgb(125,125,125)"/>
<rect x="451.33" y="619.40" width="14.78" height="3.20" fill="rgb(150,150,150)"/>
<rect x="468.52" y="619.40" width="14.78" height="3.20" fill="rgb(147,147,147)"/>
</g>
<rect x="381.40" y="610.50" width="103.10" height="19.70" fill="none" stroke="#686868" stroke-width="1.1" rx="0.8"/>
<text x="377.00" y="565.00" font-size="8.2" text-anchor="end" textLength="22.30" lengthAdjust="spacingAndGlyphs">AGXT</text>
<text x="377.00" y="574.90" font-size="8.2" text-anchor="end" textLength="54.10" lengthAdjust="spacingAndGlyphs">(GFP-tagged)</text>
<text x="377.00" y="595.50" font-size="8.2" text-anchor="end" textLength="22.30" lengthAdjust="spacingAndGlyphs">AGXT</text>
<text x="377.00" y="605.40" font-size="8.2" text-anchor="end" textLength="55.80" lengthAdjust="spacingAndGlyphs">(endogenous)</text>
<text x="377.00" y="625.30" font-size="8.2" text-anchor="end" textLength="29.30" lengthAdjust="spacingAndGlyphs">β-Actin</text>
<text x="485.60" y="552.70" font-size="8.2" textLength="14.70" lengthAdjust="spacingAndGlyphs">kDa</text>
<text x="488.20" y="568.50" font-size="8.2">70</text>
<text x="488.20" y="598.00" font-size="8.2">40</text>
<text x="488.20" y="624.30" font-size="8.2">45</text>
<line x1="387.10" y1="635.20" x2="424.70" y2="635.20" stroke="#777" stroke-width="0.9"/>
<line x1="438.30" y1="635.20" x2="476.20" y2="635.20" stroke="#bbb" stroke-width="0.9"/>
<text x="406.10" y="646.90" font-size="8.2" text-anchor="middle">GFP</text>
<text x="457.60" y="646.90" font-size="8.2" text-anchor="middle" textLength="20.50" lengthAdjust="spacingAndGlyphs">AGXT</text>
<text transform="translate(551.00 514.30) scale(1.07 1)" font-size="11.5" font-weight="bold" fill="#000" stroke="#000" stroke-width="0.3">m</text>
<line x1="591.80" y1="532.80" x2="591.80" y2="639.50" stroke="#8c8c8c" stroke-width="0.9"/>
<line x1="588.80" y1="639.50" x2="591.80" y2="639.50" stroke="#8c8c8c" stroke-width="0.9"/>
<line x1="588.80" y1="612.83" x2="591.80" y2="612.83" stroke="#8c8c8c" stroke-width="0.9"/>
<line x1="588.80" y1="586.15" x2="591.80" y2="586.15" stroke="#8c8c8c" stroke-width="0.9"/>
<line x1="588.80" y1="559.48" x2="591.80" y2="559.48" stroke="#8c8c8c" stroke-width="0.9"/>
<line x1="588.80" y1="532.80" x2="591.80" y2="532.80" stroke="#8c8c8c" stroke-width="0.9"/>
<text x="586.20" y="535.35" font-size="7.3" text-anchor="end">20</text>
<text x="586.20" y="562.03" font-size="7.3" text-anchor="end">15</text>
<text x="586.20" y="588.70" font-size="7.3" text-anchor="end">10</text>
<text x="586.20" y="615.38" font-size="7.3" text-anchor="end">5</text>
<text x="586.20" y="642.05" font-size="7.3" text-anchor="end">0</text>
<rect x="604.80" y="569.20" width="23.60" height="70.30" fill="#ff0000"/>
<polyline points="604.80,639.50 604.80,569.20 628.40,569.20 628.40,639.50" fill="none" stroke="#000" stroke-width="0.9"/>
<rect x="640.00" y="615.00" width="24.00" height="24.50" fill="#0000ff"/>
<polyline points="640.00,639.50 640.00,615.00 664.00,615.00 664.00,639.50" fill="none" stroke="#000" stroke-width="0.9"/>
<line x1="588.80" y1="639.50" x2="676.10" y2="639.50" stroke="#8c8c8c" stroke-width="0.9"/>
<line x1="616.30" y1="639.50" x2="616.30" y2="642.50" stroke="#aaa" stroke-width="0.9"/>
<line x1="652.00" y1="639.50" x2="652.00" y2="642.50" stroke="#aaa" stroke-width="0.9"/>
<polyline points="616.30,558.10 616.30,551.10 652.00,551.10 652.00,595.00" fill="none" stroke="#8c8c8c" stroke-width="0.8"/>
<line x1="616.30" y1="566.00" x2="616.30" y2="572.50" stroke="#000" stroke-width="1.0"/>
<line x1="613.10" y1="566.00" x2="619.50" y2="566.00" stroke="#000" stroke-width="1.0"/>
<line x1="613.10" y1="572.50" x2="619.50" y2="572.50" stroke="#000" stroke-width="1.0"/>
<line x1="652.00" y1="612.00" x2="652.00" y2="617.50" stroke="#000" stroke-width="1.0"/>
<line x1="648.80" y1="612.00" x2="655.20" y2="612.00" stroke="#000" stroke-width="1.0"/>
<line x1="648.80" y1="617.50" x2="655.20" y2="617.50" stroke="#000" stroke-width="1.0"/>
<circle cx="616.30" cy="559.50" r="1.85" fill="#fff" stroke="#000" stroke-width="0.9"/>
<circle cx="616.30" cy="563.60" r="1.85" fill="#fff" stroke="#000" stroke-width="0.9"/>
<circle cx="612.70" cy="576.40" r="1.85" fill="#fff" stroke="#000" stroke-width="0.9"/>
<circle cx="620.00" cy="573.30" r="1.85" fill="#fff" stroke="#000" stroke-width="0.9"/>
<circle cx="652.00" cy="608.70" r="1.85" fill="#fff" stroke="#000" stroke-width="0.9"/>
<circle cx="648.90" cy="615.40" r="1.85" fill="#fff" stroke="#000" stroke-width="0.9"/>
<circle cx="656.10" cy="617.40" r="1.85" fill="#fff" stroke="#000" stroke-width="0.9"/>
<circle cx="652.00" cy="614.20" r="1.85" fill="#fff" stroke="#000" stroke-width="0.9"/>
<text x="608.60" y="546.80" font-size="8.2" textLength="49.90" lengthAdjust="spacingAndGlyphs"><tspan font-style="italic">P</tspan> = 4.2 × 10<tspan dy="-3.2" font-size="5.6">−5</tspan></text>
<text x="616.30" y="652.80" font-size="8.2" text-anchor="middle">GFP</text>
<text x="652.00" y="652.80" font-size="8.2" text-anchor="middle" textLength="20.50" lengthAdjust="spacingAndGlyphs">AGXT</text>
<line x1="604.30" y1="658.30" x2="666.90" y2="658.30" stroke="#999" stroke-width="0.9"/>
<text x="635.60" y="668.00" font-size="8.2" text-anchor="middle">PA</text>
<text x="558.90" y="586.50" font-size="8.2" text-anchor="middle" textLength="61.90" lengthAdjust="spacingAndGlyphs" transform="rotate(-90 558.90 586.50)">Cellular oxalate</text>
<text x="569.30" y="586.50" font-size="8.2" text-anchor="middle" textLength="79.00" lengthAdjust="spacingAndGlyphs" transform="rotate(-90 569.30 586.50)">(nmol mg<tspan dy="-3" font-size="5.6">−1</tspan><tspan dy="3"> protein)</tspan></text>
<text transform="translate(0.00 712.70) scale(1.07 1)" font-size="11.5" font-weight="bold" fill="#000" stroke="#000" stroke-width="0.3">n</text>
<text x="28.00" y="716.20" font-size="8.4" textLength="54.20" lengthAdjust="spacingAndGlyphs"><tspan fill="#2a2aff">DAPI</tspan>/<tspan fill="#ff2020">Nile red</tspan></text>
<clipPath id="clip5"><rect x="17.0" y="721.0" width="76.20" height="56.60"/></clipPath>
<rect x="17.0" y="721.0" width="76.20" height="56.60" fill="#000"/>
<g clip-path="url(#clip5)"><g filter="url(#blur1)">
<circle cx="58.1" cy="759.4" r="0.72" fill="#3a18f0" opacity="0.78"/>
<circle cx="39.8" cy="741.4" r="0.70" fill="#3a18f0" opacity="0.47"/>
<circle cx="79.4" cy="727.4" r="1.02" fill="#2a14d0" opacity="0.49"/>
<circle cx="53.6" cy="738.9" r="0.89" fill="#3a18f0" opacity="0.38"/>
<circle cx="18.7" cy="763.4" r="1.11" fill="#2a14d0" opacity="0.60"/>
<circle cx="36.0" cy="774.8" r="0.63" fill="#3a18f0" opacity="0.63"/>
<circle cx="26.1" cy="734.9" r="1.09" fill="#4020e0" opacity="0.50"/>
<circle cx="64.7" cy="730.6" r="0.95" fill="#3010a0" opacity="0.74"/>
<circle cx="94.4" cy="775.2" r="0.82" fill="#3a18f0" opacity="0.50"/>
<circle cx="58.5" cy="738.7" r="0.79" fill="#3a18f0" opacity="0.71"/>
<circle cx="72.0" cy="738.5" r="0.89" fill="#2a14d0" opacity="0.39"/>
<circle cx="87.4" cy="722.8" r="1.04" fill="#3010a0" opacity="0.72"/>
<circle cx="49.1" cy="724.2" r="1.15" fill="#2a14d0" opacity="0.71"/>
<circle cx="72.7" cy="780.1" r="1.17" fill="#4020e0" opacity="0.40"/>
<circle cx="25.6" cy="750.7" r="0.68" fill="#3a18f0" opacity="0.79"/>
<circle cx="54.2" cy="762.3" r="0.89" fill="#3010a0" opacity="0.56"/>
<circle cx="25.6" cy="767.5" r="0.92" fill="#3a18f0" opacity="0.63"/>
<circle cx="42.8" cy="726.0" r="0.76" fill="#3010a0" opacity="0.38"/>
<circle cx="44.1" cy="754.3" r="0.62" fill="#3010a0" opacity="0.51"/>
<circle cx="38.4" cy="748.5" r="1.06" fill="#3010a0" opacity="0.78"/>
<circle cx="15.1" cy="746.4" r="0.93" fill="#3010a0" opacity="0.50"/>
<circle cx="56.8" cy="723.9" r="1.08" fill="#3010a0" opacity="0.47"/>
<circle cx="27.4" cy="788.6" r="1.12" fill="#4020e0" opacity="0.79"/>
<circle cx="56.5" cy="751.0" r="0.70" fill="#3010a0" opacity="0.77"/>
<circle cx="69.7" cy="761.7" r="1.04" fill="#3a18f0" opacity="0.63"/>
<circle cx="56.4" cy="774.0" r="0.78" fill="#3010a0" opacity="0.67"/>
<circle cx="5.0" cy="740.3" r="0.71" fill="#3a18f0" opacity="0.63"/>
<circle cx="30.1" cy="767.5" r="1.14" fill="#2a14d0" opacity="0.49"/>
<circle cx="62.6" cy="772.9" r="0.81" fill="#2a14d0" opacity="0.62"/>
<circle cx="66.7" cy="718.8" r="0.77" fill="#4020e0" opacity="0.74"/>
<circle cx="58.7" cy="775.6" r="0.93" fill="#3010a0" opacity="0.39"/>
<circle cx="42.9" cy="753.9" r="1.17" fill="#3a18f0" opacity="0.54"/>
<circle cx="65.9" cy="741.9" r="0.69" fill="#4020e0" opacity="0.60"/>
<circle cx="90.8" cy="755.4" r="0.81" fill="#2a14d0" opacity="0.52"/>
<circle cx="81.0" cy="729.9" r="1.13" fill="#4020e0" opacity="0.54"/>
<circle cx="54.6" cy="748.1" r="1.02" fill="#4020e0" opacity="0.78"/>
<circle cx="62.4" cy="735.7" r="1.19" fill="#4020e0" opacity="0.46"/>
<circle cx="46.6" cy="733.7" r="0.89" fill="#2a14d0" opacity="0.65"/>
<circle cx="35.7" cy="723.3" r="0.68" fill="#4020e0" opacity="0.36"/>
<circle cx="37.9" cy="773.9" r="1.07" fill="#3a18f0" opacity="0.57"/>
<circle cx="72.0" cy="737.2" r="0.90" fill="#4020e0" opacity="0.58"/>
<circle cx="84.1" cy="771.7" r="0.61" fill="#3a18f0" opacity="0.49"/>
<circle cx="42.6" cy="737.8" r="0.92" fill="#4020e0" opacity="0.51"/>
<circle cx="78.9" cy="728.5" r="0.60" fill="#4020e0" opacity="0.66"/>
<circle cx="93.8" cy="772.3" r="1.07" fill="#4020e0" opacity="0.62"/>
<circle cx="89.6" cy="757.7" r="1.12" fill="#4020e0" opacity="0.56"/>
<circle cx="71.8" cy="771.9" r="0.88" fill="#2a14d0" opacity="0.49"/>
<circle cx="26.3" cy="769.3" r="0.88" fill="#3010a0" opacity="0.41"/>
<circle cx="58.8" cy="749.2" r="0.80" fill="#3a18f0" opacity="0.54"/>
<circle cx="20.7" cy="762.5" r="0.76" fill="#2a14d0" opacity="0.71"/>
<circle cx="18.9" cy="761.9" r="1.19" fill="#4020e0" opacity="0.67"/>
<circle cx="94.1" cy="777.6" r="1.17" fill="#3a18f0" opacity="0.80"/>
<circle cx="50.4" cy="731.4" r="0.71" fill="#3a18f0" opacity="0.38"/>
<circle cx="68.0" cy="728.5" r="0.64" fill="#2a14d0" opacity="0.61"/>
<circle cx="40.3" cy="772.2" r="0.86" fill="#3010a0" opacity="0.66"/>
<circle cx="43.9" cy="758.1" r="1.15" fill="#3a18f0" opacity="0.66"/>
<circle cx="92.6" cy="768.3" r="1.17" fill="#3a18f0" opacity="0.47"/>
<circle cx="36.4" cy="763.5" r="0.91" fill="#3a18f0" opacity="0.71"/>
<circle cx="51.5" cy="743.0" r="0.68" fill="#2a14d0" opacity="0.64"/>
<circle cx="106.1" cy="775.2" r="0.90" fill="#4020e0" opacity="0.46"/>
<circle cx="53.6" cy="739.3" r="1.08" fill="#2a14d0" opacity="0.59"/>
<circle cx="25.8" cy="743.7" r="1.08" fill="#2a14d0" opacity="0.39"/>
<circle cx="54.4" cy="733.0" r="1.02" fill="#4020e0" opacity="0.51"/>
<circle cx="68.8" cy="715.2" r="1.08" fill="#4020e0" opacity="0.41"/>
<circle cx="66.4" cy="766.5" r="0.86" fill="#3010a0" opacity="0.58"/>
<circle cx="60.7" cy="762.9" r="0.84" fill="#2a14d0" opacity="0.37"/>
<circle cx="77.2" cy="776.9" r="0.89" fill="#3010a0" opacity="0.35"/>
<circle cx="84.8" cy="756.1" r="0.86" fill="#4020e0" opacity="0.56"/>
<circle cx="97.8" cy="777.4" r="0.83" fill="#4020e0" opacity="0.42"/>
<circle cx="57.6" cy="722.5" r="1.00" fill="#2a14d0" opacity="0.57"/>
<circle cx="60.4" cy="720.5" r="0.61" fill="#4020e0" opacity="0.56"/>
<circle cx="26.0" cy="758.8" r="0.77" fill="#3a18f0" opacity="0.68"/>
<circle cx="66.0" cy="768.2" r="0.99" fill="#4020e0" opacity="0.76"/>
<circle cx="68.9" cy="731.4" r="0.82" fill="#2a14d0" opacity="0.68"/>
<circle cx="29.4" cy="734.6" r="1.00" fill="#2a14d0" opacity="0.64"/>
<circle cx="55.1" cy="733.5" r="1.07" fill="#4020e0" opacity="0.43"/>
<circle cx="55.6" cy="722.0" r="1.03" fill="#3a18f0" opacity="0.75"/>
<circle cx="88.3" cy="724.0" r="0.75" fill="#2a14d0" opacity="0.57"/>
<circle cx="20.7" cy="768.2" r="0.87" fill="#2a14d0" opacity="0.74"/>
<circle cx="31.8" cy="760.4" r="0.98" fill="#3a18f0" opacity="0.59"/>
<circle cx="61.8" cy="716.6" r="1.19" fill="#3a18f0" opacity="0.62"/>
<circle cx="33.3" cy="722.0" r="0.92" fill="#4020e0" opacity="0.54"/>
<circle cx="56.8" cy="728.5" r="0.61" fill="#3010a0" opacity="0.66"/>
<circle cx="93.2" cy="752.4" r="0.68" fill="#4020e0" opacity="0.39"/>
<circle cx="79.4" cy="738.7" r="0.68" fill="#2a14d0" opacity="0.56"/>
<circle cx="77.9" cy="775.8" r="1.00" fill="#3010a0" opacity="0.38"/>
<circle cx="20.7" cy="732.3" r="0.77" fill="#3010a0" opacity="0.75"/>
<circle cx="54.4" cy="725.2" r="0.60" fill="#3010a0" opacity="0.64"/>
<circle cx="60.8" cy="746.0" r="1.09" fill="#2a14d0" opacity="0.68"/>
<circle cx="37.4" cy="767.0" r="0.83" fill="#3a18f0" opacity="0.49"/>
<circle cx="15.3" cy="761.3" r="0.77" fill="#2a14d0" opacity="0.59"/>
<circle cx="19.1" cy="727.9" r="1.18" fill="#3010a0" opacity="0.55"/>
<circle cx="92.2" cy="731.8" r="0.68" fill="#3a18f0" opacity="0.50"/>
<circle cx="83.3" cy="728.9" r="1.19" fill="#3010a0" opacity="0.59"/>
<circle cx="-4.7" cy="754.6" r="1.08" fill="#2a14d0" opacity="0.50"/>
<circle cx="62.3" cy="775.6" r="0.86" fill="#3a18f0" opacity="0.59"/>
<circle cx="62.4" cy="726.9" r="1.09" fill="#4020e0" opacity="0.66"/>
<circle cx="76.3" cy="766.8" r="0.89" fill="#3010a0" opacity="0.53"/>
<circle cx="55.2" cy="727.9" r="0.91" fill="#3a18f0" opacity="0.51"/>
<circle cx="79.0" cy="758.5" r="1.15" fill="#2a14d0" opacity="0.63"/>
<circle cx="20.7" cy="752.6" r="0.83" fill="#2a14d0" opacity="0.43"/>
<circle cx="56.5" cy="730.6" r="1.08" fill="#3010a0" opacity="0.56"/>
<circle cx="57.7" cy="726.2" r="0.72" fill="#2a14d0" opacity="0.40"/>
<circle cx="64.3" cy="767.0" r="0.61" fill="#2a14d0" opacity="0.62"/>
<circle cx="55.2" cy="751.9" r="1.01" fill="#4020e0" opacity="0.79"/>
<circle cx="87.4" cy="760.2" r="1.00" fill="#3a18f0" opacity="0.71"/>
<circle cx="94.8" cy="732.3" r="0.72" fill="#3010a0" opacity="0.38"/>
<circle cx="52.9" cy="711.9" r="1.16" fill="#4020e0" opacity="0.49"/>
<circle cx="37.9" cy="761.5" r="0.64" fill="#2a14d0" opacity="0.65"/>
<circle cx="85.4" cy="759.9" r="1.10" fill="#3a18f0" opacity="0.57"/>
<circle cx="93.2" cy="789.6" r="0.93" fill="#4020e0" opacity="0.79"/>
<circle cx="45.8" cy="763.5" r="0.92" fill="#3a18f0" opacity="0.76"/>
<circle cx="46.5" cy="727.2" r="1.01" fill="#3010a0" opacity="0.46"/>
<circle cx="50.6" cy="738.8" r="0.97" fill="#3a18f0" opacity="0.38"/>
<circle cx="16.9" cy="750.5" r="0.94" fill="#4020e0" opacity="0.54"/>
<circle cx="62.2" cy="724.1" r="0.85" fill="#2a14d0" opacity="0.62"/>
<circle cx="31.3" cy="722.7" r="0.67" fill="#3a18f0" opacity="0.55"/>
<circle cx="82.8" cy="752.9" r="1.04" fill="#2a14d0" opacity="0.78"/>
<circle cx="68.3" cy="725.0" r="1.11" fill="#4020e0" opacity="0.77"/>
<circle cx="89.0" cy="725.9" r="0.66" fill="#3a18f0" opacity="0.65"/>
<circle cx="65.5" cy="724.9" r="0.66" fill="#4020e0" opacity="0.68"/>
<circle cx="78.2" cy="761.4" r="1.15" fill="#2a14d0" opacity="0.51"/>
<circle cx="31.9" cy="739.3" r="0.70" fill="#2a14d0" opacity="0.46"/>
<circle cx="52.5" cy="721.3" r="1.19" fill="#3010a0" opacity="0.41"/>
<circle cx="56.9" cy="770.6" r="0.64" fill="#3010a0" opacity="0.36"/>
<circle cx="93.1" cy="763.5" r="0.72" fill="#3010a0" opacity="0.52"/>
<circle cx="21.8" cy="761.3" r="0.65" fill="#2a14d0" opacity="0.48"/>
<circle cx="88.5" cy="764.0" r="0.85" fill="#3a18f0" opacity="0.47"/>
<circle cx="28.1" cy="775.8" r="0.93" fill="#4020e0" opacity="0.79"/>
<circle cx="46.4" cy="773.9" r="0.66" fill="#3010a0" opacity="0.41"/>
<circle cx="15.3" cy="748.5" r="0.75" fill="#4020e0" opacity="0.78"/>
<circle cx="23.0" cy="776.0" r="0.72" fill="#4020e0" opacity="0.36"/>
<circle cx="89.9" cy="754.9" r="1.10" fill="#4020e0" opacity="0.58"/>
<circle cx="38.3" cy="765.5" r="1.12" fill="#2a14d0" opacity="0.45"/>
<circle cx="43.0" cy="760.8" r="0.86" fill="#4020e0" opacity="0.36"/>
<circle cx="29.7" cy="740.2" r="0.78" fill="#3a18f0" opacity="0.54"/>
<circle cx="92.8" cy="733.3" r="0.85" fill="#3010a0" opacity="0.41"/>
<circle cx="63.0" cy="760.6" r="0.70" fill="#4020e0" opacity="0.38"/>
<circle cx="19.7" cy="744.2" r="0.69" fill="#2a14d0" opacity="0.69"/>
<circle cx="41.2" cy="746.9" r="0.88" fill="#2a14d0" opacity="0.76"/>
<circle cx="19.4" cy="731.5" r="0.86" fill="#3010a0" opacity="0.41"/>
<circle cx="42.5" cy="733.1" r="0.78" fill="#2a14d0" opacity="0.48"/>
<circle cx="31.2" cy="781.1" r="0.89" fill="#4020e0" opacity="0.78"/>
<circle cx="86.3" cy="731.9" r="0.61" fill="#4020e0" opacity="0.41"/>
<circle cx="70.8" cy="721.5" r="1.06" fill="#4020e0" opacity="0.45"/>
<circle cx="35.0" cy="738.4" r="1.08" fill="#3a18f0" opacity="0.37"/>
<circle cx="62.3" cy="712.0" r="0.86" fill="#2a14d0" opacity="0.64"/>
<circle cx="45.2" cy="751.0" r="1.03" fill="#4020e0" opacity="0.79"/>
<circle cx="4.3" cy="739.4" r="0.99" fill="#2a14d0" opacity="0.68"/>
<circle cx="46.6" cy="773.3" r="0.78" fill="#3010a0" opacity="0.72"/>
<circle cx="61.6" cy="719.0" r="0.94" fill="#4020e0" opacity="0.37"/>
<circle cx="25.9" cy="771.1" r="0.82" fill="#3010a0" opacity="0.47"/>
<circle cx="16.0" cy="739.8" r="1.10" fill="#3010a0" opacity="0.52"/>
<circle cx="35.7" cy="735.9" r="1.13" fill="#4020e0" opacity="0.76"/>
<circle cx="62.3" cy="753.0" r="1.14" fill="#3010a0" opacity="0.60"/>
<circle cx="61.1" cy="753.3" r="1.00" fill="#2a14d0" opacity="0.36"/>
<circle cx="34.9" cy="763.9" r="0.97" fill="#3a18f0" opacity="0.59"/>
<circle cx="70.8" cy="761.7" r="0.96" fill="#2a14d0" opacity="0.38"/>
<circle cx="66.4" cy="771.5" r="1.03" fill="#2a14d0" opacity="0.78"/>
<circle cx="37.8" cy="743.9" r="0.78" fill="#4020e0" opacity="0.48"/>
<circle cx="49.6" cy="717.7" r="0.88" fill="#3a18f0" opacity="0.65"/>
<circle cx="41.0" cy="755.6" r="0.87" fill="#3a18f0" opacity="0.51"/>
<circle cx="27.5" cy="779.3" r="0.84" fill="#3a18f0" opacity="0.41"/>
<circle cx="69.4" cy="746.3" r="0.94" fill="#2a14d0" opacity="0.42"/>
<circle cx="14.9" cy="767.7" r="0.73" fill="#3a18f0" opacity="0.65"/>
<circle cx="55.7" cy="728.3" r="0.66" fill="#3010a0" opacity="0.54"/>
<circle cx="56.3" cy="748.5" r="1.03" fill="#2a14d0" opacity="0.78"/>
<circle cx="89.2" cy="768.1" r="0.98" fill="#3a18f0" opacity="0.37"/>
<circle cx="46.3" cy="757.0" r="1.03" fill="#3010a0" opacity="0.39"/>
<circle cx="84.2" cy="738.7" r="0.78" fill="#3010a0" opacity="0.53"/>
<circle cx="21.8" cy="738.1" r="0.71" fill="#2a14d0" opacity="0.71"/>
<circle cx="55.6" cy="726.9" r="0.85" fill="#3a18f0" opacity="0.54"/>
<circle cx="58.2" cy="757.9" r="1.01" fill="#3010a0" opacity="0.77"/>
<circle cx="52.5" cy="726.8" r="1.06" fill="#2a14d0" opacity="0.63"/>
<circle cx="102.0" cy="772.0" r="0.86" fill="#3010a0" opacity="0.49"/>
<circle cx="79.5" cy="723.2" r="1.13" fill="#3a18f0" opacity="0.52"/>
<circle cx="87.0" cy="739.4" r="1.09" fill="#2a14d0" opacity="0.41"/>
<circle cx="88.6" cy="773.9" r="1.15" fill="#3010a0" opacity="0.48"/>
<circle cx="36.5" cy="747.6" r="1.06" fill="#2a14d0" opacity="0.41"/>
<circle cx="85.0" cy="766.6" r="0.75" fill="#2a14d0" opacity="0.67"/>
<circle cx="29.0" cy="765.6" r="1.02" fill="#2a14d0" opacity="0.48"/>
<circle cx="64.8" cy="760.5" r="0.93" fill="#2a14d0" opacity="0.44"/>
<circle cx="79.2" cy="726.9" r="0.89" fill="#3010a0" opacity="0.62"/>
<circle cx="57.6" cy="739.0" r="0.85" fill="#3a18f0" opacity="0.48"/>
<circle cx="86.0" cy="764.6" r="0.79" fill="#4020e0" opacity="0.65"/>
<circle cx="83.4" cy="726.7" r="1.04" fill="#3010a0" opacity="0.67"/>
<circle cx="77.7" cy="730.0" r="0.90" fill="#2a14d0" opacity="0.59"/>
<circle cx="52.5" cy="742.1" r="0.74" fill="#2a14d0" opacity="0.57"/>
<circle cx="68.8" cy="777.0" r="0.90" fill="#4020e0" opacity="0.64"/>
<circle cx="100.2" cy="766.3" r="1.15" fill="#3a18f0" opacity="0.65"/>
<circle cx="73.6" cy="749.5" r="0.86" fill="#3010a0" opacity="0.45"/>
<circle cx="58.9" cy="721.9" r="0.87" fill="#2a14d0" opacity="0.75"/>
<circle cx="17.2" cy="745.1" r="0.88" fill="#3a18f0" opacity="0.69"/>
<circle cx="35.3" cy="761.1" r="0.88" fill="#3010a0" opacity="0.58"/>
<circle cx="78.3" cy="723.9" r="0.97" fill="#3a18f0" opacity="0.36"/>
<circle cx="92.4" cy="732.4" r="0.64" fill="#3010a0" opacity="0.44"/>
<circle cx="84.6" cy="730.7" r="0.84" fill="#2a14d0" opacity="0.54"/>
<circle cx="25.6" cy="784.6" r="0.67" fill="#4020e0" opacity="0.66"/>
<circle cx="40.9" cy="772.5" r="1.18" fill="#3010a0" opacity="0.56"/>
<circle cx="69.8" cy="769.7" r="1.01" fill="#2a14d0" opacity="0.74"/>
<circle cx="77.4" cy="744.6" r="1.00" fill="#4020e0" opacity="0.68"/>
<circle cx="85.6" cy="739.3" r="1.06" fill="#3a18f0" opacity="0.72"/>
<circle cx="29.3" cy="756.8" r="1.03" fill="#4020e0" opacity="0.51"/>
<circle cx="56.3" cy="741.7" r="1.02" fill="#2a14d0" opacity="0.68"/>
<circle cx="52.6" cy="767.9" r="1.14" fill="#2a14d0" opacity="0.57"/>
<circle cx="63.8" cy="756.2" r="1.13" fill="#3010a0" opacity="0.71"/>
<circle cx="87.0" cy="755.4" r="0.92" fill="#3a18f0" opacity="0.53"/>
<circle cx="91.5" cy="721.9" r="0.89" fill="#2a14d0" opacity="0.72"/>
<circle cx="63.0" cy="726.1" r="0.99" fill="#3010a0" opacity="0.39"/>
<circle cx="48.0" cy="739.2" r="1.11" fill="#2a14d0" opacity="0.49"/>
<circle cx="26.4" cy="750.4" r="0.65" fill="#2a14d0" opacity="0.37"/>
<circle cx="52.8" cy="746.1" r="0.69" fill="#3010a0" opacity="0.63"/>
<circle cx="90.9" cy="750.2" r="1.13" fill="#2a14d0" opacity="0.62"/>
<circle cx="36.0" cy="779.0" r="0.81" fill="#4020e0" opacity="0.39"/>
<circle cx="65.9" cy="776.2" r="0.80" fill="#4020e0" opacity="0.50"/>
<circle cx="51.5" cy="770.3" r="0.63" fill="#3a18f0" opacity="0.75"/>
<circle cx="29.7" cy="762.6" r="0.81" fill="#2a14d0" opacity="0.73"/>
<circle cx="51.4" cy="758.2" r="0.97" fill="#4020e0" opacity="0.77"/>
<circle cx="73.6" cy="771.5" r="0.78" fill="#3010a0" opacity="0.54"/>
<circle cx="25.2" cy="721.5" r="0.69" fill="#3010a0" opacity="0.37"/>
<circle cx="68.5" cy="765.9" r="0.98" fill="#3010a0" opacity="0.54"/>
<circle cx="32.1" cy="776.7" r="0.80" fill="#4020e0" opacity="0.73"/>
<circle cx="81.6" cy="731.0" r="0.88" fill="#3010a0" opacity="0.73"/>
<circle cx="30.7" cy="764.7" r="1.07" fill="#2a14d0" opacity="0.53"/>
<circle cx="93.0" cy="728.4" r="1.05" fill="#4020e0" opacity="0.51"/>
<circle cx="49.8" cy="776.1" r="0.79" fill="#3a18f0" opacity="0.63"/>
<circle cx="82.9" cy="730.8" r="0.83" fill="#3a18f0" opacity="0.72"/>
<circle cx="35.6" cy="749.3" r="0.95" fill="#2a14d0" opacity="0.76"/>
<circle cx="40.3" cy="740.2" r="0.97" fill="#3a18f0" opacity="0.73"/>
<circle cx="63.5" cy="774.4" r="0.92" fill="#2a14d0" opacity="0.76"/>
<circle cx="42.2" cy="738.8" r="0.82" fill="#2a14d0" opacity="0.36"/>
<circle cx="73.1" cy="779.1" r="0.67" fill="#2a14d0" opacity="0.64"/>
<circle cx="85.2" cy="754.1" r="1.15" fill="#3010a0" opacity="0.70"/>
<circle cx="17.8" cy="739.2" r="0.83" fill="#3a18f0" opacity="0.67"/>
<circle cx="17.8" cy="738.2" r="1.11" fill="#2a14d0" opacity="0.68"/>
<circle cx="86.5" cy="752.5" r="0.83" fill="#2a14d0" opacity="0.48"/>
<circle cx="56.6" cy="733.5" r="1.04" fill="#3a18f0" opacity="0.49"/>
<circle cx="75.4" cy="732.0" r="1.05" fill="#3010a0" opacity="0.58"/>
<circle cx="43.1" cy="722.8" r="1.07" fill="#3010a0" opacity="0.55"/>
<circle cx="62.1" cy="732.2" r="1.15" fill="#3010a0" opacity="0.39"/>
<circle cx="31.2" cy="765.7" r="0.77" fill="#3a18f0" opacity="0.44"/>
<circle cx="26.1" cy="754.5" r="1.02" fill="#4020e0" opacity="0.45"/>
<circle cx="51.5" cy="730.7" r="0.71" fill="#4020e0" opacity="0.71"/>
<circle cx="68.5" cy="757.2" r="0.94" fill="#2a14d0" opacity="0.49"/>
<circle cx="63.1" cy="758.1" r="0.79" fill="#3010a0" opacity="0.73"/>
<circle cx="63.2" cy="740.1" r="0.72" fill="#3a18f0" opacity="0.68"/>
<circle cx="81.2" cy="772.7" r="0.71" fill="#2a14d0" opacity="0.44"/>
<circle cx="38.1" cy="767.8" r="0.76" fill="#3010a0" opacity="0.49"/>
<circle cx="70.8" cy="774.9" r="0.77" fill="#4020e0" opacity="0.55"/>
<circle cx="16.2" cy="776.4" r="0.84" fill="#4020e0" opacity="0.77"/>
<circle cx="35.0" cy="773.7" r="0.90" fill="#3010a0" opacity="0.50"/>
<circle cx="45.0" cy="755.9" r="0.97" fill="#3a18f0" opacity="0.77"/>
<circle cx="71.1" cy="760.9" r="0.74" fill="#2a14d0" opacity="0.48"/>
<circle cx="48.8" cy="748.1" r="1.11" fill="#3a18f0" opacity="0.69"/>
<circle cx="88.6" cy="746.1" r="0.94" fill="#3a18f0" opacity="0.50"/>
<circle cx="89.9" cy="725.8" r="1.07" fill="#4020e0" opacity="0.59"/>
<circle cx="82.5" cy="729.3" r="0.89" fill="#3a18f0" opacity="0.78"/>
<circle cx="80.1" cy="724.7" r="0.86" fill="#3a18f0" opacity="0.78"/>
<circle cx="42.4" cy="764.6" r="0.92" fill="#3010a0" opacity="0.67"/>
<circle cx="54.6" cy="748.9" r="0.99" fill="#3010a0" opacity="0.37"/>
<circle cx="41.3" cy="749.3" r="0.63" fill="#3a18f0" opacity="0.60"/>
<circle cx="53.9" cy="744.1" r="0.87" fill="#2a14d0" opacity="0.61"/>
<circle cx="53.3" cy="739.6" r="0.76" fill="#3010a0" opacity="0.55"/>
<circle cx="17.0" cy="754.9" r="0.74" fill="#3010a0" opacity="0.69"/>
<circle cx="24.9" cy="752.6" r="0.75" fill="#3010a0" opacity="0.37"/>
<circle cx="82.9" cy="726.7" r="0.78" fill="#3a18f0" opacity="0.59"/>
<circle cx="41.2" cy="774.6" r="0.63" fill="#4020e0" opacity="0.52"/>
<circle cx="63.3" cy="719.2" r="1.09" fill="#2a14d0" opacity="0.49"/>
<circle cx="27.6" cy="761.7" r="0.98" fill="#3010a0" opacity="0.79"/>
<circle cx="40.2" cy="725.7" r="0.86" fill="#2a14d0" opacity="0.55"/>
<circle cx="32.0" cy="771.4" r="0.64" fill="#4020e0" opacity="0.40"/>
<circle cx="65.9" cy="749.7" r="0.83" fill="#3a18f0" opacity="0.65"/>
<circle cx="56.7" cy="741.8" r="0.69" fill="#2a14d0" opacity="0.36"/>
<circle cx="48.5" cy="775.3" r="0.88" fill="#3a18f0" opacity="0.75"/>
<circle cx="36.7" cy="733.8" r="0.89" fill="#3010a0" opacity="0.38"/>
<circle cx="70.3" cy="726.4" r="0.86" fill="#4020e0" opacity="0.77"/>
<circle cx="20.8" cy="745.1" r="1.10" fill="#3a18f0" opacity="0.44"/>
<circle cx="93.0" cy="754.5" r="0.73" fill="#4020e0" opacity="0.61"/>
<circle cx="50.9" cy="730.2" r="0.82" fill="#2a14d0" opacity="0.75"/>
<circle cx="22.1" cy="778.0" r="1.10" fill="#3a18f0" opacity="0.38"/>
<circle cx="91.3" cy="776.2" r="0.91" fill="#3010a0" opacity="0.52"/>
<circle cx="81.8" cy="742.6" r="0.85" fill="#3010a0" opacity="0.54"/>
<circle cx="33.8" cy="731.2" r="1.03" fill="#2a14d0" opacity="0.50"/>
<circle cx="71.6" cy="771.6" r="0.92" fill="#4020e0" opacity="0.65"/>
<circle cx="64.0" cy="777.9" r="0.94" fill="#4020e0" opacity="0.78"/>
<circle cx="43.6" cy="744.3" r="0.77" fill="#3010a0" opacity="0.57"/>
<circle cx="65.6" cy="756.7" r="0.65" fill="#4020e0" opacity="0.51"/>
<circle cx="56.4" cy="738.6" r="1.02" fill="#3a18f0" opacity="0.56"/>
<circle cx="50.4" cy="765.8" r="1.16" fill="#2a14d0" opacity="0.71"/>
<circle cx="31.7" cy="744.6" r="0.69" fill="#2a14d0" opacity="0.67"/>
<circle cx="70.3" cy="764.6" r="1.11" fill="#3010a0" opacity="0.77"/>
<circle cx="84.8" cy="727.5" r="0.92" fill="#3a18f0" opacity="0.66"/>
<circle cx="41.3" cy="760.5" r="0.72" fill="#4020e0" opacity="0.67"/>
<circle cx="25.5" cy="774.6" r="1.04" fill="#3010a0" opacity="0.67"/>
<circle cx="77.8" cy="762.7" r="0.88" fill="#3a18f0" opacity="0.47"/>
<circle cx="95.3" cy="766.5" r="0.84" fill="#2a14d0" opacity="0.73"/>
<circle cx="54.8" cy="744.9" r="0.88" fill="#3010a0" opacity="0.49"/>
<circle cx="36.6" cy="768.9" r="1.19" fill="#3a18f0" opacity="0.61"/>
<circle cx="25.7" cy="728.4" r="1.04" fill="#3010a0" opacity="0.48"/>
<circle cx="62.3" cy="734.3" r="0.63" fill="#2a14d0" opacity="0.41"/>
<circle cx="71.7" cy="771.6" r="0.66" fill="#ff18b0" opacity="0.50"/>
<circle cx="55.5" cy="767.0" r="0.78" fill="#c01080" opacity="0.70"/>
<circle cx="92.9" cy="776.0" r="1.09" fill="#ff1070" opacity="0.87"/>
<circle cx="9.6" cy="740.2" r="0.81" fill="#ff18b0" opacity="0.64"/>
<circle cx="29.0" cy="746.2" r="0.97" fill="#c01080" opacity="0.70"/>
<circle cx="63.8" cy="713.2" r="1.35" fill="#c01080" opacity="0.51"/>
<circle cx="64.3" cy="719.5" r="0.62" fill="#ff1070" opacity="0.67"/>
<circle cx="57.2" cy="712.2" r="1.39" fill="#ff30d0" opacity="0.59"/>
<circle cx="90.0" cy="761.0" r="1.28" fill="#e010a0" opacity="0.49"/>
<circle cx="87.2" cy="745.7" r="1.27" fill="#c01080" opacity="0.57"/>
<circle cx="73.5" cy="778.0" r="1.38" fill="#ff30d0" opacity="0.58"/>
<circle cx="77.3" cy="738.3" r="0.86" fill="#e010a0" opacity="0.75"/>
<circle cx="64.4" cy="775.5" r="1.27" fill="#ff30d0" opacity="0.84"/>
<circle cx="32.8" cy="770.7" r="1.14" fill="#ff30d0" opacity="0.54"/>
<circle cx="68.0" cy="753.4" r="1.11" fill="#ff1070" opacity="0.61"/>
<circle cx="79.7" cy="747.8" r="1.32" fill="#ff18b0" opacity="0.72"/>
<circle cx="31.9" cy="761.8" r="0.90" fill="#ff18b0" opacity="0.47"/>
<circle cx="63.6" cy="775.1" r="0.89" fill="#ff1070" opacity="0.68"/>
<circle cx="70.3" cy="774.0" r="0.76" fill="#ff1070" opacity="0.64"/>
<circle cx="104.4" cy="763.2" r="0.98" fill="#ff18b0" opacity="0.56"/>
<circle cx="41.5" cy="773.4" r="0.91" fill="#ff30d0" opacity="0.54"/>
<circle cx="60.9" cy="722.4" r="1.12" fill="#ff1070" opacity="0.94"/>
<circle cx="17.6" cy="732.0" r="0.99" fill="#ff30d0" opacity="0.48"/>
<circle cx="89.2" cy="752.1" r="1.40" fill="#e010a0" opacity="0.94"/>
<circle cx="90.8" cy="727.9" r="0.70" fill="#ff30d0" opacity="0.58"/>
<circle cx="89.0" cy="773.6" r="0.78" fill="#c01080" opacity="0.84"/>
<circle cx="9.3" cy="745.3" r="1.21" fill="#ff30d0" opacity="0.77"/>
<circle cx="93.4" cy="773.2" r="0.81" fill="#c01080" opacity="0.56"/>
<circle cx="61.9" cy="750.8" r="1.06" fill="#ff30d0" opacity="0.79"/>
<circle cx="89.1" cy="734.6" r="1.23" fill="#c01080" opacity="0.64"/>
<circle cx="84.9" cy="759.7" r="1.13" fill="#c01080" opacity="0.86"/>
<circle cx="57.8" cy="774.8" r="0.63" fill="#ff18b0" opacity="0.63"/>
<circle cx="57.3" cy="717.3" r="0.68" fill="#ff30d0" opacity="0.84"/>
<circle cx="93.4" cy="769.6" r="1.10" fill="#e010a0" opacity="0.91"/>
<circle cx="91.9" cy="725.1" r="1.18" fill="#ff30d0" opacity="0.77"/>
<circle cx="40.1" cy="743.5" r="0.95" fill="#ff18b0" opacity="0.51"/>
<circle cx="45.0" cy="768.3" r="1.00" fill="#ff30d0" opacity="0.64"/>
<circle cx="40.9" cy="768.0" r="0.71" fill="#ff30d0" opacity="0.49"/>
<circle cx="93.1" cy="774.0" r="1.13" fill="#ff1070" opacity="0.90"/>
<circle cx="50.2" cy="786.9" r="0.84" fill="#ff18b0" opacity="0.72"/>
<circle cx="73.0" cy="775.0" r="0.65" fill="#ff30d0" opacity="0.61"/>
<circle cx="94.0" cy="772.9" r="0.73" fill="#ff18b0" opacity="0.65"/>
<circle cx="80.9" cy="735.9" r="1.05" fill="#ff30d0" opacity="0.57"/>
<circle cx="14.6" cy="741.5" r="0.94" fill="#c01080" opacity="0.81"/>
<circle cx="48.5" cy="750.8" r="1.29" fill="#e010a0" opacity="0.82"/>
<circle cx="71.4" cy="774.4" r="1.35" fill="#c01080" opacity="0.76"/>
<circle cx="63.9" cy="764.8" r="0.61" fill="#c01080" opacity="0.58"/>
<circle cx="89.4" cy="754.2" r="0.87" fill="#e010a0" opacity="0.48"/>
<circle cx="68.9" cy="766.9" r="0.95" fill="#ff30d0" opacity="0.70"/>
<circle cx="15.1" cy="739.6" r="0.65" fill="#e010a0" opacity="0.49"/>
<circle cx="45.3" cy="737.0" r="0.79" fill="#c01080" opacity="0.66"/>
<circle cx="41.3" cy="769.5" r="0.80" fill="#ff18b0" opacity="0.93"/>
<circle cx="34.4" cy="750.4" r="0.82" fill="#ff1070" opacity="0.92"/>
<circle cx="90.8" cy="771.3" r="0.67" fill="#ff1070" opacity="0.88"/>
<circle cx="27.2" cy="776.8" r="0.91" fill="#e010a0" opacity="0.63"/>
<circle cx="70.2" cy="772.8" r="1.02" fill="#ff18b0" opacity="0.94"/>
<circle cx="57.4" cy="729.3" r="0.71" fill="#ff30d0" opacity="0.93"/>
<circle cx="39.7" cy="748.9" r="1.05" fill="#e010a0" opacity="0.79"/>
<circle cx="86.5" cy="779.6" r="0.84" fill="#e010a0" opacity="0.46"/>
<circle cx="38.5" cy="725.0" r="0.93" fill="#e010a0" opacity="0.62"/>
<circle cx="67.5" cy="778.5" r="1.00" fill="#e010a0" opacity="0.71"/>
<circle cx="97.1" cy="774.8" r="1.08" fill="#ff30d0" opacity="0.66"/>
<circle cx="61.9" cy="758.4" r="1.21" fill="#ff30d0" opacity="0.53"/>
<circle cx="64.5" cy="766.9" r="1.16" fill="#ff30d0" opacity="0.87"/>
<circle cx="39.2" cy="774.8" r="0.83" fill="#ff30d0" opacity="0.89"/>
<circle cx="67.1" cy="768.0" r="0.61" fill="#ff30d0" opacity="0.75"/>
<circle cx="61.7" cy="721.9" r="0.89" fill="#c01080" opacity="0.90"/>
<circle cx="52.2" cy="730.2" r="0.76" fill="#ff1070" opacity="0.62"/>
<circle cx="72.8" cy="781.5" r="0.76" fill="#e010a0" opacity="0.84"/>
<circle cx="63.4" cy="729.9" r="1.19" fill="#ff30d0" opacity="0.48"/>
<circle cx="30.8" cy="737.4" r="0.70" fill="#ff30d0" opacity="0.57"/>
<circle cx="26.1" cy="764.3" r="1.11" fill="#ff1070" opacity="0.87"/>
<circle cx="19.5" cy="767.7" r="0.78" fill="#ff1070" opacity="0.86"/>
<circle cx="87.6" cy="727.0" r="1.00" fill="#ff30d0" opacity="0.72"/>
<circle cx="29.7" cy="749.9" r="1.39" fill="#ff30d0" opacity="0.70"/>
<circle cx="94.2" cy="777.2" r="0.84" fill="#ff18b0" opacity="0.84"/>
<circle cx="69.2" cy="779.7" r="0.81" fill="#e010a0" opacity="0.53"/>
<circle cx="71.0" cy="766.0" r="0.92" fill="#ff18b0" opacity="0.63"/>
<circle cx="14.1" cy="738.6" r="1.08" fill="#e010a0" opacity="0.66"/>
<circle cx="96.3" cy="765.3" r="1.06" fill="#ff18b0" opacity="0.68"/>
<circle cx="91.9" cy="759.1" r="1.08" fill="#ff1070" opacity="0.56"/>
<circle cx="27.3" cy="775.2" r="0.77" fill="#c01080" opacity="0.94"/>
<circle cx="28.6" cy="767.3" r="1.11" fill="#ff30d0" opacity="0.45"/>
<circle cx="43.6" cy="730.0" r="0.65" fill="#ff1070" opacity="0.83"/>
<circle cx="100.2" cy="772.2" r="0.88" fill="#c01080" opacity="0.91"/>
<circle cx="59.4" cy="767.0" r="0.74" fill="#ff30d0" opacity="0.83"/>
<circle cx="94.6" cy="763.8" r="1.31" fill="#c01080" opacity="0.60"/>
<circle cx="83.8" cy="731.0" r="1.03" fill="#ff18b0" opacity="0.46"/>
<circle cx="24.2" cy="743.0" r="1.09" fill="#ff30d0" opacity="0.51"/>
<circle cx="64.4" cy="723.6" r="0.76" fill="#e010a0" opacity="0.71"/>
<circle cx="20.3" cy="768.8" r="1.38" fill="#ff30d0" opacity="0.70"/>
<circle cx="59.0" cy="721.7" r="1.24" fill="#e010a0" opacity="0.85"/>
<circle cx="100.1" cy="773.7" r="1.37" fill="#ff1070" opacity="0.69"/>
<circle cx="83.6" cy="725.1" r="0.92" fill="#ff1070" opacity="0.80"/>
<circle cx="58.9" cy="729.0" r="0.88" fill="#e010a0" opacity="0.80"/>
<circle cx="64.0" cy="719.1" r="0.97" fill="#c01080" opacity="0.87"/>
<circle cx="53.9" cy="737.3" r="0.71" fill="#e010a0" opacity="0.61"/>
<circle cx="30.0" cy="766.1" r="0.79" fill="#ff1070" opacity="0.77"/>
<circle cx="60.2" cy="723.4" r="1.04" fill="#ff1070" opacity="0.80"/>
<circle cx="41.9" cy="769.5" r="0.63" fill="#c01080" opacity="0.92"/>
<circle cx="33.4" cy="771.1" r="1.17" fill="#ff30d0" opacity="0.80"/>
<circle cx="96.5" cy="770.7" r="1.04" fill="#e010a0" opacity="0.72"/>
<circle cx="85.3" cy="774.2" r="1.27" fill="#ff1070" opacity="0.85"/>
<circle cx="65.3" cy="733.5" r="1.34" fill="#ff18b0" opacity="0.55"/>
<circle cx="87.5" cy="767.0" r="1.06" fill="#e010a0" opacity="0.74"/>
<circle cx="31.8" cy="742.5" r="1.09" fill="#c01080" opacity="0.93"/>
<circle cx="88.5" cy="743.9" r="1.17" fill="#ff18b0" opacity="0.87"/>
<circle cx="63.7" cy="724.9" r="0.91" fill="#ff18b0" opacity="0.54"/>
<circle cx="44.6" cy="737.2" r="0.85" fill="#ff1070" opacity="0.74"/>
<circle cx="99.5" cy="773.9" r="1.39" fill="#ff30d0" opacity="0.51"/>
<circle cx="94.3" cy="732.6" r="0.93" fill="#ff18b0" opacity="0.82"/>
<circle cx="85.5" cy="732.4" r="0.80" fill="#ff30d0" opacity="0.81"/>
<circle cx="29.2" cy="769.6" r="1.32" fill="#ff30d0" opacity="0.84"/>
<circle cx="75.5" cy="759.9" r="0.68" fill="#ff30d0" opacity="0.54"/>
<circle cx="51.2" cy="740.6" r="0.65" fill="#c01080" opacity="0.90"/>
<circle cx="85.9" cy="765.5" r="1.17" fill="#c01080" opacity="0.88"/>
<circle cx="23.6" cy="740.1" r="1.27" fill="#ff18b0" opacity="0.82"/>
<circle cx="55.1" cy="726.2" r="1.02" fill="#ff18b0" opacity="0.52"/>
<circle cx="86.0" cy="733.6" r="1.07" fill="#c01080" opacity="0.54"/>
<circle cx="66.2" cy="720.0" r="0.69" fill="#ff18b0" opacity="0.90"/>
<circle cx="102.3" cy="776.7" r="1.19" fill="#c01080" opacity="0.56"/>
<circle cx="65.8" cy="757.8" r="1.31" fill="#c01080" opacity="0.73"/>
<circle cx="94.7" cy="724.9" r="1.03" fill="#e010a0" opacity="0.93"/>
<circle cx="65.9" cy="730.7" r="1.34" fill="#ff30d0" opacity="0.89"/>
<circle cx="72.4" cy="785.6" r="0.81" fill="#ff1070" opacity="0.64"/>
<circle cx="61.7" cy="730.8" r="0.76" fill="#ff1070" opacity="0.47"/>
<circle cx="70.9" cy="752.0" r="1.02" fill="#ff18b0" opacity="0.60"/>
<circle cx="62.9" cy="772.5" r="0.63" fill="#ff18b0" opacity="0.56"/>
<circle cx="101.1" cy="757.6" r="0.87" fill="#ff1070" opacity="0.50"/>
<circle cx="48.2" cy="768.8" r="1.20" fill="#ff1070" opacity="0.77"/>
<circle cx="41.3" cy="733.2" r="1.14" fill="#ff1070" opacity="0.80"/>
<circle cx="82.6" cy="747.8" r="0.97" fill="#ff1070" opacity="0.63"/>
<circle cx="61.5" cy="732.3" r="0.94" fill="#e010a0" opacity="0.69"/>
<circle cx="100.3" cy="750.1" r="0.81" fill="#ff18b0" opacity="0.85"/>
<circle cx="81.6" cy="735.8" r="0.71" fill="#e010a0" opacity="0.90"/>
<circle cx="91.0" cy="738.3" r="0.83" fill="#ff18b0" opacity="0.66"/>
<circle cx="19.9" cy="772.3" r="1.14" fill="#c01080" opacity="0.67"/>
<circle cx="27.6" cy="771.0" r="1.20" fill="#e010a0" opacity="0.89"/>
<circle cx="23.5" cy="776.8" r="0.83" fill="#c01080" opacity="0.78"/>
<circle cx="17.3" cy="755.3" r="0.70" fill="#ff18b0" opacity="0.73"/>
<circle cx="52.2" cy="744.9" r="0.77" fill="#ff18b0" opacity="0.58"/>
<circle cx="30.5" cy="751.4" r="0.89" fill="#ff30d0" opacity="0.47"/>
<circle cx="53.1" cy="711.2" r="1.36" fill="#ff30d0" opacity="0.49"/>
<circle cx="13.8" cy="746.1" r="1.34" fill="#ff1070" opacity="0.54"/>
<circle cx="85.6" cy="724.0" r="1.17" fill="#c01080" opacity="0.64"/>
<circle cx="9.8" cy="745.1" r="0.97" fill="#c01080" opacity="0.61"/>
<circle cx="63.1" cy="763.1" r="1.15" fill="#ff1070" opacity="0.50"/>
<circle cx="60.6" cy="732.3" r="1.11" fill="#ff18b0" opacity="0.48"/>
<circle cx="60.3" cy="734.8" r="1.10" fill="#ff18b0" opacity="0.67"/>
<circle cx="87.4" cy="728.1" r="1.18" fill="#ff18b0" opacity="0.84"/>
<circle cx="47.8" cy="775.0" r="0.87" fill="#e010a0" opacity="0.70"/>
<circle cx="83.6" cy="749.5" r="0.71" fill="#ff1070" opacity="0.79"/>
<circle cx="55.9" cy="760.2" r="1.12" fill="#ff30d0" opacity="0.92"/>
<circle cx="80.4" cy="738.5" r="1.38" fill="#ff1070" opacity="0.89"/>
<circle cx="32.3" cy="786.2" r="1.35" fill="#ff18b0" opacity="0.65"/>
<circle cx="82.5" cy="760.4" r="1.23" fill="#c01080" opacity="0.47"/>
<circle cx="37.8" cy="763.2" r="1.00" fill="#ff18b0" opacity="0.82"/>
<circle cx="63.4" cy="733.3" r="1.35" fill="#c01080" opacity="0.73"/>
<circle cx="81.6" cy="743.4" r="0.67" fill="#ff1070" opacity="0.89"/>
<circle cx="66.2" cy="727.1" r="1.10" fill="#ff18b0" opacity="0.65"/>
<circle cx="58.6" cy="765.8" r="0.99" fill="#ff1070" opacity="0.46"/>
<circle cx="55.6" cy="737.5" r="0.76" fill="#ff18b0" opacity="0.69"/>
<circle cx="108.7" cy="768.6" r="1.06" fill="#e010a0" opacity="0.50"/>
<circle cx="53.1" cy="775.3" r="0.95" fill="#e010a0" opacity="0.54"/>
<circle cx="55.7" cy="758.2" r="1.09" fill="#c01080" opacity="0.47"/>
<circle cx="39.4" cy="777.1" r="1.28" fill="#e010a0" opacity="0.81"/>
<circle cx="84.0" cy="727.4" r="0.88" fill="#ff18b0" opacity="0.91"/>
<circle cx="31.8" cy="764.1" r="0.78" fill="#ff30d0" opacity="0.87"/>
<circle cx="33.9" cy="768.5" r="0.98" fill="#c01080" opacity="0.75"/>
<circle cx="53.0" cy="770.1" r="1.27" fill="#ff30d0" opacity="0.68"/>
<circle cx="59.1" cy="760.6" r="0.90" fill="#ff1070" opacity="0.75"/>
<circle cx="67.5" cy="712.8" r="1.32" fill="#ff1070" opacity="0.64"/>
<circle cx="58.2" cy="734.2" r="1.02" fill="#e010a0" opacity="0.54"/>
<circle cx="56.4" cy="729.9" r="0.93" fill="#ff18b0" opacity="0.90"/>
<circle cx="29.4" cy="749.4" r="0.94" fill="#ff30d0" opacity="0.50"/>
<circle cx="92.1" cy="768.9" r="1.03" fill="#ff18b0" opacity="0.78"/>
<circle cx="14.8" cy="750.8" r="1.17" fill="#ff30d0" opacity="0.82"/>
<circle cx="84.4" cy="726.0" r="0.79" fill="#ff30d0" opacity="0.89"/>
<circle cx="48.0" cy="782.5" r="0.85" fill="#ff30d0" opacity="0.76"/>
<circle cx="60.6" cy="724.8" r="1.10" fill="#ff1070" opacity="0.78"/>
<circle cx="89.2" cy="727.4" r="0.67" fill="#e010a0" opacity="0.68"/>
<circle cx="52.2" cy="777.0" r="1.17" fill="#e010a0" opacity="0.91"/>
<circle cx="91.7" cy="732.4" r="0.94" fill="#ff18b0" opacity="0.84"/>
<circle cx="31.6" cy="771.8" r="0.63" fill="#ff30d0" opacity="0.84"/>
<circle cx="87.7" cy="729.3" r="0.70" fill="#ff1070" opacity="0.67"/>
<circle cx="98.1" cy="735.6" r="0.92" fill="#ff18b0" opacity="0.88"/>
<circle cx="90.5" cy="759.9" r="1.05" fill="#ff1070" opacity="0.73"/>
<circle cx="7.4" cy="755.7" r="1.07" fill="#ff18b0" opacity="0.70"/>
<circle cx="64.5" cy="739.2" r="0.60" fill="#e010a0" opacity="0.76"/>
<circle cx="79.3" cy="778.2" r="1.12" fill="#ff18b0" opacity="0.86"/>
<circle cx="85.8" cy="738.3" r="0.84" fill="#ff18b0" opacity="0.47"/>
<circle cx="100.2" cy="771.8" r="1.21" fill="#c01080" opacity="0.48"/>
<circle cx="57.0" cy="751.3" r="1.22" fill="#c01080" opacity="0.50"/>
<circle cx="66.7" cy="753.8" r="1.05" fill="#c01080" opacity="0.85"/>
<circle cx="69.8" cy="763.0" r="1.02" fill="#e010a0" opacity="0.72"/>
<circle cx="17.1" cy="745.8" r="0.79" fill="#c01080" opacity="0.95"/>
<circle cx="56.8" cy="716.2" r="0.79" fill="#ff18b0" opacity="0.64"/>
<circle cx="88.3" cy="733.6" r="0.86" fill="#e010a0" opacity="0.67"/>
<circle cx="91.2" cy="730.2" r="1.09" fill="#ff1070" opacity="0.63"/>
<circle cx="64.1" cy="717.4" r="0.87" fill="#ff1070" opacity="0.71"/>
<circle cx="55.2" cy="730.9" r="1.10" fill="#ff1070" opacity="0.57"/>
<circle cx="45.9" cy="757.2" r="0.91" fill="#c01080" opacity="0.50"/>
<circle cx="95.7" cy="730.0" r="1.04" fill="#ff1070" opacity="0.64"/>
<circle cx="57.5" cy="717.8" r="1.09" fill="#ff1070" opacity="0.78"/>
<circle cx="66.5" cy="776.2" r="0.80" fill="#ff1070" opacity="0.46"/>
<circle cx="44.6" cy="728.5" r="1.03" fill="#ff30d0" opacity="0.65"/>
<circle cx="22.5" cy="763.2" r="0.65" fill="#ff1070" opacity="0.77"/>
<circle cx="15.7" cy="756.7" r="0.62" fill="#ff30d0" opacity="0.55"/>
<circle cx="52.6" cy="729.7" r="0.76" fill="#ff1070" opacity="0.90"/>
<circle cx="90.8" cy="768.8" r="1.04" fill="#ff18b0" opacity="0.91"/>
<circle cx="89.1" cy="722.5" r="1.17" fill="#ff18b0" opacity="0.46"/>
<circle cx="52.5" cy="722.7" r="0.74" fill="#ff30d0" opacity="0.82"/>
<circle cx="106.4" cy="763.6" r="0.75" fill="#ff30d0" opacity="0.78"/>
<circle cx="69.5" cy="776.8" r="0.75" fill="#e010a0" opacity="0.57"/>
<circle cx="87.8" cy="732.3" r="0.73" fill="#ff18b0" opacity="0.88"/>
<circle cx="35.7" cy="779.1" r="1.39" fill="#e010a0" opacity="0.81"/>
<circle cx="30.9" cy="774.3" r="0.96" fill="#c01080" opacity="0.93"/>
<circle cx="69.7" cy="732.4" r="0.74" fill="#ff1070" opacity="0.52"/>
<circle cx="102.2" cy="755.3" r="1.00" fill="#ff1070" opacity="0.49"/>
<circle cx="23.3" cy="772.3" r="0.63" fill="#ff18b0" opacity="0.58"/>
<circle cx="65.8" cy="730.6" r="0.98" fill="#ff18b0" opacity="0.72"/>
<circle cx="62.1" cy="728.2" r="0.75" fill="#ff18b0" opacity="0.48"/>
<circle cx="58.4" cy="715.7" r="1.00" fill="#ff30d0" opacity="0.87"/>
<circle cx="1.9" cy="736.4" r="1.13" fill="#ff1070" opacity="0.61"/>
<circle cx="59.0" cy="725.9" r="1.03" fill="#ff1070" opacity="0.80"/>
<circle cx="8.5" cy="744.3" r="0.74" fill="#e010a0" opacity="0.81"/>
<circle cx="73.2" cy="758.8" r="0.70" fill="#e010a0" opacity="0.78"/>
<circle cx="77.7" cy="765.5" r="1.05" fill="#e010a0" opacity="0.52"/>
<circle cx="38.9" cy="763.8" r="1.08" fill="#ff1070" opacity="0.46"/>
<circle cx="68.0" cy="776.3" r="0.70" fill="#c01080" opacity="0.71"/>
<circle cx="66.2" cy="763.1" r="1.14" fill="#e010a0" opacity="0.50"/>
<circle cx="66.8" cy="714.9" r="1.28" fill="#c01080" opacity="0.66"/>
<circle cx="88.2" cy="745.9" r="0.98" fill="#ff1070" opacity="0.86"/>
<circle cx="53.9" cy="766.2" r="1.33" fill="#ff1070" opacity="0.66"/>
<circle cx="51.8" cy="725.5" r="1.37" fill="#ff18b0" opacity="0.50"/>
<circle cx="19.1" cy="775.9" r="0.94" fill="#e010a0" opacity="0.62"/>
<circle cx="13.2" cy="742.2" r="0.69" fill="#e010a0" opacity="0.72"/>
<circle cx="92.2" cy="745.9" r="0.74" fill="#ff1070" opacity="0.51"/>
<circle cx="86.5" cy="749.2" r="1.25" fill="#ff30d0" opacity="0.88"/>
<circle cx="65.0" cy="728.0" r="1.34" fill="#ff1070" opacity="0.62"/>
<circle cx="27.6" cy="766.0" r="0.65" fill="#ff1070" opacity="0.73"/>
<circle cx="50.8" cy="788.1" r="1.08" fill="#ff30d0" opacity="0.63"/>
<circle cx="47.3" cy="779.8" r="1.18" fill="#e010a0" opacity="0.46"/>
<circle cx="94.9" cy="764.6" r="0.96" fill="#e010a0" opacity="0.80"/>
<circle cx="65.5" cy="768.6" r="0.91" fill="#ff18b0" opacity="0.61"/>
<circle cx="64.0" cy="725.7" r="0.98" fill="#ff1070" opacity="0.85"/>
<circle cx="102.1" cy="765.4" r="0.85" fill="#c01080" opacity="0.55"/>
<circle cx="60.9" cy="721.2" r="0.84" fill="#ff30d0" opacity="0.66"/>
<circle cx="73.1" cy="766.0" r="1.39" fill="#ff1070" opacity="0.58"/>
<circle cx="24.5" cy="732.2" r="0.92" fill="#ff1070" opacity="0.70"/>
<circle cx="61.7" cy="765.8" r="1.27" fill="#ff30d0" opacity="0.93"/>
<circle cx="73.6" cy="728.3" r="0.98" fill="#ff1070" opacity="0.87"/>
<circle cx="67.5" cy="729.5" r="0.74" fill="#c01080" opacity="0.85"/>
<circle cx="73.9" cy="777.1" r="0.72" fill="#ff18b0" opacity="0.50"/>
<circle cx="36.4" cy="770.1" r="1.21" fill="#ff1070" opacity="0.53"/>
<circle cx="71.3" cy="796.8" r="1.04" fill="#ff1070" opacity="0.71"/>
<circle cx="90.1" cy="774.5" r="1.37" fill="#ff18b0" opacity="0.51"/>
<circle cx="75.0" cy="732.9" r="0.79" fill="#ff18b0" opacity="0.45"/>
<circle cx="59.2" cy="722.4" r="1.39" fill="#ff18b0" opacity="0.91"/>
<circle cx="71.0" cy="731.2" r="0.71" fill="#c01080" opacity="0.94"/>
<circle cx="24.8" cy="779.1" r="0.61" fill="#c01080" opacity="0.71"/>
<circle cx="20.9" cy="745.4" r="1.08" fill="#c01080" opacity="0.53"/>
<circle cx="25.8" cy="769.6" r="1.22" fill="#ff30d0" opacity="0.91"/>
<circle cx="72.7" cy="777.5" r="1.30" fill="#ff30d0" opacity="0.46"/>
<circle cx="30.1" cy="770.3" r="1.36" fill="#c01080" opacity="0.69"/>
<circle cx="95.0" cy="736.0" r="1.10" fill="#ff30d0" opacity="0.73"/>
<circle cx="62.5" cy="724.5" r="1.36" fill="#e010a0" opacity="0.86"/>
<circle cx="12.9" cy="754.9" r="1.11" fill="#ff1070" opacity="0.68"/>
<circle cx="59.9" cy="729.1" r="0.61" fill="#c01080" opacity="0.80"/>
<circle cx="90.3" cy="779.5" r="1.35" fill="#e010a0" opacity="0.58"/>
<circle cx="91.4" cy="738.9" r="0.75" fill="#ff1070" opacity="0.95"/>
<circle cx="67.4" cy="759.3" r="0.80" fill="#ff1070" opacity="0.92"/>
<circle cx="90.3" cy="773.1" r="1.21" fill="#e010a0" opacity="0.79"/>
<circle cx="51.8" cy="716.2" r="0.60" fill="#ff30d0" opacity="0.77"/>
<circle cx="59.5" cy="784.6" r="1.05" fill="#c01080" opacity="0.75"/>
<circle cx="94.3" cy="751.5" r="1.12" fill="#ff18b0" opacity="0.69"/>
<circle cx="85.3" cy="763.6" r="1.38" fill="#e010a0" opacity="0.49"/>
<circle cx="68.6" cy="732.2" r="0.86" fill="#ff1070" opacity="0.80"/>
<circle cx="67.1" cy="728.7" r="0.75" fill="#c01080" opacity="0.67"/>
<circle cx="104.5" cy="781.0" r="0.85" fill="#ff1070" opacity="0.58"/>
</g></g>
<clipPath id="clip6"><rect x="17.0" y="781.6" width="76.20" height="56.80"/></clipPath>
<rect x="17.0" y="781.6" width="76.20" height="56.80" fill="#000"/>
<g clip-path="url(#clip6)"><g filter="url(#blur1)">
<circle cx="77.5" cy="828.3" r="0.99" fill="#2010c0" opacity="0.42"/>
<circle cx="28.1" cy="814.9" r="1.28" fill="#2010c0" opacity="0.54"/>
<circle cx="18.7" cy="809.4" r="0.82" fill="#3018f0" opacity="0.81"/>
<circle cx="58.1" cy="787.0" r="1.04" fill="#2010c0" opacity="0.70"/>
<circle cx="63.5" cy="786.6" r="0.95" fill="#1a10ff" opacity="0.56"/>
<circle cx="48.2" cy="795.8" r="1.12" fill="#2020e0" opacity="0.72"/>
<circle cx="77.7" cy="787.1" r="0.73" fill="#2020e0" opacity="0.77"/>
<circle cx="86.5" cy="809.2" r="1.20" fill="#2020e0" opacity="0.63"/>
<circle cx="66.1" cy="821.2" r="1.18" fill="#1a10ff" opacity="0.69"/>
<circle cx="35.7" cy="806.0" r="0.91" fill="#1a10ff" opacity="0.44"/>
<circle cx="84.1" cy="811.4" r="0.77" fill="#2010c0" opacity="0.54"/>
<circle cx="32.0" cy="809.1" r="0.78" fill="#2020e0" opacity="0.78"/>
<circle cx="83.8" cy="811.3" r="0.81" fill="#2020e0" opacity="0.41"/>
<circle cx="42.4" cy="833.0" r="1.07" fill="#2010c0" opacity="0.57"/>
<circle cx="57.2" cy="798.0" r="1.11" fill="#3018f0" opacity="0.42"/>
<circle cx="49.2" cy="824.0" r="0.94" fill="#3018f0" opacity="0.51"/>
<circle cx="91.6" cy="832.3" r="1.10" fill="#3018f0" opacity="0.60"/>
<circle cx="80.3" cy="826.8" r="1.01" fill="#3018f0" opacity="0.54"/>
<circle cx="79.2" cy="835.0" r="0.82" fill="#2010c0" opacity="0.60"/>
<circle cx="72.1" cy="836.4" r="0.71" fill="#1a10ff" opacity="0.51"/>
<circle cx="78.1" cy="792.3" r="1.00" fill="#2010c0" opacity="0.82"/>
<circle cx="36.4" cy="804.9" r="1.23" fill="#3018f0" opacity="0.52"/>
<circle cx="53.2" cy="808.8" r="0.79" fill="#3018f0" opacity="0.62"/>
<circle cx="65.3" cy="808.1" r="0.92" fill="#2020e0" opacity="0.84"/>
<circle cx="87.3" cy="803.0" r="1.06" fill="#2010c0" opacity="0.69"/>
<circle cx="91.3" cy="823.0" r="0.79" fill="#2010c0" opacity="0.65"/>
<circle cx="64.5" cy="836.4" r="0.81" fill="#1a10ff" opacity="0.71"/>
<circle cx="45.3" cy="837.4" r="1.00" fill="#1a10ff" opacity="0.81"/>
<circle cx="28.8" cy="796.9" r="0.71" fill="#3018f0" opacity="0.43"/>
<circle cx="34.7" cy="802.7" r="1.28" fill="#2020e0" opacity="0.67"/>
<circle cx="28.0" cy="817.3" r="0.76" fill="#1a10ff" opacity="0.42"/>
<circle cx="53.4" cy="822.7" r="0.74" fill="#1a10ff" opacity="0.72"/>
<circle cx="26.7" cy="828.9" r="0.75" fill="#2010c0" opacity="0.81"/>
<circle cx="85.1" cy="807.3" r="1.12" fill="#2020e0" opacity="0.77"/>
<circle cx="31.4" cy="834.7" r="0.99" fill="#3018f0" opacity="0.60"/>
<circle cx="38.1" cy="822.1" r="0.74" fill="#2010c0" opacity="0.84"/>
<circle cx="38.8" cy="835.0" r="0.75" fill="#2010c0" opacity="0.53"/>
<circle cx="90.6" cy="806.1" r="1.25" fill="#1a10ff" opacity="0.72"/>
<circle cx="36.0" cy="815.9" r="0.84" fill="#1a10ff" opacity="0.73"/>
<circle cx="42.6" cy="783.4" r="1.27" fill="#2020e0" opacity="0.72"/>
<circle cx="43.2" cy="786.0" r="1.14" fill="#1a10ff" opacity="0.58"/>
<circle cx="27.3" cy="823.8" r="1.08" fill="#2020e0" opacity="0.43"/>
<circle cx="56.6" cy="783.3" r="1.02" fill="#2020e0" opacity="0.48"/>
<circle cx="73.3" cy="810.4" r="1.21" fill="#2020e0" opacity="0.83"/>
<circle cx="70.0" cy="822.2" r="0.78" fill="#2020e0" opacity="0.74"/>
<circle cx="92.7" cy="813.5" r="0.70" fill="#3018f0" opacity="0.48"/>
<circle cx="41.8" cy="803.2" r="0.96" fill="#3018f0" opacity="0.78"/>
<circle cx="57.4" cy="829.9" r="0.78" fill="#2020e0" opacity="0.69"/>
<circle cx="78.4" cy="802.7" r="1.10" fill="#2020e0" opacity="0.47"/>
<circle cx="64.7" cy="803.5" r="0.74" fill="#1a10ff" opacity="0.61"/>
<circle cx="21.5" cy="818.6" r="1.02" fill="#2010c0" opacity="0.67"/>
<circle cx="21.6" cy="794.4" r="0.94" fill="#2010c0" opacity="0.44"/>
<circle cx="22.9" cy="814.2" r="0.74" fill="#3018f0" opacity="0.45"/>
<circle cx="25.6" cy="837.4" r="0.73" fill="#1a10ff" opacity="0.74"/>
<circle cx="68.5" cy="823.0" r="1.09" fill="#2010c0" opacity="0.52"/>
<circle cx="34.7" cy="827.9" r="1.09" fill="#2020e0" opacity="0.53"/>
<circle cx="18.0" cy="811.5" r="1.14" fill="#2010c0" opacity="0.75"/>
<circle cx="24.1" cy="815.4" r="0.72" fill="#2010c0" opacity="0.71"/>
<circle cx="34.2" cy="824.9" r="0.92" fill="#2010c0" opacity="0.60"/>
<circle cx="80.4" cy="784.5" r="0.78" fill="#1a10ff" opacity="0.55"/>
<circle cx="54.0" cy="807.9" r="0.86" fill="#2010c0" opacity="0.50"/>
<circle cx="26.6" cy="812.6" r="0.85" fill="#3018f0" opacity="0.84"/>
<circle cx="49.7" cy="811.0" r="1.20" fill="#2010c0" opacity="0.51"/>
<circle cx="39.8" cy="783.5" r="1.15" fill="#1a10ff" opacity="0.76"/>
<circle cx="60.9" cy="835.5" r="1.19" fill="#2020e0" opacity="0.45"/>
<circle cx="62.2" cy="808.5" r="1.22" fill="#3018f0" opacity="0.50"/>
<circle cx="66.1" cy="803.7" r="1.16" fill="#3018f0" opacity="0.79"/>
<circle cx="82.2" cy="800.8" r="0.85" fill="#2020e0" opacity="0.53"/>
<circle cx="61.8" cy="820.1" r="0.83" fill="#2010c0" opacity="0.48"/>
<circle cx="48.1" cy="816.8" r="0.84" fill="#1a10ff" opacity="0.49"/>
<circle cx="48.4" cy="824.4" r="1.25" fill="#2020e0" opacity="0.63"/>
<circle cx="89.7" cy="811.2" r="1.17" fill="#3018f0" opacity="0.81"/>
<circle cx="84.3" cy="800.3" r="1.13" fill="#3018f0" opacity="0.79"/>
<circle cx="66.5" cy="826.9" r="0.74" fill="#2020e0" opacity="0.42"/>
<circle cx="61.9" cy="816.3" r="1.29" fill="#1a10ff" opacity="0.75"/>
<circle cx="75.3" cy="836.6" r="0.75" fill="#1a10ff" opacity="0.50"/>
<circle cx="42.8" cy="836.9" r="1.19" fill="#2020e0" opacity="0.48"/>
<circle cx="31.0" cy="817.3" r="1.22" fill="#3018f0" opacity="0.68"/>
<circle cx="72.4" cy="789.4" r="1.28" fill="#2020e0" opacity="0.66"/>
<circle cx="72.9" cy="836.8" r="1.08" fill="#1a10ff" opacity="0.52"/>
<circle cx="17.1" cy="831.7" r="0.72" fill="#3018f0" opacity="0.54"/>
<circle cx="17.9" cy="832.3" r="0.76" fill="#2010c0" opacity="0.45"/>
<circle cx="80.7" cy="802.8" r="1.20" fill="#2020e0" opacity="0.57"/>
<circle cx="75.1" cy="823.9" r="1.17" fill="#2020e0" opacity="0.45"/>
<circle cx="51.0" cy="782.3" r="1.30" fill="#2020e0" opacity="0.71"/>
<circle cx="53.6" cy="785.6" r="0.77" fill="#2020e0" opacity="0.76"/>
<circle cx="92.4" cy="830.5" r="0.96" fill="#2010c0" opacity="0.76"/>
<circle cx="76.1" cy="798.3" r="1.11" fill="#2010c0" opacity="0.60"/>
<circle cx="91.8" cy="822.4" r="0.73" fill="#2020e0" opacity="0.70"/>
<circle cx="64.4" cy="781.8" r="1.23" fill="#3018f0" opacity="0.65"/>
<circle cx="36.4" cy="829.6" r="0.89" fill="#2020e0" opacity="0.66"/>
<circle cx="31.5" cy="797.4" r="0.86" fill="#2010c0" opacity="0.72"/>
<circle cx="84.2" cy="794.0" r="1.14" fill="#1a10ff" opacity="0.44"/>
<circle cx="83.7" cy="801.9" r="0.81" fill="#2020e0" opacity="0.61"/>
<circle cx="65.7" cy="808.6" r="1.23" fill="#2010c0" opacity="0.46"/>
<circle cx="72.9" cy="836.8" r="0.73" fill="#2020e0" opacity="0.67"/>
<circle cx="37.5" cy="817.8" r="1.28" fill="#3018f0" opacity="0.70"/>
<circle cx="55.4" cy="811.5" r="1.01" fill="#2010c0" opacity="0.54"/>
<circle cx="49.5" cy="802.7" r="1.30" fill="#3018f0" opacity="0.80"/>
<circle cx="29.4" cy="797.4" r="1.09" fill="#2010c0" opacity="0.77"/>
<circle cx="91.8" cy="784.9" r="1.10" fill="#1a10ff" opacity="0.60"/>
<circle cx="57.7" cy="791.6" r="0.86" fill="#1a10ff" opacity="0.43"/>
<circle cx="71.5" cy="801.2" r="0.94" fill="#1a10ff" opacity="0.73"/>
<circle cx="38.6" cy="809.7" r="1.14" fill="#2010c0" opacity="0.51"/>
<circle cx="18.1" cy="784.5" r="1.01" fill="#3018f0" opacity="0.47"/>
<circle cx="76.7" cy="818.0" r="1.22" fill="#1a10ff" opacity="0.45"/>
<circle cx="77.5" cy="789.3" r="0.77" fill="#3018f0" opacity="0.52"/>
<circle cx="33.2" cy="823.0" r="1.16" fill="#2020e0" opacity="0.47"/>
<circle cx="82.1" cy="826.7" r="1.06" fill="#3018f0" opacity="0.80"/>
<circle cx="53.2" cy="814.2" r="0.97" fill="#3018f0" opacity="0.49"/>
<circle cx="30.5" cy="788.0" r="1.10" fill="#2020e0" opacity="0.58"/>
<circle cx="61.8" cy="808.1" r="1.16" fill="#2010c0" opacity="0.67"/>
<circle cx="62.4" cy="792.5" r="1.25" fill="#1a10ff" opacity="0.58"/>
<circle cx="47.2" cy="814.4" r="0.77" fill="#1a10ff" opacity="0.81"/>
<circle cx="44.7" cy="809.9" r="0.85" fill="#3018f0" opacity="0.57"/>
<circle cx="44.5" cy="822.1" r="0.92" fill="#1a10ff" opacity="0.59"/>
<circle cx="61.9" cy="798.9" r="1.05" fill="#3018f0" opacity="0.51"/>
<circle cx="52.1" cy="814.3" r="0.92" fill="#3018f0" opacity="0.70"/>
<circle cx="52.7" cy="800.2" r="0.97" fill="#3018f0" opacity="0.41"/>
<circle cx="84.4" cy="816.1" r="0.99" fill="#1a10ff" opacity="0.69"/>
<circle cx="80.3" cy="837.1" r="1.01" fill="#2010c0" opacity="0.85"/>
<circle cx="29.2" cy="791.8" r="1.02" fill="#3018f0" opacity="0.66"/>
<circle cx="25.8" cy="801.3" r="1.09" fill="#2010c0" opacity="0.77"/>
<circle cx="63.4" cy="836.7" r="1.19" fill="#2010c0" opacity="0.77"/>
<circle cx="46.4" cy="822.0" r="0.70" fill="#2010c0" opacity="0.59"/>
<circle cx="30.3" cy="829.8" r="0.91" fill="#1a10ff" opacity="0.64"/>
<circle cx="32.6" cy="825.6" r="1.19" fill="#3018f0" opacity="0.69"/>
<circle cx="59.8" cy="809.1" r="1.26" fill="#3018f0" opacity="0.49"/>
<circle cx="45.5" cy="789.8" r="0.83" fill="#2020e0" opacity="0.79"/>
<circle cx="37.5" cy="794.1" r="0.99" fill="#2020e0" opacity="0.57"/>
<circle cx="74.6" cy="817.8" r="0.87" fill="#2020e0" opacity="0.73"/>
<circle cx="85.8" cy="784.7" r="0.82" fill="#3018f0" opacity="0.84"/>
<circle cx="57.3" cy="833.8" r="1.10" fill="#1a10ff" opacity="0.81"/>
<circle cx="88.9" cy="817.9" r="1.14" fill="#1a10ff" opacity="0.70"/>
<circle cx="67.9" cy="792.6" r="1.29" fill="#1a10ff" opacity="0.63"/>
<circle cx="60.4" cy="836.9" r="1.23" fill="#2020e0" opacity="0.60"/>
<circle cx="75.5" cy="825.4" r="0.71" fill="#2010c0" opacity="0.50"/>
<circle cx="60.2" cy="790.1" r="0.70" fill="#2010c0" opacity="0.45"/>
<circle cx="56.0" cy="793.8" r="0.82" fill="#3018f0" opacity="0.65"/>
<circle cx="58.4" cy="824.3" r="1.25" fill="#1a10ff" opacity="0.60"/>
<circle cx="83.2" cy="830.6" r="1.24" fill="#2020e0" opacity="0.70"/>
<circle cx="32.2" cy="821.5" r="0.87" fill="#2010c0" opacity="0.71"/>
<circle cx="67.2" cy="836.6" r="0.83" fill="#2010c0" opacity="0.50"/>
<circle cx="49.9" cy="824.5" r="1.09" fill="#2010c0" opacity="0.56"/>
<circle cx="44.2" cy="806.1" r="1.02" fill="#2010c0" opacity="0.75"/>
<circle cx="63.1" cy="818.7" r="0.85" fill="#2020e0" opacity="0.67"/>
<circle cx="55.2" cy="817.4" r="0.70" fill="#1a10ff" opacity="0.50"/>
<circle cx="36.4" cy="815.9" r="1.28" fill="#2010c0" opacity="0.43"/>
<circle cx="82.9" cy="813.5" r="0.99" fill="#1a10ff" opacity="0.56"/>
<circle cx="27.5" cy="798.1" r="1.29" fill="#2010c0" opacity="0.76"/>
<circle cx="82.6" cy="796.9" r="0.89" fill="#2010c0" opacity="0.85"/>
<circle cx="61.1" cy="833.4" r="0.85" fill="#2020e0" opacity="0.49"/>
<circle cx="49.8" cy="832.7" r="1.07" fill="#2010c0" opacity="0.81"/>
<circle cx="87.4" cy="814.4" r="0.94" fill="#1a10ff" opacity="0.43"/>
<circle cx="66.9" cy="830.0" r="1.06" fill="#2020e0" opacity="0.53"/>
<circle cx="36.5" cy="816.1" r="0.91" fill="#2020e0" opacity="0.47"/>
<circle cx="26.6" cy="826.9" r="0.97" fill="#1a10ff" opacity="0.44"/>
<circle cx="59.2" cy="801.9" r="0.97" fill="#2010c0" opacity="0.63"/>
<circle cx="35.2" cy="834.3" r="1.05" fill="#2010c0" opacity="0.80"/>
<circle cx="51.0" cy="827.4" r="1.02" fill="#2020e0" opacity="0.42"/>
<circle cx="72.8" cy="830.6" r="1.23" fill="#3018f0" opacity="0.45"/>
<circle cx="56.0" cy="800.5" r="1.07" fill="#2020e0" opacity="0.45"/>
<circle cx="22.5" cy="832.5" r="0.82" fill="#2020e0" opacity="0.75"/>
<circle cx="17.4" cy="817.9" r="1.21" fill="#1a10ff" opacity="0.58"/>
<circle cx="38.5" cy="806.7" r="1.16" fill="#1a10ff" opacity="0.49"/>
<circle cx="29.2" cy="782.4" r="1.10" fill="#2010c0" opacity="0.51"/>
<circle cx="28.1" cy="803.1" r="1.26" fill="#2020e0" opacity="0.55"/>
<circle cx="70.5" cy="793.9" r="1.20" fill="#3018f0" opacity="0.61"/>
<circle cx="69.0" cy="793.9" r="1.04" fill="#2010c0" opacity="0.78"/>
<circle cx="72.8" cy="813.8" r="0.84" fill="#2010c0" opacity="0.75"/>
<circle cx="62.5" cy="830.5" r="0.86" fill="#3018f0" opacity="0.69"/>
<circle cx="41.0" cy="837.2" r="0.82" fill="#3018f0" opacity="0.79"/>
<circle cx="37.5" cy="794.8" r="1.01" fill="#1a10ff" opacity="0.44"/>
<circle cx="87.1" cy="790.5" r="0.71" fill="#2010c0" opacity="0.41"/>
<circle cx="20.3" cy="792.6" r="1.29" fill="#2010c0" opacity="0.48"/>
<circle cx="80.6" cy="793.6" r="1.16" fill="#2020e0" opacity="0.71"/>
<circle cx="17.8" cy="823.0" r="1.09" fill="#3018f0" opacity="0.43"/>
<circle cx="18.9" cy="802.2" r="1.10" fill="#3018f0" opacity="0.81"/>
<circle cx="90.9" cy="816.4" r="0.96" fill="#1a10ff" opacity="0.65"/>
<circle cx="46.2" cy="798.7" r="1.06" fill="#1a10ff" opacity="0.69"/>
<circle cx="39.8" cy="790.0" r="0.83" fill="#1a10ff" opacity="0.46"/>
<circle cx="17.2" cy="827.2" r="0.92" fill="#1a10ff" opacity="0.72"/>
<circle cx="58.8" cy="828.4" r="1.08" fill="#2010c0" opacity="0.74"/>
<circle cx="25.5" cy="795.9" r="0.77" fill="#3018f0" opacity="0.45"/>
<circle cx="44.6" cy="819.6" r="0.71" fill="#2010c0" opacity="0.72"/>
<circle cx="30.1" cy="783.4" r="0.71" fill="#1a10ff" opacity="0.54"/>
<circle cx="50.5" cy="828.0" r="0.73" fill="#2010c0" opacity="0.52"/>
<circle cx="39.7" cy="794.1" r="0.90" fill="#2010c0" opacity="0.83"/>
<circle cx="91.7" cy="825.3" r="1.26" fill="#1a10ff" opacity="0.51"/>
<circle cx="25.9" cy="811.2" r="1.02" fill="#3018f0" opacity="0.55"/>
<circle cx="56.9" cy="785.8" r="0.87" fill="#1a10ff" opacity="0.50"/>
<circle cx="83.3" cy="836.4" r="0.93" fill="#2010c0" opacity="0.72"/>
<circle cx="51.6" cy="827.5" r="0.89" fill="#2020e0" opacity="0.71"/>
<circle cx="31.7" cy="786.3" r="0.99" fill="#2020e0" opacity="0.59"/>
<circle cx="55.2" cy="806.7" r="0.97" fill="#1a10ff" opacity="0.78"/>
<circle cx="67.8" cy="833.3" r="0.90" fill="#2010c0" opacity="0.79"/>
<circle cx="70.9" cy="808.2" r="0.85" fill="#3018f0" opacity="0.80"/>
<circle cx="18.3" cy="835.8" r="1.17" fill="#1a10ff" opacity="0.61"/>
<circle cx="17.1" cy="828.1" r="0.74" fill="#2020e0" opacity="0.49"/>
<circle cx="31.8" cy="817.7" r="0.76" fill="#1a10ff" opacity="0.67"/>
<circle cx="56.0" cy="828.8" r="1.07" fill="#2010c0" opacity="0.46"/>
<circle cx="25.3" cy="808.3" r="1.22" fill="#2020e0" opacity="0.71"/>
<circle cx="70.4" cy="825.5" r="1.14" fill="#3018f0" opacity="0.52"/>
<circle cx="86.1" cy="832.1" r="1.19" fill="#2020e0" opacity="0.67"/>
<circle cx="82.7" cy="800.1" r="0.76" fill="#3018f0" opacity="0.42"/>
<circle cx="58.8" cy="786.2" r="1.01" fill="#1a10ff" opacity="0.56"/>
<circle cx="24.8" cy="803.1" r="1.19" fill="#3018f0" opacity="0.64"/>
<circle cx="39.3" cy="807.2" r="1.15" fill="#2020e0" opacity="0.41"/>
<circle cx="17.8" cy="833.8" r="0.78" fill="#2010c0" opacity="0.69"/>
<circle cx="61.4" cy="817.6" r="0.94" fill="#2010c0" opacity="0.83"/>
<circle cx="38.3" cy="795.3" r="0.96" fill="#2010c0" opacity="0.50"/>
<circle cx="69.7" cy="823.3" r="1.17" fill="#2010c0" opacity="0.80"/>
<circle cx="26.0" cy="803.4" r="1.24" fill="#2010c0" opacity="0.47"/>
<circle cx="87.4" cy="804.8" r="0.81" fill="#3018f0" opacity="0.84"/>
<circle cx="18.0" cy="830.4" r="1.12" fill="#2010c0" opacity="0.49"/>
<circle cx="53.6" cy="838.3" r="1.20" fill="#3018f0" opacity="0.48"/>
<circle cx="35.0" cy="813.3" r="0.99" fill="#2020e0" opacity="0.49"/>
<circle cx="87.2" cy="783.1" r="0.79" fill="#3018f0" opacity="0.71"/>
<circle cx="27.7" cy="809.6" r="1.29" fill="#2010c0" opacity="0.50"/>
<circle cx="91.8" cy="838.2" r="0.79" fill="#1a10ff" opacity="0.49"/>
<circle cx="20.4" cy="804.7" r="1.29" fill="#2020e0" opacity="0.48"/>
<circle cx="81.7" cy="798.8" r="1.17" fill="#3018f0" opacity="0.83"/>
<circle cx="37.4" cy="832.6" r="0.83" fill="#2020e0" opacity="0.78"/>
<circle cx="56.1" cy="786.6" r="1.07" fill="#1a10ff" opacity="0.59"/>
<circle cx="49.3" cy="817.1" r="0.85" fill="#2020e0" opacity="0.73"/>
<circle cx="32.7" cy="816.6" r="1.19" fill="#2020e0" opacity="0.61"/>
<circle cx="51.4" cy="813.3" r="1.17" fill="#3018f0" opacity="0.56"/>
<circle cx="31.6" cy="832.3" r="1.26" fill="#2020e0" opacity="0.53"/>
<circle cx="40.6" cy="819.0" r="1.03" fill="#2020e0" opacity="0.61"/>
<circle cx="91.4" cy="817.0" r="0.85" fill="#1a10ff" opacity="0.55"/>
<circle cx="71.3" cy="834.0" r="1.29" fill="#2020e0" opacity="0.53"/>
<circle cx="81.6" cy="788.4" r="1.19" fill="#1a10ff" opacity="0.84"/>
<circle cx="46.6" cy="832.2" r="0.99" fill="#1a10ff" opacity="0.73"/>
<circle cx="75.3" cy="825.8" r="0.87" fill="#1a10ff" opacity="0.70"/>
<circle cx="66.8" cy="835.4" r="1.11" fill="#1a10ff" opacity="0.77"/>
<circle cx="17.6" cy="821.7" r="1.27" fill="#2010c0" opacity="0.64"/>
<circle cx="74.3" cy="826.4" r="0.73" fill="#2010c0" opacity="0.72"/>
<circle cx="89.0" cy="813.5" r="0.81" fill="#2020e0" opacity="0.52"/>
<circle cx="62.2" cy="836.9" r="0.98" fill="#2020e0" opacity="0.48"/>
<circle cx="26.9" cy="796.4" r="1.23" fill="#1a10ff" opacity="0.62"/>
<circle cx="28.4" cy="794.1" r="1.22" fill="#1a10ff" opacity="0.82"/>
<circle cx="29.2" cy="788.1" r="1.04" fill="#2020e0" opacity="0.58"/>
<circle cx="59.9" cy="813.1" r="0.99" fill="#1a10ff" opacity="0.67"/>
<circle cx="88.0" cy="836.1" r="1.18" fill="#1a10ff" opacity="0.63"/>
<circle cx="32.4" cy="798.5" r="1.27" fill="#2010c0" opacity="0.81"/>
<circle cx="91.4" cy="812.2" r="1.23" fill="#1a10ff" opacity="0.54"/>
<circle cx="55.0" cy="792.5" r="1.17" fill="#2010c0" opacity="0.55"/>
<circle cx="75.9" cy="804.0" r="0.81" fill="#3018f0" opacity="0.82"/>
<circle cx="50.3" cy="828.4" r="1.02" fill="#3018f0" opacity="0.69"/>
<circle cx="51.6" cy="785.1" r="0.73" fill="#3018f0" opacity="0.66"/>
<circle cx="53.8" cy="807.2" r="1.13" fill="#1a10ff" opacity="0.67"/>
<circle cx="87.1" cy="807.6" r="0.90" fill="#2020e0" opacity="0.82"/>
<circle cx="82.7" cy="813.7" r="1.23" fill="#3018f0" opacity="0.49"/>
<circle cx="36.3" cy="835.1" r="0.90" fill="#3018f0" opacity="0.72"/>
<circle cx="81.3" cy="817.1" r="0.77" fill="#1a10ff" opacity="0.79"/>
<circle cx="53.1" cy="794.0" r="0.93" fill="#2010c0" opacity="0.84"/>
<circle cx="65.5" cy="832.4" r="0.90" fill="#3018f0" opacity="0.75"/>
<circle cx="28.1" cy="801.5" r="0.91" fill="#1a10ff" opacity="0.66"/>
<circle cx="32.7" cy="809.1" r="0.75" fill="#2020e0" opacity="0.83"/>
<circle cx="79.2" cy="823.7" r="0.81" fill="#1a10ff" opacity="0.70"/>
<circle cx="18.9" cy="807.3" r="1.03" fill="#2010c0" opacity="0.61"/>
<circle cx="17.3" cy="801.5" r="0.80" fill="#3018f0" opacity="0.61"/>
<circle cx="33.7" cy="816.5" r="0.71" fill="#3018f0" opacity="0.50"/>
<circle cx="32.9" cy="813.7" r="0.96" fill="#1a10ff" opacity="0.54"/>
<circle cx="42.8" cy="806.6" r="1.30" fill="#2020e0" opacity="0.48"/>
<circle cx="57.4" cy="792.7" r="1.24" fill="#1a10ff" opacity="0.74"/>
<circle cx="51.2" cy="782.3" r="0.77" fill="#1a10ff" opacity="0.49"/>
<circle cx="93.0" cy="785.7" r="0.98" fill="#2020e0" opacity="0.57"/>
<circle cx="43.8" cy="827.9" r="0.98" fill="#2020e0" opacity="0.57"/>
<circle cx="43.0" cy="820.2" r="0.89" fill="#2010c0" opacity="0.74"/>
<circle cx="23.8" cy="805.7" r="0.99" fill="#2010c0" opacity="0.60"/>
<circle cx="34.4" cy="795.3" r="1.17" fill="#2020e0" opacity="0.66"/>
<circle cx="49.9" cy="791.4" r="1.10" fill="#2020e0" opacity="0.82"/>
<circle cx="92.8" cy="783.8" r="0.75" fill="#3018f0" opacity="0.73"/>
<circle cx="83.5" cy="822.2" r="1.09" fill="#2020e0" opacity="0.42"/>
<circle cx="78.1" cy="818.3" r="1.16" fill="#1a10ff" opacity="0.53"/>
<circle cx="17.2" cy="818.7" r="0.82" fill="#2020e0" opacity="0.67"/>
<circle cx="17.3" cy="816.2" r="1.14" fill="#3018f0" opacity="0.55"/>
<circle cx="87.5" cy="823.7" r="1.30" fill="#2020e0" opacity="0.50"/>
<circle cx="82.1" cy="807.4" r="1.23" fill="#2020e0" opacity="0.43"/>
<circle cx="65.1" cy="822.7" r="1.07" fill="#2010c0" opacity="0.60"/>
<circle cx="32.2" cy="810.4" r="0.92" fill="#2010c0" opacity="0.80"/>
<circle cx="60.5" cy="783.2" r="1.19" fill="#2020e0" opacity="0.78"/>
<circle cx="38.3" cy="822.8" r="1.02" fill="#1a10ff" opacity="0.71"/>
<circle cx="54.3" cy="796.7" r="0.82" fill="#1a10ff" opacity="0.75"/>
<circle cx="36.2" cy="823.4" r="1.17" fill="#3018f0" opacity="0.54"/>
<circle cx="91.1" cy="809.6" r="0.79" fill="#1a10ff" opacity="0.71"/>
<circle cx="58.9" cy="835.1" r="0.71" fill="#2010c0" opacity="0.63"/>
<circle cx="55.4" cy="817.1" r="1.11" fill="#2020e0" opacity="0.83"/>
<circle cx="93.1" cy="808.1" r="1.26" fill="#2020e0" opacity="0.58"/>
<circle cx="55.9" cy="821.7" r="1.20" fill="#1a10ff" opacity="0.60"/>
<circle cx="41.9" cy="810.7" r="0.88" fill="#2020e0" opacity="0.62"/>
<circle cx="71.9" cy="824.8" r="0.87" fill="#2020e0" opacity="0.74"/>
<circle cx="42.8" cy="813.8" r="1.11" fill="#1a10ff" opacity="0.79"/>
<circle cx="80.5" cy="783.8" r="0.93" fill="#2020e0" opacity="0.61"/>
<circle cx="70.2" cy="805.0" r="1.06" fill="#2010c0" opacity="0.42"/>
<circle cx="24.3" cy="791.3" r="1.21" fill="#2010c0" opacity="0.73"/>
<circle cx="86.9" cy="833.4" r="1.08" fill="#2020e0" opacity="0.78"/>
<circle cx="42.1" cy="803.6" r="1.26" fill="#3018f0" opacity="0.41"/>
<circle cx="31.5" cy="825.7" r="0.80" fill="#1a10ff" opacity="0.81"/>
<circle cx="62.1" cy="822.9" r="0.95" fill="#3018f0" opacity="0.44"/>
<circle cx="86.4" cy="790.5" r="1.21" fill="#3018f0" opacity="0.83"/>
<circle cx="80.9" cy="786.8" r="1.17" fill="#2010c0" opacity="0.69"/>
<circle cx="31.9" cy="784.8" r="1.20" fill="#2010c0" opacity="0.58"/>
<circle cx="65.7" cy="806.7" r="0.96" fill="#2020e0" opacity="0.60"/>
<circle cx="78.2" cy="821.8" r="0.90" fill="#2020e0" opacity="0.83"/>
<circle cx="31.8" cy="812.8" r="1.05" fill="#2010c0" opacity="0.58"/>
<circle cx="50.3" cy="809.8" r="1.25" fill="#3018f0" opacity="0.73"/>
<circle cx="53.0" cy="796.1" r="1.12" fill="#1a10ff" opacity="0.78"/>
<circle cx="40.0" cy="828.8" r="0.97" fill="#2010c0" opacity="0.79"/>
<circle cx="90.8" cy="819.8" r="1.18" fill="#2010c0" opacity="0.42"/>
<circle cx="25.0" cy="787.8" r="1.25" fill="#2020e0" opacity="0.57"/>
<circle cx="66.3" cy="836.2" r="1.30" fill="#2010c0" opacity="0.55"/>
<circle cx="34.4" cy="837.1" r="0.90" fill="#3018f0" opacity="0.57"/>
<circle cx="74.7" cy="800.1" r="0.97" fill="#2020e0" opacity="0.42"/>
<circle cx="29.7" cy="791.7" r="1.18" fill="#1a10ff" opacity="0.49"/>
<circle cx="61.2" cy="794.9" r="0.88" fill="#2010c0" opacity="0.60"/>
<circle cx="21.7" cy="830.2" r="0.82" fill="#2020e0" opacity="0.55"/>
<circle cx="59.0" cy="781.9" r="0.83" fill="#3018f0" opacity="0.49"/>
<circle cx="67.0" cy="786.5" r="1.07" fill="#2010c0" opacity="0.65"/>
<circle cx="33.5" cy="803.3" r="0.78" fill="#2010c0" opacity="0.48"/>
<circle cx="77.2" cy="825.6" r="0.93" fill="#2020e0" opacity="0.80"/>
<circle cx="28.6" cy="784.8" r="1.14" fill="#2010c0" opacity="0.79"/>
<circle cx="84.7" cy="806.7" r="0.91" fill="#2010c0" opacity="0.77"/>
<circle cx="61.9" cy="837.0" r="1.00" fill="#2020e0" opacity="0.78"/>
<circle cx="28.9" cy="795.6" r="1.10" fill="#2020e0" opacity="0.83"/>
<circle cx="26.7" cy="796.2" r="1.24" fill="#2020e0" opacity="0.67"/>
<circle cx="69.5" cy="834.0" r="1.10" fill="#3018f0" opacity="0.42"/>
<circle cx="67.8" cy="808.9" r="0.84" fill="#1a10ff" opacity="0.81"/>
<circle cx="34.3" cy="792.4" r="0.72" fill="#2020e0" opacity="0.47"/>
<circle cx="20.3" cy="789.6" r="0.97" fill="#2020e0" opacity="0.52"/>
<circle cx="56.4" cy="794.1" r="0.79" fill="#1a10ff" opacity="0.55"/>
<circle cx="24.4" cy="826.4" r="1.11" fill="#2020e0" opacity="0.53"/>
<circle cx="27.9" cy="815.7" r="1.12" fill="#2010c0" opacity="0.72"/>
<circle cx="37.8" cy="791.7" r="1.09" fill="#3018f0" opacity="0.83"/>
<circle cx="75.1" cy="817.7" r="1.20" fill="#3018f0" opacity="0.73"/>
<circle cx="24.8" cy="823.0" r="0.76" fill="#2020e0" opacity="0.41"/>
<circle cx="91.3" cy="783.0" r="0.81" fill="#2010c0" opacity="0.82"/>
<circle cx="66.0" cy="789.0" r="1.21" fill="#1a10ff" opacity="0.58"/>
<circle cx="45.3" cy="810.2" r="1.14" fill="#2020e0" opacity="0.50"/>
<circle cx="46.9" cy="832.6" r="0.71" fill="#2020e0" opacity="0.49"/>
<circle cx="38.3" cy="835.4" r="0.75" fill="#2010c0" opacity="0.42"/>
<circle cx="20.2" cy="822.8" r="1.25" fill="#1a10ff" opacity="0.53"/>
<circle cx="81.3" cy="815.1" r="1.06" fill="#2020e0" opacity="0.81"/>
<circle cx="73.7" cy="834.5" r="0.73" fill="#2010c0" opacity="0.63"/>
<circle cx="48.4" cy="829.5" r="0.97" fill="#3018f0" opacity="0.59"/>
<circle cx="59.8" cy="834.8" r="0.92" fill="#3018f0" opacity="0.42"/>
<circle cx="29.5" cy="788.0" r="0.84" fill="#2010c0" opacity="0.49"/>
<circle cx="25.7" cy="783.6" r="0.85" fill="#1a10ff" opacity="0.82"/>
<circle cx="62.9" cy="801.1" r="1.03" fill="#2020e0" opacity="0.41"/>
<circle cx="48.5" cy="818.6" r="0.71" fill="#2020e0" opacity="0.73"/>
<circle cx="19.9" cy="837.9" r="1.30" fill="#3018f0" opacity="0.82"/>
<circle cx="85.9" cy="814.4" r="1.00" fill="#2020e0" opacity="0.71"/>
<circle cx="50.8" cy="837.1" r="0.77" fill="#1a10ff" opacity="0.68"/>
<circle cx="90.1" cy="815.4" r="1.14" fill="#2010c0" opacity="0.54"/>
<circle cx="25.9" cy="799.6" r="1.23" fill="#2010c0" opacity="0.51"/>
<circle cx="22.5" cy="820.2" r="1.16" fill="#1a10ff" opacity="0.82"/>
<circle cx="26.9" cy="833.9" r="0.78" fill="#3018f0" opacity="0.52"/>
<circle cx="36.2" cy="797.3" r="1.06" fill="#3018f0" opacity="0.82"/>
<circle cx="48.2" cy="786.2" r="0.82" fill="#2020e0" opacity="0.44"/>
<circle cx="72.5" cy="807.2" r="0.86" fill="#1a10ff" opacity="0.65"/>
<circle cx="28.6" cy="825.1" r="1.16" fill="#2020e0" opacity="0.85"/>
<circle cx="75.6" cy="795.0" r="0.89" fill="#1a10ff" opacity="0.58"/>
<circle cx="79.9" cy="812.6" r="0.78" fill="#2010c0" opacity="0.62"/>
<circle cx="82.8" cy="781.8" r="0.73" fill="#1a10ff" opacity="0.44"/>
<circle cx="57.6" cy="794.4" r="0.85" fill="#3018f0" opacity="0.51"/>
<circle cx="72.9" cy="825.7" r="1.15" fill="#3018f0" opacity="0.45"/>
<circle cx="67.6" cy="801.4" r="0.95" fill="#3018f0" opacity="0.72"/>
<circle cx="40.1" cy="789.7" r="0.88" fill="#2020e0" opacity="0.50"/>
<circle cx="87.1" cy="800.1" r="0.99" fill="#2020e0" opacity="0.73"/>
<circle cx="30.7" cy="786.2" r="1.08" fill="#2020e0" opacity="0.48"/>
<circle cx="74.6" cy="815.9" r="0.78" fill="#3018f0" opacity="0.49"/>
<circle cx="65.9" cy="785.5" r="0.98" fill="#2020e0" opacity="0.83"/>
<circle cx="27.1" cy="795.4" r="0.98" fill="#3018f0" opacity="0.83"/>
<circle cx="46.1" cy="784.1" r="1.10" fill="#2010c0" opacity="0.78"/>
<circle cx="62.2" cy="792.0" r="0.83" fill="#1a10ff" opacity="0.76"/>
<circle cx="18.3" cy="793.0" r="0.98" fill="#2010c0" opacity="0.84"/>
<circle cx="51.0" cy="832.5" r="0.73" fill="#1a10ff" opacity="0.67"/>
<circle cx="62.4" cy="834.5" r="0.84" fill="#2010c0" opacity="0.71"/>
<circle cx="47.4" cy="827.0" r="0.88" fill="#2010c0" opacity="0.44"/>
<circle cx="74.6" cy="787.2" r="1.17" fill="#1a10ff" opacity="0.64"/>
<circle cx="83.5" cy="815.7" r="1.28" fill="#2020e0" opacity="0.45"/>
<circle cx="56.5" cy="785.0" r="0.94" fill="#1a10ff" opacity="0.80"/>
<circle cx="66.0" cy="788.0" r="0.78" fill="#3018f0" opacity="0.83"/>
<circle cx="55.6" cy="831.8" r="1.26" fill="#3018f0" opacity="0.58"/>
<circle cx="47.2" cy="782.9" r="1.26" fill="#2010c0" opacity="0.68"/>
<circle cx="81.1" cy="838.3" r="1.13" fill="#2010c0" opacity="0.56"/>
<circle cx="21.4" cy="781.7" r="0.83" fill="#3018f0" opacity="0.77"/>
<circle cx="88.9" cy="832.2" r="0.83" fill="#1a10ff" opacity="0.52"/>
<circle cx="25.0" cy="807.0" r="1.05" fill="#1a10ff" opacity="0.57"/>
<circle cx="25.6" cy="806.7" r="1.26" fill="#2010c0" opacity="0.76"/>
<circle cx="76.6" cy="834.7" r="1.15" fill="#3018f0" opacity="0.63"/>
<circle cx="83.5" cy="786.7" r="0.86" fill="#3018f0" opacity="0.48"/>
<circle cx="22.7" cy="793.7" r="1.29" fill="#2010c0" opacity="0.54"/>
<circle cx="39.1" cy="837.8" r="0.88" fill="#3018f0" opacity="0.47"/>
<circle cx="34.9" cy="834.7" r="1.25" fill="#2020e0" opacity="0.74"/>
<circle cx="82.9" cy="812.9" r="1.30" fill="#2010c0" opacity="0.74"/>
<circle cx="84.1" cy="826.0" r="0.76" fill="#1a10ff" opacity="0.54"/>
<circle cx="34.4" cy="835.1" r="1.04" fill="#2020e0" opacity="0.84"/>
<circle cx="29.4" cy="791.1" r="0.87" fill="#1a10ff" opacity="0.71"/>
<circle cx="48.6" cy="789.9" r="1.21" fill="#2020e0" opacity="0.52"/>
<circle cx="71.7" cy="811.7" r="0.70" fill="#2010c0" opacity="0.71"/>
<circle cx="53.9" cy="789.1" r="0.87" fill="#2010c0" opacity="0.80"/>
<circle cx="46.7" cy="820.0" r="1.02" fill="#2010c0" opacity="0.60"/>
<circle cx="24.6" cy="782.5" r="0.92" fill="#3018f0" opacity="0.75"/>
<circle cx="85.4" cy="804.3" r="1.28" fill="#2020e0" opacity="0.61"/>
<circle cx="31.7" cy="827.0" r="0.99" fill="#2020e0" opacity="0.84"/>
<circle cx="59.0" cy="808.1" r="1.26" fill="#3018f0" opacity="0.70"/>
<circle cx="84.2" cy="825.1" r="1.19" fill="#3018f0" opacity="0.73"/>
<circle cx="77.5" cy="830.7" r="0.95" fill="#2020e0" opacity="0.75"/>
<circle cx="19.4" cy="794.3" r="1.10" fill="#2010c0" opacity="0.60"/>
<circle cx="73.7" cy="826.0" r="1.01" fill="#1a10ff" opacity="0.80"/>
<circle cx="30.9" cy="828.4" r="1.27" fill="#2010c0" opacity="0.79"/>
<circle cx="45.2" cy="813.8" r="1.21" fill="#1a10ff" opacity="0.78"/>
<circle cx="79.1" cy="793.6" r="1.26" fill="#1a10ff" opacity="0.72"/>
<circle cx="81.5" cy="821.9" r="0.96" fill="#2020e0" opacity="0.64"/>
<circle cx="84.4" cy="799.6" r="1.12" fill="#3018f0" opacity="0.47"/>
<circle cx="51.7" cy="786.8" r="0.87" fill="#3018f0" opacity="0.59"/>
<circle cx="72.5" cy="810.9" r="0.72" fill="#2010c0" opacity="0.78"/>
<circle cx="25.6" cy="790.4" r="0.90" fill="#2010c0" opacity="0.48"/>
<circle cx="44.2" cy="782.9" r="1.06" fill="#2020e0" opacity="0.46"/>
<circle cx="69.4" cy="814.6" r="0.74" fill="#2010c0" opacity="0.74"/>
<circle cx="83.0" cy="814.9" r="1.23" fill="#2020e0" opacity="0.63"/>
<circle cx="50.0" cy="811.5" r="0.85" fill="#2020e0" opacity="0.64"/>
<circle cx="47.0" cy="796.9" r="0.93" fill="#2020e0" opacity="0.56"/>
<circle cx="51.1" cy="804.8" r="0.95" fill="#2010c0" opacity="0.80"/>
<circle cx="55.1" cy="834.9" r="0.79" fill="#3018f0" opacity="0.67"/>
<circle cx="49.9" cy="825.9" r="0.98" fill="#2010c0" opacity="0.57"/>
<circle cx="45.1" cy="802.1" r="1.18" fill="#1a10ff" opacity="0.74"/>
<circle cx="65.2" cy="824.6" r="0.74" fill="#3018f0" opacity="0.82"/>
<circle cx="48.4" cy="838.3" r="0.96" fill="#1a10ff" opacity="0.43"/>
<circle cx="82.0" cy="830.2" r="0.96" fill="#1a10ff" opacity="0.68"/>
<circle cx="86.4" cy="833.4" r="0.79" fill="#2020e0" opacity="0.69"/>
<circle cx="81.5" cy="799.5" r="1.11" fill="#2020e0" opacity="0.85"/>
<circle cx="21.6" cy="824.1" r="1.15" fill="#2010c0" opacity="0.53"/>
<circle cx="24.8" cy="800.9" r="0.77" fill="#2020e0" opacity="0.57"/>
<circle cx="40.0" cy="807.0" r="1.14" fill="#3018f0" opacity="0.40"/>
<circle cx="54.2" cy="803.1" r="0.71" fill="#1a10ff" opacity="0.60"/>
<circle cx="22.1" cy="789.3" r="0.73" fill="#1a10ff" opacity="0.76"/>
<circle cx="88.0" cy="830.4" r="1.16" fill="#2010c0" opacity="0.70"/>
<circle cx="36.9" cy="802.5" r="0.81" fill="#2020e0" opacity="0.62"/>
<circle cx="24.3" cy="798.2" r="0.85" fill="#2010c0" opacity="0.66"/>
<circle cx="21.4" cy="810.1" r="1.10" fill="#2010c0" opacity="0.46"/>
<circle cx="64.2" cy="823.6" r="1.27" fill="#2010c0" opacity="0.61"/>
<circle cx="23.2" cy="816.7" r="1.23" fill="#3018f0" opacity="0.56"/>
<circle cx="57.9" cy="821.7" r="0.98" fill="#1a10ff" opacity="0.58"/>
<circle cx="78.3" cy="792.1" r="1.12" fill="#1a10ff" opacity="0.78"/>
<circle cx="67.0" cy="826.4" r="1.11" fill="#2020e0" opacity="0.76"/>
<circle cx="37.4" cy="818.2" r="1.21" fill="#1a10ff" opacity="0.52"/>
<circle cx="44.1" cy="804.1" r="0.73" fill="#2010c0" opacity="0.63"/>
<circle cx="60.9" cy="807.1" r="1.19" fill="#2020e0" opacity="0.50"/>
<circle cx="34.6" cy="800.0" r="1.09" fill="#2020e0" opacity="0.57"/>
<circle cx="84.4" cy="826.5" r="0.96" fill="#3018f0" opacity="0.64"/>
<circle cx="52.9" cy="815.1" r="0.95" fill="#3018f0" opacity="0.66"/>
<circle cx="44.6" cy="789.5" r="1.00" fill="#2020e0" opacity="0.48"/>
<circle cx="53.6" cy="827.5" r="0.90" fill="#1a10ff" opacity="0.61"/>
<circle cx="19.1" cy="786.9" r="1.28" fill="#1a10ff" opacity="0.68"/>
<circle cx="25.5" cy="814.4" r="1.16" fill="#1a10ff" opacity="0.74"/>
<circle cx="69.7" cy="785.8" r="1.14" fill="#3018f0" opacity="0.82"/>
<circle cx="88.5" cy="830.2" r="0.75" fill="#1a10ff" opacity="0.62"/>
<circle cx="31.2" cy="811.1" r="0.74" fill="#2020e0" opacity="0.62"/>
<circle cx="64.7" cy="818.1" r="1.22" fill="#3018f0" opacity="0.63"/>
<circle cx="32.9" cy="826.6" r="1.00" fill="#3018f0" opacity="0.41"/>
<circle cx="70.6" cy="805.0" r="1.24" fill="#1a10ff" opacity="0.47"/>
<circle cx="20.3" cy="835.8" r="1.17" fill="#2010c0" opacity="0.59"/>
<circle cx="60.3" cy="788.3" r="1.16" fill="#3018f0" opacity="0.79"/>
<circle cx="43.5" cy="834.5" r="1.18" fill="#1a10ff" opacity="0.46"/>
<circle cx="60.7" cy="784.3" r="0.84" fill="#2020e0" opacity="0.81"/>
<circle cx="20.7" cy="820.8" r="0.93" fill="#1a10ff" opacity="0.75"/>
<circle cx="19.0" cy="804.4" r="0.92" fill="#1a10ff" opacity="0.84"/>
<circle cx="67.1" cy="784.1" r="0.83" fill="#3018f0" opacity="0.70"/>
<circle cx="77.0" cy="807.0" r="0.99" fill="#2010c0" opacity="0.69"/>
<circle cx="54.5" cy="811.5" r="0.96" fill="#2010c0" opacity="0.71"/>
<circle cx="82.0" cy="795.5" r="1.05" fill="#2010c0" opacity="0.77"/>
<circle cx="40.9" cy="787.3" r="0.85" fill="#1a10ff" opacity="0.72"/>
<circle cx="91.4" cy="786.8" r="1.00" fill="#1a10ff" opacity="0.84"/>
<circle cx="75.5" cy="819.6" r="0.99" fill="#1a10ff" opacity="0.49"/>
<circle cx="79.3" cy="827.7" r="1.20" fill="#1a10ff" opacity="0.77"/>
<circle cx="91.0" cy="802.2" r="0.95" fill="#2020e0" opacity="0.70"/>
<circle cx="58.1" cy="810.4" r="0.75" fill="#2010c0" opacity="0.44"/>
<circle cx="80.2" cy="825.8" r="0.80" fill="#3018f0" opacity="0.78"/>
<circle cx="76.9" cy="818.4" r="1.17" fill="#2020e0" opacity="0.67"/>
<circle cx="45.3" cy="830.6" r="1.18" fill="#2020e0" opacity="0.82"/>
<circle cx="24.6" cy="837.9" r="1.12" fill="#3018f0" opacity="0.62"/>
<circle cx="24.2" cy="793.5" r="1.14" fill="#3018f0" opacity="0.78"/>
<circle cx="53.7" cy="794.5" r="0.87" fill="#1a10ff" opacity="0.68"/>
<circle cx="93.2" cy="823.8" r="1.14" fill="#2010c0" opacity="0.64"/>
<circle cx="63.7" cy="815.8" r="0.71" fill="#2020e0" opacity="0.46"/>
<circle cx="87.2" cy="807.7" r="0.84" fill="#1a10ff" opacity="0.78"/>
<circle cx="33.0" cy="834.5" r="0.80" fill="#2020e0" opacity="0.76"/>
<circle cx="22.8" cy="833.4" r="1.28" fill="#1a10ff" opacity="0.54"/>
<circle cx="38.2" cy="811.9" r="0.75" fill="#1a10ff" opacity="0.44"/>
<circle cx="66.6" cy="804.1" r="0.70" fill="#1a10ff" opacity="0.61"/>
<circle cx="21.1" cy="793.6" r="1.06" fill="#2010c0" opacity="0.79"/>
<circle cx="45.1" cy="824.9" r="1.05" fill="#2020e0" opacity="0.59"/>
<circle cx="51.1" cy="802.5" r="0.96" fill="#2010c0" opacity="0.74"/>
<circle cx="79.1" cy="793.4" r="0.93" fill="#2010c0" opacity="0.64"/>
<circle cx="20.5" cy="809.1" r="0.84" fill="#2020e0" opacity="0.70"/>
<circle cx="48.2" cy="814.8" r="0.88" fill="#3018f0" opacity="0.41"/>
<circle cx="18.1" cy="832.2" r="0.79" fill="#3018f0" opacity="0.54"/>
<circle cx="78.9" cy="833.2" r="1.00" fill="#1a10ff" opacity="0.60"/>
<circle cx="67.8" cy="800.2" r="0.94" fill="#3018f0" opacity="0.54"/>
<circle cx="43.4" cy="807.4" r="0.81" fill="#1a10ff" opacity="0.77"/>
<circle cx="67.2" cy="834.9" r="1.28" fill="#1a10ff" opacity="0.76"/>
<circle cx="44.1" cy="834.4" r="1.06" fill="#2010c0" opacity="0.82"/>
<circle cx="93.1" cy="830.3" r="0.99" fill="#2020e0" opacity="0.57"/>
<circle cx="70.6" cy="807.3" r="0.78" fill="#3018f0" opacity="0.53"/>
<circle cx="80.5" cy="820.7" r="1.20" fill="#2010c0" opacity="0.42"/>
<circle cx="39.5" cy="835.6" r="1.15" fill="#2020e0" opacity="0.69"/>
<circle cx="53.2" cy="820.0" r="0.72" fill="#1a10ff" opacity="0.60"/>
<circle cx="21.8" cy="828.3" r="1.03" fill="#2010c0" opacity="0.57"/>
<circle cx="59.6" cy="814.8" r="0.99" fill="#2010c0" opacity="0.42"/>
<circle cx="66.8" cy="788.7" r="0.88" fill="#3018f0" opacity="0.46"/>
<circle cx="71.4" cy="782.1" r="1.18" fill="#1a10ff" opacity="0.60"/>
<circle cx="47.9" cy="824.6" r="0.83" fill="#3018f0" opacity="0.63"/>
<circle cx="37.6" cy="786.6" r="1.25" fill="#2010c0" opacity="0.73"/>
<circle cx="34.5" cy="825.1" r="0.84" fill="#3018f0" opacity="0.57"/>
<circle cx="18.8" cy="833.9" r="1.11" fill="#2020e0" opacity="0.57"/>
<circle cx="80.8" cy="789.2" r="1.04" fill="#3018f0" opacity="0.81"/>
<circle cx="47.8" cy="833.8" r="0.71" fill="#2010c0" opacity="0.54"/>
<circle cx="65.6" cy="796.1" r="1.06" fill="#3018f0" opacity="0.49"/>
<circle cx="43.2" cy="837.5" r="0.88" fill="#1a10ff" opacity="0.57"/>
<circle cx="22.7" cy="838.1" r="1.28" fill="#2010c0" opacity="0.54"/>
<circle cx="60.0" cy="836.7" r="0.71" fill="#1a10ff" opacity="0.69"/>
<circle cx="67.6" cy="811.2" r="0.86" fill="#1a10ff" opacity="0.50"/>
<circle cx="65.3" cy="804.3" r="0.83" fill="#2020e0" opacity="0.46"/>
<circle cx="82.4" cy="812.2" r="1.17" fill="#1a10ff" opacity="0.74"/>
<circle cx="38.5" cy="801.9" r="1.09" fill="#2020e0" opacity="0.81"/>
<circle cx="86.4" cy="831.3" r="0.97" fill="#3018f0" opacity="0.61"/>
<circle cx="75.6" cy="810.3" r="0.93" fill="#3018f0" opacity="0.81"/>
<circle cx="53.0" cy="801.6" r="1.24" fill="#1a10ff" opacity="0.70"/>
<circle cx="17.3" cy="810.9" r="1.20" fill="#2010c0" opacity="0.49"/>
<circle cx="36.6" cy="818.5" r="0.88" fill="#1a10ff" opacity="0.62"/>
<circle cx="70.6" cy="807.0" r="1.07" fill="#2020e0" opacity="0.79"/>
<circle cx="45.6" cy="822.7" r="0.95" fill="#3018f0" opacity="0.51"/>
<circle cx="41.2" cy="800.2" r="1.08" fill="#2020e0" opacity="0.56"/>
<circle cx="57.1" cy="821.5" r="1.08" fill="#2010c0" opacity="0.40"/>
<circle cx="53.6" cy="801.6" r="1.26" fill="#1a10ff" opacity="0.45"/>
<circle cx="29.8" cy="811.0" r="1.03" fill="#1a10ff" opacity="0.41"/>
<circle cx="36.2" cy="827.9" r="1.07" fill="#3018f0" opacity="0.81"/>
<circle cx="43.2" cy="817.4" r="0.90" fill="#2020e0" opacity="0.69"/>
<circle cx="19.7" cy="819.7" r="0.96" fill="#1a10ff" opacity="0.45"/>
<circle cx="35.3" cy="818.3" r="0.87" fill="#3018f0" opacity="0.40"/>
<circle cx="28.5" cy="835.9" r="0.74" fill="#2010c0" opacity="0.54"/>
<circle cx="61.6" cy="815.2" r="0.85" fill="#1a10ff" opacity="0.63"/>
<circle cx="52.3" cy="814.0" r="1.12" fill="#1a10ff" opacity="0.57"/>
<circle cx="69.4" cy="819.1" r="1.18" fill="#3018f0" opacity="0.44"/>
<circle cx="71.5" cy="831.0" r="0.97" fill="#2010c0" opacity="0.51"/>
<circle cx="18.7" cy="833.6" r="1.12" fill="#1a10ff" opacity="0.71"/>
<circle cx="32.0" cy="815.0" r="1.07" fill="#2020e0" opacity="0.47"/>
<circle cx="84.1" cy="827.5" r="1.00" fill="#3018f0" opacity="0.79"/>
<circle cx="66.1" cy="812.7" r="0.74" fill="#1a10ff" opacity="0.76"/>
<circle cx="58.3" cy="793.1" r="1.20" fill="#3018f0" opacity="0.60"/>
<circle cx="33.2" cy="793.4" r="1.03" fill="#1a10ff" opacity="0.70"/>
<circle cx="22.2" cy="802.3" r="0.83" fill="#2020e0" opacity="0.66"/>
<circle cx="81.9" cy="827.4" r="0.89" fill="#3018f0" opacity="0.73"/>
<circle cx="49.2" cy="820.8" r="1.07" fill="#2020e0" opacity="0.83"/>
<circle cx="17.6" cy="807.1" r="0.89" fill="#1a10ff" opacity="0.72"/>
<circle cx="74.8" cy="811.6" r="0.95" fill="#2020e0" opacity="0.82"/>
<circle cx="45.8" cy="820.8" r="1.04" fill="#3018f0" opacity="0.41"/>
<circle cx="46.7" cy="787.2" r="1.12" fill="#3018f0" opacity="0.42"/>
<circle cx="63.8" cy="837.5" r="0.71" fill="#2010c0" opacity="0.73"/>
<circle cx="62.8" cy="831.6" r="0.78" fill="#2020e0" opacity="0.69"/>
<circle cx="77.7" cy="831.6" r="0.77" fill="#2010c0" opacity="0.71"/>
<circle cx="72.6" cy="795.4" r="1.08" fill="#1a10ff" opacity="0.80"/>
<circle cx="41.0" cy="808.8" r="1.02" fill="#2020e0" opacity="0.76"/>
<circle cx="22.8" cy="807.9" r="0.85" fill="#1a10ff" opacity="0.80"/>
<circle cx="83.8" cy="833.2" r="0.99" fill="#2010c0" opacity="0.83"/>
<circle cx="90.0" cy="805.4" r="0.88" fill="#2010c0" opacity="0.46"/>
<circle cx="43.7" cy="831.5" r="1.11" fill="#2020e0" opacity="0.75"/>
<circle cx="42.5" cy="824.2" r="1.24" fill="#2020e0" opacity="0.57"/>
<circle cx="63.3" cy="799.1" r="0.84" fill="#2020e0" opacity="0.81"/>
<circle cx="36.1" cy="820.2" r="0.87" fill="#2020e0" opacity="0.41"/>
<circle cx="86.6" cy="837.3" r="1.28" fill="#2020e0" opacity="0.45"/>
<circle cx="44.7" cy="807.3" r="0.91" fill="#1a10ff" opacity="0.50"/>
<circle cx="19.1" cy="788.7" r="1.04" fill="#2020e0" opacity="0.70"/>
<circle cx="75.2" cy="789.5" r="1.11" fill="#3018f0" opacity="0.45"/>
<circle cx="18.8" cy="836.3" r="0.97" fill="#3018f0" opacity="0.71"/>
<circle cx="72.9" cy="809.4" r="1.15" fill="#1a10ff" opacity="0.51"/>
<circle cx="45.3" cy="781.9" r="0.82" fill="#2020e0" opacity="0.84"/>
<circle cx="90.1" cy="814.4" r="1.16" fill="#1a10ff" opacity="0.43"/>
<circle cx="67.7" cy="791.4" r="1.19" fill="#2010c0" opacity="0.73"/>
<circle cx="29.4" cy="829.0" r="1.24" fill="#2020e0" opacity="0.66"/>
<circle cx="61.1" cy="834.7" r="0.79" fill="#3018f0" opacity="0.66"/>
<circle cx="57.9" cy="836.3" r="1.21" fill="#2020e0" opacity="0.70"/>
<circle cx="59.3" cy="836.1" r="1.28" fill="#1a10ff" opacity="0.74"/>
<circle cx="92.8" cy="808.7" r="1.03" fill="#1a10ff" opacity="0.79"/>
<circle cx="69.5" cy="794.2" r="1.03" fill="#1a10ff" opacity="0.66"/>
<circle cx="86.9" cy="783.2" r="1.11" fill="#2020e0" opacity="0.66"/>
<circle cx="85.0" cy="820.6" r="1.05" fill="#1a10ff" opacity="0.46"/>
<circle cx="38.1" cy="794.2" r="0.93" fill="#3018f0" opacity="0.83"/>
<circle cx="49.3" cy="807.0" r="0.98" fill="#2020e0" opacity="0.43"/>
<circle cx="38.9" cy="796.7" r="0.87" fill="#3018f0" opacity="0.73"/>
<circle cx="48.3" cy="810.9" r="0.99" fill="#1a10ff" opacity="0.84"/>
<circle cx="84.0" cy="819.9" r="0.90" fill="#1a10ff" opacity="0.78"/>
<circle cx="30.9" cy="787.6" r="0.71" fill="#1a10ff" opacity="0.81"/>
<circle cx="26.6" cy="785.2" r="0.76" fill="#2010c0" opacity="0.48"/>
<circle cx="85.4" cy="829.1" r="0.92" fill="#2020e0" opacity="0.40"/>
<circle cx="70.0" cy="827.2" r="1.06" fill="#2010c0" opacity="0.43"/>
<circle cx="42.9" cy="825.4" r="1.10" fill="#1a10ff" opacity="0.76"/>
<circle cx="66.4" cy="815.4" r="0.82" fill="#ff10c0" opacity="0.79"/>
<circle cx="49.7" cy="837.7" r="1.09" fill="#ff2080" opacity="0.81"/>
<circle cx="48.8" cy="798.0" r="0.82" fill="#ff2080" opacity="0.89"/>
<circle cx="28.2" cy="810.8" r="1.38" fill="#e010a0" opacity="0.82"/>
<circle cx="78.6" cy="793.6" r="1.28" fill="#ff2080" opacity="0.66"/>
<circle cx="52.6" cy="783.6" r="1.22" fill="#ff2080" opacity="0.73"/>
<circle cx="30.5" cy="814.0" r="0.85" fill="#ff10c0" opacity="0.82"/>
<circle cx="83.8" cy="779.3" r="0.71" fill="#ff2080" opacity="0.91"/>
<circle cx="82.4" cy="798.3" r="1.28" fill="#ff2080" opacity="0.69"/>
<circle cx="34.7" cy="796.8" r="1.15" fill="#ff10c0" opacity="0.78"/>
<circle cx="49.3" cy="811.7" r="1.08" fill="#ff2080" opacity="0.74"/>
<circle cx="76.8" cy="816.6" r="1.18" fill="#ff10c0" opacity="0.81"/>
<circle cx="68.3" cy="805.8" r="0.72" fill="#e010a0" opacity="0.78"/>
<circle cx="92.5" cy="825.1" r="1.04" fill="#ff10c0" opacity="0.65"/>
<circle cx="26.6" cy="795.7" r="0.90" fill="#e010a0" opacity="0.69"/>
<circle cx="78.2" cy="804.1" r="0.96" fill="#ff10c0" opacity="0.76"/>
<circle cx="70.0" cy="789.3" r="1.07" fill="#ff2080" opacity="0.68"/>
<circle cx="67.0" cy="824.9" r="1.14" fill="#ff10c0" opacity="0.80"/>
<circle cx="53.7" cy="818.3" r="1.05" fill="#ff10c0" opacity="0.65"/>
<circle cx="31.0" cy="803.2" r="1.37" fill="#ff2080" opacity="0.86"/>
<circle cx="64.4" cy="789.9" r="1.09" fill="#ff10c0" opacity="0.84"/>
<circle cx="79.3" cy="787.3" r="0.70" fill="#ff2080" opacity="0.89"/>
<circle cx="82.6" cy="801.5" r="1.26" fill="#ff2080" opacity="0.61"/>
<circle cx="56.7" cy="786.2" r="1.07" fill="#ff10c0" opacity="0.89"/>
<circle cx="46.1" cy="784.6" r="0.76" fill="#ff10c0" opacity="0.67"/>
<circle cx="25.9" cy="798.8" r="1.37" fill="#ff10c0" opacity="0.76"/>
<circle cx="57.9" cy="821.1" r="1.15" fill="#ff10c0" opacity="0.73"/>
<circle cx="68.4" cy="798.2" r="1.17" fill="#e010a0" opacity="0.89"/>
<circle cx="51.2" cy="804.2" r="0.77" fill="#ff2080" opacity="0.78"/>
<circle cx="57.2" cy="814.2" r="1.06" fill="#e010a0" opacity="0.74"/>
<circle cx="65.9" cy="806.5" r="1.14" fill="#ff2080" opacity="0.75"/>
<circle cx="68.9" cy="813.9" r="1.20" fill="#ff2080" opacity="0.95"/>
</g></g>
<rect x="70.00" y="773.30" width="20.80" height="2.70" fill="#fff"/>
<rect x="70.00" y="833.70" width="20.80" height="2.70" fill="#fff"/>
<text x="12.60" y="749.50" font-size="8.2" text-anchor="middle" textLength="46.70" lengthAdjust="spacingAndGlyphs" transform="rotate(-90 12.60 749.50)">GFP control</text>
<text x="12.60" y="809.70" font-size="8.2" text-anchor="middle" textLength="40.90" lengthAdjust="spacingAndGlyphs" transform="rotate(-90 12.60 809.70)">AGXT O.E.</text>
<line x1="23.80" y1="843.50" x2="87.60" y2="843.50" stroke="#777" stroke-width="0.9"/>
<text x="55.60" y="853.80" font-size="8.2" text-anchor="middle">PA</text>
<text transform="translate(120.00 712.70) scale(1.07 1)" font-size="11.5" font-weight="bold" fill="#000" stroke="#000" stroke-width="0.3">o</text>
<line x1="157.40" y1="774.60" x2="240.10" y2="774.60" stroke="#e2e2e2" stroke-width="0.8"/>
<line x1="157.40" y1="730.90" x2="157.40" y2="818.30" stroke="#8c8c8c" stroke-width="0.9"/>
<line x1="154.40" y1="818.30" x2="157.40" y2="818.30" stroke="#8c8c8c" stroke-width="0.9"/>
<line x1="154.40" y1="796.45" x2="157.40" y2="796.45" stroke="#8c8c8c" stroke-width="0.9"/>
<line x1="154.40" y1="774.60" x2="157.40" y2="774.60" stroke="#8c8c8c" stroke-width="0.9"/>
<line x1="154.40" y1="752.75" x2="157.40" y2="752.75" stroke="#8c8c8c" stroke-width="0.9"/>
<line x1="154.40" y1="730.90" x2="157.40" y2="730.90" stroke="#8c8c8c" stroke-width="0.9"/>
<text x="150.00" y="733.45" font-size="7.3" text-anchor="end">2</text>
<text x="150.00" y="777.15" font-size="7.3" text-anchor="end">1</text>
<text x="150.00" y="820.85" font-size="7.3" text-anchor="end">0</text>
<line x1="154.40" y1="818.30" x2="240.60" y2="818.30" stroke="#8c8c8c" stroke-width="0.9"/>
<line x1="185.00" y1="818.30" x2="185.00" y2="821.30" stroke="#aaa" stroke-width="0.9"/>
<line x1="219.30" y1="818.30" x2="219.30" y2="821.30" stroke="#aaa" stroke-width="0.9"/>
<line x1="170.80" y1="755.10" x2="197.70" y2="755.10" stroke="#1a1a1a" stroke-width="0.9" stroke-dasharray="2.2,1.0,0.8,1.0"/>
<line x1="185.00" y1="752.70" x2="185.00" y2="757.30" stroke="#000" stroke-width="1.0"/>
<line x1="182.20" y1="752.70" x2="187.80" y2="752.70" stroke="#000" stroke-width="1.0"/>
<line x1="182.20" y1="757.30" x2="187.80" y2="757.30" stroke="#000" stroke-width="1.0"/>
<circle cx="176.00" cy="759.90" r="2.2" fill="#0000ff" stroke="#000" stroke-width="0.85"/>
<circle cx="185.00" cy="748.20" r="2.2" fill="#0000ff" stroke="#000" stroke-width="0.85"/>
<circle cx="185.00" cy="756.00" r="2.2" fill="#0000ff" stroke="#000" stroke-width="0.85"/>
<circle cx="193.50" cy="756.50" r="2.2" fill="#0000ff" stroke="#000" stroke-width="0.85"/>
<line x1="205.60" y1="752.00" x2="232.50" y2="752.00" stroke="#1a1a1a" stroke-width="0.9" stroke-dasharray="2.2,1.0,0.8,1.0"/>
<line x1="219.40" y1="747.50" x2="219.40" y2="755.50" stroke="#000" stroke-width="1.0"/>
<line x1="216.60" y1="747.50" x2="222.20" y2="747.50" stroke="#000" stroke-width="1.0"/>
<line x1="216.60" y1="755.50" x2="222.20" y2="755.50" stroke="#000" stroke-width="1.0"/>
<circle cx="215.20" cy="758.00" r="2.2" fill="#0000ff" stroke="#000" stroke-width="0.85"/>
<circle cx="219.40" cy="744.80" r="2.2" fill="#0000ff" stroke="#000" stroke-width="0.85"/>
<circle cx="219.40" cy="749.80" r="2.2" fill="#0000ff" stroke="#000" stroke-width="0.85"/>
<circle cx="223.70" cy="754.40" r="2.2" fill="#0000ff" stroke="#000" stroke-width="0.85"/>
<text x="162.90" y="741.30" font-size="8.2" textLength="44.00" lengthAdjust="spacingAndGlyphs"><tspan font-style="italic">P</tspan> = 0.0002</text>
<text x="197.70" y="725.20" font-size="8.2" textLength="43.40" lengthAdjust="spacingAndGlyphs"><tspan font-style="italic">P</tspan> = 0.0002</text>
<text x="185.00" y="832.70" font-size="8.2" text-anchor="middle" font-style="italic">CPT1A</text>
<text x="219.30" y="832.70" font-size="8.2" text-anchor="middle" font-style="italic">ACADM</text>
<line x1="170.20" y1="837.10" x2="237.10" y2="837.10" stroke="#777" stroke-width="0.9"/>
<text x="203.80" y="848.00" font-size="8.2" text-anchor="middle">PA</text>
<text x="127.80" y="774.60" font-size="8.2" text-anchor="middle" textLength="85.30" lengthAdjust="spacingAndGlyphs" transform="rotate(-90 127.80 774.60)">Fold gene expression</text>
<text x="137.10" y="774.60" font-size="8.2" text-anchor="middle" textLength="48.00" lengthAdjust="spacingAndGlyphs" transform="rotate(-90 137.10 774.60)">AGXT to GFP</text>
<text transform="translate(268.50 713.00) scale(1.07 1)" font-size="11.5" font-weight="bold" fill="#000" stroke="#000" stroke-width="0.3">p</text>
<line x1="301.60" y1="713.78" x2="301.60" y2="778.50" stroke="#8c8c8c" stroke-width="0.9"/>
<line x1="298.60" y1="778.50" x2="301.60" y2="778.50" stroke="#8c8c8c" stroke-width="0.9"/>
<line x1="298.60" y1="762.32" x2="301.60" y2="762.32" stroke="#8c8c8c" stroke-width="0.9"/>
<line x1="298.60" y1="746.14" x2="301.60" y2="746.14" stroke="#8c8c8c" stroke-width="0.9"/>
<line x1="298.60" y1="729.96" x2="301.60" y2="729.96" stroke="#8c8c8c" stroke-width="0.9"/>
<line x1="298.60" y1="713.78" x2="301.60" y2="713.78" stroke="#8c8c8c" stroke-width="0.9"/>
<text x="295.00" y="716.33" font-size="7.3" text-anchor="end">8</text>
<text x="295.00" y="732.51" font-size="7.3" text-anchor="end">6</text>
<text x="295.00" y="748.69" font-size="7.3" text-anchor="end">4</text>
<text x="295.00" y="764.88" font-size="7.3" text-anchor="end">2</text>
<text x="295.00" y="781.05" font-size="7.3" text-anchor="end">0</text>
<rect x="316.10" y="770.60" width="28.50" height="7.90" fill="#ff0000"/>
<polyline points="316.10,778.50 316.10,770.60 344.60,770.60 344.60,778.50" fill="none" stroke="#000" stroke-width="0.9"/>
<rect x="359.70" y="744.00" width="28.80" height="34.50" fill="#0000ff"/>
<polyline points="359.70,778.50 359.70,744.00 388.50,744.00 388.50,778.50" fill="none" stroke="#000" stroke-width="0.9"/>
<line x1="298.60" y1="778.50" x2="401.30" y2="778.50" stroke="#8c8c8c" stroke-width="0.9"/>
<line x1="329.60" y1="778.50" x2="329.60" y2="781.50" stroke="#aaa" stroke-width="0.9"/>
<line x1="374.00" y1="778.50" x2="374.00" y2="781.50" stroke="#aaa" stroke-width="0.9"/>
<polyline points="329.60,757.70 329.60,722.20 374.00,722.20 374.00,729.20" fill="none" stroke="#8c8c8c" stroke-width="0.8"/>
<line x1="329.60" y1="768.00" x2="329.60" y2="773.00" stroke="#000" stroke-width="1.0"/>
<line x1="326.40" y1="768.00" x2="332.80" y2="768.00" stroke="#000" stroke-width="1.0"/>
<line x1="326.40" y1="773.00" x2="332.80" y2="773.00" stroke="#000" stroke-width="1.0"/>
<line x1="374.00" y1="739.00" x2="374.00" y2="748.40" stroke="#000" stroke-width="1.0"/>
<line x1="370.80" y1="739.00" x2="377.20" y2="739.00" stroke="#000" stroke-width="1.0"/>
<line x1="370.80" y1="748.40" x2="377.20" y2="748.40" stroke="#000" stroke-width="1.0"/>
<circle cx="329.60" cy="764.30" r="1.85" fill="#fff" stroke="#000" stroke-width="0.9"/>
<circle cx="323.50" cy="769.90" r="1.85" fill="#fff" stroke="#000" stroke-width="0.9"/>
<circle cx="330.50" cy="771.30" r="1.85" fill="#fff" stroke="#000" stroke-width="0.9"/>
<circle cx="337.10" cy="772.20" r="1.85" fill="#fff" stroke="#000" stroke-width="0.9"/>
<circle cx="323.50" cy="775.30" r="1.85" fill="#fff" stroke="#000" stroke-width="0.9"/>
<circle cx="374.00" cy="731.60" r="1.85" fill="#fff" stroke="#000" stroke-width="0.9"/>
<circle cx="374.00" cy="736.70" r="1.85" fill="#fff" stroke="#000" stroke-width="0.9"/>
<circle cx="371.00" cy="743.70" r="1.85" fill="#fff" stroke="#000" stroke-width="0.9"/>
<circle cx="377.30" cy="746.80" r="1.85" fill="#fff" stroke="#000" stroke-width="0.9"/>
<circle cx="374.00" cy="758.90" r="1.85" fill="#fff" stroke="#000" stroke-width="0.9"/>
<text x="331.20" y="717.60" font-size="8.2" textLength="44.90" lengthAdjust="spacingAndGlyphs"><tspan font-style="italic">P</tspan> = 0.0006</text>
<text x="404.40" y="780.60" font-size="8.2" textLength="15.00" lengthAdjust="spacingAndGlyphs">kDa</text>
<rect x="301.60" y="783.00" width="102.10" height="18.40" fill="rgb(224,224,224)"/>
<rect x="302.60" y="783.00" width="8.21" height="18.40" fill="rgb(217,217,217)" filter="url(#blur2)"/>
<rect x="312.81" y="783.00" width="8.21" height="18.40" fill="rgb(218,218,218)" filter="url(#blur2)"/>
<rect x="323.02" y="783.00" width="8.21" height="18.40" fill="rgb(221,221,221)" filter="url(#blur2)"/>
<rect x="333.23" y="783.00" width="8.21" height="18.40" fill="rgb(225,225,225)" filter="url(#blur2)"/>
<rect x="343.44" y="783.00" width="8.21" height="18.40" fill="rgb(218,218,218)" filter="url(#blur2)"/>
<rect x="353.65" y="783.00" width="8.21" height="18.40" fill="rgb(218,218,218)" filter="url(#blur2)"/>
<rect x="363.86" y="783.00" width="8.21" height="18.40" fill="rgb(219,219,219)" filter="url(#blur2)"/>
<rect x="374.07" y="783.00" width="8.21" height="18.40" fill="rgb(226,226,226)" filter="url(#blur2)"/>
<rect x="384.28" y="783.00" width="8.21" height="18.40" fill="rgb(218,218,218)" filter="url(#blur2)"/>
<rect x="394.49" y="783.00" width="8.21" height="18.40" fill="rgb(225,225,225)" filter="url(#blur2)"/>
<g filter="url(#blur2)">
<rect x="302.80" y="788.35" width="7.81" height="6.50" fill="rgb(225,225,225)"/>
<rect x="313.01" y="788.35" width="7.81" height="6.50" fill="rgb(231,231,231)"/>
<rect x="323.22" y="788.35" width="7.81" height="6.50" fill="rgb(221,221,221)"/>
<rect x="333.43" y="788.35" width="7.81" height="6.50" fill="rgb(235,235,235)"/>
<rect x="343.64" y="788.35" width="7.81" height="6.50" fill="rgb(227,227,227)"/>
<rect x="353.85" y="788.35" width="7.81" height="6.50" fill="rgb(209,209,209)"/>
<rect x="364.06" y="788.35" width="7.81" height="6.50" fill="rgb(201,201,201)"/>
<rect x="374.27" y="788.35" width="7.81" height="6.50" fill="rgb(201,201,201)"/>
<rect x="384.48" y="788.35" width="7.81" height="6.50" fill="rgb(195,195,195)"/>
<rect x="394.69" y="788.35" width="7.81" height="6.50" fill="rgb(199,199,199)"/>
</g>
<rect x="301.60" y="783.00" width="102.10" height="18.40" fill="none" stroke="#686868" stroke-width="1.1" rx="0.8"/>
<rect x="301.60" y="804.90" width="102.10" height="18.70" fill="rgb(232,232,232)"/>
<rect x="302.60" y="804.90" width="8.21" height="18.70" fill="rgb(225,225,225)" filter="url(#blur2)"/>
<rect x="312.81" y="804.90" width="8.21" height="18.70" fill="rgb(227,227,227)" filter="url(#blur2)"/>
<rect x="323.02" y="804.90" width="8.21" height="18.70" fill="rgb(228,228,228)" filter="url(#blur2)"/>
<rect x="333.23" y="804.90" width="8.21" height="18.70" fill="rgb(235,235,235)" filter="url(#blur2)"/>
<rect x="343.44" y="804.90" width="8.21" height="18.70" fill="rgb(230,230,230)" filter="url(#blur2)"/>
<rect x="353.65" y="804.90" width="8.21" height="18.70" fill="rgb(233,233,233)" filter="url(#blur2)"/>
<rect x="363.86" y="804.90" width="8.21" height="18.70" fill="rgb(226,226,226)" filter="url(#blur2)"/>
<rect x="374.07" y="804.90" width="8.21" height="18.70" fill="rgb(231,231,231)" filter="url(#blur2)"/>
<rect x="384.28" y="804.90" width="8.21" height="18.70" fill="rgb(235,235,235)" filter="url(#blur2)"/>
<rect x="394.49" y="804.90" width="8.21" height="18.70" fill="rgb(231,231,231)" filter="url(#blur2)"/>
<g filter="url(#blur2)">
<rect x="302.80" y="813.00" width="7.81" height="2.60" fill="rgb(157,157,157)"/>
<rect x="313.01" y="813.00" width="7.81" height="2.60" fill="rgb(163,163,163)"/>
<rect x="323.22" y="813.00" width="7.81" height="2.60" fill="rgb(151,151,151)"/>
<rect x="333.43" y="813.00" width="7.81" height="2.60" fill="rgb(157,157,157)"/>
<rect x="343.64" y="813.00" width="7.81" height="2.60" fill="rgb(155,155,155)"/>
<rect x="353.85" y="813.00" width="7.81" height="2.60" fill="rgb(151,151,151)"/>
<rect x="364.06" y="813.00" width="7.81" height="2.60" fill="rgb(157,157,157)"/>
<rect x="374.27" y="813.00" width="7.81" height="2.60" fill="rgb(155,155,155)"/>
<rect x="384.48" y="813.00" width="7.81" height="2.60" fill="rgb(155,155,155)"/>
<rect x="394.69" y="813.00" width="7.81" height="2.60" fill="rgb(151,151,151)"/>
</g>
<rect x="301.60" y="804.90" width="102.10" height="18.70" fill="none" stroke="#686868" stroke-width="1.1" rx="0.8"/>
<text x="297.80" y="795.60" font-size="8.2" text-anchor="end">CPT1α</text>
<text x="297.80" y="819.00" font-size="8.2" text-anchor="end" textLength="28.50" lengthAdjust="spacingAndGlyphs">GAPDH</text>
<text x="407.60" y="795.60" font-size="8.2">88</text>
<text x="407.60" y="819.00" font-size="8.2">37</text>
<line x1="309.10" y1="828.30" x2="344.10" y2="828.30" stroke="#999" stroke-width="0.9"/>
<line x1="359.30" y1="828.30" x2="393.80" y2="828.30" stroke="#999" stroke-width="0.9"/>
<text x="327.00" y="839.50" font-size="8.2" text-anchor="middle">GFP</text>
<text x="376.10" y="839.50" font-size="8.2" text-anchor="middle" textLength="20.50" lengthAdjust="spacingAndGlyphs">AGXT</text>
<line x1="313.30" y1="843.50" x2="390.30" y2="843.50" stroke="#777" stroke-width="0.9"/>
<text x="354.60" y="853.00" font-size="8.2" text-anchor="middle">PA</text>
<text x="282.70" y="746.80" font-size="8.2" text-anchor="middle" textLength="44.40" lengthAdjust="spacingAndGlyphs" transform="rotate(-90 282.70 746.80)">Fold CPT1α</text>
<text transform="translate(440.40 713.50) scale(1.07 1)" font-size="11.5" font-weight="bold" fill="#000" stroke="#000" stroke-width="0.3">q</text>
<line x1="477.90" y1="716.20" x2="477.90" y2="821.30" stroke="#b0b0b0" stroke-width="0.9"/>
<line x1="474.90" y1="821.30" x2="477.90" y2="821.30" stroke="#b0b0b0" stroke-width="0.9"/>
<line x1="474.90" y1="800.28" x2="477.90" y2="800.28" stroke="#b0b0b0" stroke-width="0.9"/>
<line x1="474.90" y1="779.26" x2="477.90" y2="779.26" stroke="#b0b0b0" stroke-width="0.9"/>
<line x1="474.90" y1="758.24" x2="477.90" y2="758.24" stroke="#b0b0b0" stroke-width="0.9"/>
<line x1="474.90" y1="737.22" x2="477.90" y2="737.22" stroke="#b0b0b0" stroke-width="0.9"/>
<line x1="474.90" y1="716.20" x2="477.90" y2="716.20" stroke="#b0b0b0" stroke-width="0.9"/>
<text x="470.20" y="718.75" font-size="7.3" text-anchor="end">5</text>
<text x="470.20" y="739.77" font-size="7.3" text-anchor="end">4</text>
<text x="470.20" y="760.79" font-size="7.3" text-anchor="end">3</text>
<text x="470.20" y="781.81" font-size="7.3" text-anchor="end">2</text>
<text x="470.20" y="802.83" font-size="7.3" text-anchor="end">1</text>
<text x="470.20" y="823.85" font-size="7.3" text-anchor="end">0</text>
<line x1="477.90" y1="821.30" x2="676.50" y2="821.30" stroke="#8c8c8c" stroke-width="0.9"/>
<line x1="477.90" y1="821.30" x2="477.90" y2="824.30" stroke="#8c8c8c" stroke-width="0.9"/>
<line x1="577.20" y1="821.30" x2="577.20" y2="824.30" stroke="#8c8c8c" stroke-width="0.9"/>
<line x1="676.50" y1="821.30" x2="676.50" y2="824.30" stroke="#8c8c8c" stroke-width="0.9"/>
<line x1="527.55" y1="821.30" x2="527.55" y2="823.30" stroke="#bbb" stroke-width="0.9"/>
<line x1="626.85" y1="821.30" x2="626.85" y2="823.30" stroke="#bbb" stroke-width="0.9"/>
<text x="477.90" y="833.00" font-size="7.3" text-anchor="middle">0</text>
<text x="577.50" y="834.00" font-size="7.3" text-anchor="middle">50</text>
<text x="675.50" y="834.00" font-size="7.3" text-anchor="middle">100</text>
<text x="556.50" y="847.00" font-size="8.2" textLength="41.70" lengthAdjust="spacingAndGlyphs">Time (min)</text>
<line x1="514.60" y1="746.10" x2="514.60" y2="821.30" stroke="#222" stroke-width="0.8" stroke-dasharray="2,1.6"/>
<line x1="565.50" y1="729.20" x2="565.50" y2="821.30" stroke="#222" stroke-width="0.8" stroke-dasharray="2,1.6"/>
<line x1="615.60" y1="729.20" x2="615.60" y2="821.30" stroke="#222" stroke-width="0.8" stroke-dasharray="2,1.6"/>
<text x="494.30" y="742.60" font-size="8.2" textLength="46.70" lengthAdjust="spacingAndGlyphs">Oligomycin</text>
<text x="554.30" y="725.50" font-size="8.2" textLength="21.70" lengthAdjust="spacingAndGlyphs">FCCP</text>
<text x="608.80" y="729.20" font-size="8.2" textLength="14.20" lengthAdjust="spacingAndGlyphs">R/A</text>
<line x1="480.70" y1="774.30" x2="480.70" y2="782.30" stroke="#ff0000" stroke-width="0.9"/>
<line x1="478.90" y1="774.30" x2="482.50" y2="774.30" stroke="#ff0000" stroke-width="0.9"/>
<line x1="478.90" y1="782.30" x2="482.50" y2="782.30" stroke="#ff0000" stroke-width="0.9"/>
<line x1="497.60" y1="776.40" x2="497.60" y2="783.40" stroke="#ff0000" stroke-width="0.9"/>
<line x1="495.80" y1="776.40" x2="499.40" y2="776.40" stroke="#ff0000" stroke-width="0.9"/>
<line x1="495.80" y1="783.40" x2="499.40" y2="783.40" stroke="#ff0000" stroke-width="0.9"/>
<line x1="514.60" y1="777.60" x2="514.60" y2="784.60" stroke="#ff0000" stroke-width="0.9"/>
<line x1="512.80" y1="777.60" x2="516.40" y2="777.60" stroke="#ff0000" stroke-width="0.9"/>
<line x1="512.80" y1="784.60" x2="516.40" y2="784.60" stroke="#ff0000" stroke-width="0.9"/>
<line x1="531.70" y1="782.80" x2="531.70" y2="787.80" stroke="#ff0000" stroke-width="0.9"/>
<line x1="529.90" y1="782.80" x2="533.50" y2="782.80" stroke="#ff0000" stroke-width="0.9"/>
<line x1="529.90" y1="787.80" x2="533.50" y2="787.80" stroke="#ff0000" stroke-width="0.9"/>
<line x1="548.50" y1="782.80" x2="548.50" y2="787.80" stroke="#ff0000" stroke-width="0.9"/>
<line x1="546.70" y1="782.80" x2="550.30" y2="782.80" stroke="#ff0000" stroke-width="0.9"/>
<line x1="546.70" y1="787.80" x2="550.30" y2="787.80" stroke="#ff0000" stroke-width="0.9"/>
<line x1="565.50" y1="783.30" x2="565.50" y2="788.30" stroke="#ff0000" stroke-width="0.9"/>
<line x1="563.70" y1="783.30" x2="567.30" y2="783.30" stroke="#ff0000" stroke-width="0.9"/>
<line x1="563.70" y1="788.30" x2="567.30" y2="788.30" stroke="#ff0000" stroke-width="0.9"/>
<line x1="582.30" y1="768.50" x2="582.30" y2="779.50" stroke="#ff0000" stroke-width="0.9"/>
<line x1="580.50" y1="768.50" x2="584.10" y2="768.50" stroke="#ff0000" stroke-width="0.9"/>
<line x1="580.50" y1="779.50" x2="584.10" y2="779.50" stroke="#ff0000" stroke-width="0.9"/>
<line x1="599.30" y1="770.30" x2="599.30" y2="780.30" stroke="#ff0000" stroke-width="0.9"/>
<line x1="597.50" y1="770.30" x2="601.10" y2="770.30" stroke="#ff0000" stroke-width="0.9"/>
<line x1="597.50" y1="780.30" x2="601.10" y2="780.30" stroke="#ff0000" stroke-width="0.9"/>
<line x1="616.20" y1="770.90" x2="616.20" y2="780.90" stroke="#ff0000" stroke-width="0.9"/>
<line x1="614.40" y1="770.90" x2="618.00" y2="770.90" stroke="#ff0000" stroke-width="0.9"/>
<line x1="614.40" y1="780.90" x2="618.00" y2="780.90" stroke="#ff0000" stroke-width="0.9"/>
<line x1="633.10" y1="785.30" x2="633.10" y2="790.30" stroke="#ff0000" stroke-width="0.9"/>
<line x1="631.30" y1="785.30" x2="634.90" y2="785.30" stroke="#ff0000" stroke-width="0.9"/>
<line x1="631.30" y1="790.30" x2="634.90" y2="790.30" stroke="#ff0000" stroke-width="0.9"/>
<line x1="650.10" y1="786.40" x2="650.10" y2="791.40" stroke="#ff0000" stroke-width="0.9"/>
<line x1="648.30" y1="786.40" x2="651.90" y2="786.40" stroke="#ff0000" stroke-width="0.9"/>
<line x1="648.30" y1="791.40" x2="651.90" y2="791.40" stroke="#ff0000" stroke-width="0.9"/>
<line x1="667.00" y1="787.00" x2="667.00" y2="792.00" stroke="#ff0000" stroke-width="0.9"/>
<line x1="665.20" y1="787.00" x2="668.80" y2="787.00" stroke="#ff0000" stroke-width="0.9"/>
<line x1="665.20" y1="792.00" x2="668.80" y2="792.00" stroke="#ff0000" stroke-width="0.9"/>
<line x1="480.70" y1="757.40" x2="480.70" y2="767.40" stroke="#0000ff" stroke-width="0.9"/>
<line x1="478.90" y1="757.40" x2="482.50" y2="757.40" stroke="#0000ff" stroke-width="0.9"/>
<line x1="478.90" y1="767.40" x2="482.50" y2="767.40" stroke="#0000ff" stroke-width="0.9"/>
<line x1="497.60" y1="759.30" x2="497.60" y2="769.30" stroke="#0000ff" stroke-width="0.9"/>
<line x1="495.80" y1="759.30" x2="499.40" y2="759.30" stroke="#0000ff" stroke-width="0.9"/>
<line x1="495.80" y1="769.30" x2="499.40" y2="769.30" stroke="#0000ff" stroke-width="0.9"/>
<line x1="514.60" y1="758.70" x2="514.60" y2="770.70" stroke="#0000ff" stroke-width="0.9"/>
<line x1="512.80" y1="758.70" x2="516.40" y2="758.70" stroke="#0000ff" stroke-width="0.9"/>
<line x1="512.80" y1="770.70" x2="516.40" y2="770.70" stroke="#0000ff" stroke-width="0.9"/>
<line x1="531.70" y1="776.50" x2="531.70" y2="782.50" stroke="#0000ff" stroke-width="0.9"/>
<line x1="529.90" y1="776.50" x2="533.50" y2="776.50" stroke="#0000ff" stroke-width="0.9"/>
<line x1="529.90" y1="782.50" x2="533.50" y2="782.50" stroke="#0000ff" stroke-width="0.9"/>
<line x1="548.50" y1="776.50" x2="548.50" y2="782.50" stroke="#0000ff" stroke-width="0.9"/>
<line x1="546.70" y1="776.50" x2="550.30" y2="776.50" stroke="#0000ff" stroke-width="0.9"/>
<line x1="546.70" y1="782.50" x2="550.30" y2="782.50" stroke="#0000ff" stroke-width="0.9"/>
<line x1="565.50" y1="776.50" x2="565.50" y2="782.50" stroke="#0000ff" stroke-width="0.9"/>
<line x1="563.70" y1="776.50" x2="567.30" y2="776.50" stroke="#0000ff" stroke-width="0.9"/>
<line x1="563.70" y1="782.50" x2="567.30" y2="782.50" stroke="#0000ff" stroke-width="0.9"/>
<line x1="582.30" y1="732.40" x2="582.30" y2="748.40" stroke="#0000ff" stroke-width="0.9"/>
<line x1="580.50" y1="732.40" x2="584.10" y2="732.40" stroke="#0000ff" stroke-width="0.9"/>
<line x1="580.50" y1="748.40" x2="584.10" y2="748.40" stroke="#0000ff" stroke-width="0.9"/>
<line x1="599.30" y1="736.90" x2="599.30" y2="751.90" stroke="#0000ff" stroke-width="0.9"/>
<line x1="597.50" y1="736.90" x2="601.10" y2="736.90" stroke="#0000ff" stroke-width="0.9"/>
<line x1="597.50" y1="751.90" x2="601.10" y2="751.90" stroke="#0000ff" stroke-width="0.9"/>
<line x1="616.20" y1="740.10" x2="616.20" y2="755.10" stroke="#0000ff" stroke-width="0.9"/>
<line x1="614.40" y1="740.10" x2="618.00" y2="740.10" stroke="#0000ff" stroke-width="0.9"/>
<line x1="614.40" y1="755.10" x2="618.00" y2="755.10" stroke="#0000ff" stroke-width="0.9"/>
<line x1="633.10" y1="779.80" x2="633.10" y2="784.80" stroke="#0000ff" stroke-width="0.9"/>
<line x1="631.30" y1="779.80" x2="634.90" y2="779.80" stroke="#0000ff" stroke-width="0.9"/>
<line x1="631.30" y1="784.80" x2="634.90" y2="784.80" stroke="#0000ff" stroke-width="0.9"/>
<line x1="650.10" y1="781.90" x2="650.10" y2="786.90" stroke="#0000ff" stroke-width="0.9"/>
<line x1="648.30" y1="781.90" x2="651.90" y2="781.90" stroke="#0000ff" stroke-width="0.9"/>
<line x1="648.30" y1="786.90" x2="651.90" y2="786.90" stroke="#0000ff" stroke-width="0.9"/>
<line x1="667.00" y1="782.80" x2="667.00" y2="787.80" stroke="#0000ff" stroke-width="0.9"/>
<line x1="665.20" y1="782.80" x2="668.80" y2="782.80" stroke="#0000ff" stroke-width="0.9"/>
<line x1="665.20" y1="787.80" x2="668.80" y2="787.80" stroke="#0000ff" stroke-width="0.9"/>
<polyline points="480.70,778.30 497.60,779.90 514.60,781.10 531.70,785.30 548.50,785.30 565.50,785.80 582.30,774.00 599.30,775.30 616.20,775.90 633.10,787.80 650.10,788.90 667.00,789.50" fill="none" stroke="#ff0000" stroke-width="1.45" stroke-linejoin="round"/>
<polyline points="480.70,762.40 497.60,764.30 514.60,764.70 531.70,779.50 548.50,779.50 565.50,779.50 582.30,740.40 599.30,744.40 616.20,747.60 633.10,782.30 650.10,784.40 667.00,785.30" fill="none" stroke="#0000ff" stroke-width="1.45" stroke-linejoin="round"/>
<circle cx="480.70" cy="778.30" r="2.4" fill="#fff" stroke="#000" stroke-width="1.0"/>
<circle cx="497.60" cy="779.90" r="2.4" fill="#fff" stroke="#000" stroke-width="1.0"/>
<circle cx="514.60" cy="781.10" r="2.4" fill="#fff" stroke="#000" stroke-width="1.0"/>
<circle cx="531.70" cy="785.30" r="2.4" fill="#fff" stroke="#000" stroke-width="1.0"/>
<circle cx="548.50" cy="785.30" r="2.4" fill="#fff" stroke="#000" stroke-width="1.0"/>
<circle cx="565.50" cy="785.80" r="2.4" fill="#fff" stroke="#000" stroke-width="1.0"/>
<circle cx="582.30" cy="774.00" r="2.4" fill="#fff" stroke="#000" stroke-width="1.0"/>
<circle cx="599.30" cy="775.30" r="2.4" fill="#fff" stroke="#000" stroke-width="1.0"/>
<circle cx="616.20" cy="775.90" r="2.4" fill="#fff" stroke="#000" stroke-width="1.0"/>
<circle cx="633.10" cy="787.80" r="2.4" fill="#fff" stroke="#000" stroke-width="1.0"/>
<circle cx="650.10" cy="788.90" r="2.4" fill="#fff" stroke="#000" stroke-width="1.0"/>
<circle cx="667.00" cy="789.50" r="2.4" fill="#fff" stroke="#000" stroke-width="1.0"/>
<circle cx="480.70" cy="762.40" r="2.4" fill="#fff" stroke="#000" stroke-width="1.0"/>
<circle cx="497.60" cy="764.30" r="2.4" fill="#fff" stroke="#000" stroke-width="1.0"/>
<circle cx="514.60" cy="764.70" r="2.4" fill="#fff" stroke="#000" stroke-width="1.0"/>
<circle cx="531.70" cy="779.50" r="2.4" fill="#fff" stroke="#000" stroke-width="1.0"/>
<circle cx="548.50" cy="779.50" r="2.4" fill="#fff" stroke="#000" stroke-width="1.0"/>
<circle cx="565.50" cy="779.50" r="2.4" fill="#fff" stroke="#000" stroke-width="1.0"/>
<circle cx="582.30" cy="740.40" r="2.4" fill="#fff" stroke="#000" stroke-width="1.0"/>
<circle cx="599.30" cy="744.40" r="2.4" fill="#fff" stroke="#000" stroke-width="1.0"/>
<circle cx="616.20" cy="747.60" r="2.4" fill="#fff" stroke="#000" stroke-width="1.0"/>
<circle cx="633.10" cy="782.30" r="2.4" fill="#fff" stroke="#000" stroke-width="1.0"/>
<circle cx="650.10" cy="784.40" r="2.4" fill="#fff" stroke="#000" stroke-width="1.0"/>
<circle cx="667.00" cy="785.30" r="2.4" fill="#fff" stroke="#000" stroke-width="1.0"/>
<line x1="639.50" y1="732.80" x2="648.00" y2="732.80" stroke="#ff0000" stroke-width="1.0"/>
<text x="651.80" y="735.50" font-size="8.2">GFP</text>
<line x1="639.50" y1="744.60" x2="648.00" y2="744.60" stroke="#0000ff" stroke-width="1.0"/>
<text x="651.80" y="747.30" font-size="8.2" textLength="20.50" lengthAdjust="spacingAndGlyphs">AGXT</text>
<line x1="637.00" y1="752.40" x2="678.70" y2="752.40" stroke="#777" stroke-width="0.9"/>
<text x="657.50" y="761.50" font-size="8.2" text-anchor="middle">PA</text>
<text x="448.50" y="768.80" font-size="8.2" text-anchor="middle" textLength="17.00" lengthAdjust="spacingAndGlyphs" transform="rotate(-90 448.50 768.80)">OCR</text>
<text x="457.80" y="768.80" font-size="8.2" text-anchor="middle" textLength="108.60" lengthAdjust="spacingAndGlyphs" transform="rotate(-90 457.80 768.80)">(pmol min<tspan dy="-3" font-size="5.6">−1</tspan><tspan dy="3"> per µg protein)</tspan></text></svg></body></html>
